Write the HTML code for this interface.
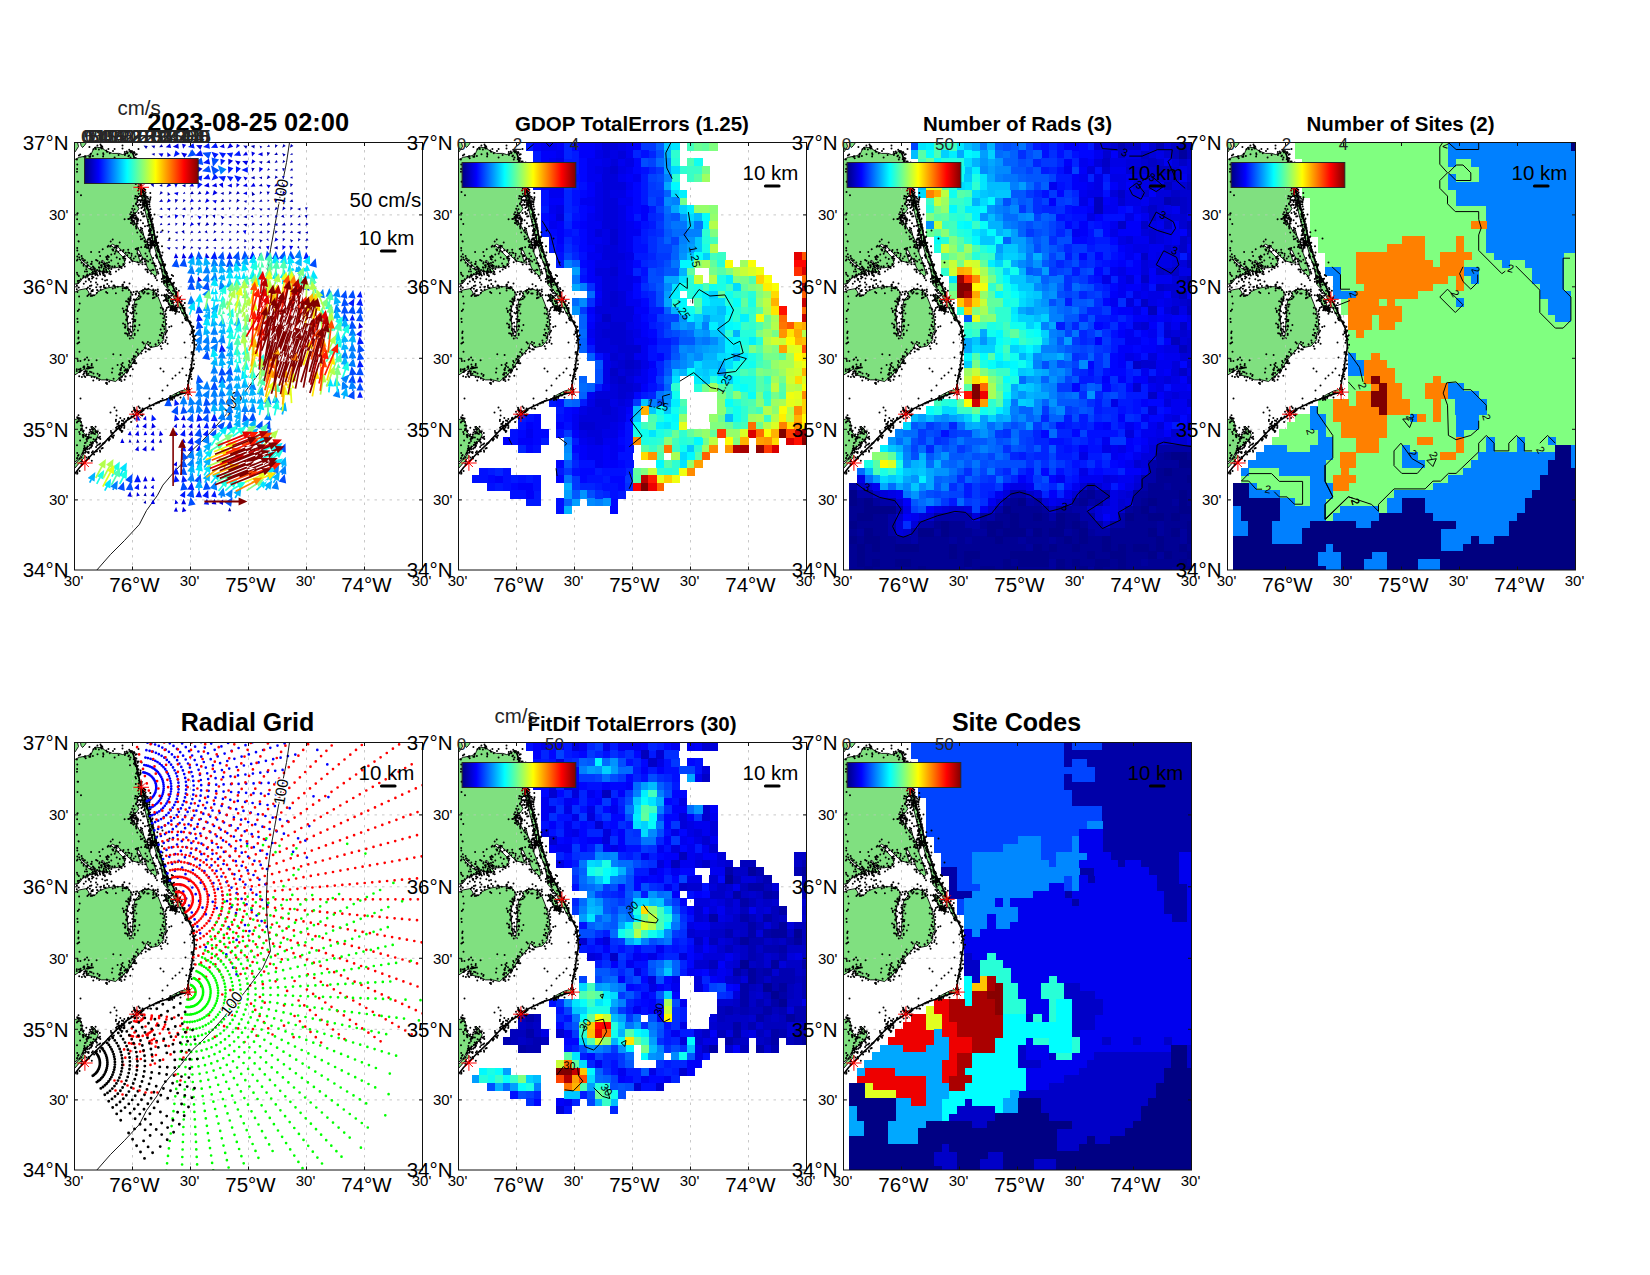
<!DOCTYPE html><html><head><meta charset="utf-8"><title>figure</title>
<style>html,body{margin:0;padding:0;background:#fff}svg{display:block}text{font-family:"Liberation Sans",sans-serif}</style></head><body>
<svg width="1650" height="1275" viewBox="0 0 1650 1275">
<defs>
<linearGradient id="jet" x1="0" x2="1" y1="0" y2="0"><stop offset="0.0000" stop-color="#000080"/><stop offset="0.0312" stop-color="#00009f"/><stop offset="0.0625" stop-color="#0000bf"/><stop offset="0.0938" stop-color="#0000df"/><stop offset="0.1250" stop-color="#0000ff"/><stop offset="0.1562" stop-color="#0020ff"/><stop offset="0.1875" stop-color="#0040ff"/><stop offset="0.2188" stop-color="#0060ff"/><stop offset="0.2500" stop-color="#0080ff"/><stop offset="0.2812" stop-color="#009fff"/><stop offset="0.3125" stop-color="#00bfff"/><stop offset="0.3438" stop-color="#00dfff"/><stop offset="0.3750" stop-color="#00ffff"/><stop offset="0.4062" stop-color="#20ffdf"/><stop offset="0.4375" stop-color="#40ffbf"/><stop offset="0.4688" stop-color="#60ff9f"/><stop offset="0.5000" stop-color="#80ff80"/><stop offset="0.5312" stop-color="#9fff60"/><stop offset="0.5625" stop-color="#bfff40"/><stop offset="0.5938" stop-color="#dfff20"/><stop offset="0.6250" stop-color="#ffff00"/><stop offset="0.6562" stop-color="#ffdf00"/><stop offset="0.6875" stop-color="#ffbf00"/><stop offset="0.7188" stop-color="#ff9f00"/><stop offset="0.7500" stop-color="#ff8000"/><stop offset="0.7812" stop-color="#ff6000"/><stop offset="0.8125" stop-color="#ff4000"/><stop offset="0.8438" stop-color="#ff2000"/><stop offset="0.8750" stop-color="#ff0000"/><stop offset="0.9062" stop-color="#df0000"/><stop offset="0.9375" stop-color="#bf0000"/><stop offset="0.9688" stop-color="#9f0000"/><stop offset="1.0000" stop-color="#800000"/></linearGradient>
<clipPath id="cp"><rect x="0" y="0" width="348.0" height="427.5"/></clipPath>
<clipPath id="cpl"><polygon points="0.0,17.2 4.9,14.8 12.8,13.3 16.7,11.7 19.0,6.2 21.4,4.6 27.0,5.4 31.7,8.5 38.0,10.9 44.3,10.9 48.2,12.1 53.7,9.7 57.3,8.1 59.2,13.2 63.2,29.0 66.2,44.8 66.0,52.0 63.0,56.0 62.0,62.0 64.5,66.0 62.0,70.0 58.0,72.0 57.0,77.0 60.0,80.0 63.0,84.0 66.0,90.0 67.9,87.5 69.5,93.8 72.6,100.1 74.2,105.6 75.8,111.1 78.2,117.4 80.5,124.5 82.5,131.6 81.3,134.0 75.8,129.3 72.6,124.5 71.1,119.0 67.1,113.5 64.8,108.0 62.4,107.2 63.2,111.1 64.8,116.7 68.7,119.8 66.3,120.6 58.5,118.6 52.2,113.5 47.4,108.0 42.7,104.0 38.0,101.7 36.4,102.9 41.1,106.4 44.3,110.4 49.0,115.1 50.6,121.4 48.2,123.7 41.1,125.3 34.0,125.3 28.5,117.8 27.0,118.2 31.7,124.5 35.6,128.5 32.5,130.4 23.0,128.5 15.9,124.5 7.2,117.4 4.5,116.7 7.2,119.0 14.3,126.1 20.6,127.7 23.0,130.4 15.1,132.4 8.8,134.8 4.9,140.3 0.0,141.9"/><polygon points="0.0,149.8 4.9,147.4 11.2,146.2 13.5,148.2 15.1,152.1 20.6,152.9 23.8,149.0 30.9,145.8 39.6,144.2 48.2,144.2 53.7,145.8 56.9,149.8 56.1,156.1 53.7,162.4 52.2,170.2 53.0,178.1 53.7,187.5 55.0,193.3 57.5,193.3 58.5,178.1 59.3,170.2 59.3,162.4 60.8,156.8 65.6,152.9 64.0,149.8 67.9,147.4 74.2,146.6 79.7,148.6 83.7,154.5 86.8,162.4 89.2,170.2 90.8,178.1 91.6,187.5 89.2,190.9 89.2,197.2 83.7,203.5 75.8,205.1 71.9,200.4 70.3,205.9 65.6,210.6 60.8,216.1 56.9,222.4 53.7,227.9 48.2,232.7 41.1,239.0 34.0,237.4 27.0,237.4 20.6,234.2 12.8,232.7 10.4,226.4 4.9,229.5 0.0,232.7"/></clipPath>
<g id="land">
<polygon points="0.0,17.2 4.9,14.8 12.8,13.3 16.7,11.7 19.0,6.2 21.4,4.6 27.0,5.4 31.7,8.5 38.0,10.9 44.3,10.9 48.2,12.1 53.7,9.7 57.3,8.1 59.2,13.2 63.2,29.0 66.2,44.8 66.0,52.0 63.0,56.0 62.0,62.0 64.5,66.0 62.0,70.0 58.0,72.0 57.0,77.0 60.0,80.0 63.0,84.0 66.0,90.0 67.9,87.5 69.5,93.8 72.6,100.1 74.2,105.6 75.8,111.1 78.2,117.4 80.5,124.5 82.5,131.6 81.3,134.0 75.8,129.3 72.6,124.5 71.1,119.0 67.1,113.5 64.8,108.0 62.4,107.2 63.2,111.1 64.8,116.7 68.7,119.8 66.3,120.6 58.5,118.6 52.2,113.5 47.4,108.0 42.7,104.0 38.0,101.7 36.4,102.9 41.1,106.4 44.3,110.4 49.0,115.1 50.6,121.4 48.2,123.7 41.1,125.3 34.0,125.3 28.5,117.8 27.0,118.2 31.7,124.5 35.6,128.5 32.5,130.4 23.0,128.5 15.9,124.5 7.2,117.4 4.5,116.7 7.2,119.0 14.3,126.1 20.6,127.7 23.0,130.4 15.1,132.4 8.8,134.8 4.9,140.3 0.0,141.9" fill="#80e080" stroke="#000" stroke-width="0.9" stroke-linejoin="round"/>
<polygon points="0.0,0.0 3.0,0.0 4.0,4.0 1.5,8.0 0.0,10.0" fill="#80e080" stroke="#000" stroke-width="0.9" stroke-linejoin="round"/>
<polygon points="6.0,0.0 12.0,0.0 10.0,3.0 8.0,5.0 6.5,3.0" fill="#80e080" stroke="#000" stroke-width="0.9" stroke-linejoin="round"/>
<polygon points="0.0,149.8 4.9,147.4 11.2,146.2 13.5,148.2 15.1,152.1 20.6,152.9 23.8,149.0 30.9,145.8 39.6,144.2 48.2,144.2 53.7,145.8 56.9,149.8 56.1,156.1 53.7,162.4 52.2,170.2 53.0,178.1 53.7,187.5 55.0,193.3 57.5,193.3 58.5,178.1 59.3,170.2 59.3,162.4 60.8,156.8 65.6,152.9 64.0,149.8 67.9,147.4 74.2,146.6 79.7,148.6 83.7,154.5 86.8,162.4 89.2,170.2 90.8,178.1 91.6,187.5 89.2,190.9 89.2,197.2 83.7,203.5 75.8,205.1 71.9,200.4 70.3,205.9 65.6,210.6 60.8,216.1 56.9,222.4 53.7,227.9 48.2,232.7 41.1,239.0 34.0,237.4 27.0,237.4 20.6,234.2 12.8,232.7 10.4,226.4 4.9,229.5 0.0,232.7" fill="#80e080" stroke="#000" stroke-width="0.9" stroke-linejoin="round"/>
<polygon points="0.0,277.2 4.9,275.6 7.2,281.1 8.0,289.0 12.8,294.5 18.3,289.0 17.5,283.5 21.4,287.4 23.8,292.2 20.6,298.5 15.1,303.2 9.6,307.9 4.9,315.8 0.0,319.8" fill="#80e080" stroke="#000" stroke-width="0.9" stroke-linejoin="round"/>
<polygon points="0.0,322.0 9.0,312.0 11.0,313.5 0.0,326.0" fill="#80e080" stroke="#000" stroke-width="0.9" stroke-linejoin="round"/>
<polygon points="89.2,152.9 93.9,152.9 97.9,156.8 99.4,163.2 101.8,170.2 96.3,166.3 93.9,160.8 91.6,156.1" fill="#80e080" stroke="#000" stroke-width="0.9" stroke-linejoin="round"/>
<polygon points="66.7,44.8 71.1,56.6 75.0,72.3 79.0,88.1 81.3,97.5 85.3,111.1 91.6,131.6 98.6,144.2 103.4,155.3 108.9,166.3 113.6,177.5 112.6,179.0 106.5,168.0 100.5,157.0 95.5,148.2 89.2,141.9 88.4,134.8 86.8,125.3 82.9,115.1 79.0,101.0 76.0,90.0 72.5,76.0 69.0,62.0 66.5,52.0" fill="#80e080" stroke="#000" stroke-width="0.9" stroke-linejoin="round"/>
<polygon points="113.6,242.9 114.8,249.6 107.3,251.2 99.4,253.9 91.6,257.1 99.0,252.0 106.0,248.5 111.5,247.0" fill="#80e080" stroke="#000" stroke-width="0.9" stroke-linejoin="round"/>
<polyline points="57.3,8.1 59.2,13.2 63.2,29.0 66.7,44.8 71.1,56.6 75.0,72.3 79.0,88.1 81.3,97.5 85.3,111.1 91.6,131.6 98.6,144.2 103.4,155.3 108.9,166.3 113.6,177.5 117.6,185.4 119.5,197.2 119.9,205.1 118.4,213.0 116.8,224.8 114.4,236.6 113.6,242.9 114.4,249.6 107.3,251.2 99.4,253.9 91.6,257.1 83.7,259.5 75.8,263.4 67.9,267.3 62.4,271.7 52.2,278.0 40.3,289.0 28.5,301.6 16.7,312.7 4.9,325.3 0.0,331.6" fill="none" stroke="#000" stroke-width="1.6"/>
<path d="M78.6 115.6h0M32.7 9.3h0M27.1 5.9h0M64.9 113.8h0M63.2 107.0h0M58.9 63.4h0M35.8 129.5h0M22.9 3.0h0M63.9 26.7h0M30.2 132.8h0M31.8 8.1h0M9.2 121.7h0M34.5 125.9h0M37.7 124.0h0M18.9 134.8h0M54.5 12.9h0M62.6 29.5h0M17.1 121.6h0M30.1 122.0h0M2.8 107.9h0M22.6 127.6h0M32.7 129.3h0M66.0 94.0h0M10.7 13.8h0M62.2 11.8h0M60.2 19.5h0M2.5 92.3h0M52.8 112.7h0M87.4 127.3h0M64.0 30.6h0M55.6 71.8h0M66.3 85.3h0M72.9 129.2h0M3.1 116.9h0M18.4 124.1h0M4.7 138.2h0M70.7 121.7h0M35.6 129.4h0M63.5 62.7h0M26.4 5.1h0M50.8 11.3h0M58.8 82.3h0M64.0 6.6h0M57.9 118.8h0M50.4 12.4h0M50.2 113.7h0M2.6 26.5h0M62.1 85.6h0M78.4 120.4h0M2.8 22.1h0M36.2 103.5h0M14.8 14.3h0M8.3 116.2h0M6.5 52.8h0M81.1 135.4h0M65.3 57.8h0M24.9 127.8h0M24.4 124.7h0M13.4 132.7h0M63.1 20.2h0M3.0 132.0h0M49.4 115.8h0M70.7 99.4h0M61.5 84.2h0M40.1 123.8h0M42.1 105.4h0M70.8 47.2h0M61.3 41.6h0M48.8 122.6h0M50.3 118.1h0M50.2 123.9h0M12.1 133.0h0M25.1 119.7h0M2.4 117.9h0M57.3 113.2h0M55.2 119.8h0M63.3 23.2h0M35.3 10.8h0M17.3 119.2h0M62.7 27.1h0M67.1 19.9h0M66.9 65.4h0M54.8 110.5h0M61.5 36.1h0M80.1 123.0h0M19.8 127.1h0M67.4 117.2h0M31.2 124.9h0M52.8 10.8h0M66.7 104.7h0M65.9 87.9h0M44.8 123.3h0M26.6 3.3h0M38.5 8.4h0M4.4 133.5h0M33.9 6.5h0M73.7 118.9h0M67.1 90.2h0M58.8 74.7h0M24.4 7.1h0M73.4 100.1h0M45.7 107.8h0M9.8 14.3h0M20.4 128.7h0M56.1 115.3h0M10.4 117.8h0M67.7 115.7h0M64.1 19.0h0M61.9 82.8h0M2.7 105.4h0M68.6 92.1h0M64.2 122.0h0M70.5 83.8h0M48.9 121.5h0M73.9 104.8h0M71.0 127.1h0M62.7 56.3h0M66.2 87.4h0M21.4 6.4h0M56.6 69.7h0M12.5 129.1h0M2.5 29.3h0M34.8 131.3h0M45.2 100.0h0M9.5 118.1h0M18.4 13.4h0M54.7 7.2h0M30.9 123.7h0M53.8 110.1h0M12.8 132.1h0M25.1 129.2h0M62.0 81.2h0M21.7 131.8h0M51.3 110.2h0M29.1 121.0h0M62.6 31.2h0M72.8 101.8h0M28.7 10.7h0M4.8 115.1h0M33.9 103.3h0M59.7 9.9h0M65.8 113.6h0M68.0 121.7h0M55.5 22.8h0M61.9 15.9h0M74.2 102.4h0M75.1 108.2h0M15.4 131.4h0M67.9 96.2h0M62.9 111.0h0M52.3 8.9h0M40.3 104.7h0M3.6 39.2h0M40.2 124.6h0M49.0 115.0h0M17.6 130.3h0M29.2 130.6h0M78.9 127.4h0M70.1 99.0h0M65.9 39.6h0M2.8 70.9h0M62.0 23.6h0M81.4 123.4h0M57.4 80.8h0M13.0 133.8h0M37.9 106.9h0M28.6 14.0h0M56.0 14.9h0M56.4 80.4h0M3.1 39.3h0M15.8 14.3h0M4.3 111.7h0M59.9 79.7h0M36.2 99.0h0M13.6 123.1h0M63.1 119.7h0M28.3 130.9h0M57.4 77.0h0M59.6 9.7h0M36.8 126.5h0M32.5 120.4h0M65.6 118.5h0M62.1 77.2h0M76.6 104.0h0M12.2 123.8h0M18.9 124.4h0M16.0 12.3h0M11.8 124.3h0M19.4 130.8h0M61.1 75.2h0M73.9 96.0h0M66.5 52.1h0M19.6 125.4h0M73.1 127.3h0M62.8 24.2h0M75.8 117.3h0M27.9 129.0h0M79.9 121.1h0M20.9 132.6h0M73.3 129.7h0M67.2 39.3h0M82.7 127.2h0M20.6 5.3h0M2.6 76.8h0M23.0 11.8h0M61.8 76.9h0M78.4 127.3h0M29.4 125.9h0M75.0 108.8h0M15.3 131.7h0M61.0 113.9h0M72.5 127.0h0M49.0 107.4h0M3.3 138.5h0M72.6 113.7h0M40.1 15.0h0M58.9 78.5h0M46.3 124.2h0M44.1 12.6h0M9.1 123.3h0M62.3 106.1h0M18.4 129.0h0M60.1 10.5h0M44.2 127.0h0M63.5 57.4h0M66.0 28.0h0M70.4 118.9h0M41.8 108.0h0M25.6 128.7h0M57.1 111.3h0M61.1 17.8h0M40.3 124.2h0M3.7 140.6h0M30.6 121.3h0M80.1 133.4h0M58.1 79.3h0M65.0 57.8h0M13.1 123.5h0M63.6 54.5h0M32.5 9.2h0M48.6 115.4h0M63.6 33.6h0M66.4 96.7h0M72.2 105.3h0M71.0 102.4h0M82.5 137.8h0M68.3 58.0h0M63.7 105.4h0M4.4 13.0h0M3.1 70.8h0M76.6 131.2h0M62.8 89.9h0M50.3 9.4h0M3.0 49.4h0M27.7 4.0h0M64.6 32.4h0M71.0 111.1h0M66.7 49.5h0M35.7 104.0h0M57.3 72.7h0M14.9 4.6h0M19.0 6.8h0M27.4 119.8h0M70.4 104.6h0M61.2 106.5h0M68.1 116.4h0M49.4 114.3h0M56.8 117.2h0M65.7 113.2h0M43.4 103.5h0M40.1 6.4h0M42.0 103.3h0M76.6 128.0h0M4.2 99.0h0M2.5 130.2h0M53.7 107.3h0M66.1 31.0h0M28.9 11.9h0M65.7 32.0h0M41.7 104.3h0M69.4 51.6h0M12.8 120.0h0M2.4 142.7h0M30.4 133.7h0M45.3 116.5h0M56.5 9.9h0M72.0 118.0h0M6.3 136.7h0M23.3 132.9h0M55.9 75.2h0M35.3 123.4h0M2.4 17.1h0M26.5 122.7h0M24.7 128.8h0M83.8 131.0h0M60.0 66.7h0M60.5 56.0h0M62.7 19.1h0M66.0 30.1h0M67.7 86.3h0M47.1 125.6h0M70.5 116.5h0M59.4 78.3h0M41.0 109.3h0M28.1 5.7h0M50.8 116.2h0M60.9 53.6h0M31.6 128.6h0M73.7 105.4h0M5.7 12.0h0M59.3 116.0h0M64.0 70.4h0M16.2 11.2h0M7.1 113.6h0M61.8 86.0h0M32.5 129.7h0M57.7 66.2h0M14.7 136.6h0M77.7 120.8h0M33.5 124.1h0M7.6 115.7h0M15.9 126.1h0M61.5 61.7h0M56.0 8.6h0M62.6 24.0h0M2.8 114.0h0M25.6 131.9h0M83.3 129.6h0M4.8 81.6h0M63.0 59.4h0M53.9 13.7h0M61.4 61.0h0M11.2 15.7h0M11.8 126.8h0M32.8 122.9h0M64.6 112.5h0M7.1 120.2h0M4.0 98.8h0M67.0 39.9h0M8.9 135.0h0M43.9 109.5h0M63.7 47.9h0M69.7 94.9h0M48.3 108.7h0M29.5 143.0h0M6.0 226.2h0M72.8 151.0h0M31.0 145.6h0M51.9 177.9h0M87.6 190.4h0M50.3 184.9h0M17.0 229.7h0M60.8 157.5h0M51.6 158.7h0M74.1 202.6h0M57.3 171.1h0M57.9 152.3h0M57.8 164.9h0M61.9 171.0h0M32.5 241.4h0M31.6 149.6h0M4.4 226.9h0M51.8 167.1h0M51.9 172.9h0M77.3 143.5h0M89.5 184.2h0M51.9 144.6h0M24.7 233.6h0M73.4 199.6h0M52.4 176.7h0M9.7 223.9h0M44.6 232.1h0M58.4 170.1h0M83.4 148.9h0M59.8 220.4h0M86.3 165.3h0M49.3 232.3h0M54.7 224.4h0M91.8 181.6h0M87.1 206.2h0M69.3 201.0h0M86.2 186.9h0M83.9 198.1h0M51.5 171.6h0M18.8 238.0h0M65.8 155.0h0M79.2 147.7h0M82.1 150.9h0M58.3 195.8h0M49.8 139.8h0M55.5 220.1h0M55.6 180.3h0M59.7 216.7h0M88.8 175.7h0M48.5 142.1h0M53.3 193.3h0M53.1 191.8h0M81.9 153.4h0M69.8 150.0h0M23.2 147.9h0M11.9 231.1h0M59.4 219.1h0M38.3 146.1h0M10.1 229.0h0M53.6 228.3h0M88.1 195.5h0M55.4 186.7h0M19.5 152.8h0M87.9 182.5h0M5.0 209.2h0M86.1 171.0h0M3.3 168.5h0M61.8 220.7h0M47.6 234.2h0M4.0 194.9h0M58.1 220.5h0M61.4 151.3h0M12.5 232.8h0M78.7 152.3h0M59.6 177.3h0M91.0 190.8h0M58.4 165.2h0M68.1 199.8h0M13.5 145.1h0M86.2 203.7h0M4.6 154.1h0M63.0 206.9h0M59.3 213.4h0M46.9 238.4h0M88.7 167.0h0M58.3 162.8h0M55.3 195.9h0M55.9 170.2h0M3.2 179.5h0M17.8 153.3h0M75.6 200.4h0M2.9 149.5h0M2.9 176.3h0M83.9 152.6h0M52.9 175.3h0M4.5 167.1h0M53.0 144.9h0M53.6 186.2h0M18.2 148.4h0M59.3 214.6h0M32.6 237.4h0M55.5 224.5h0M58.9 170.2h0M61.7 149.0h0M50.1 237.2h0M62.8 149.0h0M78.8 155.3h0M64.9 182.4h0M39.1 236.2h0M71.2 209.2h0M66.8 211.0h0M71.3 205.7h0M60.2 183.7h0M79.2 151.5h0M4.7 199.7h0M2.3 228.5h0M60.7 184.0h0M46.8 234.5h0M25.8 144.6h0M52.3 163.8h0M50.4 181.9h0M90.0 173.3h0M19.0 231.0h0M32.8 141.5h0M48.6 181.1h0M71.4 206.0h0M53.3 159.2h0M73.7 206.8h0M64.5 151.1h0M68.9 150.9h0M9.5 230.9h0M60.1 157.3h0M18.4 147.6h0M89.1 179.4h0M4.9 229.4h0M15.1 225.4h0M56.6 193.2h0M54.8 162.0h0M81.2 202.3h0M67.7 208.3h0M61.0 220.7h0M72.4 147.1h0M14.1 152.2h0M4.1 189.0h0M17.2 148.3h0M56.8 223.9h0M55.0 141.0h0M46.2 236.8h0M17.2 234.6h0M57.9 195.4h0M56.0 158.1h0M51.2 234.1h0M58.5 168.9h0M57.8 176.4h0M39.7 142.9h0M57.8 218.0h0M54.4 147.4h0M32.3 236.9h0M56.1 156.1h0M61.0 164.3h0M60.4 168.0h0M5.2 161.0h0M50.8 233.9h0M58.1 184.2h0M74.1 151.0h0M3.9 196.1h0M58.9 179.3h0M2.3 146.7h0M48.2 165.9h0M51.7 176.9h0M54.6 157.2h0M53.5 168.8h0M63.4 210.7h0M49.3 169.6h0M22.6 147.4h0M34.7 239.0h0M62.4 157.0h0M96.9 183.7h0M91.8 174.6h0M54.7 161.6h0M53.9 157.0h0M92.2 194.9h0M31.5 240.5h0M26.2 146.9h0M88.1 183.6h0M93.1 201.3h0M53.6 180.9h0M54.8 190.7h0M34.4 143.4h0M4.3 145.0h0M88.8 194.1h0M43.3 144.3h0M59.9 187.1h0M47.8 142.5h0M51.6 146.1h0M59.1 149.4h0M67.6 149.3h0M84.3 200.2h0M9.8 229.2h0M52.8 164.3h0M5.4 229.4h0M3.0 216.6h0M81.6 152.0h0M90.8 199.5h0M92.6 188.2h0M60.9 214.0h0M3.6 200.4h0M56.7 189.4h0M88.2 200.4h0M51.8 191.0h0M58.3 226.7h0M88.1 171.5h0M48.2 145.8h0M78.8 150.3h0M26.5 144.3h0M61.7 209.5h0M51.5 167.4h0M81.0 201.7h0M59.2 173.9h0M86.7 193.1h0M50.8 185.2h0M60.3 182.9h0M12.1 230.3h0M67.6 148.5h0M41.4 150.7h0M24.7 237.5h0M61.2 151.9h0M23.1 231.2h0M91.2 171.5h0M3.7 190.4h0M94.7 184.4h0M83.3 147.1h0M63.8 212.3h0M88.2 166.1h0M70.4 145.9h0M60.5 162.1h0M89.9 186.5h0M60.9 177.5h0M76.6 204.3h0M62.0 162.1h0M70.2 205.2h0M2.3 226.7h0M85.3 192.5h0M70.1 149.6h0M66.1 154.2h0M91.2 197.7h0M73.9 146.3h0M2.9 201.0h0M80.1 154.9h0M55.8 157.1h0M52.6 164.1h0M55.9 154.5h0M91.8 189.6h0M57.8 216.4h0M81.2 147.8h0M45.0 237.5h0M49.3 168.3h0M55.7 188.6h0M48.1 147.9h0M40.5 145.2h0M90.8 191.9h0M10.0 233.8h0M64.3 156.5h0M39.0 142.9h0M59.2 156.9h0M22.2 150.6h0M60.2 192.4h0M50.6 190.7h0M51.1 183.8h0M91.4 177.5h0M54.1 159.9h0M40.3 143.7h0M79.2 148.5h0M52.6 167.8h0M12.3 146.3h0M56.4 150.1h0M58.4 188.4h0M89.2 158.2h0M54.0 156.0h0M68.7 147.5h0M90.7 169.1h0M60.2 191.3h0M64.2 153.6h0M53.6 174.1h0M87.2 190.4h0M8.8 232.1h0M74.2 206.8h0M32.8 150.5h0M58.6 166.4h0M75.3 207.1h0M60.6 178.7h0M56.1 184.0h0M53.4 187.4h0M15.0 224.8h0M50.1 145.4h0M45.1 232.2h0M78.7 147.0h0M55.7 188.4h0M60.5 218.6h0M16.0 150.9h0M51.6 171.3h0M12.9 153.5h0M56.0 158.3h0M32.3 240.2h0M44.8 235.7h0M17.0 148.7h0M16.4 153.5h0M7.4 234.5h0M22.4 236.0h0M74.0 141.7h0M63.4 188.0h0M87.3 152.8h0M25.1 232.4h0M91.7 167.5h0M78.4 155.8h0M48.4 143.5h0M12.8 306.8h0M10.6 307.7h0M21.0 289.3h0M19.9 286.2h0M9.4 306.1h0M20.5 291.5h0M6.4 287.8h0M8.7 289.1h0M19.1 296.7h0M7.2 286.5h0M14.5 294.7h0M11.8 292.1h0M6.6 286.5h0M22.7 289.8h0M4.3 276.6h0M6.1 276.0h0M10.6 310.3h0M21.9 299.6h0M3.3 275.6h0M7.0 315.0h0M17.3 291.0h0M4.0 272.7h0M18.7 287.0h0M20.9 288.6h0M17.4 286.6h0M23.3 288.8h0M2.7 274.8h0M8.2 292.4h0M6.5 279.5h0M21.3 298.4h0M3.8 276.1h0M3.5 313.3h0M16.8 284.4h0M20.8 297.7h0M2.5 315.8h0M9.0 292.6h0M8.3 309.9h0M6.3 282.9h0M3.0 279.0h0M2.4 279.9h0M2.5 302.8h0M5.2 316.3h0M15.5 287.3h0M4.5 278.6h0M22.4 300.2h0M21.2 289.4h0M10.3 305.2h0M9.2 288.3h0M12.9 309.7h0M19.3 291.0h0M15.0 290.1h0M14.2 291.9h0M13.0 304.1h0M24.4 295.3h0M4.1 312.5h0M2.7 315.5h0M25.8 296.6h0M9.1 308.0h0M25.3 290.6h0M12.9 296.2h0M23.5 295.0h0M21.1 284.2h0M2.7 310.5h0M4.4 275.6h0M10.4 306.7h0M8.8 294.7h0M8.0 311.2h0M7.9 283.3h0M8.9 310.6h0M25.6 294.2h0M9.9 303.6h0M4.7 289.4h0M119.4 188.7h0M105.5 154.9h0M64.5 38.2h0M28.5 300.9h0M74.0 74.3h0M115.4 226.9h0M56.9 9.6h0M55.3 17.0h0M63.7 27.3h0M85.4 114.3h0M82.7 107.6h0M11.5 318.6h0M117.9 216.2h0M63.0 268.3h0M98.6 148.2h0M36.9 294.1h0M89.6 121.7h0M118.6 198.0h0M117.6 215.9h0M92.2 140.7h0M117.3 189.3h0M80.9 98.7h0M59.5 9.5h0M111.4 174.7h0M76.3 73.2h0M89.6 124.0h0M14.5 316.0h0M117.0 228.8h0M117.8 227.1h0M61.6 271.5h0M60.9 34.4h0M86.1 114.0h0M74.4 73.4h0M79.0 92.3h0M116.0 234.2h0M77.4 79.2h0M117.2 236.6h0M33.5 296.5h0M73.8 79.3h0M114.5 249.3h0M92.3 130.5h0M105.5 159.4h0M63.0 30.3h0M112.9 246.8h0M114.8 235.8h0M61.0 12.2h0M5.1 328.5h0M81.5 261.0h0M75.6 69.9h0M66.9 41.1h0M117.1 209.8h0M105.6 250.5h0M75.7 265.9h0M68.1 265.9h0M66.8 269.4h0M82.6 114.0h0M73.4 58.5h0M107.7 249.7h0M2.9 331.0h0M67.1 42.8h0M61.6 31.1h0M77.8 77.0h0M74.4 67.4h0M21.2 309.0h0M63.5 275.5h0M118.2 194.1h0M54.5 276.1h0M28.2 305.4h0M63.1 31.8h0M39.0 293.2h0M110.3 160.5h0M114.1 246.7h0M83.5 109.0h0M78.6 83.5h0M89.8 122.2h0M118.8 225.6h0M35.4 296.6h0M48.5 282.5h0M119.1 189.4h0M95.8 253.8h0M117.2 226.0h0M30.0 300.3h0M38.6 295.2h0M69.1 50.7h0M25.4 308.1h0M68.2 47.7h0M64.3 45.8h0M88.0 256.2h0M61.3 23.4h0M96.6 256.2h0M80.4 97.1h0M61.2 15.5h0M34.5 297.9h0M71.0 60.3h0M97.8 257.3h0M120.4 196.9h0M120.3 193.4h0M82.8 89.8h0M79.1 262.7h0M85.2 109.6h0M117.9 200.2h0M101.5 145.5h0M106.4 250.4h0M97.7 255.6h0M83.0 260.2h0M110.1 165.4h0M101.9 154.1h0M2.6 331.2h0M19.6 312.1h0M101.4 151.6h0M71.1 50.1h0M27.1 305.9h0M90.6 130.4h0M90.8 128.7h0M75.1 262.8h0M116.5 231.8h0M114.0 244.9h0M84.7 259.9h0M113.4 238.6h0M112.9 245.9h0M113.7 243.2h0M117.1 183.3h0M117.9 187.3h0M17.4 309.9h0M120.1 205.4h0M76.2 72.4h0M114.8 246.9h0M37.6 294.0h0M46.5 282.9h0M73.6 67.6h0M98.7 141.4h0M115.2 178.8h0M118.7 184.6h0M72.6 63.9h0M120.0 205.4h0M94.6 137.7h0M77.7 84.7h0M75.8 75.0h0M91.9 134.9h0M64.3 40.8h0M75.8 86.6h0M113.4 242.2h0M110.5 176.1h0M86.4 122.3h0M51.4 279.2h0M117.4 226.1h0M6.8 321.3h0M103.3 253.0h0M69.1 267.4h0M121.2 192.7h0M58.9 16.8h0M116.4 179.9h0M118.9 184.2h0M115.7 192.0h0M101.7 251.4h0M61.0 21.7h0M66.2 268.0h0M82.7 94.0h0M69.8 48.5h0M119.6 221.8h0M86.2 258.6h0M92.4 257.1h0M71.9 65.3h0M59.4 10.3h0M84.1 109.6h0M36.7 290.3h0M110.1 166.5h0M37.3 290.3h0M84.1 107.0h0M117.7 211.4h0M117.2 190.6h0M56.6 279.4h0M119.1 218.1h0M117.5 209.8h0M91.2 134.5h0M87.2 116.8h0M111.8 232.8h0M113.0 174.7h0M110.5 170.6h0M39.4 293.0h0M78.0 76.0h0M53.4 275.8h0M99.8 254.7h0M46.5 288.1h0M79.4 87.7h0M62.9 271.9h0M106.0 255.1h0M96.4 255.7h0M95.4 257.5h0M88.4 122.5h0M90.2 129.6h0M22.4 308.8h0M74.8 61.8h0M105.2 156.2h0M113.5 251.9h0M64.0 44.6h0M109.9 168.8h0M49.8 285.2h0M2.8 329.7h0M86.3 121.5h0M119.7 194.0h0M119.7 188.0h0M119.4 212.1h0M88.0 109.9h0M81.1 94.9h0M116.3 234.1h0M14.2 314.6h0M92.4 135.4h0M76.6 266.2h0M90.5 123.0h0M64.0 43.9h0M114.7 233.2h0M121.6 202.2h0M70.2 57.7h0M100.5 148.9h0M76.5 72.4h0M44.4 285.1h0M75.9 66.8h0M67.7 52.9h0M68.8 53.2h0M117.5 209.5h0M77.0 84.3h0M71.3 59.8h0M119.6 196.2h0M12.0 314.9h0M116.6 222.2h0M73.3 266.0h0M59.4 21.0h0M88.5 119.3h0M116.7 228.6h0M61.3 271.8h0M79.0 99.5h0M60.1 22.1h0M49.6 281.4h0M115.6 181.0h0M14.2 314.7h0M66.1 44.5h0M99.6 255.4h0M72.7 62.7h0M98.6 133.5h0M57.0 274.1h0M65.2 269.8h0M115.1 251.3h0M42.3 286.6h0M83.7 260.1h0M7.5 318.9h0M73.6 56.2h0M25.7 301.1h0M53.8 275.2h0M48.8 278.6h0M90.7 121.9h0M17.3 318.3h0M60.2 276.1h0M81.7 98.6h0M78.2 98.9h0M95.9 253.6h0M62.1 269.9h0M69.5 59.9h0M72.5 66.3h0M92.7 136.3h0M81.2 102.7h0M70.4 51.0h0M103.6 157.4h0M94.8 138.2h0M74.7 87.5h0M73.9 71.2h0M106.5 162.1h0M76.3 77.6h0M77.7 95.4h0M67.0 57.6h0M70.0 73.7h0M98.2 152.0h0M112.4 176.7h0M77.6 93.8h0M68.4 48.1h0M109.9 166.6h0M98.4 142.2h0M72.9 83.3h0M71.5 63.5h0M72.2 64.4h0M66.3 58.4h0M91.9 147.2h0M89.9 133.8h0M99.0 143.9h0M75.5 89.3h0M108.7 162.7h0M84.9 119.8h0M95.5 137.1h0M73.5 76.9h0M103.1 159.6h0M82.2 114.3h0M81.3 112.9h0M107.3 158.6h0M77.9 98.0h0M66.8 53.1h0M89.5 123.1h0M77.3 92.2h0M74.7 83.1h0M79.3 88.7h0M92.6 131.3h0M104.4 148.2h0M79.8 99.9h0M81.2 100.8h0M75.5 76.1h0M102.1 149.4h0M83.8 100.3h0M74.4 88.4h0M93.1 133.7h0M109.1 171.0h0M82.3 115.2h0M69.3 67.8h0M93.4 148.8h0M71.7 54.2h0M98.2 141.0h0M87.3 112.9h0M81.8 112.1h0M79.3 99.4h0M92.7 142.9h0M87.9 128.9h0M68.8 60.3h0M102.3 150.3h0M82.3 94.8h0M107.8 170.4h0M77.1 82.1h0M101.3 156.9h0M87.3 136.6h0M101.7 162.8h0M80.3 103.2h0M88.6 134.5h0M73.8 71.9h0M75.5 92.4h0M76.5 78.7h0M96.6 150.8h0M98.5 151.5h0M83.2 104.4h0M91.1 134.5h0M97.7 142.4h0M75.9 90.1h0M94.5 147.4h0M70.4 61.5h0M81.1 99.4h0M76.1 77.3h0M94.2 139.7h0M83.8 104.1h0M76.6 88.0h0M69.8 52.7h0M111.2 177.6h0M93.3 144.3h0M100.7 153.4h0M87.5 103.7h0M79.9 99.2h0M68.1 49.5h0M75.2 82.3h0M85.6 126.1h0M80.3 98.0h0M81.4 96.7h0M108.3 165.7h0M81.6 101.1h0M89.7 127.4h0M70.5 58.3h0M86.8 123.1h0M69.6 46.5h0M93.4 147.7h0M76.3 86.6h0M91.8 129.5h0M99.5 140.2h0M110.1 168.2h0M79.1 85.6h0M68.9 46.1h0M112.2 172.7h0M74.0 74.0h0M82.8 103.0h0M70.2 66.9h0M64.3 51.3h0M101.9 146.7h0M78.4 81.8h0M100.4 157.2h0M93.6 158.2h0M92.3 151.9h0M91.7 154.4h0M90.5 157.4h0M97.5 158.9h0M100.9 165.0h0M95.1 155.0h0M98.3 167.2h0M102.3 167.3h0M90.5 153.1h0M96.1 165.3h0M96.6 165.6h0M96.6 153.3h0M92.4 156.4h0M96.3 158.4h0M92.1 158.4h0M93.7 154.7h0M94.2 160.8h0M98.9 157.3h0M97.8 165.5h0M91.4 156.6h0M90.1 152.3h0M89.8 153.1h0M94.5 161.7h0M94.6 150.6h0M93.9 156.0h0M101.2 168.1h0M96.4 166.5h0M94.2 153.4h0M98.5 160.0h0M70.0 59.2h0M73.1 54.4h0M68.3 60.5h0M68.6 58.1h0M68.5 60.7h0M74.4 59.4h0M69.1 61.2h0M69.2 53.2h0M70.9 58.7h0M68.0 62.2h0M70.2 58.0h0M62.4 54.0h0M70.0 59.6h0M71.5 60.8h0M68.3 55.6h0M66.2 59.5h0M66.0 62.6h0M65.4 53.7h0M69.3 53.8h0M75.7 56.5h0M69.8 59.1h0M67.1 53.8h0M63.5 63.0h0M73.6 67.6h0M64.9 62.0h0M70.0 63.0h0M68.2 62.5h0M73.1 62.1h0M75.1 59.4h0M75.4 57.5h0M75.8 50.4h0M70.0 57.2h0M70.0 63.6h0M72.5 60.3h0M76.0 54.8h0M67.2 65.3h0M71.1 52.7h0M71.2 55.9h0M75.2 64.0h0M68.1 64.5h0M74.5 102.8h0M78.7 99.6h0M72.7 99.2h0M70.1 98.3h0M71.4 103.6h0M74.1 92.7h0M78.8 101.1h0M75.5 106.4h0M79.3 100.2h0M75.1 91.1h0M78.4 102.9h0M75.2 95.8h0M76.9 95.0h0M77.0 102.3h0M81.5 100.8h0M77.6 102.2h0M81.2 99.0h0M73.3 97.6h0M73.2 97.3h0M76.6 101.0h0M77.5 100.2h0M75.9 101.3h0M79.7 102.3h0M81.5 99.1h0M76.2 105.1h0M77.6 101.2h0M76.0 102.9h0M75.8 97.0h0M76.8 98.7h0M79.5 98.9h0M77.4 99.3h0M78.0 98.1h0M80.3 95.7h0M75.8 97.9h0M78.9 100.1h0M78.5 99.0h0M74.8 96.6h0M76.0 98.4h0M77.8 101.1h0M79.9 99.7h0M74.8 96.8h0M77.2 101.1h0M82.8 100.5h0M82.3 105.6h0M73.9 103.6h0M80.4 104.0h0M77.0 102.9h0M75.6 99.8h0M77.1 105.3h0M76.4 102.9h0M92.2 135.9h0M92.7 140.0h0M89.9 139.9h0M89.9 135.4h0M92.7 137.3h0M89.1 133.1h0M92.1 138.7h0M90.6 138.6h0M87.4 139.2h0M93.2 138.8h0M90.2 138.2h0M92.4 141.2h0M92.8 138.8h0M89.8 140.6h0M95.5 136.5h0M93.9 138.9h0M91.9 134.1h0M97.3 132.4h0M92.9 136.9h0M95.4 136.7h0M92.1 139.8h0M93.4 136.4h0M94.0 139.2h0M95.0 136.5h0M91.9 136.8h0M89.5 138.8h0M93.2 142.3h0M91.0 139.2h0M95.4 137.7h0M92.2 138.4h0M89.9 135.0h0M95.3 138.5h0M91.8 134.3h0M92.4 141.5h0M88.6 135.3h0M95.3 142.3h0M96.6 136.3h0M93.8 135.8h0M93.6 136.9h0M92.6 142.0h0M100.8 164.4h0M100.1 165.7h0M98.7 165.5h0M101.5 168.9h0M94.9 162.0h0M96.9 167.2h0M106.1 165.5h0M100.3 167.8h0M93.9 164.6h0M92.3 165.4h0M98.7 163.8h0M100.8 163.5h0M102.8 165.0h0M100.9 171.3h0M98.9 167.3h0M97.9 168.1h0M102.4 165.3h0M102.5 169.0h0M103.4 165.0h0M99.9 167.7h0M96.4 163.5h0M101.2 166.4h0M104.6 169.4h0M100.8 166.1h0M96.7 164.5h0M100.6 164.4h0M100.1 166.5h0M97.6 163.6h0M95.6 167.8h0M97.4 160.8h0M64.3 269.4h0M64.9 268.9h0M68.3 272.1h0M62.4 270.3h0M61.4 272.4h0M67.9 268.7h0M58.8 271.8h0M65.2 265.6h0M59.9 267.0h0M63.7 271.5h0M59.8 266.7h0M64.0 263.9h0M63.9 269.5h0M67.7 272.9h0M60.3 269.2h0M61.2 267.8h0M62.2 272.9h0M57.5 269.3h0M66.4 272.2h0M59.6 267.6h0M59.5 265.3h0M65.4 270.2h0M59.9 265.8h0M60.9 268.5h0M67.1 268.6h0M45.5 287.2h0M47.6 282.3h0M36.4 288.5h0M47.4 281.3h0M44.7 279.2h0M41.5 277.2h0M47.0 285.0h0M45.7 286.1h0M47.1 283.5h0M41.5 285.3h0M49.7 285.5h0M49.9 281.1h0M41.2 287.9h0M42.7 284.0h0M44.3 283.1h0M43.9 280.9h0M38.0 290.5h0M45.8 275.4h0M41.4 278.6h0M42.1 273.0h0M47.3 289.4h0M44.0 285.9h0M47.4 278.1h0M49.8 276.4h0M42.7 281.6h0M49.9 283.5h0M44.5 279.8h0M45.4 283.2h0M47.9 288.5h0M47.9 283.1h0M14.1 309.4h0M16.2 299.9h0M25.6 309.2h0M18.3 299.4h0M11.3 306.3h0M12.3 305.6h0M10.4 300.6h0M17.4 300.9h0M16.4 302.2h0M8.4 293.5h0M14.1 310.6h0M14.3 294.6h0M11.1 300.2h0M21.9 296.7h0M18.3 301.1h0M12.9 294.5h0M14.1 295.8h0M18.2 289.7h0M21.6 304.4h0M18.4 308.8h0M18.5 290.0h0M15.3 302.6h0M11.0 293.4h0M17.5 303.0h0M12.5 298.6h0M12.0 296.7h0M14.7 306.3h0M5.6 298.0h0M24.5 301.9h0M15.9 304.9h0M9.1 292.9h0M5.3 291.5h0M16.5 305.0h0M12.6 296.0h0M17.4 303.6h0M16.5 288.9h0M11.8 285.2h0M16.4 295.0h0M11.2 308.8h0M22.7 302.8h0M61.1 75.7h0M57.7 74.8h0M67.4 71.6h0M57.4 75.6h0M63.5 78.2h0M56.2 74.5h0M59.0 70.2h0M60.3 73.1h0M63.6 76.7h0M57.0 75.3h0M58.6 72.5h0M58.1 79.1h0M58.4 68.3h0M57.0 78.1h0M68.4 70.9h0M58.6 73.7h0M54.5 76.6h0M59.8 76.1h0M68.7 74.0h0M63.1 78.2h0M57.5 72.7h0M66.1 77.8h0M60.6 70.7h0M63.4 77.1h0M68.5 80.7h0M63.1 76.0h0M60.2 72.9h0M61.2 76.0h0M62.5 79.2h0M61.2 72.9h0M63.1 81.0h0M56.8 76.6h0M62.1 77.1h0M62.0 74.6h0M59.6 81.6h0M66.7 69.6h0M50.1 76.7h0M57.4 73.0h0M53.8 76.4h0M59.8 72.9h0M37.0 138.9h0M41.5 129.1h0M26.8 125.1h0M29.7 129.0h0M34.5 119.7h0M34.3 114.4h0M36.2 131.7h0M27.2 124.3h0M17.1 127.3h0M36.8 112.1h0M43.6 120.9h0M16.6 109.4h0M36.8 117.9h0M38.6 108.0h0M29.2 127.6h0M24.7 125.3h0M27.2 122.7h0M32.5 137.4h0M20.4 126.1h0M40.2 111.3h0M30.6 138.0h0M38.2 96.9h0M28.2 106.7h0M32.4 114.4h0M25.6 113.5h0M32.3 116.4h0M23.0 118.2h0M33.2 113.3h0M38.6 107.1h0M33.2 117.0h0M42.2 115.0h0M24.8 109.6h0M45.4 124.8h0M21.6 117.4h0M22.6 131.8h0M33.2 104.2h0M31.6 127.1h0M30.0 123.7h0M29.1 121.6h0M31.7 114.5h0M22.0 136.0h0M19.8 131.0h0M14.1 136.4h0M24.8 120.9h0M16.9 142.9h0M25.3 130.8h0M27.9 129.2h0M15.4 146.3h0M17.5 133.7h0M10.4 129.1h0M13.1 134.2h0M9.3 141.2h0M17.9 131.5h0M16.3 139.3h0M28.9 132.6h0M29.4 144.4h0M27.8 136.7h0M11.3 138.9h0M17.6 136.1h0M9.0 133.4h0M21.4 129.5h0M21.7 144.8h0M21.3 131.0h0M33.9 122.4h0M14.6 137.4h0M16.5 121.6h0M21.5 139.9h0M15.4 143.6h0M22.9 142.0h0M11.1 135.0h0M19.8 234.8h0M18.4 225.0h0M12.9 221.9h0M17.3 221.6h0M12.6 214.9h0M4.7 233.7h0M12.3 226.0h0M22.1 217.7h0M9.4 224.0h0M5.9 218.4h0M6.0 228.1h0M11.8 229.0h0M6.7 227.9h0M9.8 225.4h0M16.6 225.2h0M10.3 216.9h0M12.3 228.8h0M8.9 224.7h0M3.4 218.5h0M14.0 231.3h0M10.5 216.8h0M10.1 217.3h0M10.7 234.4h0M13.5 224.3h0M17.1 223.1h0M13.6 226.0h0M14.2 217.8h0M15.5 229.3h0M38.8 211.7h0M45.6 232.3h0M50.1 228.3h0M52.7 229.4h0M46.9 222.1h0M51.8 228.0h0M52.8 226.7h0M47.6 230.4h0M52.3 230.2h0M37.5 230.0h0M38.0 226.0h0M46.7 225.6h0M47.7 223.5h0M50.9 226.7h0M46.1 212.5h0M46.2 227.7h0M45.8 227.1h0M48.2 220.4h0M55.8 233.2h0M49.5 224.8h0M54.7 218.5h0M45.7 230.6h0M54.4 222.6h0M46.2 226.7h0M43.1 222.5h0M98.0 236.0h0M101.0 233.0h0M105.0 230.0h0M108.0 226.0h0M93.0 243.0h0M88.0 248.0h0M86.0 226.0h0M89.0 229.0h0M75.0 256.0h0M110.0 200.0h0M108.0 180.0h0M111.0 215.0h0M40.0 265.0h0M42.0 268.0h0M36.0 270.0h0M6.0 256.0h0M101.0 120.0h0M95.0 96.0h0M88.0 88.0h0M80.0 72.0h0M26.0 2.0h0M48.0 3.0h0M48.0 6.0h0" stroke="#000" stroke-width="2" stroke-linecap="round" fill="none"/>
</g>
<g id="sites" stroke="#f00" stroke-width="1" fill="none">
<path d="M58.9 44.8L74.5 44.8M62.7 40.8L70.7 48.8M66.7 37.0L66.7 52.6M70.7 40.8L62.7 48.8"/>
<path d="M95.6 156.8L111.2 156.8M99.4 152.8L107.4 160.8M103.4 149.0L103.4 164.6M107.4 152.8L99.4 160.8"/>
<path d="M105.8 249.6L121.4 249.6M109.6 245.6L117.6 253.6M113.6 241.8L113.6 257.4M117.6 245.6L109.6 253.6"/>
<path d="M54.6 271.7L70.2 271.7M58.4 267.7L66.4 275.7M62.4 263.9L62.4 279.5M66.4 267.7L58.4 275.7"/>
<path d="M2.6 320.5L18.2 320.5M6.4 316.5L14.4 324.5M10.4 312.7L10.4 328.3M14.4 316.5L6.4 324.5"/>
</g>
<g id="gridl" stroke="#c8c8c8" stroke-width="1" stroke-dasharray="2.5,5" fill="none">
<line x1="58.0" y1="0" x2="58.0" y2="427.5"/>
<line x1="116.0" y1="0" x2="116.0" y2="427.5"/>
<line x1="174.0" y1="0" x2="174.0" y2="427.5"/>
<line x1="232.0" y1="0" x2="232.0" y2="427.5"/>
<line x1="290.0" y1="0" x2="290.0" y2="427.5"/>
<line x1="0" y1="72.4" x2="348.0" y2="72.4"/>
<line x1="0" y1="144.3" x2="348.0" y2="144.3"/>
<line x1="0" y1="215.8" x2="348.0" y2="215.8"/>
<line x1="0" y1="286.8" x2="348.0" y2="286.8"/>
<line x1="0" y1="357.4" x2="348.0" y2="357.4"/>
</g>
<g id="frame" stroke="#111" stroke-width="1" fill="none">
<rect x="0" y="0" width="348.0" height="427.5"/>
<path d="M58.0 427.5v-3.5M58.0 0v3.5M116.0 427.5v-3.5M116.0 0v3.5M174.0 427.5v-3.5M174.0 0v3.5M232.0 427.5v-3.5M232.0 0v3.5M290.0 427.5v-3.5M290.0 0v3.5M0 72.4h3.5M348.0 72.4h-3.5M0 144.3h3.5M348.0 144.3h-3.5M0 215.8h3.5M348.0 215.8h-3.5M0 286.8h3.5M348.0 286.8h-3.5M0 357.4h3.5M348.0 357.4h-3.5"/>
</g>
<g id="axl" fill="#000">
<text x="-6" y="7.2" text-anchor="end" font-size="20.5">37°N</text>
<text x="-6" y="151.5" text-anchor="end" font-size="20.5">36°N</text>
<text x="-6" y="294.0" text-anchor="end" font-size="20.5">35°N</text>
<text x="-6" y="434.8" text-anchor="end" font-size="20.5">34°N</text>
<text x="-6" y="77.7" text-anchor="end" font-size="15">30'</text>
<text x="-6" y="221.1" text-anchor="end" font-size="15">30'</text>
<text x="-6" y="362.7" text-anchor="end" font-size="15">30'</text>
<text x="60.0" y="449.0" text-anchor="middle" font-size="20.5">76°W</text>
<text x="176.0" y="449.0" text-anchor="middle" font-size="20.5">75°W</text>
<text x="292.0" y="449.0" text-anchor="middle" font-size="20.5">74°W</text>
<text x="-1.0" y="443.5" text-anchor="middle" font-size="15">30'</text>
<text x="115.0" y="443.5" text-anchor="middle" font-size="15">30'</text>
<text x="231.0" y="443.5" text-anchor="middle" font-size="15">30'</text>
<text x="347.0" y="443.5" text-anchor="middle" font-size="15">30'</text>
</g>
</defs>
<rect width="1650" height="1275" fill="#fff"/>
<g transform="translate(74.5,142.5)">
<use href="#axl"/>
<g clip-path="url(#cp)">
<use href="#gridl"/>

<use href="#land"/>
<use href="#gridl" clip-path="url(#cpl)" opacity="0.55"/>
<polyline points="215.0,0.0 212.0,20.0 208.0,40.0 204.5,60.3 200.0,85.0 196.0,107.0 193.0,130.0 191.8,157.7 193.0,185.0 196.0,208.6 188.0,226.0 179.0,238.0 170.0,250.0 162.0,259.4 150.0,274.0 136.8,289.0 127.0,299.0 118.4,307.0 112.8,314.0 106.5,322.1 97.1,332.4 88.4,342.6 82.9,352.9 72.0,368.0 64.8,382.0 50.0,398.0 36.0,412.0 22.4,427.5" fill="none" stroke="#000" stroke-width="0.9"/><text x="207.7" y="49.6" font-size="15.5" text-anchor="middle" fill="#000" stroke="#fff" stroke-width="2.5" paint-order="stroke" transform="rotate(-80 207.7 49.6)" dy="4">100</text><text x="158.0" y="262.0" font-size="15.5" text-anchor="middle" fill="#000" stroke="#fff" stroke-width="2.5" paint-order="stroke" transform="rotate(-52 158.0 262.0)" dy="4">100</text><path fill="#0000b2" d="M109.2 98.5L108.1 96.5L109.9 96.3zM115.9 74.7L117.8 72.8L118.5 74.8zM108.3 51.4L109.9 49.3L110.9 51.1zM185.0 74.9L186.4 72.6L187.6 74.4zM115.9 98.2L117.6 96.1L118.6 98.0zM193.2 59.7L193.0 57.0L195.0 57.7zM147.2 98.7L146.8 96.0L148.9 96.5zM93.4 90.9L93.3 88.1L95.4 89.0zM100.4 97.7L103.0 96.6L102.9 98.8zM208.0 43.8L209.2 41.3L210.7 42.9zM155.0 67.6L154.2 64.9L156.4 65.2zM177.4 90.7L178.5 88.1L180.0 89.7zM215.4 12.0L217.8 10.4L218.2 12.6zM70.9 297.1L71.8 299.9L69.5 299.6zM85.2 82.8L86.7 80.3L88.0 82.2zM138.7 105.3L141.5 104.6L141.2 106.8zM194.2 98.7L191.7 97.1L193.6 95.8zM154.4 90.8L155.2 88.0L157.0 89.5zM162.1 98.6L162.9 95.8L164.7 97.2zM215.4 35.5L217.8 33.8L218.3 36.1zM185.0 3.1L187.8 4.2L186.1 5.9zM161.7 81.9L164.6 81.3L164.1 83.6zM85.2 90.7L86.5 88.0L88.1 89.8zM179.1 75.1L176.2 74.2L177.8 72.4zM146.4 90.5L148.4 88.1L149.4 90.3zM161.7 73.9L164.7 73.8L163.8 76.0zM146.3 105.7L148.9 104.1L149.2 106.5zM192.4 4.5L194.4 2.1L195.5 4.3zM130.9 97.9L133.5 96.2L133.9 98.7zM224.8 106.6L222.4 104.6L224.5 103.5zM192.6 28.3L193.8 25.5L195.5 27.2zM153.9 74.5L156.6 72.9L156.9 75.4zM100.6 67.5L101.6 64.5L103.4 66.1zM92.7 98.2L94.7 95.9L95.8 98.2zM115.8 106.3L117.2 103.5L118.8 105.4zM100.2 105.1L103.3 104.7L102.7 107.1zM223.1 75.0L224.9 72.4L226.2 74.5zM199.9 27.4L202.8 26.2L202.8 28.7zM170.6 106.8L169.1 104.0L171.6 103.8zM230.6 89.9L233.5 88.7L233.4 91.2zM184.5 82.0L187.6 81.1L187.3 83.6zM101.0 83.4L100.9 80.2L103.2 81.1zM154.3 59.7L155.3 56.7L157.2 58.4zM193.7 75.6L192.1 72.9L194.6 72.6zM161.6 106.0L163.9 103.7L164.8 106.1zM92.6 82.7L94.7 80.3L95.8 82.5zM84.8 43.2L87.6 41.6L87.9 44.2zM176.8 58.6L179.9 57.5L179.7 60.1zM200.1 20.4L201.8 17.6L203.3 19.8zM100.2 89.6L103.4 89.0L102.8 91.5zM84.8 66.8L87.4 64.9L88.0 67.4zM216.2 75.6L215.7 72.4L218.2 73.1zM192.1 66.6L195.1 65.2L195.2 67.8zM222.8 82.4L225.6 80.6L226.0 83.1zM147.0 83.4L146.9 80.1L149.3 81.1zM185.2 52.1L185.5 48.8L187.8 50.1zM115.7 90.7L117.4 87.9L118.9 90.1zM184.5 35.1L187.6 34.1L187.4 36.7zM215.2 27.9L217.6 25.6L218.5 28.1zM215.3 90.6L217.4 88.0L218.6 90.3zM169.1 58.4L172.4 57.8L171.8 60.4zM153.8 81.7L157.2 81.4L156.3 83.9zM108.3 59.9L109.0 56.6L111.2 58.1zM208.0 20.8L208.7 17.5L210.9 19.0zM215.3 20.4L217.2 17.6L218.7 19.8zM230.7 98.6L232.4 95.6L234.0 97.7zM123.3 90.7L125.1 87.9L126.6 90.0zM77.0 11.6L80.3 10.6L80.0 13.3zM133.1 91.0L130.0 89.5L132.2 87.8zM200.3 75.5L201.1 72.2L203.3 73.7zM186.8 106.5L183.7 105.2L185.7 103.3zM169.7 67.7L170.3 64.4L172.6 65.9zM223.5 99.0L223.8 95.6L226.2 96.9zM123.0 98.0L125.9 96.0L126.4 98.7zM178.0 99.2L177.0 95.9L179.7 96.2zM222.7 66.4L226.0 65.3L225.8 68.0zM199.8 51.5L202.2 49.0L203.3 51.5zM208.9 36.8L207.4 33.7L210.1 33.5zM215.6 83.3L216.5 79.9L218.7 81.7zM208.6 28.9L207.8 25.5L210.5 26.0zM215.0 50.8L218.3 49.6L218.1 52.4zM184.5 59.4L186.7 56.7L188.0 59.1zM154.1 98.8L155.3 95.5L157.3 97.4zM231.9 68.0L230.4 64.9L233.2 64.8zM200.6 60.1L200.6 56.6L203.2 57.7zM200.3 91.2L201.0 87.7L203.3 89.3zM123.2 59.5L125.3 56.7L126.7 59.1zM231.0 83.4L231.6 79.9L234.0 81.5zM138.9 91.1L139.7 87.7L142.0 89.3zM161.8 91.0L162.9 87.7L165.0 89.6zM146.0 50.8L149.3 49.6L149.1 52.5zM123.6 67.7L124.4 64.3L126.7 66.0zM208.3 99.1L208.2 95.6L210.8 96.6zM92.4 74.8L95.0 72.4L95.9 75.1zM215.5 96.5L218.7 98.1L216.6 99.9zM184.5 65.8L188.1 66.2L186.6 68.6zM184.4 90.5L187.0 88.0L188.0 90.7zM192.9 91.3L192.9 87.8L195.5 88.9zM199.6 82.2L202.9 80.6L203.0 83.5zM199.7 12.4L202.2 9.8L203.3 12.4zM76.9 19.4L80.4 18.4L80.0 21.2zM207.4 59.4L209.8 56.7L211.1 59.3zM71.2 357.7L71.7 361.3L68.9 360.6zM115.7 67.6L117.1 64.3L119.1 66.4zM131.0 106.5L132.5 103.2L134.4 105.4zM232.2 75.9L230.1 72.9L232.9 72.3zM109.3 75.9L107.5 72.8L110.4 72.4zM153.7 106.0L156.4 103.6L157.3 106.3zM170.0 96.2L172.4 98.9L169.7 99.8zM162.0 67.9L162.6 64.3L165.0 65.8zM145.9 66.8L149.0 64.8L149.5 67.6zM200.1 67.7L201.4 64.3L203.5 66.3zM184.8 96.5L188.1 98.0L185.9 100.0zM231.5 107.1L230.8 103.5L233.7 104.1zM177.0 67.6L178.5 64.3L180.5 66.4zM215.8 68.0L216.0 64.3L218.6 65.6zM92.2 66.3L95.8 65.3L95.4 68.2zM177.1 83.3L178.2 79.8L180.5 81.8zM138.2 66.5L141.6 65.1L141.6 68.0zM207.7 10.6L211.2 12.0L209.0 14.1zM131.6 75.9L131.4 72.1L134.2 73.2zM123.0 104.7L126.8 105.0L125.3 107.6zM200.5 5.4L200.6 1.7L203.3 2.9zM55.4 296.6L57.0 300.0L54.0 300.1zM154.1 52.2L155.1 48.6L157.5 50.5zM207.9 91.3L208.6 87.6L211.1 89.3zM200.2 36.6L201.0 32.9L203.5 34.7zM216.1 44.7L215.6 40.9L218.5 41.8zM210.0 75.6L206.5 74.0L208.8 72.0zM131.3 67.9L131.8 64.2L134.4 65.8zM84.5 74.0L88.2 73.2L87.6 76.1zM214.9 59.3L217.7 56.7L218.7 59.6zM207.7 5.2L209.0 1.6L211.2 3.6zM84.6 4.7L87.1 1.7L88.5 4.5zM92.2 104.9L96.1 104.7L94.9 107.6zM108.4 83.7L108.5 79.8L111.3 81.1zM192.4 83.4L193.6 79.7L195.9 81.8zM184.2 19.3L187.9 18.4L187.4 21.4zM85.0 52.2L86.3 48.5L88.5 50.6zM215.4 5.3L216.5 1.5L218.9 3.5zM93.2 49.3L95.9 52.0L93.1 53.2zM168.8 74.4L172.3 72.7L172.4 75.8zM76.8 3.3L80.7 3.1L79.7 6.0zM71.0 349.9L72.1 353.7L69.0 353.2zM184.2 43.5L187.2 41.1L188.0 44.1zM84.6 59.5L87.1 56.5L88.5 59.3zM208.0 52.4L208.4 48.5L211.1 50.1zM107.4 66.8L110.7 64.7L111.2 67.8zM77.5 36.7L78.2 32.9L80.8 34.6zM193.3 52.7L192.2 48.9L195.3 49.3zM110.0 91.5L106.9 89.1L109.6 87.5zM161.4 52.0L163.3 48.5L165.3 51.0zM107.4 43.0L111.1 41.6L110.9 44.8zM222.4 89.7L226.3 88.6L225.8 91.8zM101.1 37.0L100.3 33.1L103.4 33.8zM138.2 98.4L141.0 95.5L142.2 98.5zM177.0 106.9L178.1 103.0L180.6 105.1zM140.3 76.1L137.7 73.0L140.8 72.1zM168.8 81.5L172.8 81.2L171.8 84.3zM123.0 51.9L125.2 48.5L126.9 51.2zM207.1 82.7L210.1 80.0L211.1 83.1zM161.8 60.2L162.6 56.2L165.3 58.1zM191.8 20.1L194.9 17.5L195.8 20.7zM155.2 365.0L156.7 368.8L153.5 368.7zM199.6 44.1L201.9 40.7L203.7 43.4zM62.9 296.4L65.0 299.9L61.8 300.4zM207.9 68.1L208.5 64.0L211.3 65.8zM146.1 73.0L150.0 74.4L147.8 76.8zM145.9 59.7L148.3 56.3L150.0 59.1zM192.3 36.8L193.4 32.7L196.0 34.8zM115.2 51.8L117.7 48.5L119.3 51.4zM177.8 29.3L176.9 25.3L180.2 25.8zM138.7 83.7L139.6 79.6L142.3 81.5zM79.3 44.8L76.1 42.1L79.2 40.6zM176.3 3.6L180.3 2.5L179.8 5.9zM124.7 84.0L122.6 80.4L126.0 80.0zM199.3 105.6L203.0 103.6L203.3 107.0zM86.3 296.3L87.6 300.3L84.3 300.0zM108.2 107.2L108.6 103.0L111.6 104.6zM130.7 83.4L132.5 79.6L134.7 82.2zM69.1 3.0L73.3 3.4L71.6 6.4zM193.0 13.7L192.4 9.5L195.6 10.3zM168.7 3.1L173.0 3.2L171.6 6.3zM100.9 60.6L100.4 56.4L103.7 57.3zM177.3 49.1L180.6 51.9L177.5 53.4zM176.2 35.4L180.0 33.4L180.3 36.8z"/>
<path fill="#0000e6" d="M63.3 281.0L64.7 285.1L61.2 284.7zM79.1 342.2L79.4 346.5L76.2 345.3zM162.0 44.9L162.0 40.6L165.2 42.0zM193.9 107.5L191.4 103.9L194.8 103.2zM102.2 281.0L102.5 285.4L99.1 284.2zM76.5 27.9L80.0 25.3L80.8 28.7zM168.5 51.1L172.4 49.0L172.6 52.5zM84.1 27.9L87.7 25.2L88.5 28.7zM191.8 41.9L196.2 42.8L194.1 45.7zM86.3 37.3L84.2 33.4L87.7 33.1zM101.0 288.6L103.7 292.2L100.2 293.0zM70.7 288.5L72.7 292.5L69.1 292.7zM115.2 60.1L117.2 56.0L119.5 58.8zM62.5 349.6L65.4 353.1L62.0 354.1zM170.9 92.0L168.3 88.3L171.8 87.6zM199.9 99.3L201.1 95.0L203.9 97.3zM122.8 73.0L127.2 74.2L125.0 77.0zM101.4 45.2L99.7 41.0L103.3 41.1zM115.4 83.7L116.9 79.4L119.5 81.9zM137.8 58.1L142.3 57.6L141.2 61.1zM70.7 341.9L72.7 346.0L69.1 346.2zM92.3 60.2L94.0 56.0L96.5 58.6zM168.9 33.9L173.2 35.3L170.8 38.0zM99.3 50.5L103.9 49.5L103.1 53.1zM91.6 19.5L96.0 17.9L95.8 21.6zM161.6 5.8L162.4 1.2L165.5 3.2zM114.8 44.0L117.9 40.5L119.5 43.9zM100.9 357.1L103.9 360.8L100.2 361.8zM100.8 76.5L100.3 71.7L103.9 72.9zM71.5 273.2L71.9 277.9L68.3 276.7zM176.8 21.4L177.9 16.8L181.0 19.1zM78.4 334.1L80.5 338.5L76.6 338.6zM130.6 52.5L132.3 48.0L135.0 50.7zM177.5 13.9L177.0 9.1L180.7 10.4zM208.0 107.6L207.9 102.8L211.5 104.3zM168.3 43.5L172.2 40.8L173.0 44.6zM108.7 280.7L111.4 284.7L107.6 285.4zM130.5 60.4L132.3 55.8L135.1 58.6zM78.7 303.6L80.2 308.3L76.3 307.8zM92.7 9.7L96.6 12.8L93.0 14.6zM176.1 44.2L179.2 40.3L181.0 43.9zM216.3 107.8L214.7 103.2L218.7 103.5zM83.9 10.9L88.9 10.7L87.4 14.4zM92.0 44.7L94.1 40.1L96.8 43.1zM102.5 319.0L102.4 324.0L98.7 322.3zM124.9 280.6L126.1 285.4L122.2 284.8zM152.8 43.3L157.2 40.9L157.5 44.9zM109.0 295.9L111.3 300.3L107.3 300.6zM55.7 288.2L57.2 293.0L53.2 292.6zM107.6 33.4L112.1 35.7L109.0 38.3zM183.4 11.8L188.0 9.7L188.1 13.8zM101.6 364.4L103.4 369.2L99.3 369.0zM47.7 295.8L49.9 300.4L45.8 300.5zM108.6 6.3L107.6 1.3L111.6 2.2zM79.2 295.9L79.8 301.0L75.9 299.8zM79.0 288.2L80.0 293.2L76.0 292.3zM79.0 349.2L80.1 354.3L76.0 353.4zM99.2 28.4L102.7 24.6L104.4 28.5zM168.3 12.9L171.6 8.9L173.4 12.7zM78.6 356.7L80.5 361.6L76.3 361.4zM83.9 20.8L87.1 16.7L89.1 20.4zM63.9 303.5L64.4 308.7L60.4 307.4zM145.0 4.3L149.4 1.5L150.1 5.7zM99.7 21.4L101.6 16.5L104.6 19.5zM184.8 29.8L184.8 24.5L188.7 26.2zM92.3 33.1L96.9 35.9L93.3 38.4zM71.9 280.5L71.9 286.0L67.8 284.2zM91.2 4.7L95.5 1.1L96.7 5.4zM101.4 110.6L103.8 115.5L99.3 115.7zM85.5 288.0L88.8 292.4L84.5 293.4zM137.2 43.6L141.7 40.4L142.6 44.8zM108.5 364.2L111.9 368.6L107.5 369.7zM148.7 45.5L144.4 42.0L148.4 40.0zM63.8 287.9L64.7 293.5L60.4 292.4zM117.8 280.4L118.1 286.0L113.9 284.4zM160.5 18.1L166.1 19.1L163.6 22.8zM148.7 356.7L148.5 362.4L144.4 360.4zM70.8 333.6L73.1 338.8L68.5 338.9zM138.0 53.1L139.5 47.6L143.1 50.5zM71.9 303.3L72.0 309.0L67.7 307.2zM129.3 43.6L134.1 40.3L135.0 44.9zM77.7 280.2L81.4 284.6L76.9 286.0zM55.8 348.8L57.4 354.4L52.8 353.8zM92.2 29.9L93.2 24.1L97.1 26.7zM108.7 110.4L111.9 115.4L107.2 116.0zM109.4 272.3L111.3 278.0L106.5 277.6zM117.5 287.7L118.6 293.6L113.9 292.5zM131.5 110.3L135.0 115.2L130.3 116.2zM140.2 356.3L141.9 362.1L137.1 361.5zM123.5 133.7L127.6 138.1L123.0 139.7zM109.1 356.2L111.6 361.8L106.7 361.8zM167.7 18.4L173.8 18.3L171.9 22.8zM152.8 5.9L155.5 0.4L158.7 4.2zM121.6 2.7L127.8 2.6L125.9 7.2zM106.6 10.0L112.7 11.2L109.8 15.3zM185.6 110.1L188.6 115.6L183.6 116.0zM98.3 4.2L103.8 1.1L104.3 6.2zM284.7 179.9L288.7 184.8L283.8 186.2zM153.9 22.6L153.8 16.2L158.6 18.2zM123.1 30.4L123.3 23.9L128.0 26.2z"/>
<path fill="#0019ff" d="M146.4 22.8L145.9 16.2L150.9 17.9zM115.2 32.4L120.5 36.3L115.8 38.9zM152.0 10.7L158.6 10.1L156.9 15.2zM152.3 33.4L158.9 34.5L156.0 39.0zM132.5 355.9L134.6 362.2L129.2 361.7zM77.4 272.1L81.9 277.0L76.8 278.7zM64.3 340.9L64.7 347.5L59.6 345.7zM63.0 271.9L65.9 278.0L60.5 278.1zM123.1 46.2L123.1 39.5L128.1 41.7zM132.5 279.5L134.6 286.0L129.1 285.4zM139.9 279.5L142.5 285.8L137.0 285.7zM161.5 30.7L161.4 23.8L166.4 25.9zM278.0 171.8L280.5 178.1L275.0 177.9zM99.2 14.5L101.1 7.8L105.4 11.4zM113.4 4.6L119.0 0.7L120.1 6.1zM100.3 256.6L105.0 261.7L99.7 263.5zM166.9 27.4L173.3 24.6L173.3 30.3zM100.5 271.8L105.0 277.2L99.5 278.8zM128.6 4.5L134.5 0.6L135.4 6.2zM140.3 348.1L142.2 354.9L136.6 354.0zM124.9 302.3L126.9 309.1L121.3 308.3zM136.4 5.3L141.4 0.2L143.5 5.5zM105.7 28.8L110.8 23.7L112.9 29.1zM285.5 248.6L288.4 255.2L282.7 255.2zM113.7 25.5L120.8 26.6L117.7 31.4zM144.4 9.8L151.5 10.8L148.4 15.8zM110.4 287.1L110.9 294.3L105.5 292.4zM286.1 148.4L288.0 155.3L282.3 154.5zM153.9 30.9L153.4 23.7L158.9 25.7zM120.8 34.7L127.8 32.9L126.9 38.6zM128.6 36.6L133.9 31.5L135.9 37.0zM110.7 348.3L110.6 355.5L105.2 353.0zM159.3 13.0L164.7 8.1L166.5 13.6zM287.2 187.3L286.9 194.6L281.6 192.1zM109.5 302.2L111.8 309.1L106.0 308.6zM105.4 18.7L112.7 17.4L111.3 23.2zM137.0 37.9L140.0 31.1L144.0 35.5zM128.4 20.4L134.4 16.0L135.7 21.9zM133.5 287.0L133.9 294.5L128.2 292.3zM136.9 9.2L144.1 11.5L140.0 16.0zM108.3 332.6L112.8 338.7L106.8 340.0zM117.3 109.4L119.5 116.6L113.4 115.9zM143.8 33.9L151.4 33.4L149.3 39.2zM100.7 332.6L105.1 338.8L99.1 340.0zM231.6 109.3L235.1 116.1L229.0 116.5zM285.5 233.0L288.7 239.9L282.5 240.0zM155.3 109.3L158.1 116.4L151.9 116.2zM159.7 32.8L167.2 34.7L163.3 39.7zM118.0 302.0L119.0 309.8L112.9 308.0zM124.8 347.4L127.5 355.0L121.0 354.6zM117.9 294.2L119.2 302.2L112.8 300.5zM279.9 156.0L279.3 164.2L273.5 161.0zM285.2 217.2L289.2 224.4L282.5 225.0zM101.6 324.5L104.7 332.1L98.0 331.9zM120.4 13.3L126.3 7.5L128.7 13.8zM286.1 155.4L288.5 163.5L281.8 162.6zM123.8 170.9L128.4 177.9L121.7 179.0zM123.6 271.0L128.5 277.8L121.8 279.2zM178.1 108.8L181.6 116.5L174.8 116.6zM140.3 108.8L142.9 116.9L136.1 116.2zM133.7 347.5L134.2 356.0L127.8 353.5zM117.7 24.0L112.7 17.1L119.5 15.6zM63.2 331.9L66.5 339.8L59.6 339.7zM285.0 193.9L289.4 201.3L282.5 202.1zM117.3 339.5L119.9 347.8L112.9 347.0zM139.8 270.7L143.3 278.7L136.3 278.6zM147.0 201.5L151.4 209.1L144.4 209.9z"/>
<path fill="#004dff" d="M141.9 286.4L141.5 295.2L135.1 292.0zM285.5 239.9L289.2 248.0L282.0 248.0zM286.2 162.9L288.6 171.4L281.5 170.4zM108.6 263.0L113.1 270.6L105.9 271.4zM148.7 108.7L150.1 117.5L143.1 115.6zM124.1 108.5L128.3 116.4L121.1 117.0zM271.5 147.5L272.8 156.3L265.8 154.4zM133.7 270.8L134.4 279.8L127.6 277.3zM284.8 209.1L289.7 216.7L282.5 217.8zM109.0 316.4L112.9 324.5L105.6 324.8zM109.3 324.0L112.7 332.4L105.4 332.1zM127.6 10.2L136.7 9.5L134.2 16.4zM127.5 28.7L134.5 23.0L136.5 30.0zM201.4 108.5L204.7 116.9L197.4 116.6zM118.4 270.8L119.1 279.8L112.2 277.3zM112.8 14.5L117.6 6.7L121.8 12.8zM126.8 294.0L126.1 303.1L119.5 299.6zM119.8 20.8L127.0 15.1L128.8 22.4zM150.5 279.1L148.2 288.0L142.4 283.4zM116.0 354.4L121.1 362.1L113.7 363.4zM286.0 170.3L289.0 179.1L281.5 178.5zM278.7 147.2L281.0 156.2L273.6 154.9zM169.4 270.5L175.0 277.9L167.7 279.6zM103.3 263.0L103.7 272.4L96.6 269.6zM49.3 339.2L50.3 348.6L43.0 346.3zM147.3 224.2L151.5 232.7L143.8 233.0zM94.1 254.9L97.5 263.8L89.8 263.4zM164.3 108.4L165.5 117.8L158.1 115.6zM123.4 232.0L129.0 239.7L121.5 241.3zM278.6 162.5L281.2 171.7L273.5 170.5zM269.7 154.7L274.4 163.0L266.7 163.8zM116.8 131.5L120.7 140.2L113.0 140.2zM147.2 231.8L151.6 240.3L143.9 240.8zM56.0 339.0L58.9 348.1L51.2 347.3zM278.5 231.8L281.3 241.0L273.6 240.1zM138.4 24.5L137.1 15.0L144.6 17.1zM210.2 331.4L211.7 340.9L204.1 338.9zM102.1 115.9L104.9 125.1L97.1 124.1zM170.2 108.1L174.6 116.6L166.8 117.1zM210.2 108.2L211.7 117.7L204.1 115.7zM279.9 247.4L280.1 257.0L272.9 254.0zM155.8 277.7L158.6 286.9L150.9 286.0zM107.5 308.5L113.9 315.7L106.5 318.0zM192.4 108.1L198.1 115.9L190.4 117.5zM108.4 338.8L113.5 346.9L105.8 348.0zM216.2 107.9L220.6 116.5L212.8 116.9zM270.1 162.2L274.2 170.9L266.4 171.1zM269.9 169.9L274.3 178.5L266.5 178.9zM285.6 223.9L289.4 232.7L281.6 232.6zM126.2 331.3L127.1 340.9L119.7 338.4zM131.8 262.3L136.3 270.8L128.5 271.3zM125.7 285.3L127.5 294.8L119.9 293.0zM284.1 200.9L290.2 208.3L282.7 210.4zM158.1 354.7L156.6 364.2L150.1 360.0zM154.9 115.5L159.2 124.1L151.4 124.5zM123.8 162.0L128.8 170.3L121.0 171.3zM178.5 269.8L181.9 278.8L174.1 278.3zM188.1 277.9L188.1 287.5L180.9 284.3zM241.2 115.7L242.3 125.3L234.8 123.0zM136.5 23.0L144.9 27.7L138.6 32.4zM277.1 223.7L282.2 231.9L274.5 233.0zM277.4 177.4L282.0 185.9L274.3 186.5zM131.5 254.4L136.4 262.7L128.7 263.6zM211.0 300.7L211.3 310.3L204.0 307.4zM156.3 223.7L158.4 233.1L150.7 231.6zM195.5 277.7L196.0 287.3L188.7 284.6zM233.0 138.8L235.1 148.2L227.4 146.6zM123.3 177.4L128.9 185.2L121.3 186.8zM131.7 338.4L136.3 346.8L128.5 347.5zM58.1 331.3L57.5 341.0L50.6 337.4zM133.1 208.1L135.5 217.4L127.8 216.1zM133.5 138.6L135.2 148.1L127.7 146.3zM117.0 138.4L120.6 147.4L112.8 147.1zM109.9 115.2L112.6 124.4L104.9 123.4zM118.5 346.0L119.7 355.6L112.2 353.3zM140.1 238.6L143.6 247.6L135.8 247.3z"/>
<path fill="#0080ff" d="M248.6 146.2L250.3 155.7L242.8 153.9zM157.0 269.6L158.0 279.1L150.6 276.8zM118.3 261.8L119.9 271.3L112.3 269.3zM141.6 338.3L142.7 347.9L135.3 345.5zM178.6 238.6L181.9 247.6L174.1 247.1zM155.6 261.6L158.9 270.6L151.1 270.1zM139.2 115.0L144.0 123.3L136.2 124.2zM146.7 115.0L151.7 123.2L144.0 124.2zM162.3 115.0L167.0 123.4L159.2 124.1zM135.1 246.9L134.3 256.5L127.4 252.7zM196.7 285.4L195.4 294.9L188.8 290.8zM126.1 254.0L127.6 263.5L120.0 261.5zM278.0 200.0L281.7 208.9L273.9 208.7zM158.2 346.3L157.3 355.9L150.5 352.1zM156.4 238.5L158.5 247.9L150.8 246.4zM133.9 192.5L135.2 202.0L127.7 199.8zM118.8 315.3L119.7 324.9L112.3 322.4zM141.5 254.0L142.9 263.5L135.4 261.4zM133.9 130.6L135.2 140.1L127.7 137.9zM125.9 184.6L127.7 194.1L120.1 192.3zM122.1 238.8L129.1 245.5L121.9 248.5zM261.5 161.4L266.8 169.3L259.1 170.7zM143.3 22.8L152.1 26.7L146.3 31.9zM225.4 107.1L227.5 116.5L219.9 115.0zM279.0 215.4L281.3 224.7L273.6 223.3zM277.9 184.4L281.8 193.2L274.0 193.2zM140.5 230.6L143.5 239.8L135.7 239.0zM117.6 122.5L120.4 131.7L112.6 130.8zM115.3 253.8L121.2 261.4L113.6 263.3zM202.4 337.8L204.5 347.2L196.9 345.7zM134.4 292.3L134.9 301.9L127.7 299.1zM132.6 238.2L135.9 247.2L128.1 246.7zM264.2 246.1L265.7 255.6L258.2 253.6zM145.8 138.0L151.9 145.5L144.3 147.6zM146.7 253.5L151.6 261.7L143.9 262.7zM263.8 145.6L266.0 155.0L258.3 153.5zM254.8 145.5L258.8 154.2L251.0 154.3zM179.3 261.2L181.6 270.5L173.9 269.1zM118.5 307.2L120.0 316.7L112.5 314.7zM135.3 146.2L134.6 155.8L127.7 152.1zM139.8 191.7L143.7 200.5L135.9 200.6zM194.4 268.7L197.1 277.9L189.4 276.9zM132.5 122.1L136.0 131.1L128.2 130.7zM270.8 207.2L273.9 216.3L266.1 215.6zM270.7 217.5L270.9 216.0L269.2 215.8L269.0 217.4zM118.1 329.8L120.2 339.2L112.6 337.7zM116.9 340.1L117.2 338.6L115.6 338.3L115.3 339.8zM211.2 322.5L211.8 332.1L204.5 329.4zM208.4 332.5L208.9 331.0L207.4 330.4L206.8 331.9zM123.1 261.0L128.7 268.8L121.1 270.4zM126.0 271.0L125.7 269.5L124.1 269.8L124.4 271.4zM147.7 207.1L151.3 216.0L143.5 215.8zM148.3 217.5L148.3 215.9L146.6 215.8L146.6 217.5zM148.9 268.6L150.9 278.0L143.3 276.5zM147.6 279.0L147.9 277.4L146.3 277.1L145.9 278.7zM43.3 338.0L42.6 347.6L35.7 344.0zM39.1 347.7L39.9 346.2L38.4 345.4L37.6 346.9zM127.7 192.4L127.0 202.0L120.1 198.3zM123.5 202.0L124.3 200.6L122.8 199.8L122.0 201.2zM139.9 245.4L143.7 254.3L135.9 254.2zM140.6 256.0L140.7 254.3L139.0 254.2L138.9 256.0zM162.2 245.4L166.9 253.8L159.1 254.6zM164.0 255.9L163.9 254.1L162.2 254.3L162.3 256.0zM277.8 207.0L281.8 215.7L274.0 215.8zM278.8 217.5L278.8 215.8L277.1 215.8L277.1 217.5zM154.9 253.1L159.1 261.7L151.3 262.0zM156.1 263.6L156.1 261.8L154.4 261.9L154.4 263.7zM275.1 232.1L271.6 241.0L266.1 235.5zM268.2 240.1L269.5 238.9L268.3 237.7L267.0 238.9zM149.0 344.9L150.9 354.4L143.3 352.6zM147.5 355.5L147.9 353.7L146.2 353.3L145.8 355.1zM125.1 245.4L128.2 254.5L120.4 253.8zM125.0 256.1L125.2 254.2L123.5 254.1L123.3 255.9zM133.9 199.4L135.5 208.9L127.9 207.0zM132.1 210.0L132.5 208.1L130.9 207.7L130.4 209.5zM141.1 129.7L143.3 139.1L135.6 137.7zM140.0 140.4L140.3 138.5L138.6 138.2L138.3 140.1zM124.6 199.2L128.3 208.1L120.6 207.9zM125.3 209.9L125.3 208.0L123.6 208.0L123.6 209.8zM170.5 260.7L174.4 269.5L166.6 269.5zM171.4 271.4L171.4 269.5L169.7 269.5L169.7 271.4zM116.5 152.8L120.8 161.4L113.0 161.8zM117.8 163.5L117.7 161.6L116.0 161.6L116.1 163.6zM109.2 253.0L113.0 261.8L105.2 261.7zM110.0 263.7L110.0 261.8L108.3 261.7L108.3 263.7zM148.9 191.6L151.0 201.0L143.3 199.4zM147.6 202.3L148.0 200.3L146.3 200.0L145.9 201.9zM122.5 137.6L128.7 144.9L121.3 147.1zM126.4 147.7L125.8 145.8L124.2 146.3L124.7 148.2zM139.8 222.2L143.7 231.0L135.9 231.0zM140.7 233.0L140.7 231.0L139.0 231.0L139.0 233.0zM277.0 237.6L282.0 245.9L274.2 246.8zM279.2 248.3L279.0 246.2L277.3 246.5L277.5 248.5zM143.4 200.1L142.3 209.6L135.6 205.6zM138.6 209.8L139.7 208.1L138.2 207.2L137.2 209.0zM204.6 322.6L203.8 332.1L196.9 328.4zM200.1 332.6L201.1 330.7L199.6 329.9L198.6 331.8zM194.6 252.9L197.1 262.2L189.4 261.0zM193.8 263.9L194.1 261.8L192.4 261.5L192.1 263.6zM154.5 229.7L159.2 238.1L151.4 238.9zM156.4 240.7L156.2 238.4L154.5 238.6L154.7 240.9zM146.7 245.1L151.5 253.4L143.8 254.3zM148.8 256.1L148.5 253.8L146.8 253.9L147.1 256.2zM139.8 183.5L143.7 192.3L135.9 192.3zM140.7 194.6L140.7 192.3L139.0 192.3L139.0 194.6zM267.7 237.8L274.4 244.7L267.1 247.4zM272.4 248.0L271.5 245.8L269.9 246.3L270.8 248.6z"/>
<path fill="#00b2ff" d="M130.4 114.0L136.3 121.5L128.7 123.4zM133.9 124.6L133.3 122.3L131.7 122.7L132.3 125.0zM155.1 121.5L159.1 130.2L151.3 130.3zM156.0 132.7L156.0 130.3L154.3 130.3L154.3 132.7zM123.4 113.8L128.6 121.9L120.8 123.0zM125.9 124.8L125.5 122.4L123.9 122.6L124.2 125.0zM211.2 314.2L212.1 323.8L204.7 321.3zM208.4 325.2L209.2 322.8L207.6 322.3L206.8 324.6zM260.4 152.7L266.7 160.0L259.2 162.3zM264.5 163.3L263.8 160.9L262.1 161.4L262.9 163.8zM163.7 237.2L166.6 246.4L158.8 245.5zM163.2 248.7L163.5 246.1L161.8 245.9L161.5 248.5zM227.3 114.3L227.2 123.9L220.1 120.6zM223.3 125.0L224.4 122.6L222.8 121.9L221.7 124.3zM124.9 336.6L128.3 345.6L120.5 345.2zM125.1 348.1L125.3 345.4L123.6 345.3L123.4 348.0zM146.3 214.2L151.6 222.2L143.9 223.5zM149.0 225.4L148.6 222.7L146.9 223.0L147.3 225.6zM145.9 121.5L151.6 129.2L144.0 130.9zM149.2 132.5L148.6 129.9L146.9 130.3L147.5 132.9zM268.9 191.0L274.3 199.0L266.6 200.4zM271.8 202.3L271.3 199.5L269.6 199.8L270.1 202.5zM181.3 276.1L181.2 285.7L174.1 282.5zM177.3 287.0L178.4 284.5L176.9 283.8L175.7 286.3zM162.9 229.4L166.7 238.2L158.9 238.1zM163.7 241.0L163.7 238.2L162.0 238.1L162.0 241.0zM197.8 337.8L196.0 347.3L189.6 342.8zM191.9 347.9L193.5 345.5L192.1 344.5L190.5 346.9zM186.1 252.3L189.7 261.3L181.9 261.0zM186.6 264.1L186.7 261.2L185.0 261.1L184.9 264.0zM130.2 183.3L136.2 190.8L128.7 192.8zM134.0 194.5L133.3 191.6L131.6 192.0L132.4 194.9zM272.3 244.9L273.7 254.4L266.2 252.3zM269.9 256.5L270.7 253.6L269.1 253.2L268.3 256.0zM126.4 121.3L128.0 130.8L120.4 128.9zM124.3 133.0L125.0 130.1L123.4 129.7L122.6 132.6zM135.6 329.5L135.2 339.1L128.2 335.7zM131.1 340.5L132.4 337.8L130.9 337.0L129.6 339.8zM184.1 285.7L179.8 294.3L174.8 288.3zM175.5 293.9L177.9 292.0L176.8 290.7L174.4 292.6zM132.8 159.8L136.0 168.9L128.2 168.3zM132.7 171.7L132.9 168.7L131.2 168.5L131.0 171.6zM141.8 214.0L143.3 223.5L135.8 221.6zM139.6 225.8L140.4 222.8L138.7 222.3L138.0 225.4zM172.0 113.4L174.1 122.8L166.5 121.3zM170.5 125.3L171.1 122.2L169.5 121.9L168.8 125.0zM20.8 329.5L20.1 339.1L13.2 335.5zM15.9 340.5L17.4 337.7L15.9 336.9L14.4 339.7zM270.7 175.2L274.1 184.2L266.3 183.8zM270.8 187.2L271.0 184.0L269.3 183.9L269.1 187.1zM139.0 259.9L143.8 268.2L136.1 269.0zM141.1 271.7L140.8 268.5L139.1 268.7L139.4 271.9zM127.2 313.8L127.8 323.4L120.5 320.7zM123.8 325.4L124.9 322.4L123.3 321.8L122.2 324.8zM149.2 128.9L151.1 138.3L143.5 136.6zM147.4 140.8L148.1 137.7L146.5 137.3L145.7 140.5zM269.7 198.3L274.2 206.8L266.4 207.3zM271.4 210.3L271.1 207.0L269.4 207.1L269.7 210.4zM144.4 161.1L142.5 170.5L136.1 166.0zM138.1 171.5L140.0 168.8L138.6 167.8L136.7 170.5zM279.2 190.6L281.6 199.9L273.9 198.7zM278.0 202.8L278.6 199.4L276.9 199.2L276.4 202.5zM165.8 275.6L166.1 285.2L158.9 282.3zM162.0 287.2L163.3 284.1L161.7 283.5L160.5 286.6zM155.8 244.3L159.0 253.4L151.2 252.8zM155.6 256.6L155.9 253.2L154.2 253.0L154.0 256.5zM140.0 120.8L143.7 129.7L135.9 129.5zM140.6 133.1L140.7 129.6L139.0 129.6L138.9 133.1zM148.5 175.1L151.3 184.3L143.5 183.3zM147.8 187.4L148.2 183.9L146.5 183.7L146.1 187.1zM118.5 321.0L120.5 330.4L112.8 328.8zM116.7 333.2L117.5 329.8L115.8 329.4L115.1 332.8zM166.2 267.9L166.1 277.5L159.0 274.3zM161.8 279.6L163.3 276.3L161.8 275.6L160.3 278.9zM174.5 275.9L173.6 285.5L166.8 281.6zM169.1 287.2L170.9 284.0L169.4 283.1L167.6 286.3zM166.9 344.6L165.9 354.2L159.1 350.3zM161.4 355.9L163.2 352.7L161.8 351.8L159.9 355.0zM157.9 198.5L158.6 208.1L151.3 205.4zM154.5 210.5L155.7 207.1L154.1 206.5L152.9 209.9zM137.1 299.4L134.8 308.8L128.7 304.1zM130.2 309.9L132.4 306.9L131.1 305.9L128.8 308.8zM261.9 167.1L266.5 175.6L258.7 176.2zM263.7 179.6L263.4 175.8L261.8 176.0L262.1 179.7zM270.9 213.4L274.0 222.5L266.3 221.8zM270.7 226.0L271.0 222.2L269.3 222.1L269.0 225.8zM155.3 136.1L159.1 145.0L151.3 144.8zM155.9 148.7L156.0 144.9L154.3 144.9L154.2 148.7zM179.2 251.8L182.0 261.0L174.2 260.1zM178.5 264.4L178.9 260.7L177.3 260.4L176.8 264.2zM164.8 252.0L166.5 261.5L158.9 259.6zM162.6 264.4L163.5 260.7L161.9 260.3L161.0 264.0zM163.4 221.0L166.7 230.1L158.9 229.5zM163.4 233.7L163.6 229.8L161.9 229.7L161.7 233.6zM119.5 113.2L120.3 122.8L112.9 120.3zM116.2 125.5L117.4 121.8L115.8 121.3L114.6 125.0zM164.3 174.8L166.6 184.2L158.9 182.8zM162.9 187.5L163.6 183.7L161.9 183.4L161.2 187.2zM200.9 251.7L205.1 260.3L197.3 260.6zM202.2 264.4L202.1 260.4L200.4 260.5L200.5 264.4zM169.6 236.3L174.4 244.7L166.7 245.5zM171.9 249.0L171.4 245.0L169.7 245.2L170.2 249.1zM176.9 244.1L182.1 252.2L174.4 253.4zM179.7 256.6L179.1 252.6L177.4 252.9L178.0 256.8zM146.2 259.4L151.4 267.5L143.7 268.7zM149.0 271.9L148.4 267.9L146.7 268.2L147.3 272.2zM170.0 243.9L174.4 252.5L166.6 253.0zM171.6 256.7L171.4 252.7L169.7 252.8L169.9 256.8zM205.4 329.2L204.3 338.8L197.6 334.8zM199.6 340.7L201.7 337.2L200.2 336.4L198.2 339.9zM210.9 259.5L212.5 269.0L205.0 267.1zM208.6 272.2L209.6 268.2L207.9 267.8L206.9 271.8zM148.2 236.2L151.3 245.3L143.6 244.7zM148.0 249.2L148.3 245.1L146.6 244.9L146.3 249.0zM138.0 174.8L143.7 182.5L136.1 184.2zM141.6 187.2L140.7 183.2L139.1 183.6L140.0 187.6zM136.9 314.2L135.1 323.7L128.7 319.3zM130.3 325.4L132.6 322.0L131.2 321.0L128.9 324.4zM222.7 120.4L228.1 128.4L220.4 129.8zM225.8 133.1L225.1 128.9L223.4 129.2L224.2 133.4zM169.5 251.5L174.4 259.8L166.7 260.7zM171.9 264.4L171.4 260.1L169.7 260.4L170.2 264.6zM135.5 167.4L135.6 177.0L128.5 174.0zM131.1 179.8L132.8 175.8L131.3 175.2L129.6 179.1zM126.7 305.3L128.2 314.8L120.6 312.8zM124.1 318.2L125.2 314.0L123.6 313.6L122.5 317.8zM156.4 205.4L159.0 214.6L151.3 213.5zM155.4 218.5L156.0 214.2L154.3 214.0L153.7 218.3zM187.9 243.9L189.6 253.4L182.0 251.5zM185.6 257.0L186.6 252.7L185.0 252.3L183.9 256.6zM157.9 213.4L158.8 223.0L151.4 220.5zM154.5 226.2L155.9 222.0L154.3 221.5L152.9 225.7zM149.3 182.3L151.3 191.7L143.6 190.1zM147.3 195.4L148.3 191.1L146.6 190.7L145.7 195.0zM164.7 259.2L166.6 268.6L159.0 267.0zM162.7 272.3L163.6 268.0L162.0 267.6L161.0 272.0z"/>
<path fill="#00e5ff" d="M193.9 294.9L187.3 301.9L184.3 294.7zM181.8 300.9L186.1 299.1L185.4 297.5L181.2 299.3zM178.6 127.8L182.1 136.8L174.3 136.4zM178.8 141.3L179.0 136.7L177.3 136.6L177.1 141.2zM36.5 336.3L35.9 345.9L29.0 342.3zM31.0 348.6L33.2 344.5L31.7 343.7L29.5 347.8zM138.5 205.2L143.7 213.3L136.0 214.5zM141.4 218.4L140.7 213.8L139.0 214.0L139.7 218.6zM140.8 166.5L143.7 175.7L135.9 174.9zM140.2 180.0L140.7 175.4L139.0 175.2L138.5 179.9zM201.6 127.7L205.1 136.7L197.3 136.3zM201.8 141.3L202.0 136.5L200.3 136.5L200.1 141.3zM214.8 112.3L220.3 120.2L212.7 121.7zM218.3 125.5L217.3 120.8L215.7 121.1L216.6 125.9zM235.5 112.9L235.5 122.6L228.3 119.3zM230.7 125.7L232.7 121.3L231.1 120.6L229.1 125.0zM136.9 321.3L135.5 330.8L128.9 326.6zM130.3 333.3L132.9 329.2L131.5 328.2L128.9 332.4zM170.1 127.6L174.4 136.2L166.6 136.6zM171.6 141.3L171.3 136.4L169.6 136.4L169.9 141.4zM215.0 120.0L220.3 128.0L212.7 129.3zM218.2 133.4L217.3 128.5L215.7 128.8L216.5 133.7zM210.9 112.3L212.7 121.8L205.1 120.0zM208.6 125.9L209.7 121.1L208.1 120.7L206.9 125.5zM208.2 300.3L203.8 308.8L198.9 302.7zM197.9 309.6L201.9 306.4L200.8 305.1L196.9 308.3zM133.3 174.1L136.0 183.3L128.3 182.3zM132.4 187.9L133.0 182.9L131.3 182.7L130.7 187.7zM238.7 127.6L243.4 136.0L235.6 136.7zM240.9 141.3L240.4 136.3L238.7 136.4L239.2 141.4zM201.9 325.4L195.2 332.3L192.3 325.1zM189.3 331.4L194.0 329.5L193.4 327.9L188.7 329.8zM164.2 127.6L166.7 136.9L159.0 135.7zM162.9 141.5L163.7 136.4L162.0 136.2L161.3 141.2zM179.6 112.1L182.1 121.4L174.4 120.1zM178.2 126.0L179.1 120.9L177.4 120.6L176.6 125.7zM208.6 316.0L203.7 324.2L199.2 317.8zM197.7 324.7L201.9 321.7L200.9 320.3L196.7 323.3zM231.3 119.6L235.7 128.2L227.9 128.7zM233.0 133.7L232.7 128.4L231.0 128.5L231.3 133.8zM161.1 119.8L166.6 127.7L158.9 129.1zM164.6 133.5L163.6 128.3L161.9 128.6L162.9 133.8zM125.7 150.7L128.4 159.9L120.7 158.9zM124.7 164.8L125.4 159.5L123.7 159.3L123.0 164.6zM139.5 142.8L143.7 151.5L135.9 151.8zM140.9 157.0L140.7 151.6L139.0 151.7L139.2 157.0zM153.0 283.2L150.9 292.6L144.6 287.9zM145.2 295.1L148.4 290.8L147.1 289.8L143.9 294.1zM200.6 111.7L205.0 120.3L197.3 120.7zM202.3 126.0L202.0 120.5L200.3 120.6L200.6 126.1zM200.6 330.4L196.4 339.0L191.4 333.1zM190.2 340.3L194.5 336.7L193.4 335.4L189.1 339.0zM126.5 319.7L128.4 329.1L120.8 327.4zM124.3 333.9L125.4 328.4L123.8 328.1L122.6 333.5zM120.1 158.8L120.7 168.4L113.4 165.6zM115.8 172.5L117.8 167.3L116.2 166.7L114.3 171.9zM168.6 119.6L174.2 127.4L166.6 129.0zM172.3 133.6L171.2 128.0L169.6 128.4L170.7 133.9zM232.7 127.2L235.8 136.3L228.0 135.6zM232.2 141.7L232.8 136.0L231.1 135.9L230.6 141.5zM264.0 189.1L266.5 198.4L258.8 197.2zM262.6 203.6L263.5 197.9L261.8 197.7L260.9 203.3zM155.6 127.1L159.1 136.1L151.3 135.7zM155.8 141.7L156.0 135.9L154.3 135.9L154.1 141.6zM155.8 181.3L159.1 190.3L151.3 189.8zM155.7 195.8L156.1 190.1L154.4 190.0L154.0 195.7zM187.6 258.3L189.8 267.7L182.1 266.2zM185.7 272.8L186.8 267.1L185.1 266.8L184.1 272.5zM210.3 127.1L212.8 136.4L205.1 135.2zM208.9 141.8L209.8 135.9L208.1 135.7L207.2 141.5zM138.6 306.3L135.7 315.4L129.9 310.2zM129.3 318.0L133.4 313.4L132.1 312.3L128.0 316.9zM255.8 234.9L258.9 244.0L251.1 243.3zM255.2 249.9L255.8 243.7L254.1 243.6L253.5 249.7zM52.4 320.1L51.7 329.7L44.8 326.1zM46.1 333.9L49.0 328.3L47.5 327.5L44.6 333.1zM167.7 227.5L174.0 234.8L166.5 237.0zM172.8 241.8L171.0 235.7L169.4 236.2L171.2 242.2zM140.2 134.5L143.8 143.4L136.0 143.1zM140.5 149.6L140.7 143.3L139.0 143.2L138.8 149.6zM145.8 328.6L143.6 338.0L137.4 333.2zM137.3 341.1L141.1 336.1L139.8 335.1L135.9 340.1zM261.4 234.8L266.3 243.1L258.5 244.0zM264.0 249.8L263.3 243.4L261.6 243.6L262.3 250.0zM193.0 337.2L189.3 346.1L183.9 340.5zM182.6 348.3L187.2 343.9L186.1 342.7L181.4 347.1zM141.1 149.9L143.8 159.2L136.1 158.2zM140.0 165.2L140.8 158.8L139.1 158.6L138.3 165.0z"/>
<path fill="#1affe5" d="M202.7 309.8L196.0 316.7L193.1 309.5zM188.9 316.3L194.9 313.9L194.3 312.3L188.2 314.8zM171.5 339.2L165.8 346.9L161.9 340.1zM158.6 347.4L164.3 344.2L163.4 342.7L157.7 345.9zM208.9 307.2L204.6 315.8L199.6 309.8zM197.6 317.6L202.7 313.4L201.6 312.1L196.5 316.3zM172.7 204.1L174.6 213.5L167.0 211.8zM170.2 219.3L171.6 212.8L169.9 212.5L168.5 218.9zM162.3 134.3L166.7 142.8L158.9 143.3zM164.0 149.6L163.6 143.0L161.9 143.1L162.3 149.7zM203.4 257.8L205.3 267.3L197.6 265.6zM200.8 273.1L202.3 266.6L200.6 266.2L199.2 272.7zM247.7 165.1L251.2 174.1L243.4 173.7zM247.8 180.7L248.1 174.0L246.4 173.9L246.1 180.7zM164.8 211.6L166.9 221.0L159.3 219.4zM162.6 227.1L163.9 220.4L162.3 220.0L160.9 226.7zM29.6 327.4L28.9 337.0L22.0 333.4zM23.0 341.7L26.2 335.6L24.7 334.8L21.5 340.9zM162.0 203.6L166.6 212.1L158.8 212.7zM164.1 219.3L163.6 212.3L161.9 212.5L162.4 219.4zM146.0 149.6L151.1 157.7L143.4 158.9zM149.1 165.1L148.1 158.2L146.4 158.4L147.5 165.4zM178.2 226.6L182.1 235.4L174.3 235.4zM179.0 242.5L179.0 235.4L177.3 235.4L177.3 242.5zM275.1 181.6L274.4 191.2L267.5 187.5zM268.3 196.0L271.7 189.8L270.2 189.0L266.8 195.2zM252.7 157.4L258.4 165.2L250.7 166.8zM256.9 172.8L255.4 165.8L253.7 166.2L255.2 173.2zM157.1 172.8L159.3 182.2L151.6 180.7zM154.9 188.6L156.3 181.6L154.6 181.2L153.3 188.3zM185.5 126.1L189.7 134.7L181.9 135.0zM186.9 142.2L186.6 134.8L184.9 134.9L185.2 142.2zM158.7 165.4L159.4 175.0L152.0 172.4zM154.1 180.9L156.5 174.0L154.9 173.4L152.5 180.3zM154.0 335.8L151.6 345.1L145.5 340.3zM144.7 349.0L149.2 343.2L147.9 342.2L143.3 348.0zM189.2 211.6L190.1 221.2L182.7 218.6zM184.8 227.2L187.2 220.2L185.6 219.6L183.2 226.6zM52.8 327.1L52.1 336.7L45.2 333.0zM45.9 341.9L49.4 335.2L47.9 334.4L44.4 341.1zM151.6 142.2L151.8 151.9L144.6 148.8zM146.0 157.7L149.0 150.7L147.4 150.0L144.5 157.0zM145.6 289.1L144.2 298.7L137.6 294.5zM137.5 303.6L141.6 297.0L140.2 296.1L136.0 302.7zM162.8 283.0L159.3 292.0L153.8 286.4zM151.6 295.3L157.2 289.8L156.0 288.6L150.4 294.1zM273.8 219.0L274.6 228.6L267.2 226.0zM269.1 235.0L271.7 227.6L270.1 227.0L267.5 234.4zM262.6 202.9L266.5 211.8L258.7 211.7zM263.4 219.7L263.4 211.8L261.7 211.7L261.7 219.7zM203.4 301.3L197.1 308.5L193.8 301.5zM188.6 309.2L195.8 305.8L195.1 304.2L187.8 307.6zM183.0 133.7L189.1 141.2L181.5 143.2zM188.2 149.8L186.1 142.0L184.5 142.4L186.6 150.2zM163.2 336.5L159.4 345.4L154.1 339.7zM151.4 348.7L157.3 343.2L156.2 341.9L150.3 347.5zM171.8 284.1L166.9 292.4L162.3 286.1zM158.5 294.8L165.1 290.0L164.1 288.6L157.5 293.4zM161.6 187.4L166.5 195.7L158.7 196.6zM164.3 204.2L163.4 196.1L161.7 196.3L162.7 204.4zM45.3 319.0L44.6 328.6L37.7 324.9zM38.1 334.5L41.9 327.2L40.4 326.4L36.6 333.7zM171.9 218.2L174.7 227.4L166.9 226.4zM170.6 235.3L171.6 227.0L170.0 226.8L168.9 235.1zM268.8 173.8L267.1 183.3L260.6 178.8zM259.9 188.4L264.6 181.5L263.2 180.6L258.5 187.4zM267.1 196.0L267.1 205.6L259.9 202.4zM260.9 212.0L264.3 204.3L262.7 203.6L259.3 211.3zM165.8 180.0L167.2 189.5L159.7 187.4zM162.0 196.7L164.3 188.7L162.7 188.2L160.4 196.3zM157.5 187.5L159.5 196.9L151.8 195.3zM154.7 204.5L156.5 196.3L154.8 195.9L153.1 204.1zM182.3 118.3L182.7 128.0L175.4 125.1zM176.8 134.7L179.8 126.8L178.3 126.2L175.2 134.1z"/>
<path fill="#4dffb2" d="M197.7 118.3L198.1 127.9L190.8 125.0zM192.1 134.7L195.2 126.8L193.6 126.2L190.5 134.1zM196.4 110.0L197.9 119.5L190.4 117.6zM192.8 127.2L195.0 118.8L193.3 118.3L191.2 126.7zM256.8 179.5L259.2 188.8L251.5 187.5zM254.7 196.9L256.2 188.3L254.5 188.0L253.0 196.6zM227.4 133.3L228.7 142.9L221.2 140.7zM223.3 150.4L225.7 142.0L224.1 141.6L221.7 150.0zM202.6 117.4L205.4 126.6L197.6 125.7zM201.3 135.0L202.4 126.3L200.7 126.1L199.6 134.8zM216.0 125.1L220.3 133.7L212.5 134.0zM217.7 142.7L217.2 133.8L215.5 133.9L216.0 142.8zM172.8 133.0L174.9 142.4L167.2 140.8zM170.1 150.6L171.9 141.8L170.2 141.4L168.5 150.2zM256.8 148.4L259.2 157.7L251.5 156.4zM254.7 166.1L256.2 157.2L254.5 156.9L253.0 165.8zM187.0 109.5L190.0 118.6L182.3 117.8zM186.1 127.3L187.0 118.3L185.3 118.1L184.4 127.2zM192.9 256.0L197.3 264.6L189.5 265.0zM194.7 273.8L194.2 264.8L192.5 264.9L193.0 273.9zM260.8 203.8L259.7 213.3L253.0 209.4zM252.4 219.7L257.1 211.8L255.6 210.9L251.0 218.8zM150.1 156.1L151.9 165.6L144.3 163.9zM146.9 173.8L149.0 164.9L147.3 164.5L145.3 173.5zM266.9 210.6L267.3 220.3L260.0 217.4zM261.0 227.7L264.4 219.1L262.8 218.5L259.4 227.1zM190.7 233.9L190.6 243.5L183.5 240.3zM184.0 250.7L187.8 242.2L186.3 241.5L182.5 250.0zM236.2 132.9L242.4 140.2L234.9 142.4zM242.2 150.2L239.5 141.1L237.8 141.6L240.5 150.7zM238.3 147.9L243.1 156.2L235.3 157.0zM241.0 166.1L240.1 156.5L238.4 156.7L239.3 166.3zM266.5 179.3L267.3 188.9L259.9 186.3zM261.2 197.1L264.4 187.9L262.8 187.4L259.6 196.5zM158.1 330.7L152.3 338.3L148.6 331.4zM142.2 340.3L150.8 335.6L150.0 334.1L141.4 338.8zM193.6 281.3L191.0 290.5L185.0 285.5zM182.3 296.2L188.6 288.6L187.3 287.5L181.0 295.1zM145.4 163.3L150.8 171.3L143.1 172.6zM149.5 181.6L147.7 171.8L146.1 172.1L147.8 181.8zM209.5 116.7L212.9 125.7L205.1 125.2zM209.3 135.4L209.9 125.5L208.2 125.4L207.6 135.3zM261.7 217.1L266.2 225.6L258.4 226.1zM263.8 235.7L263.2 225.8L261.5 225.9L262.1 235.8zM203.8 240.4L205.7 249.8L198.1 248.1zM200.6 258.9L202.7 249.1L201.1 248.8L199.0 258.5zM172.1 178.6L174.8 187.8L167.1 186.8zM170.5 197.3L171.8 187.4L170.1 187.2L168.8 197.1zM150.3 299.4L144.9 307.3L140.8 300.7zM134.6 310.1L143.3 304.8L142.4 303.3L133.7 308.7zM163.2 193.7L166.8 202.6L159.1 202.3zM163.5 212.9L163.8 202.5L162.1 202.4L161.8 212.8zM46.0 325.3L45.3 334.9L38.4 331.3zM37.7 342.8L42.6 333.5L41.1 332.7L36.2 342.0zM186.3 116.2L189.9 125.1L182.1 124.9zM186.5 135.6L186.8 125.0L185.1 125.0L184.8 135.5z"/>
<path fill="#80ff80" d="M169.9 185.8L174.2 194.4L166.4 194.8zM171.7 205.2L171.2 194.5L169.5 194.6L170.0 205.3zM171.8 147.2L174.8 156.3L167.0 155.6zM170.7 166.7L171.7 156.0L170.0 155.9L169.0 166.5zM158.2 139.7L159.9 149.2L152.3 147.3zM154.4 158.9L156.9 148.5L155.3 148.0L152.7 158.5zM173.5 170.6L175.2 180.1L167.6 178.2zM169.7 189.8L172.3 179.4L170.6 178.9L168.1 189.4zM164.2 154.8L167.2 164.0L159.4 163.1zM162.9 174.5L164.1 163.7L162.4 163.5L161.2 174.3zM134.6 147.2L136.8 156.6L129.1 155.1zM131.7 166.7L133.8 156.0L132.1 155.7L130.0 166.4zM195.9 123.8L198.1 133.2L190.4 131.8zM193.1 143.5L195.1 132.7L193.4 132.3L191.4 143.2zM190.6 224.8L191.0 234.4L183.7 231.6zM184.1 243.8L188.2 233.3L186.6 232.7L182.5 243.2zM174.6 209.1L175.5 218.7L168.1 216.3zM169.1 228.5L172.6 217.8L171.0 217.2L167.5 227.9zM229.4 124.4L229.5 134.0L222.3 130.9zM222.2 143.4L226.7 132.8L225.1 132.1L220.6 142.8zM263.2 223.5L266.7 232.5L258.9 232.1zM263.1 244.2L263.6 232.4L261.9 232.3L261.4 244.1zM159.3 291.8L153.4 299.5L149.7 292.6zM141.6 302.5L152.0 296.8L151.2 295.3L140.7 301.0zM165.0 161.9L167.4 171.2L159.7 170.0zM162.5 182.6L164.4 170.7L162.7 170.5L160.9 182.3zM162.0 138.5L166.4 147.0L158.6 147.5zM164.1 159.3L163.4 147.2L161.7 147.3L162.4 159.4zM189.5 336.4L184.3 344.6L180.0 338.1zM172.6 348.8L182.6 342.1L181.7 340.6L171.6 347.4zM181.2 131.0L183.1 140.5L175.5 138.7zM177.4 151.6L180.1 139.8L178.4 139.4L175.7 151.3zM180.1 215.7L182.7 225.0L175.0 223.9zM178.0 236.6L179.7 224.6L178.0 224.3L176.3 236.4zM153.7 153.9L158.5 162.2L150.8 163.0zM156.8 174.8L155.5 162.5L153.8 162.7L155.1 175.0zM253.4 155.2L252.9 164.8L246.0 161.3zM244.6 174.5L250.2 163.4L248.7 162.7L243.1 173.8zM257.1 161.6L259.5 170.9L251.8 169.7zM254.5 182.7L256.5 170.4L254.8 170.1L252.8 182.5zM182.1 282.9L176.9 291.0L172.6 284.5zM164.8 295.5L175.2 288.5L174.3 287.1L163.8 294.0z"/>
<path fill="#b3ff4c" d="M237.3 138.2L242.6 146.3L234.9 147.5zM241.6 159.3L239.5 146.8L237.9 147.1L239.9 159.6zM175.5 154.4L176.0 164.0L168.7 161.3zM168.6 174.9L173.1 163.0L171.6 162.4L167.0 174.3zM204.4 130.7L206.2 140.1L198.6 138.3zM200.3 151.8L203.2 139.4L201.6 139.0L198.6 151.4zM249.5 230.8L251.9 240.1L244.2 238.8zM246.8 252.2L248.9 239.6L247.2 239.3L245.1 251.9zM39.0 316.4L38.3 326.0L31.5 322.3zM29.6 335.9L35.7 324.6L34.2 323.8L28.1 335.1zM31.4 316.4L30.7 326.0L23.8 322.3zM22.0 335.9L28.0 324.6L26.5 323.8L20.5 335.1zM187.8 215.1L190.5 224.4L182.7 223.3zM185.6 237.0L187.4 223.9L185.8 223.7L183.9 236.7zM257.6 168.9L259.8 178.3L252.1 176.8zM254.2 190.7L256.8 177.7L255.1 177.4L252.6 190.4zM160.9 146.5L161.0 156.1L153.8 153.0zM152.9 167.3L158.2 154.9L156.6 154.2L151.3 166.6zM241.8 146.4L248.7 153.1L241.5 156.0zM250.9 166.7L245.9 154.2L244.3 154.8L249.3 167.3zM232.4 137.6L236.0 146.5L228.2 146.2zM232.4 159.9L232.9 146.4L231.2 146.3L230.7 159.8zM169.1 160.8L173.8 169.2L166.1 169.9zM172.1 183.0L170.8 169.4L169.1 169.6L170.4 183.1zM168.4 191.7L173.5 199.8L165.8 201.0zM172.5 213.8L170.5 200.3L168.8 200.5L170.8 214.0zM260.0 223.2L260.6 232.8L253.3 230.1zM252.9 244.6L257.7 231.8L256.1 231.2L251.3 244.0zM153.4 315.5L146.8 322.5L143.8 315.3zM132.8 325.0L145.6 319.7L145.0 318.1L132.2 323.4zM178.8 191.4L182.3 200.3L174.5 200.0zM178.7 214.1L179.3 200.2L177.6 200.1L177.0 214.0zM201.3 137.2L205.1 146.0L197.3 145.9zM202.0 160.1L202.1 146.0L200.4 146.0L200.3 160.0zM203.8 287.4L200.6 296.5L194.9 291.1zM188.6 304.7L198.4 294.4L197.1 293.2L187.4 303.5zM195.8 137.3L198.3 146.6L190.6 145.4zM193.1 160.1L195.3 146.1L193.6 145.8L191.4 159.9zM169.6 137.0L174.0 145.6L166.2 146.0zM171.8 160.1L171.0 145.8L169.3 145.9L170.1 160.2zM246.9 167.9L251.0 176.7L243.2 176.8zM248.2 191.1L247.9 176.7L246.2 176.8L246.5 191.1zM261.3 192.4L261.1 202.1L254.0 198.7zM252.2 213.9L258.3 200.8L256.8 200.0L250.6 213.1z"/>
<path fill="#e5ff1a" d="M219.5 229.4L221.6 238.8L214.0 237.3zM215.8 252.9L218.6 238.2L217.0 237.9L214.1 252.6zM215.6 236.8L220.0 245.4L212.2 245.8zM217.9 260.6L217.0 245.5L215.3 245.6L216.2 260.7zM200.1 238.1L199.9 247.8L192.9 244.5zM190.7 260.3L197.2 246.5L195.6 245.7L189.2 259.5zM211.8 128.9L214.0 138.3L206.3 136.8zM208.1 152.7L211.0 137.7L209.3 137.4L206.4 152.4zM217.3 128.6L220.8 137.6L213.0 137.2zM216.9 152.8L217.7 137.4L216.0 137.3L215.2 152.7zM192.8 330.5L186.1 337.4L183.2 330.2zM170.6 340.4L185.0 334.6L184.4 333.0L170.0 338.8zM162.4 299.9L155.7 306.8L152.8 299.5zM139.8 309.9L154.6 304.0L153.9 302.4L139.1 308.4zM166.7 144.1L168.4 153.6L160.8 151.7zM161.6 168.4L165.4 152.9L163.8 152.5L159.9 168.0zM40.0 322.2L39.3 331.8L32.4 328.1zM29.1 344.5L36.6 330.4L35.1 329.6L27.6 343.7zM210.8 243.6L213.6 252.8L205.9 251.9zM208.7 268.9L210.6 252.4L208.9 252.2L207.0 268.7zM180.8 158.9L183.3 168.2L175.6 167.0zM177.6 184.2L180.3 167.8L178.6 167.5L175.9 183.9zM195.2 127.8L198.2 137.0L190.4 136.2zM193.4 153.2L195.2 136.7L193.5 136.5L191.7 153.1z"/>
<path fill="#ffe500" d="M259.4 212.9L260.8 222.4L253.3 220.4zM253.3 238.2L257.8 221.6L256.2 221.2L251.6 237.8zM244.8 159.2L245.8 168.7L238.3 166.3zM237.5 184.2L242.9 167.8L241.2 167.3L235.9 183.7zM241.4 150.6L244.3 159.8L236.6 158.9zM239.3 176.7L241.3 159.5L239.6 159.3L237.7 176.5zM201.8 330.0L195.1 336.9L192.2 329.7zM177.6 340.7L194.0 334.1L193.3 332.5L176.9 339.1zM155.7 306.7L149.1 313.7L146.0 306.6zM131.6 318.0L147.9 310.9L147.3 309.4L131.0 316.5zM182.9 204.9L184.3 214.4L176.8 212.3zM176.4 230.7L181.3 213.6L179.7 213.1L174.8 230.3zM182.2 135.1L184.0 144.5L176.4 142.7zM176.8 161.4L181.0 143.8L179.3 143.4L175.2 161.0zM242.6 227.2L244.9 236.5L237.2 235.2zM238.7 254.1L241.9 236.0L240.2 235.7L237.0 253.8zM202.5 142.1L205.7 151.2L198.0 150.6zM201.3 169.4L202.7 151.0L201.0 150.8L199.6 169.2zM235.6 157.9L237.6 167.4L230.0 165.7zM230.7 184.8L234.6 166.7L232.9 166.4L229.0 184.4zM237.5 197.0L238.4 206.6L231.0 204.1zM229.7 223.2L235.5 205.6L233.9 205.1L228.0 222.6z"/>
<path fill="#ffb300" d="M202.5 203.7L205.8 212.7L198.0 212.2zM201.3 231.2L202.7 212.5L201.0 212.4L199.6 231.1zM180.7 196.1L183.3 205.3L175.6 204.3zM177.7 223.5L180.3 204.9L178.6 204.7L176.0 223.3zM238.4 150.5L238.9 160.1L231.6 157.3zM229.1 177.0L236.1 159.0L234.5 158.4L227.5 176.4zM210.2 234.0L213.5 243.0L205.7 242.4zM209.0 262.2L210.4 242.8L208.7 242.7L207.3 262.1zM199.5 142.4L200.3 152.0L193.0 149.5zM191.1 169.4L197.4 151.0L195.8 150.4L189.5 168.9zM200.2 150.3L200.7 159.9L193.4 157.1zM190.7 177.1L197.8 158.8L196.2 158.2L189.1 176.5zM164.7 321.8L158.0 328.8L155.1 321.5zM138.5 333.3L156.9 325.9L156.2 324.4L137.9 331.8zM211.7 226.3L214.2 235.6L206.5 234.4zM208.1 254.6L211.2 235.1L209.5 234.8L206.5 254.3zM154.6 317.5L150.0 325.9L145.2 319.7zM132.4 335.6L148.1 323.5L147.1 322.1L131.4 334.2zM198.2 226.4L199.8 235.9L192.2 233.9zM191.8 254.6L196.8 235.1L195.2 234.7L190.2 254.2zM249.2 195.1L252.1 204.3L244.4 203.5zM247.0 224.0L249.1 203.9L247.4 203.8L245.3 223.8z"/>
<path fill="#ff8000" d="M200.3 225.4L204.6 234.0L196.8 234.3zM202.5 254.9L201.6 234.1L199.9 234.2L200.8 255.0zM185.2 180.4L185.6 190.0L178.4 187.2zM175.2 208.4L182.8 188.9L181.2 188.3L173.6 207.8zM187.7 335.1L181.7 342.6L178.1 335.7zM161.6 349.6L180.3 339.9L179.5 338.4L160.9 348.1zM219.8 132.6L222.2 141.9L214.5 140.6zM215.6 162.7L219.2 141.4L217.5 141.1L213.9 162.4zM196.8 209.4L199.2 218.7L191.5 217.4zM192.6 240.1L196.2 218.2L194.5 217.9L190.9 239.8zM222.3 209.7L223.5 219.2L216.0 217.0zM214.2 240.0L220.6 218.4L219.0 217.9L212.6 239.5z"/>
<path fill="#ff4c00" d="M214.2 132.1L215.7 141.6L208.1 139.6zM206.8 163.0L212.7 140.8L211.1 140.3L205.2 162.6zM191.2 163.0L192.7 172.5L185.1 170.5zM183.8 194.0L189.7 171.7L188.1 171.3L182.1 193.5zM166.7 305.8L160.0 312.7L157.1 305.4zM137.5 318.5L158.9 309.8L158.3 308.3L136.8 316.9zM244.9 186.0L246.4 195.5L238.9 193.5zM237.5 217.2L243.5 194.8L241.8 194.3L235.8 216.7zM180.4 138.9L183.3 148.1L175.6 147.3zM177.8 171.1L180.3 147.8L178.6 147.6L176.2 170.9zM199.3 216.7L200.6 226.3L193.1 224.1zM191.2 248.0L197.7 225.4L196.0 225.0L189.6 247.5zM249.8 200.6L252.6 209.8L244.9 208.9zM246.6 232.9L249.6 209.5L247.9 209.2L244.9 232.7zM197.9 290.3L191.2 297.2L188.3 290.0zM167.9 303.3L190.1 294.4L189.4 292.8L167.2 301.8zM249.9 215.7L252.7 224.9L244.9 223.9zM246.6 248.5L249.6 224.5L247.9 224.3L244.9 248.3zM257.4 177.1L260.2 186.3L252.5 185.4zM254.4 210.0L257.2 186.0L255.5 185.8L252.7 209.8zM182.9 328.3L176.2 335.2L173.3 328.0zM152.3 341.6L175.1 332.4L174.4 330.8L151.7 340.0z"/>
<path fill="#ff1a00" d="M187.8 184.2L190.9 193.3L183.1 192.6zM185.7 218.0L187.8 193.0L186.2 192.9L184.0 217.9zM223.3 137.7L227.6 146.4L219.8 146.7zM225.5 171.6L224.5 146.5L222.8 146.6L223.8 171.7zM245.9 169.5L247.1 179.0L239.6 176.8zM236.9 202.4L244.2 178.2L242.6 177.7L235.3 201.9zM263.5 201.0L263.7 210.7L256.5 207.7zM251.0 232.9L260.8 209.5L259.3 208.8L249.5 232.2zM206.5 320.5L199.8 327.4L196.8 320.1zM175.1 334.1L198.6 324.6L198.0 323.0L174.4 332.5zM252.2 207.3L254.1 216.8L246.5 215.0zM245.3 241.2L251.1 216.1L249.4 215.7L243.7 240.8zM183.7 297.5L177.0 304.4L174.1 297.1zM151.9 311.2L175.9 301.5L175.2 300.0L151.3 309.7zM184.3 145.7L185.7 155.3L178.2 153.1zM175.7 179.5L182.7 154.4L181.1 154.0L174.1 179.0zM214.8 137.9L216.2 147.4L208.7 145.4zM206.5 171.8L213.3 146.6L211.7 146.2L204.8 171.4zM184.1 289.6L177.4 296.6L174.5 289.3zM151.7 303.7L176.3 293.7L175.7 292.2L151.1 302.1zM179.9 167.7L183.2 176.8L175.4 176.2zM178.1 203.1L180.1 176.5L178.4 176.4L176.4 203.0zM232.0 153.5L232.7 163.1L225.4 160.4zM220.8 187.3L229.8 162.0L228.2 161.5L219.2 186.7z"/>
<path fill="#e50000" d="M190.9 144.8L192.8 154.2L185.2 152.5zM184.0 180.0L189.8 153.5L188.2 153.2L182.3 179.6zM207.5 297.1L200.8 304.1L197.9 296.8zM174.5 311.4L199.7 301.2L199.0 299.6L173.9 309.8zM251.3 167.4L253.6 176.7L245.9 175.4zM245.8 203.4L250.6 176.2L248.9 175.9L244.2 203.1zM177.2 289.3L170.5 296.2L167.6 289.0zM143.6 303.8L169.4 293.4L168.8 291.8L143.0 302.3zM188.4 128.3L191.3 137.5L183.6 136.7zM185.3 164.9L188.3 137.2L186.6 137.0L183.6 164.7zM190.1 162.2L189.1 171.7L182.4 167.8zM172.5 194.6L186.5 170.2L185.0 169.4L171.0 193.8zM222.4 144.1L224.1 153.6L216.5 151.7zM214.2 180.3L221.1 152.9L219.5 152.5L212.5 179.9zM170.0 312.1L163.3 319.0L160.4 311.8zM135.7 326.8L162.1 316.2L161.5 314.6L135.1 325.3zM194.0 152.2L194.7 161.8L187.4 159.2zM182.3 188.0L191.9 160.8L190.3 160.2L180.7 187.4z"/>
<path fill="#b30000" d="M187.7 189.1L190.9 198.2L183.1 197.6zM185.7 227.2L187.9 197.9L186.2 197.8L184.0 227.1zM208.8 151.6L209.8 161.2L202.4 158.8zM197.9 188.2L206.9 160.3L205.3 159.8L196.3 187.7zM241.1 175.4L241.4 185.0L234.2 182.1zM227.7 211.1L238.6 183.9L237.0 183.2L226.1 210.5zM224.2 136.1L225.2 145.7L217.7 143.3zM213.2 172.8L222.3 144.8L220.6 144.3L211.6 172.3zM245.6 205.0L247.3 214.5L239.7 212.6zM237.1 242.5L244.3 213.7L242.6 213.3L235.4 242.1zM193.9 288.8L187.2 295.7L184.3 288.5zM158.2 304.1L186.1 292.9L185.4 291.3L157.6 302.6zM191.6 135.1L193.4 144.6L185.8 142.8zM183.6 173.3L190.4 143.9L188.7 143.5L181.9 172.9zM204.0 142.3L206.9 151.5L199.2 150.6zM200.5 181.2L203.9 151.2L202.2 151.0L198.8 181.0zM253.1 173.4L254.9 182.9L247.3 181.1zM244.8 212.1L251.9 182.2L250.3 181.8L243.2 211.7zM194.8 174.2L195.4 183.8L188.1 181.1zM181.8 211.8L192.5 182.7L191.0 182.1L180.2 211.2z"/>
<path fill="#800000" d="M210.0 303.8L203.3 310.7L200.4 303.5zM173.2 319.6L202.2 307.9L201.5 306.3L172.5 318.0zM179.3 303.8L172.6 310.7L169.7 303.5zM142.5 319.6L171.5 307.9L170.8 306.3L141.8 318.0zM204.7 203.3L207.4 212.6L199.6 211.5zM200.2 243.3L204.3 212.1L202.7 211.9L198.5 243.1zM247.3 211.9L248.4 221.4L241.0 219.1zM236.2 250.7L245.5 220.5L243.9 220.0L234.5 250.2zM179.6 318.9L172.9 325.8L170.0 318.6zM142.3 334.9L171.8 323.0L171.1 321.4L141.7 333.3zM202.6 318.9L195.9 325.8L193.0 318.6zM165.3 334.9L194.8 323.0L194.1 321.4L164.7 333.3zM253.3 180.4L255.1 189.9L247.5 188.0zM244.7 220.2L252.1 189.1L250.5 188.8L243.1 219.8zM201.3 187.9L202.5 197.4L195.1 195.2zM190.1 228.1L199.6 196.5L198.0 196.1L188.5 227.6zM216.9 203.2L218.0 212.7L210.5 210.5zM205.4 243.5L215.1 211.8L213.5 211.3L203.7 243.0zM192.1 164.1L193.9 173.5L186.3 171.7zM183.3 205.2L190.9 172.8L189.2 172.4L181.7 204.9zM226.1 188.1L226.7 197.7L219.4 195.0zM212.2 228.0L223.8 196.6L222.2 196.0L210.6 227.4zM214.1 209.6L216.3 219.0L208.6 217.5zM206.9 251.8L213.3 218.4L211.6 218.1L205.2 251.5zM209.2 210.2L210.4 219.8L203.0 217.5zM197.7 251.5L207.5 218.9L205.9 218.4L196.0 251.1zM217.4 195.0L218.4 204.5L211.0 202.2zM205.1 236.1L215.5 203.6L213.9 203.1L203.5 235.6zM243.3 155.3L246.0 164.6L238.2 163.5zM238.4 198.0L242.9 164.2L241.3 163.9L236.7 197.8zM221.9 209.2L224.1 218.6L216.4 217.1zM214.4 252.0L221.1 218.0L219.4 217.7L212.8 251.7zM196.9 325.8L190.2 332.7L187.2 325.5zM156.6 342.9L189.0 329.9L188.4 328.3L156.0 341.4zM239.7 155.6L241.0 165.2L233.5 163.0zM228.5 197.9L238.1 164.3L236.5 163.8L226.8 197.5zM181.9 325.6L175.2 332.5L172.3 325.3zM141.1 343.0L174.1 329.7L173.4 328.1L140.4 341.5zM200.8 154.7L202.4 164.2L194.9 162.2zM190.4 198.4L199.5 163.4L197.8 163.0L188.7 198.0zM246.8 170.0L248.4 179.5L240.8 177.6zM236.4 213.9L245.4 178.8L243.8 178.3L234.8 213.5zM182.4 294.9L175.7 301.8L172.7 294.6zM140.8 312.6L174.5 299.0L173.9 297.4L140.2 311.0zM237.3 199.9L239.6 209.2L231.9 207.8zM229.8 245.2L236.6 208.7L234.9 208.4L228.1 244.9zM198.2 294.7L191.5 301.6L188.6 294.4zM155.9 312.7L190.4 298.8L189.8 297.2L155.3 311.1zM227.3 177.9L227.8 187.6L220.5 184.8zM211.5 221.6L224.9 186.5L223.3 185.9L209.9 221.0zM248.0 184.8L249.3 194.4L241.8 192.2zM235.8 229.7L246.4 193.5L244.7 193.0L234.1 229.2zM215.0 137.7L217.0 147.1L209.4 145.5zM206.4 183.8L214.1 146.4L212.4 146.1L204.7 183.4zM211.4 162.0L212.1 171.5L204.8 168.9zM196.5 206.5L209.2 170.5L207.6 170.0L194.9 205.9zM234.5 154.1L235.2 163.7L227.9 161.0zM219.4 198.8L232.4 162.6L230.8 162.1L217.8 198.3zM191.6 301.9L184.9 308.8L182.0 301.6zM147.6 320.6L183.8 306.0L183.2 304.4L147.0 319.0zM227.8 168.9L228.3 178.5L221.0 175.7zM211.2 214.6L225.5 177.4L223.9 176.8L209.7 214.0zM230.3 197.7L232.4 207.1L224.8 205.6zM221.8 246.3L229.4 206.5L227.8 206.2L220.1 246.0zM200.6 190.2L202.4 199.6L194.8 197.9zM190.5 238.6L199.5 199.0L197.8 198.6L188.9 238.2zM202.2 174.8L203.6 184.3L196.1 182.2zM189.6 223.2L200.7 183.5L199.1 183.0L188.0 222.8zM209.0 174.1L210.7 183.5L203.1 181.7zM197.8 223.6L207.8 182.8L206.1 182.4L196.1 223.2zM201.6 308.6L194.9 315.5L192.0 308.3zM154.1 328.7L193.7 312.7L193.1 311.1L153.5 327.1zM198.7 142.1L201.2 151.4L193.5 150.2zM191.5 193.2L198.2 150.9L196.5 150.7L189.9 193.0zM199.0 165.0L201.4 174.3L193.7 173.1zM191.4 216.5L198.4 173.8L196.7 173.6L189.7 216.3zM235.8 166.1L236.5 175.7L229.2 173.1zM218.7 216.1L233.6 174.7L232.0 174.1L217.1 215.5zM98.6 284.6L102.5 293.4L94.7 293.4zM99.4 343.6L99.4 293.4L97.8 293.4L97.8 343.6zM107.8 296.6L111.4 305.5L103.6 305.3zM107.4 332.6L108.4 305.4L106.7 305.4L105.7 332.6zM172.9 359.0L164.1 362.9L164.1 355.1zM129.9 359.9L164.1 359.9L164.1 358.1L129.9 358.1zM227.8 150.3L228.6 159.9L221.2 157.4zM211.3 200.8L225.7 158.9L224.1 158.4L209.7 200.3zM205.4 158.0L206.0 167.6L198.7 164.9zM187.9 208.6L203.2 166.5L201.6 166.0L186.3 208.0zM231.4 132.9L233.4 142.3L225.8 140.7zM221.1 186.3L230.5 141.7L228.8 141.3L219.5 186.0zM222.5 142.6L222.7 152.3L215.5 149.3zM202.3 193.1L219.9 151.1L218.3 150.4L200.7 192.5zM227.6 141.7L228.5 151.2L221.1 148.8zM211.4 193.6L225.6 150.3L224.0 149.8L209.8 193.1zM208.8 148.4L210.7 157.9L203.1 156.2zM197.9 201.8L207.7 157.2L206.1 156.9L196.3 201.4zM220.4 149.6L221.2 159.2L213.9 156.6zM203.4 201.2L218.4 158.2L216.8 157.6L201.8 200.7zM221.5 157.7L222.0 167.3L214.7 164.5zM202.9 208.8L219.1 166.2L217.5 165.6L201.3 208.2zM229.2 157.7L229.7 167.3L222.4 164.5zM210.5 208.8L226.8 166.2L225.3 165.6L208.9 208.2zM235.0 157.0L236.0 166.6L228.6 164.2zM219.2 209.1L233.1 165.7L231.5 165.1L217.6 208.6zM241.8 156.8L243.1 166.3L235.6 164.1zM227.3 209.2L240.2 165.5L238.5 165.0L225.7 208.7zM210.8 164.4L212.2 173.9L204.6 171.8zM196.8 217.0L209.2 173.1L207.6 172.6L195.2 216.5zM220.9 165.2L221.6 174.8L214.3 172.1zM203.1 216.6L218.7 173.7L217.1 173.2L201.5 216.0zM221.1 172.9L221.7 182.6L214.4 179.9zM203.1 224.3L218.8 181.5L217.2 180.9L201.5 223.7zM236.6 173.0L237.1 182.6L229.8 179.9zM218.3 224.3L234.3 181.5L232.7 180.9L216.7 223.7zM242.1 172.3L243.3 181.8L235.8 179.6zM227.2 224.6L240.4 181.0L238.8 180.5L225.5 224.1zM213.8 180.8L214.3 190.4L207.0 187.6zM195.2 231.9L211.5 189.3L209.9 188.7L193.6 231.3zM219.9 180.2L220.9 189.8L213.5 187.4zM203.7 232.2L218.0 188.9L216.4 188.3L202.1 231.7zM236.0 180.5L236.8 190.1L229.4 187.5zM218.6 232.1L233.9 189.1L232.3 188.5L217.0 231.5zM227.1 187.8L228.2 197.4L220.7 195.0zM211.6 240.0L225.3 196.4L223.7 195.9L210.0 239.4zM234.5 187.7L235.7 197.3L228.2 195.0zM219.5 240.0L232.8 196.4L231.1 195.9L217.8 239.5zM241.9 187.6L243.2 197.2L235.7 195.0zM227.3 240.0L240.2 196.3L238.6 195.8L225.6 239.5zM248.4 187.3L250.0 196.8L242.5 194.8zM235.6 240.2L247.1 196.0L245.4 195.6L233.9 239.7zM203.3 300.3L196.6 307.2L193.7 300.0zM153.2 321.5L195.4 304.4L194.8 302.8L152.5 319.9zM188.0 307.9L181.3 314.8L178.3 307.6zM137.8 329.1L180.1 312.0L179.5 310.4L137.2 327.5zM195.6 307.9L188.9 314.8L186.0 307.6zM145.5 329.1L187.8 312.0L187.1 310.4L144.9 327.5zM195.6 315.6L188.9 322.5L186.0 315.2zM145.5 336.7L187.8 319.6L187.1 318.1L144.9 335.1zM203.3 315.6L196.6 322.5L193.7 315.2zM153.2 336.7L195.4 319.6L194.8 318.1L152.5 335.1z"/>
<use href="#sites"/>
</g>
<use href="#frame"/>
<text x="173.6" y="-11.5" text-anchor="middle" font-size="25.4" font-weight="bold">2023-08-25 02:00</text>
<text x="43" y="-27.5" font-size="20.5" fill="#262626">cm/s</text>
<rect x="10.0" y="16.0" width="113.7" height="25.0" fill="url(#jet)" stroke="#262626" stroke-width="1"/>
<text x="6.5" y="0" font-size="19" fill="#262626" textLength="130" lengthAdjust="spacing">0 5 10 15 20 25 30 35 40 45</text>
<text x="7.8" y="0" font-size="19" fill="#262626" textLength="128" lengthAdjust="spacing">05101520253035404550</text>
<text x="9.1" y="0" font-size="19" fill="#262626" textLength="126" lengthAdjust="spacing">50 45 40 35 30 25 20 15</text>
<text x="10.4" y="0" font-size="19" fill="#262626" textLength="124" lengthAdjust="spacing">0.51.01.52.02.53.03.54.0</text>
<text x="275" y="64" font-size="20.5">50 cm/s</text>
<text x="284.0" y="102.0" font-size="20.5" fill="#000">10 km</text><line x1="307.0" y1="108.5" x2="320.5" y2="108.5" stroke="#000" stroke-width="3.2" stroke-linecap="round"/>
</g>
<g transform="translate(458.5,142.5)">
<use href="#axl"/>
<g clip-path="url(#cp)">
<use href="#gridl"/>
<g shape-rendering="crispEdges">
<path fill="#0019ff" d="M67.0 0.0h8.3v8.4h-8.3zM74.6 7.8h8.3v8.4h-8.3zM113.0 7.8h8.3v8.4h-8.3zM74.6 15.7h8.3v8.4h-8.3zM105.3 15.7h15.9v8.4h-15.9zM105.3 23.5h15.9v8.4h-15.9zM182.0 31.4h8.3v8.4h-8.3zM113.0 39.2h8.3v8.4h-8.3zM182.0 39.2h8.3v8.4h-8.3zM182.0 47.0h8.3v8.4h-8.3zM182.0 54.8h8.3v8.4h-8.3zM82.3 62.6h8.3v8.4h-8.3zM113.0 62.6h8.3v8.4h-8.3zM189.7 62.6h8.3v8.4h-8.3zM174.3 70.4h8.3v8.4h-8.3zM189.7 78.2h8.3v8.4h-8.3zM82.3 86.0h8.3v8.4h-8.3zM113.0 86.0h8.3v8.4h-8.3zM182.0 86.0h8.3v8.4h-8.3zM182.0 93.8h8.3v8.4h-8.3zM90.0 101.6h8.3v8.4h-8.3zM113.0 101.6h8.3v8.4h-8.3zM174.3 109.4h15.9v8.4h-15.9zM97.6 117.1h8.3v8.4h-8.3zM120.6 124.9h8.3v8.4h-8.3zM182.0 132.7h8.3v8.4h-8.3zM182.0 148.2h8.3v8.3h-8.3zM189.7 163.7h15.9v8.3h-15.9zM189.7 179.1h8.3v8.3h-8.3zM197.3 194.6h15.9v8.3h-15.9zM128.3 202.3h8.3v8.3h-8.3zM136.0 240.8h8.3v8.3h-8.3zM182.0 248.4h8.3v8.3h-8.3zM90.0 256.1h8.3v8.3h-8.3zM120.6 256.1h8.3v8.3h-8.3zM97.6 263.8h8.3v8.3h-8.3zM59.3 271.5h8.3v8.3h-8.3zM82.3 294.4h8.3v8.2h-8.3zM113.0 294.4h8.3v8.2h-8.3zM113.0 309.7h8.3v8.2h-8.3zM28.6 325.0h8.3v8.2h-8.3zM97.6 325.0h8.3v8.2h-8.3zM136.0 325.0h8.3v8.2h-8.3zM51.6 332.6h8.3v8.2h-8.3zM67.0 332.6h8.3v8.2h-8.3zM143.7 332.6h8.3v8.2h-8.3zM36.3 340.2h8.3v8.2h-8.3zM136.0 340.2h8.3v8.2h-8.3zM74.6 347.8h8.3v8.2h-8.3zM159.0 347.8h8.3v8.2h-8.3zM67.0 355.5h15.9v8.2h-15.9z"/>
<path fill="#0000fa" d="M74.6 0.0h8.3v8.4h-8.3zM97.6 0.0h8.3v8.4h-8.3zM120.6 0.0h15.9v8.4h-15.9zM174.3 0.0h8.3v8.4h-8.3zM82.3 7.8h15.9v8.4h-15.9zM120.6 7.8h15.9v8.4h-15.9zM82.3 15.7h8.3v8.4h-8.3zM90.0 23.5h8.3v8.4h-8.3zM166.7 31.4h8.3v8.4h-8.3zM82.3 39.2h15.9v8.4h-15.9zM128.3 39.2h8.3v8.4h-8.3zM128.3 47.0h8.3v8.4h-8.3zM166.7 47.0h8.3v8.4h-8.3zM90.0 54.8h15.9v8.4h-15.9zM128.3 62.6h8.3v8.4h-8.3zM166.7 62.6h8.3v8.4h-8.3zM182.0 62.6h8.3v8.4h-8.3zM90.0 70.4h8.3v8.4h-8.3zM166.7 70.4h8.3v8.4h-8.3zM182.0 70.4h8.3v8.4h-8.3zM97.6 78.2h8.3v8.4h-8.3zM120.6 78.2h8.3v8.4h-8.3zM174.3 78.2h8.3v8.4h-8.3zM97.6 86.0h8.3v8.4h-8.3zM97.6 93.8h8.3v8.4h-8.3zM128.3 101.6h8.3v8.4h-8.3zM128.3 117.1h8.3v8.4h-8.3zM128.3 124.9h8.3v8.4h-8.3zM128.3 132.7h8.3v8.4h-8.3zM136.0 148.2h8.3v8.3h-8.3zM128.3 163.7h8.3v8.3h-8.3zM174.3 163.7h15.9v8.3h-15.9zM128.3 179.1h8.3v8.3h-8.3zM182.0 179.1h8.3v8.3h-8.3zM182.0 186.8h8.3v8.3h-8.3zM128.3 194.6h8.3v8.3h-8.3zM189.7 194.6h8.3v8.3h-8.3zM189.7 217.7h8.3v8.3h-8.3zM182.0 240.8h8.3v8.3h-8.3zM113.0 263.8h8.3v8.3h-8.3zM166.7 263.8h8.3v8.3h-8.3zM67.0 279.1h8.3v8.3h-8.3zM97.6 279.1h8.3v8.3h-8.3zM113.0 286.8h8.3v8.3h-8.3zM159.0 286.8h8.3v8.3h-8.3zM44.0 294.4h8.3v8.2h-8.3zM59.3 294.4h15.9v8.2h-15.9zM120.6 302.1h8.3v8.2h-8.3zM143.7 302.1h8.3v8.2h-8.3zM159.0 302.1h8.3v8.2h-8.3zM120.6 309.7h8.3v8.2h-8.3zM143.7 309.7h8.3v8.2h-8.3zM143.7 317.4h15.9v8.2h-15.9zM36.3 332.6h8.3v8.2h-8.3zM59.3 340.2h15.9v8.2h-15.9zM67.0 347.8h8.3v8.2h-8.3z"/>
<path fill="#0000f0" d="M82.3 0.0h15.9v8.4h-15.9zM136.0 0.0h8.3v8.4h-8.3zM166.7 0.0h8.3v8.4h-8.3zM97.6 7.8h8.3v8.4h-8.3zM166.7 7.8h8.3v8.4h-8.3zM90.0 15.7h8.3v8.4h-8.3zM128.3 15.7h15.9v8.4h-15.9zM159.0 15.7h8.3v8.4h-8.3zM82.3 23.5h8.3v8.4h-8.3zM97.6 23.5h8.3v8.4h-8.3zM128.3 23.5h8.3v8.4h-8.3zM166.7 23.5h8.3v8.4h-8.3zM82.3 31.4h15.9v8.4h-15.9zM128.3 31.4h15.9v8.4h-15.9zM159.0 31.4h8.3v8.4h-8.3zM174.3 31.4h8.3v8.4h-8.3zM97.6 39.2h8.3v8.4h-8.3zM166.7 39.2h8.3v8.4h-8.3zM90.0 47.0h15.9v8.4h-15.9zM120.6 54.8h15.9v8.4h-15.9zM159.0 54.8h15.9v8.4h-15.9zM90.0 62.6h8.3v8.4h-8.3zM128.3 70.4h8.3v8.4h-8.3zM90.0 78.2h8.3v8.4h-8.3zM128.3 78.2h15.9v8.4h-15.9zM166.7 78.2h8.3v8.4h-8.3zM128.3 86.0h8.3v8.4h-8.3zM166.7 86.0h15.9v8.4h-15.9zM128.3 93.8h15.9v8.4h-15.9zM166.7 93.8h8.3v8.4h-8.3zM166.7 101.6h8.3v8.4h-8.3zM128.3 109.4h15.9v8.4h-15.9zM166.7 117.1h8.3v8.4h-8.3zM166.7 124.9h8.3v8.4h-8.3zM136.0 132.7h8.3v8.4h-8.3zM174.3 132.7h8.3v8.4h-8.3zM136.0 140.4h8.3v8.3h-8.3zM166.7 148.2h8.3v8.3h-8.3zM136.0 155.9h8.3v8.3h-8.3zM166.7 155.9h15.9v8.3h-15.9zM174.3 171.4h8.3v8.3h-8.3zM174.3 179.1h8.3v8.3h-8.3zM128.3 186.8h8.3v8.3h-8.3zM174.3 194.6h15.9v8.3h-15.9zM182.0 202.3h8.3v8.3h-8.3zM143.7 210.0h8.3v8.3h-8.3zM174.3 210.0h15.9v8.3h-15.9zM182.0 225.4h8.3v8.3h-8.3zM174.3 233.1h15.9v8.3h-15.9zM143.7 240.8h8.3v8.3h-8.3zM128.3 248.4h8.3v8.3h-8.3zM113.0 271.5h8.3v8.3h-8.3zM113.0 279.1h8.3v8.3h-8.3zM159.0 279.1h8.3v8.3h-8.3zM67.0 286.8h8.3v8.3h-8.3zM120.6 294.4h8.3v8.2h-8.3zM143.7 294.4h15.9v8.2h-15.9zM128.3 302.1h15.9v8.2h-15.9zM151.3 302.1h8.3v8.2h-8.3zM128.3 309.7h15.9v8.2h-15.9zM151.3 309.7h8.3v8.2h-8.3zM136.0 317.4h8.3v8.2h-8.3z"/>
<path fill="#0024ff" d="M105.3 0.0h8.3v8.4h-8.3zM105.3 7.8h8.3v8.4h-8.3zM174.3 7.8h8.3v8.4h-8.3zM189.7 7.8h8.3v8.4h-8.3zM189.7 23.5h8.3v8.4h-8.3zM105.3 47.0h8.3v8.4h-8.3zM105.3 54.8h8.3v8.4h-8.3zM105.3 62.6h8.3v8.4h-8.3zM189.7 70.4h8.3v8.4h-8.3zM105.3 78.2h8.3v8.4h-8.3zM189.7 86.0h8.3v8.4h-8.3zM105.3 93.8h8.3v8.4h-8.3zM113.0 109.4h8.3v8.4h-8.3zM189.7 109.4h8.3v8.4h-8.3zM182.0 117.1h8.3v8.4h-8.3zM174.3 124.9h8.3v8.4h-8.3zM189.7 148.2h8.3v8.3h-8.3zM189.7 155.9h8.3v8.3h-8.3zM197.3 179.1h8.3v8.3h-8.3zM197.3 186.8h8.3v8.3h-8.3zM197.3 202.3h15.9v8.3h-15.9zM205.0 210.0h8.3v8.3h-8.3zM197.3 217.7h8.3v8.3h-8.3zM197.3 225.4h8.3v8.3h-8.3zM197.3 240.8h8.3v8.3h-8.3zM189.7 248.4h8.3v8.3h-8.3zM59.3 302.1h8.3v8.2h-8.3zM113.0 317.4h8.3v8.2h-8.3zM36.3 325.0h8.3v8.2h-8.3zM166.7 325.0h8.3v8.2h-8.3zM120.6 340.2h15.9v8.2h-15.9zM143.7 347.8h8.3v8.2h-8.3z"/>
<path fill="#0005ff" d="M113.0 0.0h8.3v8.4h-8.3zM120.6 15.7h8.3v8.4h-8.3zM174.3 15.7h8.3v8.4h-8.3zM74.6 23.5h8.3v8.4h-8.3zM120.6 23.5h8.3v8.4h-8.3zM174.3 23.5h8.3v8.4h-8.3zM74.6 31.4h8.3v8.4h-8.3zM120.6 31.4h8.3v8.4h-8.3zM174.3 39.2h8.3v8.4h-8.3zM120.6 47.0h8.3v8.4h-8.3zM174.3 47.0h8.3v8.4h-8.3zM174.3 54.8h8.3v8.4h-8.3zM120.6 62.6h8.3v8.4h-8.3zM174.3 62.6h8.3v8.4h-8.3zM82.3 70.4h8.3v8.4h-8.3zM120.6 70.4h8.3v8.4h-8.3zM113.0 78.2h8.3v8.4h-8.3zM90.0 86.0h8.3v8.4h-8.3zM120.6 86.0h8.3v8.4h-8.3zM120.6 93.8h8.3v8.4h-8.3zM97.6 101.6h8.3v8.4h-8.3zM120.6 101.6h8.3v8.4h-8.3zM120.6 117.1h8.3v8.4h-8.3zM174.3 117.1h8.3v8.4h-8.3zM174.3 140.4h8.3v8.3h-8.3zM174.3 148.2h8.3v8.3h-8.3zM182.0 155.9h8.3v8.3h-8.3zM128.3 171.4h8.3v8.3h-8.3zM182.0 171.4h8.3v8.3h-8.3zM189.7 186.8h8.3v8.3h-8.3zM197.3 210.0h8.3v8.3h-8.3zM189.7 225.4h8.3v8.3h-8.3zM189.7 233.1h8.3v8.3h-8.3zM174.3 248.4h8.3v8.3h-8.3zM105.3 263.8h8.3v8.3h-8.3zM74.6 271.5h8.3v8.3h-8.3zM105.3 271.5h8.3v8.3h-8.3zM166.7 271.5h8.3v8.3h-8.3zM74.6 279.1h8.3v8.3h-8.3zM59.3 286.8h8.3v8.3h-8.3zM74.6 286.8h15.9v8.3h-15.9zM74.6 294.4h8.3v8.2h-8.3zM159.0 294.4h8.3v8.2h-8.3zM67.0 302.1h8.3v8.2h-8.3zM113.0 302.1h8.3v8.2h-8.3zM97.6 317.4h8.3v8.2h-8.3zM159.0 317.4h8.3v8.2h-8.3zM120.6 325.0h15.9v8.2h-15.9zM28.6 332.6h8.3v8.2h-8.3zM97.6 332.6h8.3v8.2h-8.3zM120.6 332.6h8.3v8.2h-8.3zM151.3 332.6h15.9v8.2h-15.9zM51.6 340.2h8.3v8.2h-8.3zM159.0 340.2h8.3v8.2h-8.3zM151.3 355.5h8.3v8.2h-8.3zM151.3 363.1h8.3v8.2h-8.3z"/>
<path fill="#0000db" d="M143.7 0.0h15.9v8.4h-15.9zM143.7 7.8h8.3v8.4h-8.3zM159.0 7.8h8.3v8.4h-8.3zM151.3 15.7h8.3v8.4h-8.3zM143.7 23.5h8.3v8.4h-8.3zM143.7 31.4h15.9v8.4h-15.9zM143.7 39.2h23.6v8.4h-23.6zM143.7 47.0h8.3v8.4h-8.3zM143.7 54.8h15.9v8.4h-15.9zM143.7 62.6h15.9v8.4h-15.9zM97.6 70.4h8.3v8.4h-8.3zM143.7 70.4h15.9v8.4h-15.9zM143.7 78.2h15.9v8.4h-15.9zM136.0 86.0h8.3v8.4h-8.3zM143.7 101.6h15.9v8.4h-15.9zM143.7 109.4h23.6v8.4h-23.6zM151.3 117.1h8.3v8.4h-8.3zM136.0 124.9h15.9v8.4h-15.9zM143.7 132.7h15.9v8.4h-15.9zM143.7 140.4h15.9v8.3h-15.9zM143.7 148.2h8.3v8.3h-8.3zM159.0 148.2h8.3v8.3h-8.3zM143.7 155.9h8.3v8.3h-8.3zM159.0 155.9h8.3v8.3h-8.3zM136.0 163.7h39.0v8.3h-39.0zM151.3 171.4h23.6v8.3h-23.6zM136.0 179.1h15.9v8.3h-15.9zM136.0 186.8h8.3v8.3h-8.3zM166.7 186.8h8.3v8.3h-8.3zM136.0 194.6h15.9v8.3h-15.9zM166.7 194.6h8.3v8.3h-8.3zM136.0 202.3h23.6v8.3h-23.6zM159.0 210.0h8.3v8.3h-8.3zM151.3 217.7h8.3v8.3h-8.3zM159.0 225.4h8.3v8.3h-8.3zM174.3 225.4h8.3v8.3h-8.3zM166.7 233.1h8.3v8.3h-8.3zM151.3 240.8h8.3v8.3h-8.3zM174.3 240.8h8.3v8.3h-8.3zM136.0 248.4h23.6v8.3h-23.6zM166.7 248.4h8.3v8.3h-8.3zM159.0 256.1h8.3v8.3h-8.3zM128.3 263.8h15.9v8.3h-15.9zM151.3 263.8h8.3v8.3h-8.3zM120.6 271.5h39.0v8.3h-39.0zM136.0 279.1h15.9v8.3h-15.9zM128.3 286.8h15.9v8.3h-15.9zM136.0 294.4h8.3v8.2h-8.3z"/>
<path fill="#0000e6" d="M159.0 0.0h8.3v8.4h-8.3zM136.0 7.8h8.3v8.4h-8.3zM151.3 7.8h8.3v8.4h-8.3zM97.6 15.7h8.3v8.4h-8.3zM143.7 15.7h8.3v8.4h-8.3zM166.7 15.7h8.3v8.4h-8.3zM136.0 23.5h8.3v8.4h-8.3zM159.0 23.5h8.3v8.4h-8.3zM97.6 31.4h8.3v8.4h-8.3zM136.0 39.2h8.3v8.4h-8.3zM136.0 47.0h8.3v8.4h-8.3zM151.3 47.0h15.9v8.4h-15.9zM136.0 54.8h8.3v8.4h-8.3zM97.6 62.6h8.3v8.4h-8.3zM136.0 62.6h8.3v8.4h-8.3zM159.0 62.6h8.3v8.4h-8.3zM136.0 70.4h8.3v8.4h-8.3zM159.0 70.4h8.3v8.4h-8.3zM159.0 78.2h8.3v8.4h-8.3zM143.7 86.0h8.3v8.4h-8.3zM159.0 86.0h8.3v8.4h-8.3zM143.7 93.8h8.3v8.4h-8.3zM159.0 93.8h8.3v8.4h-8.3zM136.0 101.6h8.3v8.4h-8.3zM159.0 101.6h8.3v8.4h-8.3zM166.7 109.4h8.3v8.4h-8.3zM136.0 117.1h15.9v8.4h-15.9zM159.0 117.1h8.3v8.4h-8.3zM159.0 124.9h8.3v8.4h-8.3zM159.0 132.7h15.9v8.4h-15.9zM159.0 140.4h15.9v8.3h-15.9zM136.0 171.4h8.3v8.3h-8.3zM166.7 179.1h8.3v8.3h-8.3zM174.3 186.8h8.3v8.3h-8.3zM143.7 217.7h8.3v8.3h-8.3zM182.0 217.7h8.3v8.3h-8.3zM143.7 225.4h8.3v8.3h-8.3zM143.7 233.1h8.3v8.3h-8.3zM128.3 256.1h8.3v8.3h-8.3zM151.3 256.1h8.3v8.3h-8.3zM166.7 256.1h8.3v8.3h-8.3zM120.6 263.8h8.3v8.3h-8.3zM159.0 263.8h8.3v8.3h-8.3zM159.0 271.5h8.3v8.3h-8.3zM151.3 279.1h8.3v8.3h-8.3zM120.6 286.8h8.3v8.3h-8.3zM143.7 286.8h15.9v8.3h-15.9zM128.3 294.4h8.3v8.2h-8.3z"/>
<path fill="#0038ff" d="M182.0 0.0h15.9v8.4h-15.9zM197.3 23.5h8.3v8.4h-8.3zM189.7 39.2h8.3v8.4h-8.3zM189.7 47.0h15.9v8.4h-15.9zM197.3 78.2h8.3v8.4h-8.3zM197.3 109.4h15.9v8.4h-15.9zM197.3 117.1h8.3v8.4h-8.3zM120.6 163.7h8.3v8.3h-8.3zM197.3 171.4h8.3v8.3h-8.3zM205.0 179.1h8.3v8.3h-8.3zM197.3 233.1h8.3v8.3h-8.3zM174.3 256.1h8.3v8.3h-8.3zM105.3 286.8h8.3v8.3h-8.3zM105.3 325.0h8.3v8.2h-8.3zM113.0 332.6h8.3v8.2h-8.3zM166.7 332.6h8.3v8.2h-8.3zM113.0 340.2h8.3v8.2h-8.3z"/>
<path fill="#0061ff" d="M197.3 0.0h8.3v8.4h-8.3zM205.0 47.0h8.3v8.4h-8.3zM205.0 70.4h8.3v8.4h-8.3zM205.0 78.2h8.3v8.4h-8.3zM205.0 93.8h8.3v8.4h-8.3zM212.7 101.6h8.3v8.4h-8.3zM212.7 109.4h8.3v8.4h-8.3zM113.0 117.1h8.3v8.4h-8.3zM205.0 163.7h8.3v8.3h-8.3zM120.6 171.4h8.3v8.3h-8.3zM120.6 179.1h8.3v8.3h-8.3zM220.4 186.8h8.3v8.3h-8.3zM120.6 194.6h8.3v8.3h-8.3zM120.6 202.3h8.3v8.3h-8.3zM128.3 210.0h8.3v8.3h-8.3zM120.6 233.1h8.3v8.3h-8.3zM128.3 240.8h8.3v8.3h-8.3zM205.0 240.8h8.3v8.3h-8.3zM120.6 248.4h8.3v8.3h-8.3zM113.0 256.1h8.3v8.3h-8.3zM105.3 355.5h8.3v8.2h-8.3z"/>
<path fill="#00c7ff" d="M205.0 0.0h8.3v8.4h-8.3zM235.7 93.8h8.3v8.4h-8.3zM235.7 101.6h8.3v8.4h-8.3zM228.0 109.4h8.3v8.4h-8.3zM251.0 171.4h15.9v8.3h-15.9zM235.7 179.1h8.3v8.3h-8.3zM258.7 179.1h8.3v8.3h-8.3zM251.0 186.8h15.9v8.3h-15.9zM212.7 225.4h8.3v8.3h-8.3zM243.4 225.4h8.3v8.3h-8.3zM182.0 256.1h8.3v8.3h-8.3zM189.7 263.8h8.3v8.3h-8.3zM205.0 263.8h8.3v8.3h-8.3zM174.3 271.5h8.3v8.3h-8.3zM228.0 302.1h8.3v8.2h-8.3z"/>
<path fill="#00e5ff" d="M212.7 0.0h8.3v8.4h-8.3zM220.4 132.7h8.3v8.4h-8.3zM212.7 140.4h8.3v8.3h-8.3zM274.1 202.3h8.3v8.3h-8.3zM266.4 210.0h8.3v8.3h-8.3zM212.7 233.1h8.3v8.3h-8.3zM205.0 279.1h8.3v8.3h-8.3zM189.7 286.8h8.3v8.3h-8.3zM220.4 317.4h8.3v8.2h-8.3z"/>
<path fill="#42ffbd" d="M228.0 0.0h8.3v8.4h-8.3zM251.0 93.8h8.3v8.4h-8.3zM251.0 109.4h8.3v8.4h-8.3zM266.4 140.4h8.3v8.3h-8.3zM281.7 148.2h8.3v8.3h-8.3zM235.7 163.7h8.3v8.3h-8.3zM281.7 163.7h8.3v8.3h-8.3zM297.1 217.7h8.3v8.3h-8.3zM266.4 240.8h8.3v8.3h-8.3zM304.7 240.8h8.3v8.3h-8.3zM266.4 248.4h8.3v8.3h-8.3zM281.7 248.4h8.3v8.3h-8.3zM281.7 256.1h8.3v8.3h-8.3zM297.1 263.8h8.3v8.3h-8.3zM182.0 279.1h8.3v8.3h-8.3zM281.7 279.1h8.3v8.3h-8.3zM212.7 294.4h8.3v8.2h-8.3z"/>
<path fill="#6bff94" d="M235.7 0.0h8.3v8.4h-8.3zM304.7 171.4h8.3v8.3h-8.3zM258.7 271.5h8.3v8.3h-8.3zM266.4 279.1h8.3v8.3h-8.3zM297.1 279.1h8.3v8.3h-8.3zM212.7 286.8h8.3v8.3h-8.3z"/>
<path fill="#61ff9e" d="M243.4 0.0h8.3v8.4h-8.3zM251.0 117.1h8.3v8.4h-8.3zM228.0 124.9h8.3v8.4h-8.3zM281.7 140.4h8.3v8.3h-8.3zM258.7 148.2h8.3v8.3h-8.3zM281.7 155.9h8.3v8.3h-8.3zM228.0 286.8h8.3v8.3h-8.3zM251.0 286.8h8.3v8.3h-8.3zM197.3 302.1h8.3v8.2h-8.3zM174.3 325.0h8.3v8.2h-8.3z"/>
<path fill="#80ff80" d="M251.0 0.0h8.3v8.4h-8.3zM251.0 86.0h8.3v8.4h-8.3zM266.4 124.9h8.3v8.4h-8.3zM274.1 132.7h8.3v8.4h-8.3zM289.4 140.4h8.3v8.3h-8.3zM297.1 148.2h8.3v8.3h-8.3zM297.1 186.8h8.3v8.3h-8.3zM289.4 202.3h8.3v8.3h-8.3zM312.4 202.3h8.3v8.3h-8.3zM297.1 225.4h8.3v8.3h-8.3zM312.4 225.4h8.3v8.3h-8.3zM258.7 248.4h8.3v8.3h-8.3zM297.1 248.4h8.3v8.3h-8.3zM251.0 279.1h15.9v8.3h-15.9zM235.7 286.8h8.3v8.3h-8.3zM274.1 294.4h8.3v8.2h-8.3zM182.0 325.0h8.3v8.2h-8.3z"/>
<path fill="#000fff" d="M182.0 7.8h8.3v8.4h-8.3zM182.0 23.5h8.3v8.4h-8.3zM105.3 31.4h15.9v8.4h-15.9zM74.6 39.2h8.3v8.4h-8.3zM120.6 39.2h8.3v8.4h-8.3zM82.3 47.0h8.3v8.4h-8.3zM113.0 47.0h8.3v8.4h-8.3zM82.3 54.8h8.3v8.4h-8.3zM113.0 54.8h8.3v8.4h-8.3zM113.0 70.4h8.3v8.4h-8.3zM82.3 78.2h8.3v8.4h-8.3zM182.0 78.2h8.3v8.4h-8.3zM105.3 86.0h8.3v8.4h-8.3zM90.0 93.8h8.3v8.4h-8.3zM113.0 93.8h8.3v8.4h-8.3zM174.3 93.8h8.3v8.4h-8.3zM174.3 101.6h15.9v8.4h-15.9zM97.6 109.4h8.3v8.4h-8.3zM120.6 109.4h8.3v8.4h-8.3zM182.0 124.9h8.3v8.4h-8.3zM120.6 132.7h8.3v8.4h-8.3zM189.7 171.4h8.3v8.3h-8.3zM189.7 202.3h8.3v8.3h-8.3zM136.0 210.0h8.3v8.3h-8.3zM189.7 210.0h8.3v8.3h-8.3zM189.7 240.8h8.3v8.3h-8.3zM97.6 256.1h8.3v8.3h-8.3zM67.0 271.5h8.3v8.3h-8.3zM97.6 271.5h8.3v8.3h-8.3zM59.3 279.1h8.3v8.3h-8.3zM105.3 279.1h8.3v8.3h-8.3zM166.7 279.1h8.3v8.3h-8.3zM51.6 286.8h8.3v8.3h-8.3zM97.6 286.8h8.3v8.3h-8.3zM166.7 286.8h8.3v8.3h-8.3zM51.6 294.4h8.3v8.2h-8.3zM166.7 294.4h8.3v8.2h-8.3zM74.6 302.1h8.3v8.2h-8.3zM166.7 302.1h8.3v8.2h-8.3zM159.0 309.7h15.9v8.2h-15.9zM120.6 317.4h15.9v8.2h-15.9zM166.7 317.4h8.3v8.2h-8.3zM20.9 325.0h8.3v8.2h-8.3zM44.0 325.0h8.3v8.2h-8.3zM113.0 325.0h8.3v8.2h-8.3zM143.7 325.0h23.6v8.2h-23.6zM13.3 332.6h15.9v8.2h-15.9zM44.0 332.6h8.3v8.2h-8.3zM59.3 332.6h8.3v8.2h-8.3zM74.6 332.6h8.3v8.2h-8.3zM128.3 332.6h15.9v8.2h-15.9zM28.6 340.2h8.3v8.2h-8.3zM44.0 340.2h8.3v8.2h-8.3zM74.6 340.2h8.3v8.2h-8.3zM143.7 340.2h15.9v8.2h-15.9zM51.6 347.8h15.9v8.2h-15.9zM151.3 347.8h8.3v8.2h-8.3zM97.6 355.5h8.3v8.2h-8.3zM97.6 363.1h8.3v8.2h-8.3z"/>
<path fill="#004dff" d="M197.3 7.8h8.3v8.4h-8.3zM182.0 15.7h8.3v8.4h-8.3zM197.3 31.4h8.3v8.4h-8.3zM205.0 117.1h8.3v8.4h-8.3zM189.7 124.9h8.3v8.4h-8.3zM189.7 132.7h15.9v8.4h-15.9zM197.3 148.2h8.3v8.3h-8.3zM197.3 155.9h8.3v8.3h-8.3zM212.7 186.8h8.3v8.3h-8.3zM212.7 202.3h8.3v8.3h-8.3zM205.0 217.7h8.3v8.3h-8.3zM136.0 225.4h8.3v8.3h-8.3zM136.0 233.1h8.3v8.3h-8.3zM197.3 256.1h8.3v8.3h-8.3zM128.3 347.8h8.3v8.2h-8.3z"/>
<path fill="#00b2ff" d="M205.0 7.8h8.3v8.4h-8.3zM220.4 124.9h8.3v8.4h-8.3zM212.7 163.7h8.3v8.3h-8.3zM274.1 186.8h8.3v8.3h-8.3zM258.7 194.6h8.3v8.3h-8.3zM258.7 202.3h8.3v8.3h-8.3zM243.4 210.0h15.9v8.3h-15.9zM258.7 217.7h8.3v8.3h-8.3zM220.4 225.4h8.3v8.3h-8.3zM105.3 340.2h8.3v8.2h-8.3zM105.3 363.1h8.3v8.2h-8.3z"/>
<path fill="#2effd1" d="M212.7 7.8h8.3v8.4h-8.3zM220.4 23.5h8.3v8.4h-8.3zM212.7 31.4h8.3v8.4h-8.3zM243.4 86.0h8.3v8.4h-8.3zM228.0 132.7h8.3v8.4h-8.3zM274.1 148.2h8.3v8.3h-8.3zM289.4 163.7h8.3v8.3h-8.3zM274.1 171.4h8.3v8.3h-8.3zM289.4 179.1h8.3v8.3h-8.3zM266.4 186.8h8.3v8.3h-8.3zM281.7 202.3h8.3v8.3h-8.3zM304.7 233.1h8.3v8.3h-8.3zM212.7 240.8h8.3v8.3h-8.3zM304.7 256.1h8.3v8.3h-8.3zM266.4 263.8h8.3v8.3h-8.3zM281.7 263.8h8.3v8.3h-8.3zM281.7 271.5h8.3v8.3h-8.3zM205.0 286.8h8.3v8.3h-8.3zM220.4 286.8h8.3v8.3h-8.3zM197.3 294.4h8.3v8.2h-8.3zM228.0 294.4h8.3v8.2h-8.3zM235.7 302.1h8.3v8.2h-8.3zM212.7 317.4h8.3v8.2h-8.3zM197.3 325.0h8.3v8.2h-8.3zM212.7 325.0h8.3v8.2h-8.3z"/>
<path fill="#0042ff" d="M189.7 15.7h8.3v8.4h-8.3zM189.7 31.4h8.3v8.4h-8.3zM197.3 39.2h8.3v8.4h-8.3zM189.7 54.8h8.3v8.4h-8.3zM197.3 62.6h8.3v8.4h-8.3zM197.3 93.8h8.3v8.4h-8.3zM212.7 93.8h8.3v8.4h-8.3zM197.3 101.6h15.9v8.4h-15.9zM105.3 109.4h8.3v8.4h-8.3zM197.3 124.9h8.3v8.4h-8.3zM189.7 140.4h8.3v8.3h-8.3zM205.0 171.4h15.9v8.3h-15.9zM205.0 186.8h8.3v8.3h-8.3z"/>
<path fill="#006bff" d="M197.3 15.7h8.3v8.4h-8.3zM205.0 62.6h8.3v8.4h-8.3zM212.7 86.0h15.9v8.4h-15.9zM128.3 148.2h8.3v8.3h-8.3zM113.0 155.9h8.3v8.3h-8.3zM120.6 186.8h8.3v8.3h-8.3zM228.0 186.8h8.3v8.3h-8.3zM120.6 240.8h8.3v8.3h-8.3zM105.3 256.1h8.3v8.3h-8.3z"/>
<path fill="#0094ff" d="M205.0 15.7h8.3v8.4h-8.3zM220.4 70.4h8.3v8.4h-8.3zM228.0 93.8h8.3v8.4h-8.3zM220.4 109.4h8.3v8.4h-8.3zM113.0 163.7h8.3v8.3h-8.3zM220.4 171.4h8.3v8.3h-8.3zM243.4 186.8h8.3v8.3h-8.3zM235.7 202.3h8.3v8.3h-8.3zM205.0 256.1h8.3v8.3h-8.3zM105.3 309.7h8.3v8.2h-8.3zM120.6 347.8h8.3v8.2h-8.3zM143.7 355.5h8.3v8.2h-8.3z"/>
<path fill="#24ffdb" d="M212.7 15.7h8.3v8.4h-8.3zM243.4 93.8h8.3v8.4h-8.3zM258.7 117.1h8.3v8.4h-8.3zM228.0 140.4h8.3v8.3h-8.3zM228.0 148.2h8.3v8.3h-8.3zM289.4 148.2h8.3v8.3h-8.3zM212.7 155.9h8.3v8.3h-8.3zM266.4 155.9h8.3v8.3h-8.3zM274.1 163.7h8.3v8.3h-8.3zM281.7 186.8h15.9v8.3h-15.9zM297.1 194.6h8.3v8.3h-8.3zM266.4 225.4h15.9v8.3h-15.9zM251.0 233.1h8.3v8.3h-8.3zM235.7 240.8h8.3v8.3h-8.3zM304.7 248.4h8.3v8.3h-8.3zM274.1 256.1h8.3v8.3h-8.3zM197.3 271.5h8.3v8.3h-8.3zM189.7 294.4h8.3v8.2h-8.3zM220.4 294.4h8.3v8.2h-8.3zM205.0 325.0h8.3v8.2h-8.3z"/>
<path fill="#4dffb2" d="M228.0 15.7h8.3v8.4h-8.3zM289.4 132.7h8.3v8.4h-8.3zM243.4 140.4h8.3v8.3h-8.3zM297.1 179.1h8.3v8.3h-8.3zM281.7 225.4h8.3v8.3h-8.3zM320.1 248.4h8.3v8.3h-8.3zM220.4 256.1h8.3v8.3h-8.3zM289.4 256.1h8.3v8.3h-8.3zM189.7 271.5h8.3v8.3h-8.3zM197.3 309.7h8.3v8.2h-8.3z"/>
<path fill="#0ffff0" d="M235.7 15.7h8.3v8.4h-8.3zM220.4 140.4h8.3v8.3h-8.3zM251.0 140.4h8.3v8.3h-8.3zM235.7 148.2h8.3v8.3h-8.3zM266.4 148.2h8.3v8.3h-8.3zM228.0 163.7h8.3v8.3h-8.3zM266.4 171.4h8.3v8.3h-8.3zM274.1 217.7h8.3v8.3h-8.3zM289.4 217.7h8.3v8.3h-8.3zM274.1 240.8h8.3v8.3h-8.3zM212.7 248.4h8.3v8.3h-8.3zM197.3 263.8h8.3v8.3h-8.3zM212.7 263.8h8.3v8.3h-8.3zM274.1 263.8h8.3v8.3h-8.3zM274.1 271.5h8.3v8.3h-8.3zM182.0 286.8h8.3v8.3h-8.3zM220.4 302.1h8.3v8.2h-8.3z"/>
<path fill="#0000d1" d="M151.3 23.5h8.3v8.4h-8.3zM151.3 86.0h8.3v8.4h-8.3zM151.3 93.8h8.3v8.4h-8.3zM151.3 124.9h8.3v8.4h-8.3zM151.3 148.2h8.3v8.3h-8.3zM151.3 155.9h8.3v8.3h-8.3zM151.3 179.1h15.9v8.3h-15.9zM143.7 186.8h23.6v8.3h-23.6zM151.3 194.6h15.9v8.3h-15.9zM159.0 202.3h23.6v8.3h-23.6zM151.3 210.0h8.3v8.3h-8.3zM166.7 210.0h8.3v8.3h-8.3zM159.0 217.7h8.3v8.3h-8.3zM174.3 217.7h8.3v8.3h-8.3zM166.7 225.4h8.3v8.3h-8.3zM151.3 233.1h8.3v8.3h-8.3zM159.0 240.8h15.9v8.3h-15.9zM159.0 248.4h8.3v8.3h-8.3zM136.0 256.1h15.9v8.3h-15.9zM143.7 263.8h8.3v8.3h-8.3zM120.6 279.1h15.9v8.3h-15.9z"/>
<path fill="#009eff" d="M205.0 23.5h8.3v8.4h-8.3zM228.0 101.6h8.3v8.4h-8.3zM113.0 124.9h8.3v8.4h-8.3zM205.0 148.2h8.3v8.3h-8.3zM243.4 171.4h8.3v8.3h-8.3zM220.4 179.1h8.3v8.3h-8.3zM235.7 186.8h8.3v8.3h-8.3zM243.4 202.3h8.3v8.3h-8.3zM228.0 210.0h8.3v8.3h-8.3zM228.0 217.7h8.3v8.3h-8.3zM258.7 225.4h8.3v8.3h-8.3zM105.3 347.8h8.3v8.2h-8.3zM113.0 355.5h8.3v8.2h-8.3z"/>
<path fill="#00dbff" d="M212.7 23.5h8.3v8.4h-8.3zM212.7 47.0h8.3v8.4h-8.3zM228.0 70.4h8.3v8.4h-8.3zM274.1 140.4h8.3v8.3h-8.3zM251.0 155.9h15.9v8.3h-15.9zM258.7 210.0h8.3v8.3h-8.3zM235.7 217.7h8.3v8.3h-8.3zM266.4 217.7h8.3v8.3h-8.3zM251.0 225.4h8.3v8.3h-8.3zM220.4 309.7h8.3v8.2h-8.3z"/>
<path fill="#38ffc7" d="M228.0 23.5h15.9v8.4h-15.9zM228.0 31.4h8.3v8.4h-8.3zM258.7 109.4h8.3v8.4h-8.3zM289.4 171.4h8.3v8.3h-8.3zM281.7 179.1h8.3v8.3h-8.3zM297.1 210.0h8.3v8.3h-8.3zM289.4 225.4h8.3v8.3h-8.3zM220.4 263.8h8.3v8.3h-8.3zM304.7 271.5h8.3v8.3h-8.3zM274.1 279.1h8.3v8.3h-8.3zM189.7 302.1h8.3v8.2h-8.3zM212.7 302.1h8.3v8.2h-8.3z"/>
<path fill="#75ff8a" d="M243.4 23.5h8.3v8.4h-8.3zM220.4 54.8h8.3v8.4h-8.3zM251.0 124.9h8.3v8.4h-8.3zM281.7 132.7h8.3v8.4h-8.3zM304.7 179.1h8.3v8.3h-8.3zM312.4 186.8h8.3v8.3h-8.3zM304.7 210.0h15.9v8.3h-15.9zM304.7 225.4h8.3v8.3h-8.3zM320.1 233.1h8.3v8.3h-8.3zM243.4 240.8h8.3v8.3h-8.3zM312.4 248.4h8.3v8.3h-8.3zM243.4 294.4h8.3v8.2h-8.3z"/>
<path fill="#0080ff" d="M205.0 31.4h8.3v8.4h-8.3zM212.7 54.8h8.3v8.4h-8.3zM228.0 86.0h15.9v8.4h-15.9zM220.4 93.8h8.3v8.4h-8.3zM105.3 117.1h8.3v8.4h-8.3zM120.6 140.4h8.3v8.3h-8.3zM212.7 179.1h8.3v8.3h-8.3zM243.4 179.1h8.3v8.3h-8.3zM235.7 194.6h8.3v8.3h-8.3zM228.0 202.3h8.3v8.3h-8.3zM220.4 210.0h8.3v8.3h-8.3zM189.7 256.1h8.3v8.3h-8.3zM136.0 355.5h8.3v8.2h-8.3z"/>
<path fill="#57ffa8" d="M235.7 31.4h8.3v8.4h-8.3zM258.7 124.9h8.3v8.4h-8.3zM235.7 155.9h8.3v8.3h-8.3zM297.1 163.7h8.3v8.3h-8.3zM297.1 202.3h8.3v8.3h-8.3zM320.1 210.0h8.3v8.3h-8.3zM304.7 217.7h8.3v8.3h-8.3zM297.1 233.1h8.3v8.3h-8.3zM258.7 240.8h8.3v8.3h-8.3zM297.1 240.8h8.3v8.3h-8.3zM320.1 240.8h8.3v8.3h-8.3zM289.4 263.8h8.3v8.3h-8.3zM189.7 279.1h8.3v8.3h-8.3zM182.0 302.1h8.3v8.2h-8.3zM235.7 309.7h8.3v8.2h-8.3zM205.0 317.4h8.3v8.2h-8.3zM174.3 332.6h8.3v8.2h-8.3z"/>
<path fill="#9eff61" d="M243.4 31.4h8.3v8.4h-8.3zM281.7 117.1h8.3v8.4h-8.3zM304.7 148.2h8.3v8.3h-8.3zM304.7 186.8h8.3v8.3h-8.3zM320.1 225.4h8.3v8.3h-8.3zM312.4 233.1h8.3v8.3h-8.3zM251.0 240.8h8.3v8.3h-8.3zM312.4 256.1h8.3v8.3h-8.3zM289.4 271.5h8.3v8.3h-8.3zM243.4 302.1h8.3v8.2h-8.3z"/>
<path fill="#002eff" d="M105.3 39.2h8.3v8.4h-8.3zM197.3 54.8h8.3v8.4h-8.3zM105.3 70.4h8.3v8.4h-8.3zM197.3 70.4h8.3v8.4h-8.3zM197.3 86.0h8.3v8.4h-8.3zM189.7 93.8h8.3v8.4h-8.3zM105.3 101.6h8.3v8.4h-8.3zM189.7 101.6h8.3v8.4h-8.3zM189.7 117.1h8.3v8.4h-8.3zM128.3 140.4h8.3v8.3h-8.3zM182.0 140.4h8.3v8.3h-8.3zM128.3 155.9h8.3v8.3h-8.3zM212.7 194.6h8.3v8.3h-8.3zM166.7 340.2h8.3v8.2h-8.3zM136.0 347.8h8.3v8.2h-8.3z"/>
<path fill="#00a8ff" d="M205.0 39.2h8.3v8.4h-8.3zM212.7 62.6h8.3v8.4h-8.3zM205.0 132.7h15.9v8.4h-15.9zM113.0 140.4h8.3v8.3h-8.3zM205.0 155.9h8.3v8.3h-8.3zM251.0 202.3h8.3v8.3h-8.3zM274.1 210.0h8.3v8.3h-8.3z"/>
<path fill="#00faff" d="M212.7 39.2h8.3v8.4h-8.3zM243.4 78.2h8.3v8.4h-8.3zM220.4 117.1h15.9v8.4h-15.9zM220.4 155.9h8.3v8.3h-8.3zM220.4 163.7h8.3v8.3h-8.3zM266.4 163.7h8.3v8.3h-8.3zM266.4 179.1h8.3v8.3h-8.3zM274.1 194.6h8.3v8.3h-8.3zM258.7 233.1h8.3v8.3h-8.3zM212.7 271.5h8.3v8.3h-8.3zM235.7 294.4h8.3v8.2h-8.3zM228.0 309.7h8.3v8.2h-8.3zM197.3 317.4h8.3v8.2h-8.3z"/>
<path fill="#00f0ff" d="M220.4 47.0h8.3v8.4h-8.3zM228.0 62.6h8.3v8.4h-8.3zM266.4 132.7h8.3v8.4h-8.3zM212.7 148.2h8.3v8.3h-8.3zM243.4 148.2h8.3v8.3h-8.3zM243.4 155.9h8.3v8.3h-8.3zM228.0 171.4h8.3v8.3h-8.3zM281.7 171.4h8.3v8.3h-8.3zM251.0 179.1h8.3v8.3h-8.3zM266.4 194.6h8.3v8.3h-8.3zM289.4 194.6h8.3v8.3h-8.3zM266.4 202.3h8.3v8.3h-8.3zM281.7 210.0h8.3v8.3h-8.3zM235.7 233.1h8.3v8.3h-8.3zM212.7 256.1h8.3v8.3h-8.3zM197.3 279.1h8.3v8.3h-8.3z"/>
<path fill="#008aff" d="M205.0 54.8h8.3v8.4h-8.3zM220.4 101.6h8.3v8.4h-8.3zM205.0 140.4h8.3v8.3h-8.3zM120.6 155.9h8.3v8.3h-8.3zM228.0 179.1h8.3v8.3h-8.3zM251.0 194.6h8.3v8.3h-8.3zM220.4 202.3h8.3v8.3h-8.3zM235.7 210.0h8.3v8.3h-8.3zM220.4 217.7h8.3v8.3h-8.3zM205.0 248.4h8.3v8.3h-8.3zM105.3 302.1h8.3v8.2h-8.3zM128.3 355.5h8.3v8.2h-8.3z"/>
<path fill="#00d1ff" d="M220.4 62.6h8.3v8.4h-8.3zM243.4 109.4h8.3v8.4h-8.3zM251.0 148.2h8.3v8.3h-8.3zM243.4 163.7h15.9v8.3h-15.9zM235.7 171.4h8.3v8.3h-8.3zM235.7 225.4h8.3v8.3h-8.3zM243.4 233.1h8.3v8.3h-8.3zM266.4 233.1h8.3v8.3h-8.3z"/>
<path fill="#94ff6b" d="M235.7 62.6h15.9v8.4h-15.9zM251.0 70.4h8.3v8.4h-8.3zM235.7 117.1h8.3v8.4h-8.3zM297.1 140.4h8.3v8.3h-8.3zM297.1 155.9h8.3v8.3h-8.3zM304.7 202.3h8.3v8.3h-8.3zM312.4 217.7h8.3v8.3h-8.3zM220.4 271.5h8.3v8.3h-8.3zM251.0 271.5h8.3v8.3h-8.3zM243.4 286.8h8.3v8.3h-8.3zM266.4 286.8h15.9v8.3h-15.9zM228.0 317.4h8.3v8.2h-8.3z"/>
<path fill="#8aff75" d="M251.0 62.6h8.3v8.4h-8.3zM274.1 248.4h8.3v8.3h-8.3zM258.7 256.1h8.3v8.3h-8.3zM297.1 256.1h8.3v8.3h-8.3zM258.7 263.8h8.3v8.3h-8.3zM312.4 263.8h8.3v8.3h-8.3zM205.0 294.4h8.3v8.2h-8.3z"/>
<path fill="#0057ff" d="M212.7 70.4h8.3v8.4h-8.3zM205.0 86.0h8.3v8.4h-8.3zM205.0 124.9h15.9v8.4h-15.9zM197.3 140.4h8.3v8.3h-8.3zM220.4 194.6h15.9v8.3h-15.9zM212.7 210.0h8.3v8.3h-8.3zM136.0 217.7h8.3v8.3h-8.3zM205.0 225.4h8.3v8.3h-8.3zM105.3 317.4h8.3v8.2h-8.3zM113.0 347.8h8.3v8.2h-8.3z"/>
<path fill="#00bdff" d="M235.7 70.4h8.3v8.4h-8.3zM228.0 78.2h8.3v8.4h-8.3zM258.7 163.7h8.3v8.3h-8.3zM243.4 217.7h15.9v8.3h-15.9zM174.3 263.8h8.3v8.3h-8.3zM266.4 271.5h8.3v8.3h-8.3z"/>
<path fill="#05fffa" d="M243.4 70.4h8.3v8.4h-8.3zM235.7 109.4h8.3v8.4h-8.3zM274.1 155.9h8.3v8.3h-8.3zM274.1 179.1h8.3v8.3h-8.3zM228.0 225.4h8.3v8.3h-8.3zM274.1 233.1h8.3v8.3h-8.3zM281.7 240.8h8.3v8.3h-8.3zM289.4 248.4h8.3v8.3h-8.3zM266.4 256.1h8.3v8.3h-8.3zM205.0 271.5h8.3v8.3h-8.3zM174.3 279.1h8.3v8.3h-8.3zM212.7 279.1h8.3v8.3h-8.3z"/>
<path fill="#0075ff" d="M212.7 78.2h15.9v8.4h-15.9zM235.7 78.2h8.3v8.4h-8.3zM212.7 117.1h8.3v8.4h-8.3zM113.0 132.7h8.3v8.4h-8.3zM243.4 194.6h8.3v8.3h-8.3zM212.7 217.7h8.3v8.3h-8.3zM205.0 233.1h8.3v8.3h-8.3zM197.3 248.4h8.3v8.3h-8.3zM105.3 294.4h8.3v8.2h-8.3zM105.3 332.6h8.3v8.2h-8.3z"/>
<path fill="#b3ff4c" d="M251.0 78.2h8.3v8.4h-8.3zM251.0 101.6h8.3v8.4h-8.3zM274.1 124.9h8.3v8.4h-8.3zM251.0 132.7h8.3v8.4h-8.3zM304.7 163.7h8.3v8.3h-8.3zM312.4 179.1h8.3v8.3h-8.3zM343.1 186.8h4.9v8.3h-4.9zM304.7 194.6h8.3v8.3h-8.3zM335.4 240.8h8.3v8.3h-8.3zM304.7 263.8h8.3v8.3h-8.3zM327.7 263.8h8.3v8.3h-8.3zM312.4 271.5h8.3v8.3h-8.3zM304.7 279.1h8.3v8.3h-8.3z"/>
<path fill="#1affe5" d="M243.4 101.6h8.3v8.4h-8.3zM258.7 132.7h8.3v8.4h-8.3zM235.7 140.4h8.3v8.3h-8.3zM258.7 140.4h8.3v8.3h-8.3zM289.4 155.9h8.3v8.3h-8.3zM281.7 194.6h8.3v8.3h-8.3zM289.4 210.0h8.3v8.3h-8.3zM281.7 217.7h8.3v8.3h-8.3zM281.7 233.1h15.9v8.3h-15.9zM289.4 240.8h8.3v8.3h-8.3zM174.3 286.8h8.3v8.3h-8.3zM197.3 286.8h8.3v8.3h-8.3zM182.0 294.4h8.3v8.2h-8.3z"/>
<path fill="#e50000" d="M335.4 109.4h8.3v8.4h-8.3z"/>
<path fill="#ff5700" d="M343.1 109.4h4.9v8.4h-4.9zM327.7 179.1h8.3v8.3h-8.3z"/>
<path fill="#a8ff57" d="M243.4 117.1h8.3v8.4h-8.3zM312.4 171.4h8.3v8.3h-8.3zM327.7 210.0h8.3v8.3h-8.3zM320.1 217.7h15.9v8.3h-15.9zM320.1 256.1h8.3v8.3h-8.3zM297.1 271.5h8.3v8.3h-8.3zM212.7 309.7h8.3v8.2h-8.3z"/>
<path fill="#faff05" d="M266.4 117.1h8.3v8.4h-8.3zM289.4 117.1h8.3v8.4h-8.3zM304.7 132.7h8.3v8.4h-8.3zM312.4 140.4h8.3v8.3h-8.3zM343.1 240.8h4.9v8.3h-4.9zM320.1 263.8h8.3v8.3h-8.3zM304.7 286.8h8.3v8.3h-8.3zM266.4 294.4h8.3v8.2h-8.3z"/>
<path fill="#ff0500" d="M335.4 117.1h12.6v8.4h-12.6z"/>
<path fill="#c7ff38" d="M281.7 124.9h8.3v8.4h-8.3zM235.7 132.7h8.3v8.4h-8.3zM320.1 194.6h8.3v8.3h-8.3zM327.7 225.4h8.3v8.3h-8.3zM189.7 325.0h8.3v8.2h-8.3z"/>
<path fill="#dbff24" d="M289.4 124.9h8.3v8.4h-8.3zM327.7 202.3h8.3v8.3h-8.3zM335.4 217.7h8.3v8.3h-8.3zM343.1 233.1h4.9v8.3h-4.9zM335.4 256.1h8.3v8.3h-8.3zM312.4 279.1h8.3v8.3h-8.3zM281.7 286.8h8.3v8.3h-8.3z"/>
<path fill="#f0ff0f" d="M297.1 124.9h8.3v8.4h-8.3zM297.1 171.4h8.3v8.3h-8.3zM343.1 217.7h4.9v8.3h-4.9zM327.7 248.4h8.3v8.3h-8.3zM220.4 325.0h8.3v8.2h-8.3zM212.7 332.6h8.3v8.2h-8.3z"/>
<path fill="#ff2e00" d="M335.4 124.9h8.3v8.4h-8.3z"/>
<path fill="#db0000" d="M343.1 124.9h4.9v8.4h-4.9zM289.4 286.8h8.3v8.3h-8.3zM327.7 294.4h8.3v8.2h-8.3zM312.4 302.1h8.3v8.2h-8.3z"/>
<path fill="#ffd100" d="M297.1 132.7h8.3v8.4h-8.3zM343.1 256.1h4.9v8.3h-4.9zM343.1 263.8h4.9v8.3h-4.9zM205.0 332.6h8.3v8.2h-8.3z"/>
<path fill="#ff6b00" d="M343.1 132.7h4.9v8.4h-4.9zM343.1 163.7h4.9v8.3h-4.9zM320.1 171.4h8.3v8.3h-8.3zM289.4 279.1h8.3v8.3h-8.3zM297.1 286.8h8.3v8.3h-8.3z"/>
<path fill="#fff000" d="M304.7 140.4h8.3v8.3h-8.3zM320.1 271.5h8.3v8.3h-8.3zM343.1 279.1h4.9v8.3h-4.9z"/>
<path fill="#b30000" d="M343.1 140.4h4.9v8.3h-4.9zM274.1 302.1h8.3v8.2h-8.3z"/>
<path fill="#ffdb00" d="M312.4 148.2h8.3v8.3h-8.3zM335.4 233.1h8.3v8.3h-8.3zM312.4 294.4h8.3v8.2h-8.3zM182.0 309.7h8.3v8.2h-8.3z"/>
<path fill="#ff6100" d="M343.1 148.2h4.9v8.3h-4.9zM243.4 309.7h8.3v8.2h-8.3zM197.3 340.2h8.3v8.2h-8.3z"/>
<path fill="#bdff42" d="M304.7 155.9h8.3v8.3h-8.3zM312.4 240.8h8.3v8.3h-8.3zM327.7 240.8h8.3v8.3h-8.3zM327.7 271.5h8.3v8.3h-8.3zM251.0 294.4h8.3v8.2h-8.3z"/>
<path fill="#ffb300" d="M312.4 155.9h8.3v8.3h-8.3zM335.4 194.6h8.3v8.3h-8.3zM343.1 225.4h4.9v8.3h-4.9zM182.0 263.8h8.3v8.3h-8.3zM335.4 271.5h8.3v8.3h-8.3zM312.4 286.8h8.3v8.3h-8.3zM281.7 294.4h8.3v8.2h-8.3z"/>
<path fill="#c70000" d="M343.1 155.9h4.9v8.3h-4.9zM343.1 171.4h4.9v8.3h-4.9zM335.4 286.8h8.3v8.3h-8.3z"/>
<path fill="#ffe500" d="M312.4 163.7h8.3v8.3h-8.3zM327.7 186.8h8.3v8.3h-8.3zM343.1 210.0h4.9v8.3h-4.9zM327.7 279.1h8.3v8.3h-8.3z"/>
<path fill="#ff0f00" d="M320.1 163.7h8.3v8.3h-8.3zM335.4 294.4h8.3v8.2h-8.3z"/>
<path fill="#0000c7" d="M143.7 171.4h8.3v8.3h-8.3zM166.7 217.7h8.3v8.3h-8.3zM151.3 225.4h8.3v8.3h-8.3zM159.0 233.1h8.3v8.3h-8.3z"/>
<path fill="#ff7500" d="M320.1 179.1h8.3v8.3h-8.3zM205.0 302.1h8.3v8.2h-8.3z"/>
<path fill="#ffbd00" d="M335.4 179.1h8.3v8.3h-8.3zM343.1 194.6h4.9v8.3h-4.9z"/>
<path fill="#ffa800" d="M343.1 179.1h4.9v8.3h-4.9zM335.4 186.8h8.3v8.3h-8.3z"/>
<path fill="#ff9400" d="M320.1 186.8h8.3v8.3h-8.3zM304.7 294.4h8.3v8.2h-8.3zM266.4 302.1h8.3v8.2h-8.3zM189.7 309.7h8.3v8.2h-8.3z"/>
<path fill="#d1ff2e" d="M312.4 194.6h8.3v8.3h-8.3zM335.4 225.4h8.3v8.3h-8.3zM327.7 233.1h8.3v8.3h-8.3z"/>
<path fill="#fffa00" d="M327.7 194.6h8.3v8.3h-8.3zM335.4 210.0h8.3v8.3h-8.3zM343.1 271.5h4.9v8.3h-4.9z"/>
<path fill="#ff9e00" d="M320.1 202.3h8.3v8.3h-8.3zM297.1 294.4h8.3v8.2h-8.3zM235.7 317.4h8.3v8.2h-8.3z"/>
<path fill="#e5ff1a" d="M335.4 202.3h8.3v8.3h-8.3zM335.4 248.4h8.3v8.3h-8.3zM327.7 256.1h8.3v8.3h-8.3zM220.4 279.1h8.3v8.3h-8.3zM197.3 332.6h8.3v8.2h-8.3z"/>
<path fill="#ff4c00" d="M343.1 202.3h4.9v8.3h-4.9z"/>
<path fill="#ff8a00" d="M343.1 248.4h4.9v8.3h-4.9zM335.4 263.8h8.3v8.3h-8.3zM335.4 279.1h8.3v8.3h-8.3zM174.3 294.4h8.3v8.2h-8.3zM251.0 302.1h8.3v8.2h-8.3zM228.0 325.0h8.3v8.2h-8.3z"/>
<path fill="#ff8000" d="M320.1 279.1h8.3v8.3h-8.3z"/>
<path fill="#ff3800" d="M258.7 286.8h8.3v8.3h-8.3zM304.7 302.1h8.3v8.2h-8.3z"/>
<path fill="#800000" d="M320.1 286.8h8.3v8.3h-8.3zM343.1 294.4h4.9v8.2h-4.9zM182.0 340.2h8.3v8.2h-8.3z"/>
<path fill="#ff4200" d="M327.7 286.8h8.3v8.3h-8.3z"/>
<path fill="#940000" d="M343.1 286.8h4.9v8.3h-4.9zM297.1 302.1h8.3v8.2h-8.3z"/>
<path fill="#a80000" d="M281.7 302.1h8.3v8.2h-8.3z"/>
<path fill="#bd0000" d="M182.0 332.6h8.3v8.2h-8.3z"/>
<path fill="#ff1a00" d="M189.7 332.6h8.3v8.2h-8.3z"/>
<path fill="#fa0000" d="M174.3 340.2h8.3v8.2h-8.3z"/>
<path fill="#f00000" d="M189.7 340.2h8.3v8.2h-8.3z"/>
</g>
<use href="#land"/>
<use href="#gridl" clip-path="url(#cpl)" opacity="0.55"/>
<g fill="none" stroke="#000" stroke-width="1" stroke-linejoin="round"><polyline points="212.6,-0.3 207.3,10.4 208.3,25.5 213.7,36.2"/><polyline points="216.9,51.3 220.2,55.6"/><polyline points="229.9,69.6 232.0,83.6 225.6,92.2 230.9,99.7"/><polyline points="228.8,135.2 228.8,146.0 221.3,140.6 210.5,155.6"/><polyline points="234.2,161.0 234.2,155.6 240.6,147.0 251.4,153.5 266.4,152.4 275.0,167.5 270.7,178.2 258.9,186.8 275.0,201.9 281.5,198.7 284.7,210.5 266.4,217.6"/><polyline points="83.6,78.2 92.2,92.2 96.5,109.4 101.8,123.4"/><polyline points="68.5,7.2 75.0,1.8"/><polyline points="87.9,0.7 91.1,4.0 94.3,0.7"/><text x="232.4" y="114.8" font-size="11" fill="#000" stroke="none" text-anchor="middle" transform="rotate(80 232.4 114.8)">1.25</text><text x="220.2" y="169.6" font-size="11" fill="#000" stroke="none" text-anchor="middle" transform="rotate(55 220.2 169.6)">1.25</text><polyline points="266.4,216.1 258.9,231.2 277.2,229.0 287.9,216.1 272.9,211.8"/><polyline points="221.3,238.7 235.2,230.1 252.4,245.2 257.8,246.2"/><polyline points="211.6,251.6 204.0,253.8 205.1,263.4"/><polyline points="184.7,264.5 171.8,277.4 183.6,293.6 170.7,304.3"/><polyline points="99.7,294.6 108.3,301.1 106.1,303.2"/><polyline points="170.7,329.1 173.9,338.7 170.7,346.3"/><polyline points="50.2,295.7 53.4,302.2"/><polyline points="97.5,325.8 98.6,333.4"/><text x="269.0" y="243.0" font-size="11" fill="#000" stroke="none" text-anchor="middle" transform="rotate(-60 269.0 243.0)">1.25</text><text x="198.7" y="266.0" font-size="11" fill="#000" stroke="none" text-anchor="middle" transform="rotate(15 198.7 266.0)">1.25</text></g>
<use href="#sites"/>
</g>
<use href="#frame"/>
<text x="173.5" y="-12" text-anchor="middle" font-size="20.5" font-weight="bold">GDOP TotalErrors (1.25)</text>
<rect x="3.6" y="20.0" width="113.7" height="25.0" fill="url(#jet)" stroke="#262626" stroke-width="1"/>
<text x="3.0" y="7.2" text-anchor="middle" font-size="17" fill="#262626">0</text>
<text x="59.0" y="7.2" text-anchor="middle" font-size="17" fill="#262626">2</text>
<text x="116.0" y="7.2" text-anchor="middle" font-size="17" fill="#262626">4</text>
<text x="284.0" y="37.0" font-size="20.5" fill="#000">10 km</text><line x1="307.0" y1="43.5" x2="320.5" y2="43.5" stroke="#000" stroke-width="3.2" stroke-linecap="round"/>
</g>
<g transform="translate(843.5,142.5)">
<use href="#axl"/>
<g clip-path="url(#cp)">
<use href="#gridl"/>
<g shape-rendering="crispEdges">
<path fill="#0042ff" d="M67.0 0.0h8.3v8.4h-8.3zM182.0 0.0h8.3v8.4h-8.3zM182.0 23.5h8.3v8.4h-8.3zM228.0 23.5h8.3v8.4h-8.3zM205.0 31.4h8.3v8.4h-8.3zM189.7 39.2h8.3v8.4h-8.3zM197.3 54.8h8.3v8.4h-8.3zM220.4 54.8h8.3v8.4h-8.3zM189.7 70.4h8.3v8.4h-8.3zM205.0 78.2h8.3v8.4h-8.3zM205.0 86.0h8.3v8.4h-8.3zM220.4 86.0h8.3v8.4h-8.3zM212.7 101.6h8.3v8.4h-8.3zM205.0 109.4h8.3v8.4h-8.3zM228.0 109.4h8.3v8.4h-8.3zM205.0 117.1h8.3v8.4h-8.3zM212.7 124.9h8.3v8.4h-8.3zM235.7 124.9h8.3v8.4h-8.3zM228.0 132.7h8.3v8.4h-8.3zM220.4 148.2h8.3v8.3h-8.3zM251.0 148.2h8.3v8.3h-8.3zM243.4 179.1h8.3v8.3h-8.3zM220.4 186.8h8.3v8.3h-8.3zM235.7 202.3h8.3v8.3h-8.3zM228.0 217.7h8.3v8.3h-8.3zM220.4 233.1h8.3v8.3h-8.3zM235.7 240.8h8.3v8.3h-8.3zM258.7 248.4h8.3v8.3h-8.3zM228.0 263.8h8.3v8.3h-8.3zM243.4 271.5h8.3v8.3h-8.3zM205.0 279.1h8.3v8.3h-8.3zM90.0 286.8h8.3v8.3h-8.3zM113.0 286.8h15.9v8.3h-15.9zM174.3 286.8h15.9v8.3h-15.9zM235.7 286.8h8.3v8.3h-8.3zM174.3 294.4h8.3v8.2h-8.3zM67.0 302.1h8.3v8.2h-8.3zM143.7 309.7h8.3v8.2h-8.3zM205.0 309.7h8.3v8.2h-8.3zM136.0 325.0h8.3v8.2h-8.3zM205.0 325.0h8.3v8.2h-8.3zM189.7 340.2h8.3v8.2h-8.3zM90.0 347.8h8.3v8.2h-8.3zM105.3 347.8h15.9v8.2h-15.9zM128.3 355.5h8.3v8.2h-8.3zM67.0 363.1h8.3v8.2h-8.3zM128.3 363.1h8.3v8.2h-8.3z"/>
<path fill="#00e5ff" d="M74.6 0.0h8.3v8.4h-8.3zM113.0 0.0h8.3v8.4h-8.3zM136.0 31.4h8.3v8.4h-8.3zM120.6 39.2h8.3v8.4h-8.3zM136.0 39.2h8.3v8.4h-8.3zM128.3 86.0h8.3v8.4h-8.3zM105.3 132.7h8.3v8.4h-8.3zM174.3 148.2h8.3v8.3h-8.3zM166.7 163.7h8.3v8.3h-8.3zM174.3 202.3h8.3v8.3h-8.3zM151.3 217.7h8.3v8.3h-8.3zM182.0 217.7h8.3v8.3h-8.3z"/>
<path fill="#00f0ff" d="M82.3 0.0h8.3v8.4h-8.3zM105.3 7.8h8.3v8.4h-8.3zM128.3 7.8h8.3v8.4h-8.3zM128.3 23.5h8.3v8.4h-8.3zM120.6 62.6h15.9v8.4h-15.9zM128.3 70.4h8.3v8.4h-8.3zM143.7 117.1h8.3v8.4h-8.3zM166.7 140.4h8.3v8.3h-8.3zM166.7 171.4h8.3v8.3h-8.3zM189.7 179.1h8.3v8.3h-8.3zM159.0 217.7h8.3v8.3h-8.3zM151.3 263.8h8.3v8.3h-8.3zM36.3 302.1h8.3v8.2h-8.3zM51.6 325.0h8.3v8.2h-8.3zM74.6 332.6h8.3v8.2h-8.3z"/>
<path fill="#4dffb2" d="M90.0 0.0h8.3v8.4h-8.3zM90.0 7.8h8.3v8.4h-8.3zM120.6 47.0h8.3v8.4h-8.3zM113.0 101.6h8.3v8.4h-8.3zM128.3 101.6h8.3v8.4h-8.3zM97.6 109.4h8.3v8.4h-8.3zM143.7 124.9h8.3v8.4h-8.3zM128.3 179.1h8.3v8.3h-8.3zM128.3 210.0h8.3v8.3h-8.3zM151.3 240.8h8.3v8.3h-8.3zM28.6 325.0h8.3v8.2h-8.3z"/>
<path fill="#38ffc7" d="M97.6 0.0h8.3v8.4h-8.3zM82.3 54.8h8.3v8.4h-8.3zM105.3 54.8h15.9v8.4h-15.9zM120.6 70.4h8.3v8.4h-8.3zM97.6 78.2h8.3v8.4h-8.3zM128.3 78.2h8.3v8.4h-8.3zM143.7 109.4h8.3v8.4h-8.3zM120.6 179.1h8.3v8.3h-8.3zM128.3 186.8h8.3v8.3h-8.3zM159.0 186.8h8.3v8.3h-8.3zM174.3 194.6h8.3v8.3h-8.3zM151.3 225.4h15.9v8.3h-15.9zM113.0 263.8h15.9v8.3h-15.9zM44.0 325.0h8.3v8.2h-8.3z"/>
<path fill="#42ffbd" d="M105.3 0.0h8.3v8.4h-8.3zM74.6 15.7h8.3v8.4h-8.3zM105.3 78.2h8.3v8.4h-8.3zM105.3 86.0h8.3v8.4h-8.3zM136.0 109.4h8.3v8.4h-8.3zM136.0 179.1h8.3v8.3h-8.3zM159.0 179.1h8.3v8.3h-8.3zM159.0 202.3h8.3v8.3h-8.3zM90.0 256.1h8.3v8.3h-8.3z"/>
<path fill="#00bdff" d="M120.6 0.0h8.3v8.4h-8.3zM67.0 7.8h8.3v8.4h-8.3zM120.6 23.5h8.3v8.4h-8.3zM74.6 39.2h8.3v8.4h-8.3zM143.7 39.2h23.6v8.4h-23.6zM143.7 47.0h8.3v8.4h-8.3zM143.7 70.4h8.3v8.4h-8.3zM174.3 109.4h8.3v8.4h-8.3zM189.7 171.4h8.3v8.3h-8.3zM197.3 194.6h8.3v8.3h-8.3zM67.0 271.5h8.3v8.3h-8.3zM82.3 271.5h8.3v8.3h-8.3zM74.6 317.4h8.3v8.2h-8.3zM20.9 325.0h8.3v8.2h-8.3zM67.0 325.0h8.3v8.2h-8.3z"/>
<path fill="#00a8ff" d="M128.3 0.0h8.3v8.4h-8.3zM113.0 7.8h8.3v8.4h-8.3zM143.7 15.7h8.3v8.4h-8.3zM74.6 23.5h8.3v8.4h-8.3zM143.7 31.4h8.3v8.4h-8.3zM166.7 117.1h8.3v8.4h-8.3zM189.7 132.7h8.3v8.4h-8.3zM189.7 155.9h8.3v8.3h-8.3zM174.3 163.7h8.3v8.3h-8.3zM189.7 163.7h15.9v8.3h-15.9zM205.0 179.1h8.3v8.3h-8.3zM136.0 186.8h8.3v8.3h-8.3zM120.6 194.6h8.3v8.3h-8.3zM120.6 202.3h8.3v8.3h-8.3zM197.3 225.4h8.3v8.3h-8.3zM166.7 240.8h8.3v8.3h-8.3zM189.7 248.4h15.9v8.3h-15.9zM151.3 271.5h8.3v8.3h-8.3zM120.6 279.1h8.3v8.3h-8.3zM82.3 325.0h8.3v8.2h-8.3zM59.3 332.6h8.3v8.2h-8.3zM82.3 332.6h8.3v8.2h-8.3zM36.3 340.2h8.3v8.2h-8.3zM51.6 340.2h8.3v8.2h-8.3zM82.3 340.2h8.3v8.2h-8.3z"/>
<path fill="#0075ff" d="M136.0 0.0h8.3v8.4h-8.3zM174.3 0.0h8.3v8.4h-8.3zM159.0 7.8h8.3v8.4h-8.3zM159.0 31.4h15.9v8.4h-15.9zM166.7 54.8h8.3v8.4h-8.3zM159.0 62.6h8.3v8.4h-8.3zM166.7 78.2h8.3v8.4h-8.3zM182.0 93.8h8.3v8.4h-8.3zM182.0 109.4h8.3v8.4h-8.3zM197.3 109.4h8.3v8.4h-8.3zM182.0 117.1h8.3v8.4h-8.3zM205.0 132.7h15.9v8.4h-15.9zM197.3 140.4h8.3v8.3h-8.3zM228.0 163.7h8.3v8.3h-8.3zM212.7 186.8h8.3v8.3h-8.3zM228.0 186.8h8.3v8.3h-8.3zM212.7 233.1h8.3v8.3h-8.3zM228.0 248.4h8.3v8.3h-8.3zM166.7 256.1h8.3v8.3h-8.3zM205.0 263.8h8.3v8.3h-8.3zM166.7 271.5h8.3v8.3h-8.3zM189.7 271.5h8.3v8.3h-8.3zM143.7 286.8h8.3v8.3h-8.3zM113.0 294.4h8.3v8.2h-8.3zM166.7 294.4h8.3v8.2h-8.3zM59.3 302.1h8.3v8.2h-8.3zM90.0 309.7h8.3v8.2h-8.3zM113.0 317.4h8.3v8.2h-8.3zM128.3 317.4h8.3v8.2h-8.3zM105.3 325.0h8.3v8.2h-8.3zM143.7 325.0h8.3v8.2h-8.3zM59.3 347.8h8.3v8.2h-8.3z"/>
<path fill="#00b2ff" d="M143.7 0.0h8.3v8.4h-8.3zM128.3 15.7h8.3v8.4h-8.3zM128.3 54.8h8.3v8.4h-8.3zM143.7 78.2h15.9v8.4h-15.9zM151.3 86.0h8.3v8.4h-8.3zM151.3 109.4h8.3v8.4h-8.3zM189.7 109.4h8.3v8.4h-8.3zM174.3 124.9h8.3v8.4h-8.3zM174.3 210.0h8.3v8.3h-8.3zM212.7 210.0h8.3v8.3h-8.3zM189.7 225.4h8.3v8.3h-8.3zM189.7 240.8h8.3v8.3h-8.3zM166.7 248.4h8.3v8.3h-8.3zM182.0 248.4h8.3v8.3h-8.3zM113.0 271.5h8.3v8.3h-8.3zM159.0 271.5h8.3v8.3h-8.3zM128.3 279.1h8.3v8.3h-8.3zM51.6 302.1h8.3v8.2h-8.3zM74.6 309.7h8.3v8.2h-8.3zM67.0 317.4h8.3v8.2h-8.3zM90.0 317.4h8.3v8.2h-8.3z"/>
<path fill="#0057ff" d="M151.3 0.0h8.3v8.4h-8.3zM166.7 0.0h8.3v8.4h-8.3zM182.0 15.7h8.3v8.4h-8.3zM166.7 23.5h15.9v8.4h-15.9zM189.7 23.5h8.3v8.4h-8.3zM182.0 31.4h23.6v8.4h-23.6zM166.7 47.0h15.9v8.4h-15.9zM174.3 54.8h8.3v8.4h-8.3zM205.0 70.4h8.3v8.4h-8.3zM197.3 78.2h8.3v8.4h-8.3zM197.3 86.0h8.3v8.4h-8.3zM189.7 93.8h8.3v8.4h-8.3zM205.0 101.6h8.3v8.4h-8.3zM197.3 117.1h8.3v8.4h-8.3zM182.0 124.9h8.3v8.4h-8.3zM235.7 140.4h8.3v8.3h-8.3zM228.0 155.9h15.9v8.3h-15.9zM120.6 171.4h8.3v8.3h-8.3zM220.4 171.4h15.9v8.3h-15.9zM251.0 186.8h8.3v8.3h-8.3zM212.7 194.6h8.3v8.3h-8.3zM220.4 202.3h8.3v8.3h-8.3zM220.4 217.7h8.3v8.3h-8.3zM228.0 233.1h8.3v8.3h-8.3zM251.0 240.8h8.3v8.3h-8.3zM212.7 256.1h23.6v8.3h-23.6zM235.7 263.8h8.3v8.3h-8.3zM67.0 279.1h8.3v8.3h-8.3zM105.3 294.4h8.3v8.2h-8.3zM120.6 294.4h23.6v8.2h-23.6zM159.0 294.4h8.3v8.2h-8.3zM166.7 302.1h8.3v8.2h-8.3zM189.7 302.1h8.3v8.2h-8.3zM205.0 302.1h8.3v8.2h-8.3zM82.3 309.7h8.3v8.2h-8.3zM105.3 309.7h15.9v8.2h-15.9zM136.0 309.7h8.3v8.2h-8.3zM159.0 309.7h8.3v8.2h-8.3zM120.6 317.4h8.3v8.2h-8.3zM143.7 317.4h8.3v8.2h-8.3zM113.0 325.0h8.3v8.2h-8.3zM166.7 325.0h8.3v8.2h-8.3zM90.0 340.2h8.3v8.2h-8.3zM67.0 355.5h8.3v8.2h-8.3zM74.6 363.1h8.3v8.2h-8.3z"/>
<path fill="#004dff" d="M159.0 0.0h8.3v8.4h-8.3zM182.0 7.8h8.3v8.4h-8.3zM174.3 15.7h8.3v8.4h-8.3zM159.0 54.8h8.3v8.4h-8.3zM182.0 78.2h8.3v8.4h-8.3zM189.7 86.0h8.3v8.4h-8.3zM212.7 93.8h15.9v8.4h-15.9zM189.7 101.6h8.3v8.4h-8.3zM228.0 117.1h8.3v8.4h-8.3zM220.4 124.9h8.3v8.4h-8.3zM243.4 124.9h8.3v8.4h-8.3zM243.4 140.4h8.3v8.3h-8.3zM212.7 148.2h8.3v8.3h-8.3zM228.0 148.2h8.3v8.3h-8.3zM205.0 155.9h8.3v8.3h-8.3zM235.7 163.7h8.3v8.3h-8.3zM243.4 171.4h8.3v8.3h-8.3zM220.4 179.1h8.3v8.3h-8.3zM228.0 202.3h8.3v8.3h-8.3zM243.4 202.3h8.3v8.3h-8.3zM258.7 210.0h8.3v8.3h-8.3zM197.3 217.7h8.3v8.3h-8.3zM212.7 217.7h8.3v8.3h-8.3zM258.7 217.7h8.3v8.3h-8.3zM266.4 248.4h8.3v8.3h-8.3zM235.7 256.1h8.3v8.3h-8.3zM243.4 263.8h8.3v8.3h-8.3zM228.0 271.5h8.3v8.3h-8.3zM90.0 279.1h8.3v8.3h-8.3zM166.7 279.1h8.3v8.3h-8.3zM82.3 286.8h8.3v8.3h-8.3zM67.0 294.4h8.3v8.2h-8.3zM151.3 294.4h8.3v8.2h-8.3zM97.6 302.1h8.3v8.2h-8.3zM120.6 302.1h8.3v8.2h-8.3zM174.3 302.1h8.3v8.2h-8.3zM67.0 309.7h8.3v8.2h-8.3zM128.3 309.7h8.3v8.2h-8.3zM136.0 317.4h8.3v8.2h-8.3zM151.3 317.4h31.3v8.2h-31.3zM189.7 317.4h8.3v8.2h-8.3zM205.0 317.4h8.3v8.2h-8.3zM189.7 325.0h8.3v8.2h-8.3zM128.3 332.6h8.3v8.2h-8.3zM197.3 332.6h8.3v8.2h-8.3zM113.0 340.2h8.3v8.2h-8.3zM212.7 340.2h8.3v8.2h-8.3zM82.3 347.8h8.3v8.2h-8.3zM97.6 347.8h8.3v8.2h-8.3z"/>
<path fill="#0019ff" d="M189.7 0.0h8.3v8.4h-8.3zM243.4 0.0h8.3v8.4h-8.3zM197.3 23.5h8.3v8.4h-8.3zM212.7 31.4h15.9v8.4h-15.9zM258.7 31.4h8.3v8.4h-8.3zM220.4 39.2h8.3v8.4h-8.3zM220.4 70.4h8.3v8.4h-8.3zM228.0 78.2h8.3v8.4h-8.3zM243.4 78.2h8.3v8.4h-8.3zM251.0 93.8h15.9v8.4h-15.9zM243.4 101.6h8.3v8.4h-8.3zM266.4 101.6h8.3v8.4h-8.3zM220.4 109.4h8.3v8.4h-8.3zM335.4 109.4h8.3v8.4h-8.3zM251.0 117.1h8.3v8.4h-8.3zM228.0 124.9h8.3v8.4h-8.3zM243.4 132.7h8.3v8.4h-8.3zM258.7 140.4h8.3v8.3h-8.3zM281.7 148.2h8.3v8.3h-8.3zM220.4 155.9h8.3v8.3h-8.3zM251.0 171.4h15.9v8.3h-15.9zM212.7 179.1h8.3v8.3h-8.3zM312.4 179.1h8.3v8.3h-8.3zM312.4 186.8h8.3v8.3h-8.3zM266.4 194.6h15.9v8.3h-15.9zM266.4 202.3h8.3v8.3h-8.3zM281.7 225.4h8.3v8.3h-8.3zM304.7 225.4h8.3v8.3h-8.3zM235.7 233.1h15.9v8.3h-15.9zM281.7 233.1h8.3v8.3h-8.3zM297.1 240.8h8.3v8.3h-8.3zM281.7 248.4h23.6v8.3h-23.6zM251.0 256.1h8.3v8.3h-8.3zM274.1 256.1h15.9v8.3h-15.9zM251.0 263.8h8.3v8.3h-8.3zM281.7 263.8h8.3v8.3h-8.3zM220.4 271.5h8.3v8.3h-8.3zM235.7 271.5h8.3v8.3h-8.3zM220.4 279.1h8.3v8.3h-8.3zM235.7 279.1h8.3v8.3h-8.3zM327.7 279.1h8.3v8.3h-8.3zM220.4 294.4h8.3v8.2h-8.3zM251.0 294.4h8.3v8.2h-8.3zM212.7 302.1h8.3v8.2h-8.3zM228.0 302.1h8.3v8.2h-8.3zM174.3 309.7h8.3v8.2h-8.3zM212.7 309.7h15.9v8.2h-15.9zM243.4 309.7h15.9v8.2h-15.9zM235.7 317.4h8.3v8.2h-8.3zM228.0 325.0h8.3v8.2h-8.3zM220.4 332.6h8.3v8.2h-8.3zM120.6 340.2h8.3v8.2h-8.3zM266.4 340.2h8.3v8.2h-8.3zM120.6 347.8h8.3v8.2h-8.3zM143.7 347.8h8.3v8.2h-8.3zM105.3 355.5h8.3v8.2h-8.3z"/>
<path fill="#000fff" d="M197.3 0.0h8.3v8.4h-8.3zM212.7 0.0h8.3v8.4h-8.3zM197.3 7.8h8.3v8.4h-8.3zM212.7 7.8h8.3v8.4h-8.3zM228.0 7.8h8.3v8.4h-8.3zM212.7 23.5h8.3v8.4h-8.3zM251.0 23.5h8.3v8.4h-8.3zM212.7 39.2h8.3v8.4h-8.3zM197.3 47.0h8.3v8.4h-8.3zM258.7 47.0h8.3v8.4h-8.3zM220.4 62.6h8.3v8.4h-8.3zM281.7 62.6h8.3v8.4h-8.3zM212.7 70.4h8.3v8.4h-8.3zM228.0 70.4h15.9v8.4h-15.9zM258.7 70.4h23.6v8.4h-23.6zM251.0 78.2h8.3v8.4h-8.3zM243.4 86.0h8.3v8.4h-8.3zM243.4 93.8h8.3v8.4h-8.3zM266.4 109.4h8.3v8.4h-8.3zM258.7 117.1h8.3v8.4h-8.3zM281.7 117.1h8.3v8.4h-8.3zM251.0 132.7h8.3v8.4h-8.3zM304.7 140.4h8.3v8.3h-8.3zM289.4 155.9h8.3v8.3h-8.3zM266.4 171.4h8.3v8.3h-8.3zM281.7 171.4h8.3v8.3h-8.3zM258.7 179.1h8.3v8.3h-8.3zM281.7 179.1h8.3v8.3h-8.3zM266.4 186.8h8.3v8.3h-8.3zM289.4 186.8h8.3v8.3h-8.3zM297.1 210.0h8.3v8.3h-8.3zM243.4 225.4h8.3v8.3h-8.3zM258.7 225.4h8.3v8.3h-8.3zM320.1 240.8h8.3v8.3h-8.3zM289.4 256.1h8.3v8.3h-8.3zM274.1 263.8h8.3v8.3h-8.3zM289.4 263.8h8.3v8.3h-8.3zM312.4 263.8h8.3v8.3h-8.3zM212.7 279.1h8.3v8.3h-8.3zM274.1 279.1h8.3v8.3h-8.3zM97.6 286.8h8.3v8.3h-8.3zM243.4 286.8h31.3v8.3h-31.3zM289.4 286.8h8.3v8.3h-8.3zM205.0 294.4h15.9v8.2h-15.9zM243.4 294.4h8.3v8.2h-8.3zM220.4 302.1h8.3v8.2h-8.3zM243.4 302.1h15.9v8.2h-15.9zM289.4 302.1h8.3v8.2h-8.3zM228.0 317.4h8.3v8.2h-8.3zM251.0 317.4h8.3v8.2h-8.3zM182.0 325.0h8.3v8.2h-8.3zM212.7 325.0h8.3v8.2h-8.3zM243.4 325.0h8.3v8.2h-8.3zM258.7 325.0h15.9v8.2h-15.9zM182.0 332.6h8.3v8.2h-8.3zM228.0 332.6h8.3v8.2h-8.3zM220.4 340.2h8.3v8.2h-8.3z"/>
<path fill="#0024ff" d="M205.0 0.0h8.3v8.4h-8.3zM189.7 15.7h8.3v8.4h-8.3zM212.7 15.7h8.3v8.4h-8.3zM228.0 15.7h8.3v8.4h-8.3zM205.0 23.5h8.3v8.4h-8.3zM243.4 31.4h8.3v8.4h-8.3zM258.7 39.2h8.3v8.4h-8.3zM189.7 47.0h8.3v8.4h-8.3zM228.0 47.0h8.3v8.4h-8.3zM197.3 62.6h15.9v8.4h-15.9zM212.7 86.0h8.3v8.4h-8.3zM220.4 101.6h8.3v8.4h-8.3zM251.0 101.6h15.9v8.4h-15.9zM258.7 109.4h8.3v8.4h-8.3zM212.7 117.1h8.3v8.4h-8.3zM235.7 117.1h8.3v8.4h-8.3zM258.7 124.9h8.3v8.4h-8.3zM266.4 132.7h8.3v8.4h-8.3zM251.0 140.4h8.3v8.3h-8.3zM235.7 148.2h8.3v8.3h-8.3zM258.7 148.2h8.3v8.3h-8.3zM243.4 163.7h15.9v8.3h-15.9zM235.7 171.4h8.3v8.3h-8.3zM274.1 171.4h8.3v8.3h-8.3zM228.0 179.1h8.3v8.3h-8.3zM235.7 186.8h8.3v8.3h-8.3zM235.7 194.6h8.3v8.3h-8.3zM312.4 194.6h8.3v8.3h-8.3zM281.7 217.7h8.3v8.3h-8.3zM235.7 225.4h8.3v8.3h-8.3zM289.4 225.4h8.3v8.3h-8.3zM251.0 233.1h8.3v8.3h-8.3zM266.4 240.8h8.3v8.3h-8.3zM251.0 248.4h8.3v8.3h-8.3zM258.7 263.8h15.9v8.3h-15.9zM297.1 263.8h8.3v8.3h-8.3zM197.3 271.5h8.3v8.3h-8.3zM251.0 271.5h8.3v8.3h-8.3zM266.4 271.5h8.3v8.3h-8.3zM289.4 271.5h8.3v8.3h-8.3zM105.3 279.1h8.3v8.3h-8.3zM228.0 279.1h8.3v8.3h-8.3zM243.4 279.1h8.3v8.3h-8.3zM266.4 279.1h8.3v8.3h-8.3zM297.1 279.1h8.3v8.3h-8.3zM189.7 286.8h8.3v8.3h-8.3zM212.7 286.8h15.9v8.3h-15.9zM274.1 286.8h8.3v8.3h-8.3zM189.7 294.4h15.9v8.2h-15.9zM235.7 294.4h8.3v8.2h-8.3zM82.3 302.1h8.3v8.2h-8.3zM197.3 302.1h8.3v8.2h-8.3zM166.7 309.7h8.3v8.2h-8.3zM189.7 309.7h15.9v8.2h-15.9zM228.0 309.7h8.3v8.2h-8.3zM220.4 317.4h8.3v8.2h-8.3zM258.7 317.4h8.3v8.2h-8.3zM159.0 325.0h8.3v8.2h-8.3zM174.3 325.0h8.3v8.2h-8.3zM220.4 325.0h8.3v8.2h-8.3zM274.1 325.0h8.3v8.2h-8.3zM166.7 332.6h8.3v8.2h-8.3zM136.0 340.2h15.9v8.2h-15.9zM205.0 340.2h8.3v8.2h-8.3zM136.0 347.8h8.3v8.2h-8.3zM197.3 347.8h8.3v8.2h-8.3zM212.7 347.8h8.3v8.2h-8.3z"/>
<path fill="#0000fa" d="M220.4 0.0h15.9v8.4h-15.9zM266.4 7.8h8.3v8.4h-8.3zM220.4 15.7h8.3v8.4h-8.3zM243.4 15.7h8.3v8.4h-8.3zM235.7 23.5h8.3v8.4h-8.3zM228.0 31.4h8.3v8.4h-8.3zM228.0 39.2h15.9v8.4h-15.9zM266.4 39.2h8.3v8.4h-8.3zM281.7 39.2h8.3v8.4h-8.3zM304.7 47.0h8.3v8.4h-8.3zM205.0 54.8h8.3v8.4h-8.3zM258.7 54.8h8.3v8.4h-8.3zM243.4 62.6h8.3v8.4h-8.3zM251.0 70.4h8.3v8.4h-8.3zM235.7 78.2h8.3v8.4h-8.3zM281.7 78.2h15.9v8.4h-15.9zM327.7 78.2h8.3v8.4h-8.3zM235.7 86.0h8.3v8.4h-8.3zM274.1 86.0h23.6v8.4h-23.6zM335.4 86.0h8.3v8.4h-8.3zM274.1 101.6h8.3v8.4h-8.3zM274.1 117.1h8.3v8.4h-8.3zM289.4 117.1h8.3v8.4h-8.3zM281.7 124.9h15.9v8.4h-15.9zM304.7 124.9h8.3v8.4h-8.3zM304.7 132.7h8.3v8.4h-8.3zM281.7 140.4h15.9v8.3h-15.9zM266.4 148.2h8.3v8.3h-8.3zM320.1 148.2h8.3v8.3h-8.3zM274.1 163.7h15.9v8.3h-15.9zM289.4 171.4h15.9v8.3h-15.9zM312.4 171.4h8.3v8.3h-8.3zM327.7 171.4h15.9v8.3h-15.9zM304.7 179.1h8.3v8.3h-8.3zM274.1 186.8h8.3v8.3h-8.3zM297.1 186.8h8.3v8.3h-8.3zM251.0 194.6h8.3v8.3h-8.3zM304.7 194.6h8.3v8.3h-8.3zM320.1 194.6h8.3v8.3h-8.3zM274.1 202.3h15.9v8.3h-15.9zM297.1 202.3h15.9v8.3h-15.9zM274.1 210.0h8.3v8.3h-8.3zM312.4 210.0h8.3v8.3h-8.3zM274.1 217.7h8.3v8.3h-8.3zM320.1 225.4h8.3v8.3h-8.3zM258.7 233.1h8.3v8.3h-8.3zM274.1 233.1h8.3v8.3h-8.3zM289.4 233.1h15.9v8.3h-15.9zM335.4 233.1h8.3v8.3h-8.3zM343.1 240.8h4.9v8.3h-4.9zM312.4 248.4h8.3v8.3h-8.3zM297.1 256.1h8.3v8.3h-8.3zM343.1 263.8h4.9v8.3h-4.9zM274.1 271.5h8.3v8.3h-8.3zM258.7 279.1h8.3v8.3h-8.3zM320.1 286.8h8.3v8.3h-8.3zM281.7 294.4h8.3v8.2h-8.3zM297.1 294.4h8.3v8.2h-8.3zM235.7 302.1h8.3v8.2h-8.3zM281.7 302.1h8.3v8.2h-8.3zM274.1 309.7h8.3v8.2h-8.3zM274.1 317.4h8.3v8.2h-8.3zM281.7 325.0h15.9v8.2h-15.9zM174.3 332.6h8.3v8.2h-8.3zM159.0 340.2h8.3v8.2h-8.3zM274.1 340.2h8.3v8.2h-8.3zM205.0 347.8h8.3v8.2h-8.3zM59.3 355.5h8.3v8.2h-8.3zM82.3 363.1h8.3v8.2h-8.3zM59.3 370.7h8.3v8.2h-8.3zM258.7 370.7h8.3v8.2h-8.3z"/>
<path fill="#0005ff" d="M235.7 0.0h8.3v8.4h-8.3zM235.7 7.8h15.9v8.4h-15.9zM212.7 47.0h8.3v8.4h-8.3zM243.4 54.8h8.3v8.4h-8.3zM228.0 62.6h15.9v8.4h-15.9zM274.1 62.6h8.3v8.4h-8.3zM289.4 70.4h8.3v8.4h-8.3zM220.4 78.2h8.3v8.4h-8.3zM258.7 78.2h8.3v8.4h-8.3zM258.7 86.0h8.3v8.4h-8.3zM228.0 93.8h15.9v8.4h-15.9zM266.4 93.8h8.3v8.4h-8.3zM235.7 109.4h8.3v8.4h-8.3zM251.0 109.4h8.3v8.4h-8.3zM274.1 109.4h8.3v8.4h-8.3zM289.4 109.4h8.3v8.4h-8.3zM266.4 117.1h8.3v8.4h-8.3zM251.0 124.9h8.3v8.4h-8.3zM289.4 132.7h8.3v8.4h-8.3zM266.4 140.4h8.3v8.3h-8.3zM258.7 155.9h8.3v8.3h-8.3zM266.4 163.7h8.3v8.3h-8.3zM297.1 163.7h8.3v8.3h-8.3zM312.4 163.7h8.3v8.3h-8.3zM251.0 179.1h8.3v8.3h-8.3zM274.1 179.1h8.3v8.3h-8.3zM297.1 194.6h8.3v8.3h-8.3zM289.4 202.3h8.3v8.3h-8.3zM266.4 210.0h8.3v8.3h-8.3zM243.4 217.7h8.3v8.3h-8.3zM266.4 217.7h8.3v8.3h-8.3zM335.4 217.7h8.3v8.3h-8.3zM266.4 225.4h15.9v8.3h-15.9zM228.0 240.8h8.3v8.3h-8.3zM258.7 240.8h8.3v8.3h-8.3zM281.7 240.8h8.3v8.3h-8.3zM304.7 256.1h15.9v8.3h-15.9zM320.1 263.8h8.3v8.3h-8.3zM304.7 271.5h15.9v8.3h-15.9zM335.4 271.5h8.3v8.3h-8.3zM251.0 279.1h8.3v8.3h-8.3zM289.4 279.1h8.3v8.3h-8.3zM320.1 279.1h8.3v8.3h-8.3zM335.4 279.1h8.3v8.3h-8.3zM197.3 286.8h8.3v8.3h-8.3zM228.0 286.8h8.3v8.3h-8.3zM289.4 294.4h8.3v8.2h-8.3zM281.7 309.7h8.3v8.2h-8.3zM266.4 317.4h8.3v8.2h-8.3zM197.3 325.0h8.3v8.2h-8.3zM251.0 325.0h8.3v8.2h-8.3zM205.0 332.6h8.3v8.2h-8.3z"/>
<path fill="#0000d1" d="M251.0 0.0h8.3v8.4h-8.3zM266.4 0.0h8.3v8.4h-8.3zM304.7 0.0h8.3v8.4h-8.3zM258.7 7.8h8.3v8.4h-8.3zM320.1 7.8h8.3v8.4h-8.3zM297.1 15.7h8.3v8.4h-8.3zM312.4 15.7h8.3v8.4h-8.3zM258.7 23.5h8.3v8.4h-8.3zM281.7 23.5h31.3v8.4h-31.3zM327.7 23.5h8.3v8.4h-8.3zM304.7 31.4h23.6v8.4h-23.6zM343.1 31.4h4.9v8.4h-4.9zM335.4 39.2h8.3v8.4h-8.3zM297.1 47.0h8.3v8.4h-8.3zM335.4 47.0h12.6v8.4h-12.6zM274.1 54.8h8.3v8.4h-8.3zM343.1 54.8h4.9v8.4h-4.9zM343.1 62.6h4.9v8.4h-4.9zM320.1 70.4h8.3v8.4h-8.3zM335.4 70.4h8.3v8.4h-8.3zM335.4 78.2h8.3v8.4h-8.3zM304.7 86.0h8.3v8.4h-8.3zM304.7 93.8h8.3v8.4h-8.3zM320.1 101.6h8.3v8.4h-8.3zM320.1 124.9h8.3v8.4h-8.3zM320.1 140.4h15.9v8.3h-15.9zM343.1 140.4h4.9v8.3h-4.9zM327.7 148.2h8.3v8.3h-8.3zM335.4 155.9h8.3v8.3h-8.3zM297.1 179.1h8.3v8.3h-8.3zM320.1 186.8h8.3v8.3h-8.3zM335.4 186.8h8.3v8.3h-8.3zM343.1 194.6h4.9v8.3h-4.9zM343.1 202.3h4.9v8.3h-4.9zM297.1 217.7h15.9v8.3h-15.9zM343.1 217.7h4.9v8.3h-4.9zM343.1 233.1h4.9v8.3h-4.9zM289.4 240.8h8.3v8.3h-8.3zM343.1 256.1h4.9v8.3h-4.9zM343.1 279.1h4.9v8.3h-4.9zM327.7 286.8h8.3v8.3h-8.3zM320.1 294.4h8.3v8.2h-8.3zM335.4 294.4h8.3v8.2h-8.3zM289.4 317.4h8.3v8.2h-8.3zM235.7 340.2h8.3v8.2h-8.3zM251.0 340.2h8.3v8.2h-8.3zM289.4 340.2h8.3v8.2h-8.3zM228.0 347.8h8.3v8.2h-8.3zM281.7 347.8h8.3v8.2h-8.3zM51.6 355.5h8.3v8.2h-8.3zM151.3 355.5h8.3v8.2h-8.3zM258.7 355.5h8.3v8.2h-8.3zM274.1 355.5h8.3v8.2h-8.3zM105.3 363.1h15.9v8.2h-15.9zM143.7 363.1h8.3v8.2h-8.3zM274.1 363.1h8.3v8.2h-8.3zM51.6 370.7h8.3v8.2h-8.3zM82.3 370.7h8.3v8.2h-8.3zM258.7 378.3h8.3v8.2h-8.3zM59.3 385.9h8.3v8.2h-8.3z"/>
<path fill="#0000db" d="M258.7 0.0h8.3v8.4h-8.3zM320.1 0.0h8.3v8.4h-8.3zM304.7 7.8h8.3v8.4h-8.3zM251.0 15.7h8.3v8.4h-8.3zM281.7 15.7h15.9v8.4h-15.9zM327.7 15.7h8.3v8.4h-8.3zM343.1 15.7h4.9v8.4h-4.9zM243.4 23.5h8.3v8.4h-8.3zM343.1 23.5h4.9v8.4h-4.9zM289.4 31.4h8.3v8.4h-8.3zM289.4 39.2h8.3v8.4h-8.3zM304.7 39.2h8.3v8.4h-8.3zM327.7 39.2h8.3v8.4h-8.3zM266.4 47.0h8.3v8.4h-8.3zM312.4 47.0h15.9v8.4h-15.9zM304.7 54.8h15.9v8.4h-15.9zM297.1 62.6h8.3v8.4h-8.3zM312.4 62.6h8.3v8.4h-8.3zM327.7 70.4h8.3v8.4h-8.3zM297.1 86.0h8.3v8.4h-8.3zM312.4 86.0h8.3v8.4h-8.3zM281.7 93.8h8.3v8.4h-8.3zM312.4 93.8h8.3v8.4h-8.3zM343.1 93.8h4.9v8.4h-4.9zM327.7 101.6h8.3v8.4h-8.3zM343.1 109.4h4.9v8.4h-4.9zM297.1 117.1h8.3v8.4h-8.3zM327.7 117.1h15.9v8.4h-15.9zM297.1 124.9h8.3v8.4h-8.3zM281.7 132.7h8.3v8.4h-8.3zM327.7 132.7h8.3v8.4h-8.3zM281.7 155.9h8.3v8.3h-8.3zM327.7 155.9h8.3v8.3h-8.3zM320.1 163.7h8.3v8.3h-8.3zM289.4 179.1h8.3v8.3h-8.3zM320.1 179.1h8.3v8.3h-8.3zM327.7 186.8h8.3v8.3h-8.3zM343.1 186.8h4.9v8.3h-4.9zM335.4 194.6h8.3v8.3h-8.3zM304.7 210.0h8.3v8.3h-8.3zM335.4 210.0h12.6v8.3h-12.6zM327.7 217.7h8.3v8.3h-8.3zM327.7 225.4h8.3v8.3h-8.3zM304.7 233.1h8.3v8.3h-8.3zM320.1 233.1h8.3v8.3h-8.3zM327.7 248.4h8.3v8.3h-8.3zM320.1 256.1h8.3v8.3h-8.3zM304.7 263.8h8.3v8.3h-8.3zM327.7 271.5h8.3v8.3h-8.3zM312.4 279.1h8.3v8.3h-8.3zM281.7 286.8h8.3v8.3h-8.3zM335.4 286.8h8.3v8.3h-8.3zM312.4 294.4h8.3v8.2h-8.3zM327.7 294.4h8.3v8.2h-8.3zM304.7 302.1h8.3v8.2h-8.3zM297.1 309.7h15.9v8.2h-15.9zM297.1 317.4h8.3v8.2h-8.3zM258.7 332.6h8.3v8.2h-8.3zM289.4 332.6h8.3v8.2h-8.3zM20.9 340.2h8.3v8.2h-8.3zM36.3 347.8h8.3v8.2h-8.3zM159.0 347.8h8.3v8.2h-8.3zM189.7 347.8h8.3v8.2h-8.3zM274.1 347.8h8.3v8.2h-8.3zM197.3 355.5h8.3v8.2h-8.3zM220.4 355.5h8.3v8.2h-8.3zM281.7 355.5h8.3v8.2h-8.3zM97.6 363.1h8.3v8.2h-8.3zM120.6 363.1h8.3v8.2h-8.3zM251.0 363.1h8.3v8.2h-8.3zM74.6 370.7h8.3v8.2h-8.3zM128.3 370.7h8.3v8.2h-8.3zM251.0 370.7h8.3v8.2h-8.3zM51.6 378.3h8.3v8.2h-8.3zM67.0 378.3h8.3v8.2h-8.3zM51.6 385.9h8.3v8.2h-8.3z"/>
<path fill="#0000b2" d="M274.1 0.0h8.3v8.4h-8.3zM312.4 0.0h8.3v8.4h-8.3zM335.4 0.0h8.3v8.4h-8.3zM320.1 54.8h8.3v8.4h-8.3zM343.1 132.7h4.9v8.4h-4.9z"/>
<path fill="#0000c7" d="M281.7 0.0h15.9v8.4h-15.9zM327.7 0.0h8.3v8.4h-8.3zM343.1 0.0h4.9v8.4h-4.9zM274.1 7.8h8.3v8.4h-8.3zM297.1 7.8h8.3v8.4h-8.3zM258.7 15.7h8.3v8.4h-8.3zM304.7 15.7h8.3v8.4h-8.3zM335.4 15.7h8.3v8.4h-8.3zM327.7 31.4h8.3v8.4h-8.3zM274.1 47.0h8.3v8.4h-8.3zM327.7 47.0h8.3v8.4h-8.3zM335.4 54.8h8.3v8.4h-8.3zM304.7 62.6h8.3v8.4h-8.3zM335.4 62.6h8.3v8.4h-8.3zM304.7 70.4h8.3v8.4h-8.3zM274.1 78.2h8.3v8.4h-8.3zM297.1 78.2h8.3v8.4h-8.3zM320.1 78.2h8.3v8.4h-8.3zM343.1 86.0h4.9v8.4h-4.9zM335.4 93.8h8.3v8.4h-8.3zM335.4 101.6h8.3v8.4h-8.3zM297.1 109.4h8.3v8.4h-8.3zM312.4 124.9h8.3v8.4h-8.3zM327.7 124.9h8.3v8.4h-8.3zM297.1 132.7h8.3v8.4h-8.3zM335.4 132.7h8.3v8.4h-8.3zM312.4 140.4h8.3v8.3h-8.3zM297.1 155.9h8.3v8.3h-8.3zM343.1 155.9h4.9v8.3h-4.9zM327.7 163.7h8.3v8.3h-8.3zM335.4 179.1h8.3v8.3h-8.3zM289.4 217.7h8.3v8.3h-8.3zM335.4 225.4h8.3v8.3h-8.3zM304.7 248.4h8.3v8.3h-8.3zM13.3 340.2h8.3v8.2h-8.3zM28.6 347.8h8.3v8.2h-8.3zM182.0 347.8h8.3v8.2h-8.3zM205.0 363.1h8.3v8.2h-8.3zM243.4 363.1h8.3v8.2h-8.3z"/>
<path fill="#0000f0" d="M297.1 0.0h8.3v8.4h-8.3zM251.0 7.8h8.3v8.4h-8.3zM235.7 15.7h8.3v8.4h-8.3zM320.1 15.7h8.3v8.4h-8.3zM220.4 23.5h8.3v8.4h-8.3zM266.4 23.5h15.9v8.4h-15.9zM235.7 31.4h8.3v8.4h-8.3zM281.7 31.4h8.3v8.4h-8.3zM335.4 31.4h8.3v8.4h-8.3zM205.0 39.2h8.3v8.4h-8.3zM243.4 39.2h8.3v8.4h-8.3zM312.4 39.2h8.3v8.4h-8.3zM235.7 47.0h8.3v8.4h-8.3zM266.4 54.8h8.3v8.4h-8.3zM297.1 54.8h8.3v8.4h-8.3zM258.7 62.6h15.9v8.4h-15.9zM289.4 62.6h8.3v8.4h-8.3zM327.7 62.6h8.3v8.4h-8.3zM297.1 70.4h8.3v8.4h-8.3zM266.4 78.2h8.3v8.4h-8.3zM312.4 78.2h8.3v8.4h-8.3zM228.0 86.0h8.3v8.4h-8.3zM327.7 86.0h8.3v8.4h-8.3zM289.4 93.8h15.9v8.4h-15.9zM327.7 93.8h8.3v8.4h-8.3zM281.7 101.6h8.3v8.4h-8.3zM304.7 101.6h15.9v8.4h-15.9zM343.1 101.6h4.9v8.4h-4.9zM281.7 109.4h8.3v8.4h-8.3zM304.7 109.4h8.3v8.4h-8.3zM266.4 124.9h8.3v8.4h-8.3zM274.1 132.7h8.3v8.4h-8.3zM312.4 132.7h15.9v8.4h-15.9zM274.1 140.4h8.3v8.3h-8.3zM335.4 140.4h8.3v8.3h-8.3zM274.1 148.2h8.3v8.3h-8.3zM297.1 148.2h8.3v8.3h-8.3zM343.1 148.2h4.9v8.3h-4.9zM266.4 155.9h8.3v8.3h-8.3zM312.4 155.9h8.3v8.3h-8.3zM304.7 171.4h8.3v8.3h-8.3zM320.1 171.4h8.3v8.3h-8.3zM327.7 179.1h8.3v8.3h-8.3zM343.1 179.1h4.9v8.3h-4.9zM281.7 186.8h8.3v8.3h-8.3zM304.7 186.8h8.3v8.3h-8.3zM281.7 194.6h15.9v8.3h-15.9zM312.4 202.3h8.3v8.3h-8.3zM289.4 210.0h8.3v8.3h-8.3zM320.1 210.0h15.9v8.3h-15.9zM312.4 217.7h15.9v8.3h-15.9zM297.1 225.4h8.3v8.3h-8.3zM312.4 225.4h8.3v8.3h-8.3zM304.7 240.8h8.3v8.3h-8.3zM327.7 240.8h15.9v8.3h-15.9zM327.7 256.1h15.9v8.3h-15.9zM327.7 263.8h15.9v8.3h-15.9zM297.1 271.5h8.3v8.3h-8.3zM281.7 279.1h8.3v8.3h-8.3zM304.7 279.1h8.3v8.3h-8.3zM297.1 286.8h15.9v8.3h-15.9zM343.1 286.8h4.9v8.3h-4.9zM258.7 294.4h8.3v8.2h-8.3zM266.4 302.1h8.3v8.2h-8.3zM297.1 302.1h8.3v8.2h-8.3zM266.4 309.7h8.3v8.2h-8.3zM289.4 309.7h8.3v8.2h-8.3zM281.7 317.4h8.3v8.2h-8.3zM212.7 332.6h8.3v8.2h-8.3zM235.7 332.6h23.6v8.2h-23.6zM274.1 332.6h15.9v8.2h-15.9zM28.6 340.2h8.3v8.2h-8.3zM182.0 340.2h8.3v8.2h-8.3zM228.0 340.2h8.3v8.2h-8.3zM51.6 347.8h8.3v8.2h-8.3zM151.3 347.8h8.3v8.2h-8.3zM220.4 347.8h8.3v8.2h-8.3zM143.7 355.5h8.3v8.2h-8.3zM205.0 355.5h8.3v8.2h-8.3zM136.0 363.1h8.3v8.2h-8.3zM67.0 370.7h8.3v8.2h-8.3z"/>
<path fill="#57ffa8" d="M74.6 7.8h8.3v8.4h-8.3zM90.0 23.5h8.3v8.4h-8.3zM82.3 31.4h8.3v8.4h-8.3zM97.6 39.2h8.3v8.4h-8.3zM113.0 47.0h8.3v8.4h-8.3zM90.0 70.4h8.3v8.4h-8.3zM90.0 86.0h8.3v8.4h-8.3zM113.0 93.8h8.3v8.4h-8.3zM105.3 140.4h8.3v8.3h-8.3zM143.7 148.2h8.3v8.3h-8.3zM143.7 163.7h8.3v8.3h-8.3zM143.7 210.0h8.3v8.3h-8.3zM143.7 225.4h8.3v8.3h-8.3zM120.6 240.8h8.3v8.3h-8.3zM151.3 256.1h8.3v8.3h-8.3zM28.6 317.4h8.3v8.2h-8.3z"/>
<path fill="#05fffa" d="M82.3 7.8h8.3v8.4h-8.3zM90.0 15.7h8.3v8.4h-8.3zM74.6 31.4h8.3v8.4h-8.3zM113.0 78.2h8.3v8.4h-8.3zM136.0 78.2h8.3v8.4h-8.3zM90.0 93.8h8.3v8.4h-8.3zM151.3 93.8h8.3v8.4h-8.3zM166.7 148.2h8.3v8.3h-8.3zM189.7 186.8h8.3v8.3h-8.3zM151.3 194.6h8.3v8.3h-8.3zM166.7 194.6h8.3v8.3h-8.3zM136.0 210.0h8.3v8.3h-8.3zM143.7 217.7h8.3v8.3h-8.3zM166.7 225.4h8.3v8.3h-8.3zM159.0 233.1h8.3v8.3h-8.3zM82.3 263.8h8.3v8.3h-8.3z"/>
<path fill="#00d1ff" d="M97.6 7.8h8.3v8.4h-8.3zM143.7 7.8h8.3v8.4h-8.3zM136.0 86.0h8.3v8.4h-8.3zM159.0 109.4h15.9v8.4h-15.9zM151.3 117.1h8.3v8.4h-8.3zM159.0 124.9h8.3v8.4h-8.3zM182.0 148.2h8.3v8.3h-8.3zM174.3 171.4h15.9v8.3h-15.9zM197.3 171.4h8.3v8.3h-8.3zM182.0 179.1h8.3v8.3h-8.3zM197.3 186.8h8.3v8.3h-8.3zM136.0 202.3h15.9v8.3h-15.9zM166.7 202.3h8.3v8.3h-8.3zM120.6 217.7h8.3v8.3h-8.3zM182.0 225.4h8.3v8.3h-8.3zM174.3 240.8h8.3v8.3h-8.3zM174.3 256.1h8.3v8.3h-8.3zM159.0 263.8h8.3v8.3h-8.3zM120.6 271.5h8.3v8.3h-8.3zM143.7 271.5h8.3v8.3h-8.3z"/>
<path fill="#00faff" d="M120.6 7.8h8.3v8.4h-8.3zM143.7 54.8h8.3v8.4h-8.3zM105.3 62.6h8.3v8.4h-8.3zM136.0 62.6h8.3v8.4h-8.3zM120.6 78.2h8.3v8.4h-8.3zM143.7 86.0h8.3v8.4h-8.3zM128.3 93.8h8.3v8.4h-8.3zM159.0 132.7h8.3v8.4h-8.3zM151.3 148.2h8.3v8.3h-8.3zM151.3 186.8h8.3v8.3h-8.3zM182.0 202.3h8.3v8.3h-8.3zM120.6 210.0h8.3v8.3h-8.3zM151.3 210.0h8.3v8.3h-8.3zM166.7 217.7h8.3v8.3h-8.3zM159.0 248.4h8.3v8.3h-8.3z"/>
<path fill="#009eff" d="M136.0 7.8h8.3v8.4h-8.3zM143.7 23.5h8.3v8.4h-8.3zM174.3 39.2h8.3v8.4h-8.3zM166.7 86.0h8.3v8.4h-8.3zM166.7 93.8h15.9v8.4h-15.9zM151.3 101.6h8.3v8.4h-8.3zM174.3 101.6h8.3v8.4h-8.3zM197.3 124.9h8.3v8.4h-8.3zM182.0 132.7h8.3v8.4h-8.3zM220.4 194.6h8.3v8.3h-8.3zM197.3 210.0h15.9v8.3h-15.9zM189.7 233.1h8.3v8.3h-8.3zM74.6 271.5h8.3v8.3h-8.3zM105.3 271.5h8.3v8.3h-8.3zM136.0 271.5h8.3v8.3h-8.3zM136.0 279.1h8.3v8.3h-8.3zM28.6 332.6h8.3v8.2h-8.3z"/>
<path fill="#006bff" d="M151.3 7.8h8.3v8.4h-8.3zM182.0 39.2h8.3v8.4h-8.3zM159.0 70.4h15.9v8.4h-15.9zM197.3 93.8h8.3v8.4h-8.3zM197.3 101.6h8.3v8.4h-8.3zM228.0 140.4h8.3v8.3h-8.3zM212.7 155.9h8.3v8.3h-8.3zM212.7 163.7h8.3v8.3h-8.3zM212.7 202.3h8.3v8.3h-8.3zM220.4 225.4h8.3v8.3h-8.3zM174.3 233.1h8.3v8.3h-8.3zM220.4 248.4h8.3v8.3h-8.3zM74.6 279.1h8.3v8.3h-8.3zM113.0 279.1h8.3v8.3h-8.3zM143.7 279.1h8.3v8.3h-8.3zM59.3 286.8h15.9v8.3h-15.9zM166.7 286.8h8.3v8.3h-8.3zM205.0 286.8h8.3v8.3h-8.3zM51.6 294.4h8.3v8.2h-8.3zM143.7 294.4h8.3v8.2h-8.3zM74.6 302.1h8.3v8.2h-8.3zM90.0 302.1h8.3v8.2h-8.3zM128.3 302.1h8.3v8.2h-8.3zM143.7 302.1h8.3v8.2h-8.3zM151.3 309.7h8.3v8.2h-8.3zM82.3 317.4h8.3v8.2h-8.3zM97.6 317.4h8.3v8.2h-8.3zM13.3 325.0h8.3v8.2h-8.3zM20.9 332.6h8.3v8.2h-8.3zM97.6 332.6h8.3v8.2h-8.3zM151.3 332.6h8.3v8.2h-8.3zM44.0 340.2h8.3v8.2h-8.3zM74.6 355.5h8.3v8.2h-8.3zM113.0 355.5h8.3v8.2h-8.3z"/>
<path fill="#0061ff" d="M166.7 7.8h8.3v8.4h-8.3zM189.7 7.8h8.3v8.4h-8.3zM159.0 15.7h15.9v8.4h-15.9zM174.3 31.4h8.3v8.4h-8.3zM197.3 39.2h8.3v8.4h-8.3zM182.0 54.8h8.3v8.4h-8.3zM182.0 62.6h8.3v8.4h-8.3zM197.3 70.4h8.3v8.4h-8.3zM174.3 78.2h8.3v8.4h-8.3zM189.7 78.2h8.3v8.4h-8.3zM174.3 86.0h8.3v8.4h-8.3zM159.0 93.8h8.3v8.4h-8.3zM212.7 109.4h8.3v8.4h-8.3zM189.7 124.9h8.3v8.4h-8.3zM197.3 132.7h8.3v8.4h-8.3zM212.7 140.4h8.3v8.3h-8.3zM243.4 155.9h8.3v8.3h-8.3zM220.4 163.7h8.3v8.3h-8.3zM235.7 179.1h8.3v8.3h-8.3zM243.4 210.0h8.3v8.3h-8.3zM197.3 233.1h8.3v8.3h-8.3zM243.4 240.8h8.3v8.3h-8.3zM212.7 248.4h8.3v8.3h-8.3zM197.3 256.1h8.3v8.3h-8.3zM174.3 263.8h15.9v8.3h-15.9zM182.0 271.5h8.3v8.3h-8.3zM205.0 271.5h15.9v8.3h-15.9zM97.6 279.1h8.3v8.3h-8.3zM159.0 279.1h8.3v8.3h-8.3zM174.3 279.1h8.3v8.3h-8.3zM197.3 279.1h8.3v8.3h-8.3zM82.3 294.4h8.3v8.2h-8.3zM105.3 302.1h8.3v8.2h-8.3zM151.3 302.1h8.3v8.2h-8.3zM120.6 309.7h8.3v8.2h-8.3zM105.3 317.4h8.3v8.2h-8.3zM128.3 325.0h8.3v8.2h-8.3zM90.0 332.6h8.3v8.2h-8.3zM105.3 332.6h8.3v8.2h-8.3zM120.6 332.6h8.3v8.2h-8.3zM74.6 347.8h8.3v8.2h-8.3zM90.0 355.5h8.3v8.2h-8.3z"/>
<path fill="#002eff" d="M174.3 7.8h8.3v8.4h-8.3zM205.0 7.8h8.3v8.4h-8.3zM220.4 7.8h8.3v8.4h-8.3zM189.7 54.8h8.3v8.4h-8.3zM228.0 54.8h8.3v8.4h-8.3zM189.7 62.6h8.3v8.4h-8.3zM212.7 62.6h8.3v8.4h-8.3zM212.7 78.2h8.3v8.4h-8.3zM205.0 93.8h8.3v8.4h-8.3zM243.4 109.4h8.3v8.4h-8.3zM243.4 117.1h8.3v8.4h-8.3zM220.4 132.7h8.3v8.4h-8.3zM220.4 140.4h8.3v8.3h-8.3zM251.0 155.9h8.3v8.3h-8.3zM274.1 155.9h8.3v8.3h-8.3zM266.4 179.1h8.3v8.3h-8.3zM258.7 186.8h8.3v8.3h-8.3zM243.4 194.6h8.3v8.3h-8.3zM258.7 202.3h8.3v8.3h-8.3zM228.0 210.0h8.3v8.3h-8.3zM251.0 210.0h8.3v8.3h-8.3zM251.0 217.7h8.3v8.3h-8.3zM228.0 225.4h8.3v8.3h-8.3zM251.0 225.4h8.3v8.3h-8.3zM266.4 233.1h8.3v8.3h-8.3zM274.1 240.8h8.3v8.3h-8.3zM235.7 248.4h8.3v8.3h-8.3zM274.1 248.4h8.3v8.3h-8.3zM243.4 256.1h8.3v8.3h-8.3zM258.7 271.5h8.3v8.3h-8.3zM281.7 271.5h8.3v8.3h-8.3zM159.0 286.8h8.3v8.3h-8.3zM90.0 294.4h8.3v8.2h-8.3zM228.0 294.4h8.3v8.2h-8.3zM159.0 302.1h8.3v8.2h-8.3zM182.0 309.7h8.3v8.2h-8.3zM258.7 309.7h8.3v8.2h-8.3zM182.0 317.4h8.3v8.2h-8.3zM197.3 317.4h8.3v8.2h-8.3zM243.4 317.4h8.3v8.2h-8.3zM120.6 325.0h8.3v8.2h-8.3zM113.0 332.6h8.3v8.2h-8.3zM143.7 332.6h8.3v8.2h-8.3zM105.3 340.2h8.3v8.2h-8.3zM136.0 355.5h8.3v8.2h-8.3zM59.3 378.3h8.3v8.2h-8.3z"/>
<path fill="#0000e6" d="M281.7 7.8h15.9v8.4h-15.9zM312.4 7.8h8.3v8.4h-8.3zM266.4 15.7h15.9v8.4h-15.9zM335.4 23.5h8.3v8.4h-8.3zM251.0 31.4h8.3v8.4h-8.3zM266.4 31.4h15.9v8.4h-15.9zM297.1 31.4h8.3v8.4h-8.3zM251.0 39.2h8.3v8.4h-8.3zM274.1 39.2h8.3v8.4h-8.3zM297.1 39.2h8.3v8.4h-8.3zM243.4 47.0h15.9v8.4h-15.9zM281.7 47.0h15.9v8.4h-15.9zM235.7 54.8h8.3v8.4h-8.3zM281.7 54.8h15.9v8.4h-15.9zM320.1 62.6h8.3v8.4h-8.3zM243.4 70.4h8.3v8.4h-8.3zM281.7 70.4h8.3v8.4h-8.3zM312.4 70.4h8.3v8.4h-8.3zM343.1 70.4h4.9v8.4h-4.9zM304.7 78.2h8.3v8.4h-8.3zM266.4 86.0h8.3v8.4h-8.3zM320.1 86.0h8.3v8.4h-8.3zM274.1 93.8h8.3v8.4h-8.3zM320.1 93.8h8.3v8.4h-8.3zM289.4 101.6h15.9v8.4h-15.9zM312.4 109.4h23.6v8.4h-23.6zM304.7 117.1h23.6v8.4h-23.6zM274.1 124.9h8.3v8.4h-8.3zM335.4 124.9h12.6v8.4h-12.6zM258.7 132.7h8.3v8.4h-8.3zM297.1 140.4h8.3v8.3h-8.3zM289.4 148.2h8.3v8.3h-8.3zM304.7 148.2h15.9v8.3h-15.9zM304.7 155.9h8.3v8.3h-8.3zM320.1 155.9h8.3v8.3h-8.3zM289.4 163.7h8.3v8.3h-8.3zM335.4 163.7h8.3v8.3h-8.3zM343.1 171.4h4.9v8.3h-4.9zM320.1 202.3h15.9v8.3h-15.9zM281.7 210.0h8.3v8.3h-8.3zM343.1 225.4h4.9v8.3h-4.9zM312.4 233.1h8.3v8.3h-8.3zM327.7 233.1h8.3v8.3h-8.3zM312.4 240.8h8.3v8.3h-8.3zM320.1 248.4h8.3v8.3h-8.3zM335.4 248.4h12.6v8.3h-12.6zM266.4 256.1h8.3v8.3h-8.3zM320.1 271.5h8.3v8.3h-8.3zM343.1 271.5h4.9v8.3h-4.9zM312.4 286.8h8.3v8.3h-8.3zM304.7 294.4h8.3v8.2h-8.3zM343.1 294.4h4.9v8.2h-4.9zM258.7 302.1h8.3v8.2h-8.3zM274.1 302.1h8.3v8.2h-8.3zM235.7 309.7h8.3v8.2h-8.3zM235.7 325.0h8.3v8.2h-8.3zM297.1 325.0h8.3v8.2h-8.3zM13.3 332.6h8.3v8.2h-8.3zM266.4 332.6h8.3v8.2h-8.3zM166.7 340.2h15.9v8.2h-15.9zM258.7 340.2h8.3v8.2h-8.3zM281.7 340.2h8.3v8.2h-8.3zM44.0 347.8h8.3v8.2h-8.3zM266.4 347.8h8.3v8.2h-8.3zM212.7 355.5h8.3v8.2h-8.3zM266.4 355.5h8.3v8.2h-8.3zM59.3 363.1h8.3v8.2h-8.3zM90.0 363.1h8.3v8.2h-8.3zM258.7 363.1h15.9v8.2h-15.9zM266.4 370.7h8.3v8.2h-8.3z"/>
<path fill="#0000bd" d="M327.7 7.8h8.3v8.4h-8.3zM343.1 7.8h4.9v8.4h-4.9zM312.4 23.5h15.9v8.4h-15.9zM320.1 39.2h8.3v8.4h-8.3zM343.1 39.2h4.9v8.4h-4.9zM251.0 54.8h8.3v8.4h-8.3zM327.7 54.8h8.3v8.4h-8.3zM251.0 62.6h8.3v8.4h-8.3zM343.1 78.2h4.9v8.4h-4.9zM343.1 117.1h4.9v8.4h-4.9zM335.4 148.2h8.3v8.3h-8.3zM304.7 163.7h8.3v8.3h-8.3zM343.1 163.7h4.9v8.3h-4.9zM327.7 194.6h8.3v8.3h-8.3zM335.4 202.3h8.3v8.3h-8.3z"/>
<path fill="#00009e" d="M335.4 7.8h8.3v8.4h-8.3zM312.4 309.7h8.3v8.2h-8.3zM312.4 317.4h23.6v8.2h-23.6zM320.1 340.2h8.3v8.2h-8.3zM235.7 347.8h8.3v8.2h-8.3zM289.4 347.8h15.9v8.2h-15.9zM28.6 355.5h8.3v8.2h-8.3zM159.0 355.5h8.3v8.2h-8.3zM189.7 355.5h8.3v8.2h-8.3zM228.0 355.5h8.3v8.2h-8.3zM251.0 355.5h8.3v8.2h-8.3zM289.4 355.5h8.3v8.2h-8.3zM327.7 355.5h8.3v8.2h-8.3zM197.3 363.1h8.3v8.2h-8.3zM212.7 363.1h15.9v8.2h-15.9zM281.7 363.1h8.3v8.2h-8.3zM304.7 363.1h8.3v8.2h-8.3zM136.0 370.7h8.3v8.2h-8.3zM312.4 378.3h8.3v8.2h-8.3zM13.3 385.9h8.3v8.2h-8.3zM90.0 385.9h8.3v8.2h-8.3zM128.3 385.9h15.9v8.2h-15.9zM182.0 385.9h8.3v8.2h-8.3zM220.4 385.9h8.3v8.2h-8.3zM243.4 385.9h8.3v8.2h-8.3zM312.4 385.9h8.3v8.2h-8.3zM335.4 385.9h8.3v8.2h-8.3zM51.6 393.4h15.9v8.2h-15.9zM105.3 393.4h8.3v8.2h-8.3zM120.6 393.4h8.3v8.2h-8.3zM174.3 393.4h8.3v8.2h-8.3zM205.0 393.4h8.3v8.2h-8.3zM335.4 393.4h8.3v8.2h-8.3zM182.0 401.0h8.3v8.2h-8.3zM312.4 408.6h8.3v8.2h-8.3zM205.0 416.2h8.3v8.2h-8.3zM297.1 416.2h8.3v8.2h-8.3zM120.6 423.7h8.3v3.8h-8.3zM205.0 423.7h8.3v3.8h-8.3zM243.4 423.7h8.3v3.8h-8.3zM327.7 423.7h8.3v3.8h-8.3z"/>
<path fill="#6bff94" d="M82.3 15.7h8.3v8.4h-8.3zM82.3 86.0h8.3v8.4h-8.3zM120.6 109.4h8.3v8.4h-8.3zM151.3 140.4h8.3v8.3h-8.3zM151.3 248.4h8.3v8.3h-8.3zM128.3 263.8h8.3v8.3h-8.3z"/>
<path fill="#24ffdb" d="M97.6 15.7h23.6v8.4h-23.6zM97.6 23.5h8.3v8.4h-8.3zM105.3 31.4h8.3v8.4h-8.3zM120.6 54.8h8.3v8.4h-8.3zM82.3 62.6h8.3v8.4h-8.3zM113.0 70.4h8.3v8.4h-8.3zM113.0 86.0h8.3v8.4h-8.3zM97.6 93.8h8.3v8.4h-8.3zM120.6 93.8h8.3v8.4h-8.3zM136.0 101.6h8.3v8.4h-8.3zM128.3 109.4h8.3v8.4h-8.3zM151.3 124.9h8.3v8.4h-8.3zM151.3 132.7h8.3v8.4h-8.3zM113.0 163.7h8.3v8.3h-8.3zM151.3 179.1h8.3v8.3h-8.3zM120.6 186.8h8.3v8.3h-8.3zM182.0 194.6h8.3v8.3h-8.3zM97.6 256.1h8.3v8.3h-8.3zM143.7 263.8h8.3v8.3h-8.3z"/>
<path fill="#00dbff" d="M120.6 15.7h8.3v8.4h-8.3zM113.0 39.2h8.3v8.4h-8.3zM74.6 47.0h8.3v8.4h-8.3zM128.3 47.0h8.3v8.4h-8.3zM136.0 54.8h8.3v8.4h-8.3zM174.3 155.9h8.3v8.3h-8.3zM128.3 202.3h8.3v8.3h-8.3zM189.7 202.3h8.3v8.3h-8.3zM182.0 210.0h8.3v8.3h-8.3zM159.0 256.1h8.3v8.3h-8.3zM97.6 263.8h15.9v8.3h-15.9zM59.3 279.1h8.3v8.3h-8.3zM51.6 309.7h8.3v8.2h-8.3zM36.3 332.6h8.3v8.2h-8.3zM51.6 332.6h8.3v8.2h-8.3z"/>
<path fill="#0094ff" d="M136.0 15.7h8.3v8.4h-8.3zM151.3 15.7h8.3v8.4h-8.3zM151.3 54.8h8.3v8.4h-8.3zM143.7 62.6h8.3v8.4h-8.3zM136.0 70.4h8.3v8.4h-8.3zM151.3 70.4h8.3v8.4h-8.3zM182.0 70.4h8.3v8.4h-8.3zM82.3 78.2h8.3v8.4h-8.3zM189.7 117.1h8.3v8.4h-8.3zM205.0 148.2h8.3v8.3h-8.3zM197.3 155.9h8.3v8.3h-8.3zM182.0 163.7h8.3v8.3h-8.3zM136.0 194.6h8.3v8.3h-8.3zM182.0 233.1h8.3v8.3h-8.3zM205.0 233.1h8.3v8.3h-8.3zM174.3 248.4h8.3v8.3h-8.3zM243.4 248.4h8.3v8.3h-8.3zM205.0 256.1h8.3v8.3h-8.3zM90.0 271.5h8.3v8.3h-8.3zM182.0 279.1h8.3v8.3h-8.3zM136.0 286.8h8.3v8.3h-8.3zM44.0 294.4h8.3v8.2h-8.3zM59.3 294.4h8.3v8.2h-8.3zM97.6 309.7h8.3v8.2h-8.3zM90.0 325.0h15.9v8.2h-15.9zM67.0 332.6h8.3v8.2h-8.3zM67.0 347.8h8.3v8.2h-8.3z"/>
<path fill="#0038ff" d="M197.3 15.7h15.9v8.4h-15.9zM182.0 47.0h8.3v8.4h-8.3zM205.0 47.0h8.3v8.4h-8.3zM220.4 47.0h8.3v8.4h-8.3zM212.7 54.8h8.3v8.4h-8.3zM174.3 62.6h8.3v8.4h-8.3zM182.0 86.0h8.3v8.4h-8.3zM251.0 86.0h8.3v8.4h-8.3zM228.0 101.6h15.9v8.4h-15.9zM220.4 117.1h8.3v8.4h-8.3zM205.0 124.9h8.3v8.4h-8.3zM235.7 132.7h8.3v8.4h-8.3zM243.4 148.2h8.3v8.3h-8.3zM258.7 163.7h8.3v8.3h-8.3zM243.4 186.8h8.3v8.3h-8.3zM228.0 194.6h8.3v8.3h-8.3zM258.7 194.6h8.3v8.3h-8.3zM251.0 202.3h8.3v8.3h-8.3zM235.7 210.0h8.3v8.3h-8.3zM212.7 240.8h15.9v8.3h-15.9zM258.7 256.1h8.3v8.3h-8.3zM197.3 263.8h8.3v8.3h-8.3zM220.4 263.8h8.3v8.3h-8.3zM82.3 279.1h8.3v8.3h-8.3zM189.7 279.1h8.3v8.3h-8.3zM74.6 286.8h8.3v8.3h-8.3zM105.3 286.8h8.3v8.3h-8.3zM151.3 286.8h8.3v8.3h-8.3zM74.6 294.4h8.3v8.2h-8.3zM97.6 294.4h8.3v8.2h-8.3zM182.0 294.4h8.3v8.2h-8.3zM266.4 294.4h15.9v8.2h-15.9zM113.0 302.1h8.3v8.2h-8.3zM182.0 302.1h8.3v8.2h-8.3zM212.7 317.4h8.3v8.2h-8.3zM151.3 325.0h8.3v8.2h-8.3zM136.0 332.6h8.3v8.2h-8.3zM159.0 332.6h8.3v8.2h-8.3zM189.7 332.6h8.3v8.2h-8.3zM128.3 340.2h8.3v8.2h-8.3zM151.3 340.2h8.3v8.2h-8.3zM197.3 340.2h8.3v8.2h-8.3zM128.3 347.8h8.3v8.2h-8.3zM97.6 355.5h8.3v8.2h-8.3zM120.6 355.5h8.3v8.2h-8.3z"/>
<path fill="#75ff8a" d="M82.3 23.5h8.3v8.4h-8.3zM90.0 62.6h8.3v8.4h-8.3zM105.3 109.4h8.3v8.4h-8.3zM113.0 117.1h8.3v8.4h-8.3zM143.7 132.7h8.3v8.4h-8.3zM128.3 217.7h8.3v8.3h-8.3z"/>
<path fill="#2effd1" d="M105.3 23.5h8.3v8.4h-8.3zM97.6 31.4h8.3v8.4h-8.3zM105.3 39.2h8.3v8.4h-8.3zM128.3 39.2h8.3v8.4h-8.3zM113.0 62.6h8.3v8.4h-8.3zM105.3 70.4h8.3v8.4h-8.3zM97.6 124.9h8.3v8.4h-8.3zM143.7 140.4h8.3v8.3h-8.3zM151.3 163.7h15.9v8.3h-15.9zM151.3 171.4h15.9v8.3h-15.9zM174.3 186.8h8.3v8.3h-8.3zM159.0 210.0h8.3v8.3h-8.3zM143.7 256.1h8.3v8.3h-8.3z"/>
<path fill="#0ffff0" d="M113.0 23.5h8.3v8.4h-8.3zM113.0 31.4h8.3v8.4h-8.3zM105.3 47.0h8.3v8.4h-8.3zM143.7 101.6h8.3v8.4h-8.3zM166.7 124.9h8.3v8.4h-8.3zM159.0 140.4h8.3v8.3h-8.3zM159.0 155.9h8.3v8.3h-8.3zM166.7 179.1h15.9v8.3h-15.9zM143.7 186.8h8.3v8.3h-8.3zM182.0 186.8h8.3v8.3h-8.3zM151.3 202.3h8.3v8.3h-8.3zM166.7 210.0h8.3v8.3h-8.3zM174.3 217.7h8.3v8.3h-8.3zM136.0 263.8h8.3v8.3h-8.3z"/>
<path fill="#008aff" d="M136.0 23.5h8.3v8.4h-8.3zM151.3 23.5h15.9v8.4h-15.9zM166.7 62.6h8.3v8.4h-8.3zM174.3 70.4h8.3v8.4h-8.3zM174.3 117.1h8.3v8.4h-8.3zM189.7 140.4h8.3v8.3h-8.3zM205.0 140.4h8.3v8.3h-8.3zM197.3 148.2h8.3v8.3h-8.3zM205.0 194.6h8.3v8.3h-8.3zM189.7 210.0h8.3v8.3h-8.3zM235.7 217.7h8.3v8.3h-8.3zM212.7 225.4h8.3v8.3h-8.3zM197.3 240.8h8.3v8.3h-8.3zM189.7 256.1h8.3v8.3h-8.3zM189.7 263.8h8.3v8.3h-8.3zM212.7 263.8h8.3v8.3h-8.3zM97.6 271.5h8.3v8.3h-8.3zM174.3 271.5h8.3v8.3h-8.3zM151.3 279.1h8.3v8.3h-8.3zM59.3 317.4h8.3v8.2h-8.3zM59.3 340.2h8.3v8.2h-8.3zM74.6 340.2h8.3v8.2h-8.3z"/>
<path fill="#1affe5" d="M90.0 31.4h8.3v8.4h-8.3zM128.3 31.4h8.3v8.4h-8.3zM120.6 86.0h8.3v8.4h-8.3zM90.0 101.6h8.3v8.4h-8.3zM159.0 117.1h8.3v8.4h-8.3zM159.0 148.2h8.3v8.3h-8.3zM166.7 155.9h8.3v8.3h-8.3zM143.7 179.1h8.3v8.3h-8.3zM159.0 194.6h8.3v8.3h-8.3zM189.7 194.6h8.3v8.3h-8.3zM136.0 217.7h8.3v8.3h-8.3zM166.7 233.1h8.3v8.3h-8.3zM159.0 240.8h8.3v8.3h-8.3zM105.3 256.1h8.3v8.3h-8.3zM90.0 263.8h8.3v8.3h-8.3zM128.3 271.5h8.3v8.3h-8.3zM20.9 317.4h8.3v8.2h-8.3zM51.6 317.4h8.3v8.2h-8.3zM36.3 325.0h8.3v8.2h-8.3z"/>
<path fill="#00c7ff" d="M120.6 31.4h8.3v8.4h-8.3zM136.0 47.0h8.3v8.4h-8.3zM151.3 47.0h15.9v8.4h-15.9zM159.0 86.0h8.3v8.4h-8.3zM136.0 93.8h15.9v8.4h-15.9zM159.0 101.6h15.9v8.4h-15.9zM166.7 132.7h15.9v8.4h-15.9zM174.3 140.4h15.9v8.3h-15.9zM189.7 148.2h8.3v8.3h-8.3zM182.0 155.9h8.3v8.3h-8.3zM128.3 194.6h8.3v8.3h-8.3zM143.7 194.6h8.3v8.3h-8.3zM174.3 225.4h8.3v8.3h-8.3zM182.0 240.8h8.3v8.3h-8.3zM182.0 256.1h8.3v8.3h-8.3zM44.0 302.1h8.3v8.2h-8.3zM59.3 325.0h8.3v8.2h-8.3zM74.6 325.0h8.3v8.2h-8.3zM44.0 332.6h8.3v8.2h-8.3zM67.0 340.2h8.3v8.2h-8.3z"/>
<path fill="#0080ff" d="M151.3 31.4h8.3v8.4h-8.3zM166.7 39.2h8.3v8.4h-8.3zM151.3 62.6h8.3v8.4h-8.3zM159.0 78.2h8.3v8.4h-8.3zM182.0 101.6h8.3v8.4h-8.3zM205.0 163.7h8.3v8.3h-8.3zM205.0 171.4h15.9v8.3h-15.9zM197.3 179.1h8.3v8.3h-8.3zM205.0 186.8h8.3v8.3h-8.3zM197.3 202.3h15.9v8.3h-15.9zM220.4 210.0h8.3v8.3h-8.3zM189.7 217.7h8.3v8.3h-8.3zM205.0 217.7h8.3v8.3h-8.3zM205.0 225.4h8.3v8.3h-8.3zM205.0 240.8h8.3v8.3h-8.3zM205.0 248.4h8.3v8.3h-8.3zM166.7 263.8h8.3v8.3h-8.3zM51.6 286.8h8.3v8.3h-8.3zM128.3 286.8h8.3v8.3h-8.3zM136.0 302.1h8.3v8.2h-8.3zM59.3 309.7h8.3v8.2h-8.3zM97.6 340.2h8.3v8.2h-8.3zM82.3 355.5h8.3v8.2h-8.3z"/>
<path fill="#e5ff1a" d="M82.3 39.2h8.3v8.4h-8.3zM128.3 124.9h8.3v8.4h-8.3zM128.3 171.4h8.3v8.3h-8.3z"/>
<path fill="#d1ff2e" d="M90.0 39.2h8.3v8.4h-8.3zM128.3 117.1h8.3v8.4h-8.3zM105.3 124.9h8.3v8.4h-8.3z"/>
<path fill="#ff8000" d="M82.3 47.0h8.3v8.4h-8.3z"/>
<path fill="#ffa800" d="M90.0 47.0h8.3v8.4h-8.3zM113.0 124.9h8.3v8.4h-8.3zM128.3 148.2h8.3v8.3h-8.3z"/>
<path fill="#bdff42" d="M97.6 47.0h8.3v8.4h-8.3zM120.6 233.1h8.3v8.3h-8.3z"/>
<path fill="#c7ff38" d="M90.0 54.8h8.3v8.4h-8.3zM90.0 78.2h8.3v8.4h-8.3zM97.6 101.6h8.3v8.4h-8.3zM105.3 117.1h8.3v8.4h-8.3zM136.0 132.7h8.3v8.4h-8.3zM136.0 155.9h8.3v8.3h-8.3zM128.3 225.4h8.3v8.3h-8.3z"/>
<path fill="#9eff61" d="M97.6 54.8h8.3v8.4h-8.3zM120.6 101.6h8.3v8.4h-8.3zM120.6 225.4h8.3v8.3h-8.3z"/>
<path fill="#94ff6b" d="M97.6 62.6h8.3v8.4h-8.3zM105.3 101.6h8.3v8.4h-8.3zM113.0 109.4h8.3v8.4h-8.3zM97.6 117.1h8.3v8.4h-8.3zM136.0 148.2h8.3v8.3h-8.3z"/>
<path fill="#80ff80" d="M82.3 70.4h8.3v8.4h-8.3zM105.3 93.8h8.3v8.4h-8.3zM105.3 148.2h8.3v8.3h-8.3zM128.3 163.7h8.3v8.3h-8.3zM136.0 171.4h8.3v8.3h-8.3zM136.0 225.4h8.3v8.3h-8.3z"/>
<path fill="#61ff9e" d="M97.6 70.4h8.3v8.4h-8.3zM136.0 117.1h8.3v8.4h-8.3zM143.7 155.9h15.9v8.3h-15.9zM166.7 186.8h8.3v8.3h-8.3zM151.3 233.1h8.3v8.3h-8.3zM113.0 256.1h8.3v8.3h-8.3zM44.0 309.7h8.3v8.2h-8.3z"/>
<path fill="#8aff75" d="M97.6 86.0h8.3v8.4h-8.3zM143.7 171.4h8.3v8.3h-8.3zM143.7 233.1h8.3v8.3h-8.3zM28.6 309.7h15.9v8.2h-15.9z"/>
<path fill="#dbff24" d="M120.6 117.1h8.3v8.4h-8.3zM44.0 317.4h8.3v8.2h-8.3z"/>
<path fill="#ffb300" d="M120.6 124.9h8.3v8.4h-8.3z"/>
<path fill="#a8ff57" d="M136.0 124.9h8.3v8.4h-8.3zM136.0 163.7h8.3v8.3h-8.3zM143.7 240.8h8.3v8.3h-8.3zM143.7 248.4h8.3v8.3h-8.3z"/>
<path fill="#9e0000" d="M113.0 132.7h8.3v8.4h-8.3z"/>
<path fill="#ff2e00" d="M120.6 132.7h8.3v8.4h-8.3z"/>
<path fill="#ff8a00" d="M128.3 132.7h8.3v8.4h-8.3z"/>
<path fill="#800000" d="M113.0 140.4h15.9v8.3h-15.9zM113.0 148.2h8.3v8.3h-8.3zM128.3 240.8h8.3v8.3h-8.3zM128.3 248.4h8.3v8.3h-8.3z"/>
<path fill="#fffa00" d="M128.3 140.4h8.3v8.3h-8.3zM136.0 233.1h8.3v8.3h-8.3zM36.3 317.4h8.3v8.2h-8.3z"/>
<path fill="#f0ff0f" d="M136.0 140.4h8.3v8.3h-8.3z"/>
<path fill="#a80000" d="M120.6 148.2h8.3v8.3h-8.3z"/>
<path fill="#ffc700" d="M113.0 155.9h8.3v8.3h-8.3zM120.6 163.7h8.3v8.3h-8.3z"/>
<path fill="#ff7500" d="M120.6 155.9h8.3v8.3h-8.3z"/>
<path fill="#ffd100" d="M128.3 155.9h8.3v8.3h-8.3z"/>
<path fill="#ffdb00" d="M128.3 233.1h8.3v8.3h-8.3z"/>
<path fill="#ff6b00" d="M136.0 240.8h8.3v8.3h-8.3z"/>
<path fill="#ff0f00" d="M120.6 248.4h8.3v8.3h-8.3z"/>
<path fill="#f00000" d="M136.0 248.4h8.3v8.3h-8.3z"/>
<path fill="#faff05" d="M120.6 256.1h8.3v8.3h-8.3z"/>
<path fill="#d10000" d="M128.3 256.1h8.3v8.3h-8.3z"/>
<path fill="#ff9e00" d="M136.0 256.1h8.3v8.3h-8.3z"/>
<path fill="#0000a8" d="M312.4 302.1h35.6v8.2h-35.6zM304.7 317.4h8.3v8.2h-8.3zM304.7 325.0h8.3v8.2h-8.3zM297.1 332.6h15.9v8.2h-15.9zM5.6 340.2h8.3v8.2h-8.3zM243.4 340.2h8.3v8.2h-8.3zM297.1 340.2h8.3v8.2h-8.3zM13.3 347.8h15.9v8.2h-15.9zM166.7 347.8h15.9v8.2h-15.9zM251.0 347.8h15.9v8.2h-15.9zM36.3 355.5h15.9v8.2h-15.9zM182.0 355.5h8.3v8.2h-8.3zM243.4 355.5h8.3v8.2h-8.3zM51.6 363.1h8.3v8.2h-8.3zM151.3 363.1h8.3v8.2h-8.3zM228.0 363.1h15.9v8.2h-15.9zM44.0 370.7h8.3v8.2h-8.3zM90.0 370.7h38.9v8.2h-38.9zM143.7 370.7h8.3v8.2h-8.3zM205.0 370.7h8.3v8.2h-8.3zM235.7 370.7h15.9v8.2h-15.9zM274.1 370.7h8.3v8.2h-8.3zM44.0 378.3h8.3v8.2h-8.3zM74.6 378.3h15.9v8.2h-15.9zM120.6 378.3h15.9v8.2h-15.9zM243.4 378.3h15.9v8.2h-15.9zM266.4 378.3h15.9v8.2h-15.9zM44.0 385.9h8.3v8.2h-8.3zM67.0 385.9h8.3v8.2h-8.3zM251.0 385.9h15.9v8.2h-15.9zM67.0 393.4h8.3v8.2h-8.3z"/>
<path fill="#000094" d="M320.1 309.7h8.3v8.2h-8.3zM343.1 309.7h4.9v8.2h-4.9zM312.4 325.0h8.3v8.2h-8.3zM327.7 325.0h20.3v8.2h-20.3zM312.4 332.6h31.3v8.2h-31.3zM304.7 340.2h15.9v8.2h-15.9zM327.7 340.2h20.3v8.2h-20.3zM243.4 347.8h8.3v8.2h-8.3zM304.7 347.8h31.3v8.2h-31.3zM343.1 347.8h4.9v8.2h-4.9zM13.3 355.5h8.3v8.2h-8.3zM166.7 355.5h8.3v8.2h-8.3zM235.7 355.5h8.3v8.2h-8.3zM297.1 355.5h8.3v8.2h-8.3zM312.4 355.5h15.9v8.2h-15.9zM343.1 355.5h4.9v8.2h-4.9zM5.6 363.1h15.9v8.2h-15.9zM166.7 363.1h31.3v8.2h-31.3zM289.4 363.1h8.3v8.2h-8.3zM312.4 363.1h23.6v8.2h-23.6zM5.6 370.7h8.3v8.2h-8.3zM28.6 370.7h15.9v8.2h-15.9zM151.3 370.7h15.9v8.2h-15.9zM174.3 370.7h15.9v8.2h-15.9zM197.3 370.7h8.3v8.2h-8.3zM220.4 370.7h15.9v8.2h-15.9zM289.4 370.7h15.9v8.2h-15.9zM320.1 370.7h8.3v8.2h-8.3zM335.4 370.7h12.6v8.2h-12.6zM13.3 378.3h31.3v8.2h-31.3zM90.0 378.3h8.3v8.2h-8.3zM105.3 378.3h15.9v8.2h-15.9zM136.0 378.3h8.3v8.2h-8.3zM159.0 378.3h8.3v8.2h-8.3zM174.3 378.3h38.9v8.2h-38.9zM220.4 378.3h8.3v8.2h-8.3zM235.7 378.3h8.3v8.2h-8.3zM281.7 378.3h31.3v8.2h-31.3zM320.1 378.3h23.6v8.2h-23.6zM5.6 385.9h8.3v8.2h-8.3zM28.6 385.9h15.9v8.2h-15.9zM105.3 385.9h23.6v8.2h-23.6zM151.3 385.9h8.3v8.2h-8.3zM197.3 385.9h8.3v8.2h-8.3zM228.0 385.9h8.3v8.2h-8.3zM266.4 385.9h39.0v8.2h-39.0zM320.1 385.9h8.3v8.2h-8.3zM13.3 393.4h8.3v8.2h-8.3zM36.3 393.4h15.9v8.2h-15.9zM74.6 393.4h31.3v8.2h-31.3zM113.0 393.4h8.3v8.2h-8.3zM128.3 393.4h23.6v8.2h-23.6zM159.0 393.4h15.9v8.2h-15.9zM182.0 393.4h23.6v8.2h-23.6zM212.7 393.4h8.3v8.2h-8.3zM228.0 393.4h8.3v8.2h-8.3zM243.4 393.4h15.9v8.2h-15.9zM266.4 393.4h46.6v8.2h-46.6zM320.1 393.4h15.9v8.2h-15.9zM5.6 401.0h8.3v8.2h-8.3zM20.9 401.0h8.3v8.2h-8.3zM36.3 401.0h15.9v8.2h-15.9zM74.6 401.0h31.3v8.2h-31.3zM113.0 401.0h69.6v8.2h-69.6zM197.3 401.0h8.3v8.2h-8.3zM212.7 401.0h15.9v8.2h-15.9zM235.7 401.0h23.6v8.2h-23.6zM266.4 401.0h8.3v8.2h-8.3zM281.7 401.0h8.3v8.2h-8.3zM304.7 401.0h8.3v8.2h-8.3zM320.1 401.0h15.9v8.2h-15.9zM343.1 401.0h4.9v8.2h-4.9zM5.6 408.6h8.3v8.2h-8.3zM20.9 408.6h85.0v8.2h-85.0zM113.0 408.6h8.3v8.2h-8.3zM136.0 408.6h31.3v8.2h-31.3zM205.0 408.6h39.0v8.2h-39.0zM251.0 408.6h15.9v8.2h-15.9zM281.7 408.6h23.6v8.2h-23.6zM327.7 408.6h15.9v8.2h-15.9zM5.6 416.2h8.3v8.2h-8.3zM20.9 416.2h8.3v8.2h-8.3zM36.3 416.2h15.9v8.2h-15.9zM67.0 416.2h54.3v8.2h-54.3zM128.3 416.2h31.3v8.2h-31.3zM166.7 416.2h8.3v8.2h-8.3zM220.4 416.2h8.3v8.2h-8.3zM235.7 416.2h15.9v8.2h-15.9zM266.4 416.2h8.3v8.2h-8.3zM281.7 416.2h15.9v8.2h-15.9zM304.7 416.2h31.3v8.2h-31.3zM343.1 416.2h4.9v8.2h-4.9zM5.6 423.7h15.9v3.8h-15.9zM28.6 423.7h46.6v3.8h-46.6zM82.3 423.7h38.9v3.8h-38.9zM128.3 423.7h8.3v3.8h-8.3zM151.3 423.7h8.3v3.8h-8.3zM174.3 423.7h31.3v3.8h-31.3zM220.4 423.7h15.9v3.8h-15.9zM258.7 423.7h15.9v3.8h-15.9zM281.7 423.7h46.6v3.8h-46.6z"/>
<path fill="#00008a" d="M327.7 309.7h15.9v8.2h-15.9zM335.4 317.4h12.6v8.2h-12.6zM320.1 325.0h8.3v8.2h-8.3zM343.1 332.6h4.9v8.2h-4.9zM5.6 347.8h8.3v8.2h-8.3zM335.4 347.8h8.3v8.2h-8.3zM5.6 355.5h8.3v8.2h-8.3zM20.9 355.5h8.3v8.2h-8.3zM174.3 355.5h8.3v8.2h-8.3zM304.7 355.5h8.3v8.2h-8.3zM335.4 355.5h8.3v8.2h-8.3zM20.9 363.1h31.3v8.2h-31.3zM159.0 363.1h8.3v8.2h-8.3zM297.1 363.1h8.3v8.2h-8.3zM335.4 363.1h12.6v8.2h-12.6zM13.3 370.7h15.9v8.2h-15.9zM166.7 370.7h8.3v8.2h-8.3zM189.7 370.7h8.3v8.2h-8.3zM212.7 370.7h8.3v8.2h-8.3zM281.7 370.7h8.3v8.2h-8.3zM304.7 370.7h15.9v8.2h-15.9zM327.7 370.7h8.3v8.2h-8.3zM5.6 378.3h8.3v8.2h-8.3zM97.6 378.3h8.3v8.2h-8.3zM143.7 378.3h15.9v8.2h-15.9zM166.7 378.3h8.3v8.2h-8.3zM212.7 378.3h8.3v8.2h-8.3zM228.0 378.3h8.3v8.2h-8.3zM343.1 378.3h4.9v8.2h-4.9zM20.9 385.9h8.3v8.2h-8.3zM74.6 385.9h15.9v8.2h-15.9zM97.6 385.9h8.3v8.2h-8.3zM143.7 385.9h8.3v8.2h-8.3zM159.0 385.9h23.6v8.2h-23.6zM189.7 385.9h8.3v8.2h-8.3zM205.0 385.9h15.9v8.2h-15.9zM235.7 385.9h8.3v8.2h-8.3zM304.7 385.9h8.3v8.2h-8.3zM327.7 385.9h8.3v8.2h-8.3zM343.1 385.9h4.9v8.2h-4.9zM5.6 393.4h8.3v8.2h-8.3zM20.9 393.4h15.9v8.2h-15.9zM151.3 393.4h8.3v8.2h-8.3zM220.4 393.4h8.3v8.2h-8.3zM235.7 393.4h8.3v8.2h-8.3zM258.7 393.4h8.3v8.2h-8.3zM312.4 393.4h8.3v8.2h-8.3zM343.1 393.4h4.9v8.2h-4.9zM13.3 401.0h8.3v8.2h-8.3zM28.6 401.0h8.3v8.2h-8.3zM51.6 401.0h23.6v8.2h-23.6zM105.3 401.0h8.3v8.2h-8.3zM189.7 401.0h8.3v8.2h-8.3zM205.0 401.0h8.3v8.2h-8.3zM228.0 401.0h8.3v8.2h-8.3zM258.7 401.0h8.3v8.2h-8.3zM274.1 401.0h8.3v8.2h-8.3zM289.4 401.0h15.9v8.2h-15.9zM312.4 401.0h8.3v8.2h-8.3zM335.4 401.0h8.3v8.2h-8.3zM13.3 408.6h8.3v8.2h-8.3zM105.3 408.6h8.3v8.2h-8.3zM120.6 408.6h15.9v8.2h-15.9zM166.7 408.6h38.9v8.2h-38.9zM243.4 408.6h8.3v8.2h-8.3zM266.4 408.6h15.9v8.2h-15.9zM304.7 408.6h8.3v8.2h-8.3zM320.1 408.6h8.3v8.2h-8.3zM343.1 408.6h4.9v8.2h-4.9zM13.3 416.2h8.3v8.2h-8.3zM28.6 416.2h8.3v8.2h-8.3zM51.6 416.2h15.9v8.2h-15.9zM120.6 416.2h8.3v8.2h-8.3zM159.0 416.2h8.3v8.2h-8.3zM174.3 416.2h31.3v8.2h-31.3zM212.7 416.2h8.3v8.2h-8.3zM228.0 416.2h8.3v8.2h-8.3zM251.0 416.2h15.9v8.2h-15.9zM274.1 416.2h8.3v8.2h-8.3zM335.4 416.2h8.3v8.2h-8.3zM20.9 423.7h8.3v3.8h-8.3zM74.6 423.7h8.3v3.8h-8.3zM136.0 423.7h15.9v3.8h-15.9zM159.0 423.7h15.9v3.8h-15.9zM212.7 423.7h8.3v3.8h-8.3zM235.7 423.7h8.3v3.8h-8.3zM251.0 423.7h8.3v3.8h-8.3zM274.1 423.7h8.3v3.8h-8.3zM335.4 423.7h12.6v3.8h-12.6z"/>
</g><polyline points="12.5,340.9 21.1,347.3 36.1,354.9 51.2,358.1 57.6,366.7 49.0,383.9 53.3,392.5 59.8,394.7 68.4,391.4 77.0,379.6 94.2,373.2 111.4,368.9 122.2,369.9 129.7,377.5 148.0,371.0 156.6,360.3 167.4,351.6 176.0,349.5 186.7,352.7 197.5,360.3 206.1,368.9 214.7,366.7 228.7,361.3 234.1,351.6 243.7,343.0 251.3,343.0 266.3,353.8 255.6,361.3 243.7,368.9 258.8,386.1 277.1,377.5 274.9,369.9 287.8,362.4 290.0,353.8 298.6,345.2 298.6,336.6 307.2,330.1 305.0,321.5 312.6,312.9 313.7,302.2 320.1,299.6 341.6,303.2 348.0,304.0" fill="none" stroke="#000" stroke-width="1"/>
<use href="#land"/>
<use href="#gridl" clip-path="url(#cpl)" opacity="0.55"/>
<g fill="none" stroke="#000" stroke-width="1" stroke-linejoin="round"><polyline points="256.8,-0.3 258.9,6.1 274.0,7.2"/><polyline points="285.8,13.6 298.7,13.6 313.8,7.2 328.8,7.2 327.7,15.8 324.5,19.0 333.1,38.4 341.7,45.9"/><polyline points="285.8,45.9 293.3,40.5 300.9,50.2 297.6,56.7 289.0,52.4 285.8,45.9"/><polyline points="298.7,38.4 307.3,33.0 320.2,43.8 312.7,49.1 305.2,44.8"/><polyline points="305.2,83.6 312.7,69.6 329.9,79.3 332.1,85.7 327.7,92.2 313.8,87.9 305.2,83.6"/><polyline points="312.7,122.3 320.2,108.3 333.1,114.8 335.3,122.3 327.7,130.9 318.1,125.5 312.7,122.3"/><text x="279.8" y="13.6" font-size="11" fill="#000" stroke="none" text-anchor="middle" transform="rotate(20 279.8 13.6)">3</text><text x="294.4" y="45.9" font-size="11" fill="#000" stroke="none" text-anchor="middle" transform="rotate(20 294.4 45.9)">3</text><text x="318.1" y="76.0" font-size="11" fill="#000" stroke="none" text-anchor="middle" transform="rotate(20 318.1 76.0)">3</text><text x="329.9" y="111.5" font-size="11" fill="#000" stroke="none" text-anchor="middle" transform="rotate(20 329.9 111.5)">3</text><text x="307.3" y="38.4" font-size="11" fill="#000" stroke="none" text-anchor="middle" transform="rotate(20 307.3 38.4)">3</text><text x="220.2" y="367.8" font-size="11" fill="#000" stroke="none" text-anchor="middle" transform="rotate(10 220.2 367.8)">3</text><text x="22.2" y="348.4" font-size="11" fill="#000" stroke="none" text-anchor="middle" transform="rotate(20 22.2 348.4)">3</text></g>
<use href="#sites"/>
</g>
<use href="#frame"/>
<text x="174" y="-12" text-anchor="middle" font-size="20.5" font-weight="bold">Number of Rads (3)</text>
<rect x="3.6" y="20.0" width="113.7" height="25.0" fill="url(#jet)" stroke="#262626" stroke-width="1"/>
<text x="3.0" y="7.2" text-anchor="middle" font-size="17" fill="#262626">0</text>
<text x="101.0" y="7.2" text-anchor="middle" font-size="17" fill="#262626">50</text>
<text x="284.0" y="37.0" font-size="20.5" fill="#000">10 km</text><line x1="307.0" y1="43.5" x2="320.5" y2="43.5" stroke="#000" stroke-width="3.2" stroke-linecap="round"/>
</g>
<g transform="translate(1227.5,142.5)">
<use href="#axl"/>
<g clip-path="url(#cp)">
<use href="#gridl"/>
<g shape-rendering="crispEdges">
<path fill="#80ff80" d="M67.0 0.0h154.0v8.4h-154.0zM67.0 7.8h154.0v8.4h-154.0zM74.6 15.7h146.3v8.4h-146.3zM228.0 15.7h15.9v8.4h-15.9zM74.6 23.5h177.0v8.4h-177.0zM74.6 31.4h146.3v8.4h-146.3zM228.0 31.4h23.6v8.4h-23.6zM74.6 39.2h146.3v8.4h-146.3zM74.6 47.0h154.0v8.4h-154.0zM82.3 54.8h146.3v8.4h-146.3zM82.3 62.6h177.0v8.4h-177.0zM82.3 70.4h177.0v8.4h-177.0zM82.3 78.2h161.7v8.4h-161.7zM82.3 86.0h177.0v8.4h-177.0zM90.0 93.8h85.0v8.4h-85.0zM197.3 93.8h31.3v8.4h-31.3zM235.7 93.8h23.6v8.4h-23.6zM90.0 101.6h69.6v8.4h-69.6zM197.3 101.6h31.3v8.4h-31.3zM235.7 101.6h23.6v8.4h-23.6zM97.6 109.4h31.3v8.4h-31.3zM197.3 109.4h15.9v8.4h-15.9zM243.4 109.4h23.6v8.4h-23.6zM335.4 109.4h12.6v8.4h-12.6zM97.6 117.1h31.3v8.4h-31.3zM205.0 117.1h8.3v8.4h-8.3zM235.7 117.1h39.0v8.4h-39.0zM281.7 117.1h15.9v8.4h-15.9zM335.4 117.1h12.6v8.4h-12.6zM113.0 124.9h15.9v8.4h-15.9zM251.0 124.9h54.3v8.4h-54.3zM335.4 124.9h12.6v8.4h-12.6zM113.0 132.7h15.9v8.4h-15.9zM220.4 132.7h8.3v8.4h-8.3zM235.7 132.7h8.3v8.4h-8.3zM251.0 132.7h54.3v8.4h-54.3zM335.4 132.7h12.6v8.4h-12.6zM113.0 140.4h23.6v8.3h-23.6zM205.0 140.4h23.6v8.3h-23.6zM235.7 140.4h77.3v8.3h-77.3zM335.4 140.4h12.6v8.3h-12.6zM189.7 148.2h123.3v8.3h-123.3zM343.1 148.2h4.9v8.3h-4.9zM113.0 155.9h8.3v8.3h-8.3zM151.3 155.9h8.3v8.3h-8.3zM166.7 155.9h62.0v8.3h-62.0zM235.7 155.9h85.0v8.3h-85.0zM343.1 155.9h4.9v8.3h-4.9zM113.0 163.7h8.3v8.3h-8.3zM174.3 163.7h146.3v8.3h-146.3zM343.1 163.7h4.9v8.3h-4.9zM143.7 171.4h8.3v8.3h-8.3zM174.3 171.4h154.0v8.3h-154.0zM343.1 171.4h4.9v8.3h-4.9zM143.7 179.1h8.3v8.3h-8.3zM166.7 179.1h181.3v8.3h-181.3zM120.6 186.8h8.3v8.3h-8.3zM136.0 186.8h212.0v8.3h-212.0zM120.6 194.6h227.4v8.3h-227.4zM120.6 202.3h227.4v8.3h-227.4zM128.3 210.0h15.9v8.3h-15.9zM151.3 210.0h196.7v8.3h-196.7zM159.0 217.7h189.0v8.3h-189.0zM166.7 225.4h181.3v8.3h-181.3zM120.6 233.1h15.9v8.3h-15.9zM166.7 233.1h38.9v8.3h-38.9zM212.7 233.1h135.3v8.3h-135.3zM120.6 240.8h23.6v8.3h-23.6zM174.3 240.8h23.6v8.3h-23.6zM235.7 240.8h112.3v8.3h-112.3zM120.6 248.4h8.3v8.3h-8.3zM174.3 248.4h23.6v8.3h-23.6zM251.0 248.4h97.0v8.3h-97.0zM90.0 256.1h15.9v8.3h-15.9zM120.6 256.1h8.3v8.3h-8.3zM182.0 256.1h23.6v8.3h-23.6zM212.7 256.1h15.9v8.3h-15.9zM258.7 256.1h89.3v8.3h-89.3zM90.0 263.8h15.9v8.3h-15.9zM182.0 263.8h23.6v8.3h-23.6zM212.7 263.8h15.9v8.3h-15.9zM258.7 263.8h89.3v8.3h-89.3zM67.0 271.5h15.9v8.3h-15.9zM97.6 271.5h8.3v8.3h-8.3zM159.0 271.5h23.6v8.3h-23.6zM197.3 271.5h8.3v8.3h-8.3zM212.7 271.5h15.9v8.3h-15.9zM251.0 271.5h97.0v8.3h-97.0zM59.3 279.1h23.6v8.3h-23.6zM97.6 279.1h15.9v8.3h-15.9zM159.0 279.1h69.6v8.3h-69.6zM251.0 279.1h97.0v8.3h-97.0zM51.6 286.8h38.9v8.3h-38.9zM97.6 286.8h15.9v8.3h-15.9zM159.0 286.8h69.6v8.3h-69.6zM235.7 286.8h112.3v8.3h-112.3zM44.0 294.4h46.6v8.2h-46.6zM105.3 294.4h23.6v8.2h-23.6zM151.3 294.4h38.9v8.2h-38.9zM205.0 294.4h23.6v8.2h-23.6zM235.7 294.4h23.6v8.2h-23.6zM266.4 294.4h23.6v8.2h-23.6zM297.1 294.4h23.6v8.2h-23.6zM327.7 294.4h20.3v8.2h-20.3zM59.3 302.1h23.6v8.2h-23.6zM105.3 302.1h23.6v8.2h-23.6zM151.3 302.1h23.6v8.2h-23.6zM182.0 302.1h46.6v8.2h-46.6zM235.7 302.1h23.6v8.2h-23.6zM266.4 302.1h23.6v8.2h-23.6zM297.1 302.1h31.3v8.2h-31.3zM105.3 309.7h8.3v8.2h-8.3zM128.3 309.7h46.6v8.2h-46.6zM189.7 309.7h23.6v8.2h-23.6zM228.0 309.7h23.6v8.2h-23.6zM97.6 317.4h15.9v8.2h-15.9zM128.3 317.4h46.6v8.2h-46.6zM197.3 317.4h46.6v8.2h-46.6zM20.9 325.0h31.3v8.2h-31.3zM97.6 325.0h15.9v8.2h-15.9zM120.6 325.0h115.6v8.2h-115.6zM13.3 332.6h69.6v8.2h-69.6zM97.6 332.6h8.3v8.2h-8.3zM128.3 332.6h92.6v8.2h-92.6zM28.6 340.2h54.3v8.2h-54.3zM120.6 340.2h85.0v8.2h-85.0zM51.6 347.8h31.3v8.2h-31.3zM105.3 347.8h62.0v8.2h-62.0zM67.0 355.5h15.9v8.2h-15.9zM97.6 355.5h62.0v8.2h-62.0zM97.6 363.1h15.9v8.2h-15.9zM151.3 363.1h8.3v8.2h-8.3zM97.6 370.7h8.3v8.2h-8.3z"/>
<path fill="#0080ff" d="M220.4 0.0h123.3v8.4h-123.3zM220.4 7.8h127.6v8.4h-127.6zM220.4 15.7h8.3v8.4h-8.3zM243.4 15.7h104.6v8.4h-104.6zM251.0 23.5h97.0v8.4h-97.0zM220.4 31.4h8.3v8.4h-8.3zM251.0 31.4h97.0v8.4h-97.0zM220.4 39.2h127.6v8.4h-127.6zM228.0 47.0h120.0v8.4h-120.0zM228.0 54.8h120.0v8.4h-120.0zM258.7 62.6h89.3v8.4h-89.3zM258.7 70.4h89.3v8.4h-89.3zM258.7 78.2h89.3v8.4h-89.3zM258.7 86.0h89.3v8.4h-89.3zM258.7 93.8h89.3v8.4h-89.3zM258.7 101.6h89.3v8.4h-89.3zM266.4 109.4h69.6v8.4h-69.6zM274.1 117.1h8.3v8.4h-8.3zM297.1 117.1h39.0v8.4h-39.0zM97.6 124.9h15.9v8.4h-15.9zM235.7 124.9h15.9v8.4h-15.9zM304.7 124.9h31.3v8.4h-31.3zM105.3 132.7h8.3v8.4h-8.3zM243.4 132.7h8.3v8.4h-8.3zM304.7 132.7h31.3v8.4h-31.3zM105.3 140.4h8.3v8.3h-8.3zM312.4 140.4h23.6v8.3h-23.6zM105.3 148.2h23.6v8.3h-23.6zM312.4 148.2h31.3v8.3h-31.3zM228.0 155.9h8.3v8.3h-8.3zM320.1 155.9h23.6v8.3h-23.6zM320.1 163.7h23.6v8.3h-23.6zM327.7 171.4h15.9v8.3h-15.9zM120.6 210.0h8.3v8.3h-8.3zM120.6 217.7h15.9v8.3h-15.9zM120.6 225.4h15.9v8.3h-15.9zM220.4 240.8h15.9v8.3h-15.9zM220.4 248.4h31.3v8.3h-31.3zM228.0 256.1h31.3v8.3h-31.3zM82.3 263.8h8.3v8.3h-8.3zM228.0 263.8h31.3v8.3h-31.3zM82.3 271.5h15.9v8.3h-15.9zM182.0 271.5h8.3v8.3h-8.3zM228.0 271.5h23.6v8.3h-23.6zM82.3 279.1h15.9v8.3h-15.9zM228.0 279.1h23.6v8.3h-23.6zM90.0 286.8h8.3v8.3h-8.3zM228.0 286.8h8.3v8.3h-8.3zM90.0 294.4h15.9v8.2h-15.9zM258.7 294.4h8.3v8.2h-8.3zM289.4 294.4h8.3v8.2h-8.3zM320.1 294.4h8.3v8.2h-8.3zM36.3 302.1h23.6v8.2h-23.6zM82.3 302.1h23.6v8.2h-23.6zM174.3 302.1h8.3v8.2h-8.3zM258.7 302.1h8.3v8.2h-8.3zM289.4 302.1h8.3v8.2h-8.3zM343.1 302.1h4.9v8.2h-4.9zM28.6 309.7h77.3v8.2h-77.3zM174.3 309.7h15.9v8.2h-15.9zM251.0 309.7h77.3v8.2h-77.3zM343.1 309.7h4.9v8.2h-4.9zM20.9 317.4h77.3v8.2h-77.3zM174.3 317.4h23.6v8.2h-23.6zM243.4 317.4h77.3v8.2h-77.3zM343.1 317.4h4.9v8.2h-4.9zM13.3 325.0h8.3v8.2h-8.3zM51.6 325.0h46.6v8.2h-46.6zM235.7 325.0h85.0v8.2h-85.0zM82.3 332.6h15.9v8.2h-15.9zM220.4 332.6h92.6v8.2h-92.6zM20.9 340.2h8.3v8.2h-8.3zM82.3 340.2h23.6v8.2h-23.6zM205.0 340.2h108.0v8.2h-108.0zM20.9 347.8h31.3v8.2h-31.3zM82.3 347.8h23.6v8.2h-23.6zM166.7 347.8h138.7v8.2h-138.7zM51.6 355.5h15.9v8.2h-15.9zM82.3 355.5h15.9v8.2h-15.9zM159.0 355.5h15.9v8.2h-15.9zM197.3 355.5h100.3v8.2h-100.3zM5.6 363.1h8.3v8.2h-8.3zM51.6 363.1h46.6v8.2h-46.6zM113.0 363.1h38.9v8.2h-38.9zM159.0 363.1h15.9v8.2h-15.9zM197.3 363.1h100.3v8.2h-100.3zM5.6 370.7h8.3v8.2h-8.3zM51.6 370.7h46.6v8.2h-46.6zM105.3 370.7h46.6v8.2h-46.6zM205.0 370.7h85.0v8.2h-85.0zM5.6 378.3h15.9v8.2h-15.9zM44.0 378.3h38.9v8.2h-38.9zM128.3 378.3h15.9v8.2h-15.9zM228.0 378.3h54.3v8.2h-54.3zM5.6 385.9h15.9v8.2h-15.9zM44.0 385.9h31.3v8.2h-31.3zM212.7 385.9h69.6v8.2h-69.6zM44.0 393.4h31.3v8.2h-31.3zM212.7 393.4h31.3v8.2h-31.3zM251.0 393.4h15.9v8.2h-15.9zM97.6 401.0h8.3v8.2h-8.3zM212.7 401.0h23.6v8.2h-23.6zM90.0 408.6h23.6v8.2h-23.6zM143.7 408.6h15.9v8.2h-15.9zM90.0 416.2h23.6v8.2h-23.6zM136.0 416.2h23.6v8.2h-23.6zM189.7 416.2h23.6v8.2h-23.6zM97.6 423.7h15.9v3.8h-15.9zM136.0 423.7h23.6v3.8h-23.6zM189.7 423.7h23.6v3.8h-23.6z"/>
<path fill="#000080" d="M343.1 0.0h4.9v8.4h-4.9zM327.7 302.1h15.9v8.2h-15.9zM327.7 309.7h15.9v8.2h-15.9zM320.1 317.4h23.6v8.2h-23.6zM320.1 325.0h27.9v8.2h-27.9zM312.4 332.6h35.6v8.2h-35.6zM5.6 340.2h15.9v8.2h-15.9zM312.4 340.2h35.6v8.2h-35.6zM5.6 347.8h15.9v8.2h-15.9zM304.7 347.8h43.3v8.2h-43.3zM5.6 355.5h46.6v8.2h-46.6zM174.3 355.5h23.6v8.2h-23.6zM297.1 355.5h50.9v8.2h-50.9zM13.3 363.1h39.0v8.2h-39.0zM174.3 363.1h23.6v8.2h-23.6zM297.1 363.1h50.9v8.2h-50.9zM13.3 370.7h39.0v8.2h-39.0zM151.3 370.7h54.3v8.2h-54.3zM289.4 370.7h58.6v8.2h-58.6zM20.9 378.3h23.6v8.2h-23.6zM82.3 378.3h46.6v8.2h-46.6zM143.7 378.3h85.0v8.2h-85.0zM281.7 378.3h66.3v8.2h-66.3zM20.9 385.9h23.6v8.2h-23.6zM74.6 385.9h138.7v8.2h-138.7zM281.7 385.9h66.3v8.2h-66.3zM5.6 393.4h39.0v8.2h-39.0zM74.6 393.4h138.7v8.2h-138.7zM243.4 393.4h8.3v8.2h-8.3zM266.4 393.4h81.6v8.2h-81.6zM5.6 401.0h92.6v8.2h-92.6zM105.3 401.0h108.0v8.2h-108.0zM235.7 401.0h112.3v8.2h-112.3zM5.6 408.6h85.0v8.2h-85.0zM113.0 408.6h31.3v8.2h-31.3zM159.0 408.6h189.0v8.2h-189.0zM5.6 416.2h85.0v8.2h-85.0zM113.0 416.2h23.6v8.2h-23.6zM159.0 416.2h31.3v8.2h-31.3zM212.7 416.2h135.3v8.2h-135.3zM5.6 423.7h92.6v3.8h-92.6zM113.0 423.7h23.6v3.8h-23.6zM159.0 423.7h31.3v3.8h-31.3zM212.7 423.7h135.3v3.8h-135.3z"/>
<path fill="#ff8000" d="M243.4 78.2h15.9v8.4h-15.9zM174.3 93.8h23.6v8.4h-23.6zM228.0 93.8h8.3v8.4h-8.3zM159.0 101.6h38.9v8.4h-38.9zM228.0 101.6h8.3v8.4h-8.3zM128.3 109.4h69.6v8.4h-69.6zM212.7 109.4h31.3v8.4h-31.3zM128.3 117.1h77.3v8.4h-77.3zM212.7 117.1h23.6v8.4h-23.6zM128.3 124.9h108.0v8.4h-108.0zM128.3 132.7h92.6v8.4h-92.6zM228.0 132.7h8.3v8.4h-8.3zM136.0 140.4h69.6v8.3h-69.6zM228.0 140.4h8.3v8.3h-8.3zM128.3 148.2h62.0v8.3h-62.0zM120.6 155.9h31.3v8.3h-31.3zM159.0 155.9h8.3v8.3h-8.3zM120.6 163.7h54.3v8.3h-54.3zM120.6 171.4h23.6v8.3h-23.6zM151.3 171.4h23.6v8.3h-23.6zM120.6 179.1h23.6v8.3h-23.6zM151.3 179.1h15.9v8.3h-15.9zM128.3 186.8h8.3v8.3h-8.3zM143.7 210.0h8.3v8.3h-8.3zM136.0 217.7h23.6v8.3h-23.6zM136.0 225.4h31.3v8.3h-31.3zM136.0 233.1h8.3v8.3h-8.3zM151.3 233.1h15.9v8.3h-15.9zM205.0 233.1h8.3v8.3h-8.3zM143.7 240.8h8.3v8.3h-8.3zM159.0 240.8h15.9v8.3h-15.9zM197.3 240.8h23.6v8.3h-23.6zM128.3 248.4h15.9v8.3h-15.9zM159.0 248.4h15.9v8.3h-15.9zM197.3 248.4h23.6v8.3h-23.6zM105.3 256.1h15.9v8.3h-15.9zM128.3 256.1h15.9v8.3h-15.9zM159.0 256.1h23.6v8.3h-23.6zM205.0 256.1h8.3v8.3h-8.3zM105.3 263.8h46.6v8.3h-46.6zM159.0 263.8h23.6v8.3h-23.6zM205.0 263.8h8.3v8.3h-8.3zM105.3 271.5h54.3v8.3h-54.3zM189.7 271.5h8.3v8.3h-8.3zM205.0 271.5h8.3v8.3h-8.3zM113.0 279.1h46.6v8.3h-46.6zM113.0 286.8h46.6v8.3h-46.6zM128.3 294.4h23.6v8.2h-23.6zM189.7 294.4h15.9v8.2h-15.9zM228.0 294.4h8.3v8.2h-8.3zM128.3 302.1h23.6v8.2h-23.6zM228.0 302.1h8.3v8.2h-8.3zM113.0 309.7h15.9v8.2h-15.9zM212.7 309.7h15.9v8.2h-15.9zM113.0 317.4h15.9v8.2h-15.9zM113.0 325.0h8.3v8.2h-8.3zM105.3 332.6h23.6v8.2h-23.6zM105.3 340.2h15.9v8.2h-15.9z"/>
<path fill="#800000" d="M143.7 233.1h8.3v8.3h-8.3zM151.3 240.8h8.3v8.3h-8.3zM143.7 248.4h15.9v8.3h-15.9zM143.7 256.1h15.9v8.3h-15.9zM151.3 263.8h8.3v8.3h-8.3z"/>
</g>
<use href="#land"/>
<use href="#gridl" clip-path="url(#cpl)" opacity="0.55"/>
<g fill="none" stroke="#000" stroke-width="1" stroke-linejoin="round"><polyline points="215.7,-0.8 212.3,4.4 212.3,21.7 220.0,30.3 212.3,38.0 212.3,45.8 220.0,53.6 220.0,61.3 227.8,69.1 251.2,69.1 251.2,76.9 253.7,85.5 251.2,92.4 251.2,107.9 274.4,131.2 277.8,128.6"/><polyline points="288.2,123.4 312.3,147.6 312.3,170.0 327.8,185.6 335.6,185.6 343.4,177.8 343.4,154.5 335.6,146.7 335.6,115.7 342.5,115.7"/><polyline points="220.9,0.1 228.6,7.0 251.2,7.0 251.2,0.1"/><polyline points="220.9,30.3 228.6,22.5 235.5,22.5 243.3,30.3 243.3,38.0 228.6,38.0 220.9,30.3"/><polyline points="235.5,124.3 232.1,131.2 235.5,139.0 243.3,146.7 250.2,139.8 250.2,132.1"/><polyline points="212.3,154.5 220.0,146.7 235.5,162.3 227.8,170.0 212.3,154.5"/><polyline points="104.4,124.3 113.0,132.1 113.0,146.7 122.5,146.7"/><polyline points="109.6,163.1 122.5,158.0"/><text x="282.1" y="129.5" font-size="11" fill="#000" stroke="none" text-anchor="middle" transform="rotate(15 282.1 129.5)">2</text><text x="217.4" y="5.3" font-size="11" fill="#000" stroke="none" text-anchor="middle" transform="rotate(20 217.4 5.3)">2</text><text x="245.0" y="129.5" font-size="11" fill="#000" stroke="none" text-anchor="middle" transform="rotate(60 245.0 129.5)">2</text><text x="224.3" y="152.8" font-size="11" fill="#000" stroke="none" text-anchor="middle" transform="rotate(60 224.3 152.8)">2</text><text x="122.5" y="152.8" font-size="11" fill="#000" stroke="none" text-anchor="middle" transform="rotate(70 122.5 152.8)">2</text><polyline points="97.5,376.6 120.8,354.2 144.1,361.9 151.0,368.8 151.0,361.9 166.5,346.4 197.6,346.4 205.4,338.6 213.1,338.6 220.9,330.9 228.6,330.9 251.2,309.3 251.2,300.7 258.8,292.9 266.6,300.7 266.6,308.4 281.3,308.4 281.3,300.7 289.0,292.9 296.8,300.7 296.8,308.4 304.6,308.4"/><polyline points="312.3,300.7 320.1,292.9 327.8,300.7"/><polyline points="219.2,240.3 228.6,239.4 235.5,247.2 243.3,247.2 258.8,262.7 258.8,267.9"/><polyline points="251.2,278.2 251.2,286.0 243.3,292.9 228.6,297.2 220.9,292.9 220.0,262.7 215.7,250.6 219.2,240.3"/><polyline points="173.4,300.7 166.5,308.4 166.5,323.1 174.3,330.9 189.8,330.9 196.7,323.1 184.6,316.2 173.4,300.7"/><polyline points="97.5,376.6 97.5,361.9 105.3,354.2 97.5,338.6 97.5,323.1 105.3,315.3 105.3,292.9 89.8,270.5 89.8,264.4"/><polyline points="120.8,209.2 132.0,224.8 135.5,239.4"/><polyline points="120.8,239.4 127.7,247.2"/><polyline points="175.2,276.5 182.1,285.1 185.5,276.5 175.2,276.5"/><polyline points="199.3,317.9 205.4,324.0 208.8,316.2 199.3,317.9"/><text x="255.4" y="275.7" font-size="11" fill="#000" stroke="none" text-anchor="middle" transform="rotate(75 255.4 275.7)">2</text><text x="309.7" y="309.3" font-size="11" fill="#000" stroke="none" text-anchor="middle" transform="rotate(60 309.7 309.3)">2</text><text x="182.1" y="312.7" font-size="11" fill="#000" stroke="none" text-anchor="middle" transform="rotate(60 182.1 312.7)">2</text><text x="202.8" y="314.5" font-size="11" fill="#000" stroke="none" text-anchor="middle" transform="rotate(60 202.8 314.5)">2</text><text x="179.5" y="276.5" font-size="11" fill="#000" stroke="none" text-anchor="middle" transform="rotate(60 179.5 276.5)">2</text><text x="131.2" y="244.6" font-size="11" fill="#000" stroke="none" text-anchor="middle" transform="rotate(70 131.2 244.6)">2</text><text x="124.3" y="360.2" font-size="11" fill="#000" stroke="none" text-anchor="middle" transform="rotate(75 124.3 360.2)">2</text><text x="79.4" y="290.3" font-size="11" fill="#000" stroke="none" text-anchor="middle" transform="rotate(75 79.4 290.3)">2</text><polyline points="13.9,338.5 21.2,331.1 44.1,331.1 51.8,338.9 75.1,338.9 75.1,361.7 66.9,361.7 59.6,354.4 51.8,354.4 46.7,349.2"/><polyline points="13.9,338.5 21.2,338.5 28.6,346.7 34.6,346.7"/><polyline points="97.6,322.5 97.6,338.9 105.3,354.4 97.6,361.7 97.6,377.3 120.9,354.4 125.2,355.7"/><text x="39.8" y="350.5" font-size="11" fill="#000" stroke="none" text-anchor="middle" transform="rotate(10 39.8 350.5)">2</text><text x="124.3" y="360.5" font-size="11" fill="#000" stroke="none" text-anchor="middle" transform="rotate(70 124.3 360.5)">2</text></g>
<use href="#sites"/>
</g>
<use href="#frame"/>
<text x="173" y="-12" text-anchor="middle" font-size="20.5" font-weight="bold">Number of Sites (2)</text>
<rect x="3.6" y="20.0" width="113.7" height="25.0" fill="url(#jet)" stroke="#262626" stroke-width="1"/>
<text x="3.0" y="7.2" text-anchor="middle" font-size="17" fill="#262626">0</text>
<text x="59.0" y="7.2" text-anchor="middle" font-size="17" fill="#262626">2</text>
<text x="116.0" y="7.2" text-anchor="middle" font-size="17" fill="#262626">4</text>
<text x="284.0" y="37.0" font-size="20.5" fill="#000">10 km</text><line x1="307.0" y1="43.5" x2="320.5" y2="43.5" stroke="#000" stroke-width="3.2" stroke-linecap="round"/>
</g>
<g transform="translate(74.5,742.5)">
<use href="#axl"/>
<g clip-path="url(#cp)">
<use href="#gridl"/>

<use href="#land"/>
<use href="#gridl" clip-path="url(#cpl)" opacity="0.55"/>
<path d="M68.8 29.9h0M69.8 22.5h0M70.9 15.1h0M71.9 7.7h0M73.0 0.2h0M70.1 30.2h0M71.8 22.9h0M73.4 15.6h0M75.1 8.3h0M76.8 1.0h0M71.3 30.5h0M73.7 23.4h0M76.0 16.3h0M78.3 9.1h0M80.6 2.0h0M72.6 31.0h0M75.5 24.1h0M78.4 17.2h0M81.4 10.3h0M84.3 3.4h0M73.7 31.6h0M77.3 24.9h0M80.8 18.3h0M84.3 11.7h0M87.8 5.1h0M74.9 32.2h0M79.0 25.9h0M83.0 19.6h0M87.1 13.3h0M91.2 7.1h0M95.3 0.8h0M75.9 33.0h0M80.6 27.1h0M85.2 21.2h0M89.8 15.2h0M94.4 9.3h0M99.0 3.4h0M76.9 33.8h0M82.0 28.3h0M87.2 22.9h0M92.3 17.4h0M97.4 11.9h0M102.5 6.4h0M107.6 0.9h0M77.8 34.8h0M83.4 29.7h0M89.0 24.7h0M94.6 19.7h0M100.1 14.7h0M105.7 9.7h0M111.3 4.7h0M116.9 -0.4h0M78.7 35.8h0M84.7 31.3h0M90.7 26.7h0M96.6 22.2h0M102.6 17.7h0M108.6 13.2h0M114.6 8.7h0M120.6 4.2h0M126.6 -0.3h0M79.4 36.9h0M85.8 32.9h0M92.1 28.9h0M98.5 24.9h0M104.9 21.0h0M111.2 17.0h0M117.6 13.0h0M123.9 9.0h0M130.3 5.1h0M136.7 1.1h0M80.1 38.0h0M86.7 34.6h0M93.4 31.2h0M100.1 27.8h0M106.8 24.4h0M113.5 21.0h0M120.2 17.6h0M126.8 14.2h0M133.5 10.8h0M140.2 7.3h0M146.9 3.9h0M153.6 0.5h0M80.6 39.2h0M87.6 36.4h0M94.5 33.6h0M101.5 30.8h0M108.4 27.9h0M115.4 25.1h0M122.3 22.3h0M129.3 19.5h0M136.2 16.7h0M143.2 13.9h0M150.1 11.1h0M157.1 8.3h0M164.1 5.5h0M171.0 2.7h0M178.0 -0.2h0M81.0 40.4h0M88.2 38.2h0M95.4 36.0h0M102.6 33.8h0M109.7 31.6h0M116.9 29.5h0M124.1 27.3h0M131.3 25.1h0M138.4 22.9h0M145.6 20.7h0M152.8 18.5h0M159.9 16.3h0M167.1 14.1h0M174.3 11.9h0M181.5 9.7h0M188.6 7.5h0M195.8 5.3h0M203.0 3.1h0M210.1 0.9h0M81.4 41.7h0M88.7 40.1h0M96.0 38.6h0M103.4 37.0h0M110.7 35.4h0M118.1 33.9h0M125.4 32.3h0M132.7 30.8h0M140.1 29.2h0M147.4 27.6h0M154.7 26.1h0M162.1 24.5h0M169.4 23.0h0M176.7 21.4h0M184.1 19.9h0M191.4 18.3h0M198.7 16.7h0M206.1 15.2h0M213.4 13.6h0M220.8 12.1h0M242.8 7.4h0M81.6 43.0h0M89.0 42.1h0M96.5 41.1h0M103.9 40.2h0M111.4 39.3h0M118.8 38.4h0M126.3 37.5h0M133.7 36.6h0M141.1 35.7h0M148.6 34.7h0M156.0 33.8h0M163.5 32.9h0M170.9 32.0h0M178.4 31.1h0M185.8 30.2h0M193.2 29.3h0M200.7 28.3h0M208.1 27.4h0M252.8 21.9h0M81.7 44.3h0M89.2 44.0h0M96.7 43.8h0M104.2 43.5h0M111.7 43.2h0M119.2 43.0h0M126.7 42.7h0M134.2 42.4h0M141.7 42.2h0M149.1 41.9h0M156.6 41.7h0M164.1 41.4h0M171.6 41.1h0M179.1 40.9h0M186.6 40.6h0M194.1 40.4h0M201.6 40.1h0M209.1 39.8h0M81.7 45.6h0M89.2 46.0h0M96.7 46.4h0M104.1 46.8h0M111.6 47.2h0M119.1 47.5h0M126.6 47.9h0M134.1 48.3h0M141.6 48.7h0M149.1 49.1h0M156.6 49.5h0M164.1 49.9h0M171.6 50.3h0M179.0 50.7h0M186.5 51.1h0M194.0 51.5h0M201.5 51.9h0M209.0 52.3h0M239.0 53.8h0M253.9 54.6h0M81.6 46.9h0M89.0 47.9h0M96.4 49.0h0M103.8 50.0h0M111.3 51.1h0M118.7 52.1h0M126.1 53.2h0M133.5 54.2h0M141.0 55.2h0M148.4 56.3h0M155.8 57.3h0M163.3 58.4h0M170.7 59.4h0M178.1 60.5h0M185.5 61.5h0M193.0 62.5h0M200.4 63.6h0M215.2 65.7h0M81.3 48.2h0M88.6 49.9h0M95.9 51.5h0M103.2 53.2h0M110.5 54.9h0M117.9 56.6h0M125.2 58.3h0M132.5 60.0h0M139.8 61.7h0M147.1 63.4h0M154.4 65.0h0M161.7 66.7h0M169.0 68.4h0M176.3 70.1h0M183.6 71.8h0M190.9 73.5h0M198.2 75.2h0M205.5 76.9h0M212.9 78.5h0M234.8 83.6h0M81.0 49.4h0M88.1 51.8h0M95.2 54.1h0M102.4 56.4h0M109.5 58.7h0M116.6 61.0h0M123.8 63.3h0M130.9 65.7h0M138.0 68.0h0M145.2 70.3h0M152.3 72.6h0M159.4 74.9h0M166.6 77.2h0M173.7 79.6h0M180.8 81.9h0M188.0 84.2h0M195.1 86.5h0M202.2 88.8h0M209.4 91.2h0M223.6 95.8h0M230.8 98.1h0M80.5 50.7h0M87.4 53.6h0M94.3 56.5h0M101.2 59.5h0M108.1 62.4h0M115.0 65.3h0M121.9 68.2h0M128.8 71.2h0M135.7 74.1h0M142.6 77.0h0M149.5 80.0h0M156.4 82.9h0M163.4 85.8h0M170.3 88.8h0M177.2 91.7h0M184.1 94.6h0M191.0 97.5h0M197.9 100.5h0M218.6 109.3h0M232.4 115.1h0M79.9 51.8h0M86.6 55.4h0M93.2 58.9h0M99.8 62.4h0M106.4 65.9h0M113.1 69.4h0M119.7 73.0h0M126.3 76.5h0M132.9 80.0h0M139.5 83.5h0M146.2 87.1h0M152.8 90.6h0M159.4 94.1h0M166.0 97.6h0M172.7 101.1h0M179.3 104.7h0M185.9 108.2h0M192.5 111.7h0M79.3 53.0h0M85.6 57.1h0M91.9 61.1h0M98.2 65.2h0M104.4 69.3h0M110.7 73.4h0M117.0 77.5h0M123.3 81.6h0M129.6 85.6h0M135.9 89.7h0M142.2 93.8h0M148.5 97.9h0M154.8 102.0h0M161.1 106.1h0M167.3 110.2h0M173.6 114.2h0M179.9 118.3h0M186.2 122.4h0M192.5 126.5h0M78.5 54.0h0M84.4 58.7h0M90.3 63.3h0M96.3 67.9h0M102.2 72.5h0M108.1 77.1h0M114.0 81.7h0M119.9 86.4h0M125.8 91.0h0M131.7 95.6h0M137.6 100.2h0M143.5 104.8h0M149.4 109.4h0M155.4 114.1h0M161.3 118.7h0M167.2 123.3h0M173.1 127.9h0M179.0 132.5h0M184.9 137.1h0M190.8 141.8h0M77.7 55.0h0M83.2 60.1h0M88.6 65.3h0M94.1 70.4h0M99.6 75.5h0M105.1 80.6h0M110.6 85.7h0M116.1 90.8h0M121.6 95.9h0M127.0 101.1h0M132.5 106.2h0M138.0 111.3h0M143.5 116.4h0M149.0 121.5h0M154.5 126.6h0M159.9 131.8h0M165.4 136.9h0M170.9 142.0h0M176.4 147.1h0M181.9 152.2h0M187.4 157.3h0M192.9 162.4h0M76.7 55.9h0M81.8 61.5h0M86.8 67.1h0M91.8 72.7h0M96.8 78.2h0M101.8 83.8h0M106.8 89.4h0M111.9 95.0h0M116.9 100.5h0M121.9 106.1h0M126.9 111.7h0M131.9 117.3h0M137.0 122.8h0M142.0 128.4h0M147.0 134.0h0M152.0 139.6h0M157.0 145.1h0M162.1 150.7h0M167.1 156.3h0M172.1 161.8h0M177.1 167.4h0M182.1 173.0h0M187.1 178.6h0M192.2 184.1h0M75.7 56.8h0M80.2 62.8h0M84.8 68.8h0M89.3 74.7h0M93.8 80.7h0M98.3 86.7h0M102.8 92.7h0M107.3 98.7h0M111.8 104.7h0M116.3 110.7h0M120.9 116.7h0M125.4 122.7h0M129.9 128.7h0M134.4 134.6h0M138.9 140.6h0M143.4 146.6h0M147.9 152.6h0M152.5 158.6h0M157.0 164.6h0M161.5 170.6h0M170.5 182.6h0M175.0 188.6h0M74.6 57.5h0M78.6 63.9h0M82.6 70.2h0M86.6 76.6h0M90.5 83.0h0M94.5 89.3h0M98.5 95.7h0M102.5 102.0h0M106.4 108.4h0M110.4 114.8h0M114.4 121.1h0M118.4 127.5h0M122.3 133.8h0M126.3 140.2h0M130.3 146.6h0M134.3 152.9h0M138.2 159.3h0M142.2 165.6h0M146.2 172.0h0M154.1 184.7h0M162.1 197.4h0M73.5 58.2h0M76.9 64.8h0M80.3 71.5h0M83.7 78.2h0M87.1 84.9h0M90.5 91.6h0M93.9 98.3h0M97.3 104.9h0M100.7 111.6h0M104.2 118.3h0M107.6 125.0h0M111.0 131.7h0M114.4 138.4h0M117.8 145.0h0M121.2 151.7h0M124.6 158.4h0M128.0 165.1h0M131.4 171.8h0M134.8 178.5h0M151.8 211.9h0M158.6 225.2h0M162.0 231.9h0M72.3 58.7h0M75.1 65.7h0M77.9 72.6h0M80.7 79.6h0M83.6 86.5h0M86.4 93.5h0M89.2 100.4h0M92.0 107.4h0M94.8 114.3h0M97.6 121.3h0M100.4 128.2h0M103.2 135.2h0M106.0 142.2h0M108.8 149.1h0M111.7 156.1h0M114.5 163.0h0M117.3 170.0h0M120.1 176.9h0M122.9 183.9h0M125.7 190.8h0M131.3 204.7h0M75.5 73.5h0M77.7 80.7h0M79.9 87.8h0M82.0 95.0h0M84.2 102.2h0M86.4 109.4h0M88.6 116.5h0M90.8 123.7h0M93.0 130.9h0M95.2 138.0h0" stroke="#0000ff" stroke-width="2.7" stroke-linecap="round" fill="none"/>
<path d="M101.5 149.6h0M99.5 142.3h0M97.6 135.1h0M95.6 127.8h0M93.7 120.6h0M91.8 113.3h0M89.8 106.1h0M87.9 98.8h0M85.9 91.6h0M84.0 84.4h0M82.0 77.1h0M80.1 69.9h0M78.2 62.6h0M76.2 55.4h0M74.3 48.1h0M72.3 40.9h0M70.4 33.6h0M68.5 26.4h0M66.5 19.2h0M64.6 11.9h0M62.6 4.7h0M102.1 149.4h0M100.8 142.0h0M99.5 134.6h0M98.2 127.3h0M96.9 119.9h0M95.6 112.5h0M94.3 105.1h0M93.0 97.7h0M91.7 90.3h0M90.4 82.9h0M89.1 75.6h0M87.8 68.2h0M86.5 60.8h0M85.2 53.4h0M83.9 46.0h0M82.6 38.6h0M81.3 31.2h0M80.0 23.9h0M78.7 16.5h0M77.4 9.1h0M76.1 1.7h0M102.7 149.3h0M102.1 141.9h0M101.4 134.4h0M100.8 126.9h0M100.1 119.4h0M99.5 112.0h0M98.8 104.5h0M98.2 97.0h0M97.5 89.6h0M96.9 82.1h0M96.2 74.6h0M95.6 67.1h0M94.9 59.7h0M94.2 52.2h0M93.6 44.7h0M92.9 37.3h0M92.3 29.8h0M91.6 22.3h0M91.0 14.8h0M90.3 7.4h0M89.7 -0.1h0M103.4 149.3h0M103.4 141.8h0M103.4 134.3h0M103.4 126.8h0M103.4 119.3h0M103.4 111.8h0M103.4 104.3h0M103.4 96.8h0M103.4 89.3h0M103.4 81.8h0M103.4 74.3h0M103.4 66.8h0M103.4 59.3h0M103.4 51.8h0M103.4 44.3h0M103.4 36.8h0M103.4 29.3h0M103.4 21.8h0M103.4 14.3h0M103.4 6.8h0M103.4 -0.7h0M104.1 149.3h0M104.7 141.9h0M105.4 134.4h0M106.0 126.9h0M106.7 119.4h0M107.3 112.0h0M108.0 104.5h0M108.6 97.0h0M109.3 89.6h0M109.9 82.1h0M110.6 74.6h0M111.2 67.1h0M111.9 59.7h0M112.6 52.2h0M113.2 44.7h0M113.9 37.3h0M114.5 29.8h0M115.2 22.3h0M115.8 14.8h0M116.5 7.4h0M117.1 -0.1h0M104.7 149.4h0M106.0 142.0h0M107.3 134.6h0M108.6 127.3h0M109.9 119.9h0M111.2 112.5h0M112.5 105.1h0M113.8 97.7h0M115.1 90.3h0M116.4 82.9h0M117.7 75.6h0M119.0 68.2h0M120.3 60.8h0M121.6 53.4h0M122.9 46.0h0M124.2 38.6h0M125.5 31.2h0M126.8 23.9h0M128.1 16.5h0M129.4 9.1h0M130.7 1.7h0M105.3 149.6h0M107.3 142.3h0M109.2 135.1h0M111.2 127.8h0M113.1 120.6h0M115.0 113.3h0M117.0 106.1h0M118.9 98.8h0M120.9 91.6h0M122.8 84.4h0M124.8 77.1h0M126.7 69.9h0M128.6 62.6h0M130.6 55.4h0M132.5 48.1h0M134.5 40.9h0M136.4 33.6h0M138.3 26.4h0M140.3 19.2h0M142.2 11.9h0M144.2 4.7h0M106.0 149.8h0M108.5 142.7h0M111.1 135.7h0M113.7 128.6h0M116.2 121.6h0M118.8 114.5h0M121.4 107.5h0M123.9 100.4h0M126.5 93.4h0M129.1 86.3h0M131.6 79.3h0M134.2 72.2h0M136.7 65.2h0M139.3 58.1h0M141.9 51.1h0M144.4 44.0h0M147.0 37.0h0M149.6 29.9h0M152.1 22.9h0M154.7 15.8h0M157.3 8.8h0M159.8 1.8h0M106.6 150.0h0M109.7 143.2h0M112.9 136.4h0M116.1 129.6h0M119.2 122.8h0M122.4 116.0h0M125.6 109.2h0M128.8 102.4h0M131.9 95.6h0M135.1 88.8h0M138.3 82.0h0M141.4 75.2h0M144.6 68.4h0M147.8 61.6h0M150.9 54.8h0M154.1 48.0h0M157.3 41.2h0M160.5 34.4h0M163.6 27.7h0M166.8 20.9h0M170.0 14.1h0M173.1 7.3h0M176.3 0.5h0M107.2 150.3h0M110.9 143.8h0M114.7 137.3h0M118.4 130.8h0M122.2 124.3h0M125.9 117.8h0M129.7 111.3h0M133.4 104.8h0M137.2 98.3h0M140.9 91.8h0M144.7 85.4h0M148.4 78.9h0M152.2 72.4h0M155.9 65.9h0M159.7 59.4h0M163.4 52.9h0M167.2 46.4h0M170.9 39.9h0M174.6 33.4h0M178.4 26.9h0M182.1 20.4h0M185.9 13.9h0M189.6 7.4h0M193.4 0.9h0M107.7 150.7h0M112.0 144.5h0M116.3 138.4h0M120.6 132.2h0M124.9 126.1h0M129.2 119.9h0M133.5 113.8h0M137.8 107.7h0M142.1 101.5h0M146.4 95.4h0M150.7 89.2h0M155.0 83.1h0M159.3 76.9h0M163.6 70.8h0M167.9 64.6h0M172.2 58.5h0M176.5 52.4h0M180.8 46.2h0M185.1 40.1h0M189.4 33.9h0M193.7 27.8h0M198.0 21.6h0M202.3 15.5h0M206.6 9.4h0M210.9 3.2h0M108.2 151.1h0M113.0 145.3h0M117.9 139.6h0M122.7 133.8h0M127.5 128.1h0M132.3 122.3h0M137.1 116.6h0M142.0 110.8h0M146.8 105.1h0M151.6 99.3h0M156.4 93.6h0M161.3 87.9h0M166.1 82.1h0M170.9 76.4h0M175.7 70.6h0M180.5 64.9h0M185.4 59.1h0M190.2 53.4h0M195.0 47.6h0M199.8 41.9h0M204.6 36.1h0M209.5 30.4h0M214.3 24.7h0M219.1 18.9h0M223.9 13.2h0M228.7 7.4h0M233.6 1.7h0M108.7 151.5h0M114.0 146.2h0M119.3 140.9h0M124.6 135.6h0M129.9 130.3h0M135.2 125.0h0M140.5 119.7h0M145.8 114.4h0M151.1 109.1h0M156.4 103.8h0M161.7 98.5h0M167.0 93.2h0M172.3 87.9h0M177.6 82.6h0M182.9 77.3h0M188.3 71.9h0M193.6 66.6h0M198.9 61.3h0M204.2 56.0h0M209.5 50.7h0M214.8 45.4h0M220.1 40.1h0M225.4 34.8h0M230.7 29.5h0M236.0 24.2h0M241.3 18.9h0M246.6 13.6h0M251.9 8.3h0M257.2 3.0h0M109.1 152.0h0M114.9 147.2h0M120.6 142.3h0M126.4 137.5h0M132.1 132.7h0M137.9 127.9h0M143.6 123.1h0M149.4 118.2h0M155.1 113.4h0M160.9 108.6h0M166.6 103.8h0M172.3 98.9h0M178.1 94.1h0M183.8 89.3h0M189.6 84.5h0M195.3 79.7h0M201.1 74.8h0M206.8 70.0h0M212.6 65.2h0M218.3 60.4h0M224.1 55.6h0M229.8 50.7h0M235.5 45.9h0M241.3 41.1h0M247.0 36.3h0M252.8 31.5h0M258.5 26.6h0M264.3 21.8h0M270.0 17.0h0M275.8 12.2h0M281.5 7.4h0M287.3 2.5h0M109.5 152.5h0M115.7 148.2h0M121.8 143.9h0M128.0 139.6h0M134.1 135.3h0M140.3 131.0h0M146.4 126.7h0M152.5 122.4h0M158.7 118.1h0M164.8 113.8h0M171.0 109.5h0M177.1 105.2h0M183.3 100.9h0M189.4 96.6h0M195.6 92.3h0M201.7 88.0h0M207.8 83.7h0M214.0 79.4h0M220.1 75.1h0M226.3 70.8h0M232.4 66.5h0M238.6 62.2h0M244.7 57.9h0M250.8 53.6h0M257.0 49.3h0M263.1 45.0h0M269.3 40.7h0M275.4 36.3h0M281.6 32.0h0M287.7 27.7h0M293.9 23.4h0M300.0 19.1h0M306.1 14.8h0M312.3 10.5h0M318.4 6.2h0M324.6 1.9h0M109.9 153.1h0M116.4 149.3h0M122.9 145.6h0M129.4 141.8h0M135.9 138.1h0M142.4 134.3h0M148.9 130.6h0M155.4 126.8h0M161.9 123.1h0M168.4 119.3h0M174.8 115.6h0M181.3 111.8h0M187.8 108.0h0M194.3 104.3h0M200.8 100.5h0M207.3 96.8h0M213.8 93.0h0M220.3 89.3h0M226.8 85.5h0M233.3 81.8h0M239.8 78.0h0M246.3 74.3h0M252.8 70.5h0M259.3 66.8h0M265.8 63.0h0M272.3 59.3h0M278.8 55.5h0M285.3 51.8h0M291.8 48.0h0M298.3 44.3h0M304.8 40.5h0M311.2 36.8h0M317.7 33.0h0M324.2 29.3h0M330.7 25.5h0M337.2 21.8h0M110.2 153.6h0M117.0 150.5h0M123.8 147.3h0M130.6 144.1h0M137.4 141.0h0M144.2 137.8h0M151.0 134.6h0M157.8 131.4h0M164.6 128.3h0M171.4 125.1h0M178.2 121.9h0M185.0 118.8h0M191.8 115.6h0M198.6 112.4h0M205.4 109.3h0M212.2 106.1h0M219.0 102.9h0M225.8 99.7h0M232.5 96.6h0M239.3 93.4h0M246.1 90.2h0M252.9 87.1h0M259.7 83.9h0M266.5 80.7h0M273.3 77.6h0M280.1 74.4h0M286.9 71.2h0M293.7 68.1h0M300.5 64.9h0M307.3 61.7h0M314.1 58.5h0M320.9 55.4h0M327.7 52.2h0M334.5 49.0h0M341.3 45.9h0M348.1 42.7h0M110.4 154.2h0M117.5 151.7h0M124.5 149.1h0M131.6 146.5h0M138.6 144.0h0M145.7 141.4h0M152.7 138.8h0M159.8 136.3h0M166.8 133.7h0M173.9 131.1h0M180.9 128.6h0M188.0 126.0h0M195.0 123.5h0M202.1 120.9h0M209.1 118.3h0M216.2 115.8h0M223.2 113.2h0M230.3 110.6h0M237.3 108.1h0M244.4 105.5h0M251.4 102.9h0M258.4 100.4h0M265.5 97.8h0M272.5 95.2h0M279.6 92.7h0M286.6 90.1h0M293.7 87.5h0M300.7 85.0h0M307.8 82.4h0M314.8 79.8h0M321.9 77.3h0M328.9 74.7h0M336.0 72.2h0M343.0 69.6h0M110.6 154.9h0M117.9 152.9h0M125.1 151.0h0M132.4 149.0h0M139.6 147.1h0M146.9 145.2h0M154.1 143.2h0M161.4 141.3h0M168.6 139.3h0M175.8 137.4h0M183.1 135.4h0M190.3 133.5h0M197.6 131.6h0M204.8 129.6h0M212.1 127.7h0M219.3 125.7h0M226.6 123.8h0M233.8 121.9h0M241.0 119.9h0M248.3 118.0h0M255.5 116.0h0M262.8 114.1h0M270.0 112.2h0M277.3 110.2h0M284.5 108.3h0M291.8 106.3h0M299.0 104.4h0M306.2 102.4h0M313.5 100.5h0M320.7 98.6h0M328.0 96.6h0M335.2 94.7h0M342.5 92.7h0M349.7 90.8h0M110.8 155.5h0M118.2 154.2h0M125.6 152.9h0M132.9 151.6h0M140.3 150.3h0M147.7 149.0h0M155.1 147.7h0M162.5 146.4h0M169.9 145.1h0M177.3 143.8h0M184.6 142.5h0M192.0 141.2h0M199.4 139.9h0M206.8 138.6h0M214.2 137.3h0M221.6 136.0h0M229.0 134.7h0M236.3 133.4h0M243.7 132.1h0M251.1 130.8h0M258.5 129.5h0M265.9 128.1h0M273.3 126.8h0M280.7 125.5h0M288.1 124.2h0M295.4 122.9h0M302.8 121.6h0M310.2 120.3h0M317.6 119.0h0M325.0 117.7h0M332.4 116.4h0M339.8 115.1h0M347.1 113.8h0M110.9 156.1h0M118.3 155.5h0M125.8 154.8h0M133.3 154.2h0M140.8 153.5h0M148.2 152.9h0M155.7 152.2h0M163.2 151.6h0M170.6 150.9h0M178.1 150.3h0M185.6 149.6h0M193.1 149.0h0M200.5 148.3h0M208.0 147.6h0M215.5 147.0h0M222.9 146.3h0M230.4 145.7h0M237.9 145.0h0M245.4 144.4h0M252.8 143.7h0M260.3 143.1h0M267.8 142.4h0M275.2 141.8h0M282.7 141.1h0M290.2 140.5h0M297.7 139.8h0M305.1 139.2h0M312.6 138.5h0M320.1 137.8h0M327.5 137.2h0M335.0 136.5h0M342.5 135.9h0M350.0 135.2h0M110.9 156.8h0M118.4 156.8h0M125.9 156.8h0M133.4 156.8h0M140.9 156.8h0M148.4 156.8h0M155.9 156.8h0M163.4 156.8h0M170.9 156.8h0M178.4 156.8h0M185.9 156.8h0M193.4 156.8h0M200.9 156.8h0M208.4 156.8h0M215.9 156.8h0M223.4 156.8h0M230.9 156.8h0M238.4 156.8h0M245.9 156.8h0M253.4 156.8h0M260.9 156.8h0M268.4 156.8h0M275.9 156.8h0M283.4 156.8h0M290.9 156.8h0M298.4 156.8h0M305.9 156.8h0M313.4 156.8h0M320.9 156.8h0M328.4 156.8h0M335.9 156.8h0M343.4 156.8h0M110.9 157.5h0M118.3 158.1h0M125.8 158.8h0M133.3 159.4h0M140.8 160.1h0M148.2 160.7h0M155.7 161.4h0M163.2 162.0h0M170.6 162.7h0M178.1 163.3h0M185.6 164.0h0M193.1 164.6h0M200.5 165.3h0M208.0 166.0h0M215.5 166.6h0M222.9 167.3h0M230.4 167.9h0M237.9 168.6h0M245.4 169.2h0M252.8 169.9h0M260.3 170.5h0M267.8 171.2h0M275.2 171.8h0M282.7 172.5h0M290.2 173.1h0M297.7 173.8h0M305.1 174.4h0M312.6 175.1h0M320.1 175.8h0M327.5 176.4h0M335.0 177.1h0M342.5 177.7h0M350.0 178.4h0M110.8 158.1h0M118.2 159.4h0M125.6 160.7h0M132.9 162.0h0M140.3 163.3h0M147.7 164.6h0M155.1 165.9h0M162.5 167.2h0M169.9 168.5h0M177.3 169.8h0M184.6 171.1h0M192.0 172.4h0M199.4 173.7h0M206.8 175.0h0M214.2 176.3h0M221.6 177.6h0M229.0 178.9h0M236.3 180.2h0M243.7 181.5h0M251.1 182.8h0M258.5 184.1h0M265.9 185.5h0M273.3 186.8h0M280.7 188.1h0M288.1 189.4h0M295.4 190.7h0M302.8 192.0h0M310.2 193.3h0M317.6 194.6h0M325.0 195.9h0M332.4 197.2h0M339.8 198.5h0M347.1 199.8h0M110.6 158.7h0M117.9 160.7h0M125.1 162.6h0M132.4 164.6h0M139.6 166.5h0M146.9 168.4h0M154.1 170.4h0M161.4 172.3h0M168.6 174.3h0M175.8 176.2h0M183.1 178.2h0M190.3 180.1h0M197.6 182.0h0M204.8 184.0h0M212.1 185.9h0M219.3 187.9h0M226.6 189.8h0M233.8 191.7h0M241.0 193.7h0M248.3 195.6h0M255.5 197.6h0M262.8 199.5h0M270.0 201.4h0M277.3 203.4h0M284.5 205.3h0M291.8 207.3h0M299.0 209.2h0M306.2 211.2h0M313.5 213.1h0M320.7 215.0h0M328.0 217.0h0M335.2 218.9h0M342.5 220.9h0M349.7 222.8h0M110.4 159.4h0M117.5 161.9h0M124.5 164.5h0M131.6 167.1h0M138.6 169.6h0M145.7 172.2h0M152.7 174.8h0M159.8 177.3h0M166.8 179.9h0M173.9 182.5h0M180.9 185.0h0M188.0 187.6h0M195.0 190.1h0M202.1 192.7h0M209.1 195.3h0M216.2 197.8h0M223.2 200.4h0M230.3 203.0h0M237.3 205.5h0M244.4 208.1h0M251.4 210.7h0M258.4 213.2h0M265.5 215.8h0M272.5 218.4h0M279.6 220.9h0M286.6 223.5h0M293.7 226.1h0M300.7 228.6h0M307.8 231.2h0M314.8 233.8h0M321.9 236.3h0M328.9 238.9h0M336.0 241.4h0M343.0 244.0h0M110.2 160.0h0M117.0 163.1h0M123.8 166.3h0M130.6 169.5h0M137.4 172.6h0M144.2 175.8h0M151.0 179.0h0M157.8 182.2h0M164.6 185.3h0M171.4 188.5h0M178.2 191.7h0M185.0 194.8h0M191.8 198.0h0M198.6 201.2h0M205.4 204.3h0M212.2 207.5h0M219.0 210.7h0M225.8 213.9h0M232.5 217.0h0M239.3 220.2h0M246.1 223.4h0M252.9 226.5h0M259.7 229.7h0M266.5 232.9h0M273.3 236.0h0M280.1 239.2h0M286.9 242.4h0M293.7 245.5h0M300.5 248.7h0M307.3 251.9h0M314.1 255.1h0M320.9 258.2h0M327.7 261.4h0M334.5 264.6h0M341.3 267.7h0M348.1 270.9h0M109.9 160.6h0M116.4 164.3h0M122.9 168.1h0M129.4 171.8h0M135.9 175.6h0M142.4 179.3h0M148.9 183.1h0M155.4 186.8h0M161.9 190.6h0M168.4 194.3h0M174.8 198.0h0M181.3 201.8h0M187.8 205.5h0M194.3 209.3h0M200.8 213.0h0M207.3 216.8h0M233.3 231.8h0M239.8 235.5h0M246.3 239.3h0M252.8 243.0h0M259.3 246.8h0M265.8 250.5h0M272.3 254.3h0M278.8 258.0h0M285.3 261.8h0M291.8 265.5h0M298.3 269.3h0M304.8 273.0h0M311.2 276.8h0M317.7 280.5h0M324.2 284.3h0M330.7 288.0h0M337.2 291.8h0M109.5 161.1h0M115.7 165.4h0M121.8 169.7h0M128.0 174.0h0M134.1 178.3h0M140.3 182.6h0M146.4 186.9h0M152.5 191.2h0M158.7 195.5h0M164.8 199.8h0M171.0 204.1h0M177.1 208.4h0M183.3 212.7h0M189.4 217.0h0M195.6 221.3h0M201.7 225.6h0M220.1 238.5h0M232.4 247.1h0M238.6 251.4h0M244.7 255.7h0M250.8 260.0h0M257.0 264.3h0M263.1 268.6h0M269.3 272.9h0M275.4 277.3h0M281.6 281.6h0M287.7 285.9h0M293.9 290.2h0M300.0 294.5h0M306.1 298.8h0M109.1 161.6h0M114.9 166.4h0M120.6 171.3h0M126.4 176.1h0M132.1 180.9h0M137.9 185.7h0M143.6 190.5h0M149.4 195.4h0M155.1 200.2h0M160.9 205.0h0M166.6 209.8h0M172.3 214.7h0M178.1 219.5h0M189.6 229.1h0M201.1 238.8h0M212.6 248.4h0M224.1 258.0h0M229.8 262.9h0M235.5 267.7h0M241.3 272.5h0M247.0 277.3h0M252.8 282.1h0M258.5 287.0h0M264.3 291.8h0M270.0 296.6h0M108.7 162.1h0M114.0 167.4h0M119.3 172.7h0M124.6 178.0h0M129.9 183.3h0M135.2 188.6h0M140.5 193.9h0M145.8 199.2h0M151.1 204.5h0M156.4 209.8h0M161.7 215.1h0M172.3 225.7h0M177.6 231.0h0M188.3 241.7h0M209.5 262.9h0M220.1 273.5h0M225.4 278.8h0M230.7 284.1h0M236.0 289.4h0M241.3 294.7h0M246.6 300.0h0M108.2 162.5h0M113.0 168.3h0M117.9 174.0h0M122.7 179.8h0M127.5 185.5h0M132.3 191.3h0M137.1 197.0h0M142.0 202.8h0M146.8 208.5h0M151.6 214.3h0M156.4 220.0h0M161.3 225.7h0M166.1 231.5h0M175.7 243.0h0M185.4 254.5h0M190.2 260.2h0M209.5 283.2h0M219.1 294.7h0M107.7 162.9h0M112.0 169.1h0M116.3 175.2h0M120.6 181.4h0M124.9 187.5h0M129.2 193.7h0M133.5 199.8h0M137.8 205.9h0M142.1 212.1h0M146.4 218.2h0M176.5 261.2h0M180.8 267.4h0M185.1 273.5h0M189.4 279.7h0M193.7 285.8h0M198.0 292.0h0M110.9 169.8h0M114.7 176.3h0M118.4 182.8h0M122.2 189.3h0M125.9 195.8h0M129.7 202.3h0M133.4 208.8h0M137.2 215.3h0M140.9 221.8h0M144.7 228.2h0M148.4 234.7h0M155.9 247.7h0M163.4 260.7h0M178.4 286.7h0M182.1 293.2h0M119.2 190.8h0M122.4 197.6h0M125.6 204.4h0M128.8 211.2h0M131.9 218.0h0M135.1 224.8h0M147.8 252.0h0M150.9 258.8h0M157.3 272.4h0M163.6 285.9h0M170.0 299.5h0M121.4 206.1h0M123.9 213.2h0M126.5 220.2h0M131.6 234.3h0M149.6 283.7h0M118.9 214.8h0M120.9 222.0h0M124.8 236.5h0M126.7 243.7h0M134.5 272.7h0M140.3 294.4h0" stroke="#ff0000" stroke-width="2.7" stroke-linecap="round" fill="none"/>
<path d="M116.4 242.6h0M119.2 235.7h0M122.0 228.7h0M124.8 221.8h0M127.6 214.8h0M130.5 207.9h0M133.3 200.9h0M136.1 194.0h0M138.9 187.0h0M141.7 180.1h0M144.5 173.1h0M147.3 166.2h0M150.1 159.2h0M152.9 152.2h0M172.6 103.6h0M117.0 242.9h0M120.4 236.2h0M123.8 229.6h0M127.2 222.9h0M130.6 216.2h0M134.0 209.5h0M137.4 202.8h0M140.8 196.1h0M144.2 189.5h0M147.6 182.8h0M151.1 176.1h0M154.5 169.4h0M157.9 162.7h0M161.3 156.0h0M188.5 102.6h0M191.9 95.9h0M117.6 243.2h0M121.5 236.9h0M125.5 230.5h0M129.5 224.2h0M133.5 217.8h0M137.4 211.4h0M141.4 205.1h0M145.4 198.7h0M149.4 192.4h0M153.3 186.0h0M157.3 179.6h0M161.3 173.3h0M165.3 166.9h0M169.2 160.6h0M173.2 154.2h0M201.0 109.7h0M205.0 103.3h0M118.1 243.6h0M122.6 237.6h0M127.1 231.6h0M131.7 225.6h0M136.2 219.7h0M140.7 213.7h0M145.2 207.7h0M149.7 201.7h0M154.2 195.7h0M158.7 189.7h0M163.2 183.7h0M167.8 177.7h0M172.3 171.7h0M176.8 165.7h0M181.3 159.8h0M185.8 153.8h0M217.4 111.8h0M221.9 105.8h0M118.6 244.0h0M123.6 238.5h0M128.7 232.9h0M133.7 227.3h0M138.7 221.7h0M143.7 216.2h0M148.7 210.6h0M153.7 205.0h0M158.8 199.4h0M163.8 193.9h0M168.8 188.3h0M173.8 182.7h0M178.8 177.1h0M183.9 171.6h0M188.9 166.0h0M193.9 160.4h0M198.9 154.8h0M209.0 143.7h0M219.0 132.6h0M224.0 127.0h0M119.1 244.5h0M124.6 239.4h0M130.1 234.3h0M135.5 229.1h0M141.0 224.0h0M146.5 218.9h0M152.0 213.8h0M157.5 208.7h0M163.0 203.6h0M168.5 198.5h0M173.9 193.3h0M179.4 188.2h0M184.9 183.1h0M190.4 178.0h0M195.9 172.9h0M201.4 167.8h0M206.8 162.6h0M212.3 157.5h0M217.8 152.4h0M272.7 101.3h0M119.5 245.0h0M125.4 240.4h0M131.3 235.7h0M137.2 231.1h0M143.2 226.5h0M149.1 221.9h0M155.0 217.3h0M160.9 212.7h0M166.8 208.0h0M172.7 203.4h0M178.6 198.8h0M184.5 194.2h0M190.4 189.6h0M196.3 185.0h0M202.3 180.3h0M208.2 175.7h0M214.1 171.1h0M220.0 166.5h0M225.9 161.9h0M231.8 157.3h0M237.7 152.6h0M290.9 111.1h0M119.9 245.5h0M126.2 241.4h0M132.5 237.3h0M138.8 233.3h0M145.1 229.2h0M151.3 225.1h0M157.6 221.0h0M163.9 216.9h0M170.2 212.8h0M176.5 208.8h0M182.8 204.7h0M189.1 200.6h0M195.4 196.5h0M201.7 192.4h0M208.0 188.3h0M214.2 184.2h0M220.5 180.2h0M226.8 176.1h0M233.1 172.0h0M239.4 167.9h0M245.7 163.8h0M252.0 159.7h0M258.3 155.6h0M264.6 151.6h0M120.2 246.1h0M126.8 242.6h0M133.5 239.0h0M140.1 235.5h0M146.7 232.0h0M153.3 228.5h0M160.0 225.0h0M166.6 221.4h0M173.2 217.9h0M179.8 214.4h0M186.4 210.9h0M193.1 207.3h0M199.7 203.8h0M206.3 200.3h0M212.9 196.8h0M219.6 193.3h0M226.2 189.7h0M232.8 186.2h0M239.4 182.7h0M246.0 179.2h0M252.7 175.7h0M259.3 172.1h0M265.9 168.6h0M272.5 165.1h0M279.2 161.6h0M285.8 158.1h0M292.4 154.5h0M299.0 151.0h0M305.6 147.5h0M318.9 140.4h0M120.5 246.7h0M127.4 243.7h0M134.3 240.8h0M141.2 237.9h0M148.1 234.9h0M155.0 232.0h0M161.9 229.1h0M168.8 226.2h0M175.7 223.2h0M182.6 220.3h0M189.5 217.4h0M196.4 214.4h0M203.3 211.5h0M210.3 208.6h0M217.2 205.6h0M224.1 202.7h0M231.0 199.8h0M237.9 196.9h0M244.8 193.9h0M251.7 191.0h0M258.6 188.1h0M265.5 185.1h0M272.4 182.2h0M279.3 179.3h0M286.2 176.3h0M293.1 173.4h0M300.0 170.5h0M306.9 167.5h0M313.8 164.6h0M327.6 158.8h0M120.7 247.3h0M127.9 245.0h0M135.0 242.6h0M142.1 240.3h0M149.3 238.0h0M156.4 235.7h0M163.5 233.4h0M170.7 231.1h0M177.8 228.7h0M184.9 226.4h0M192.1 224.1h0M199.2 221.8h0M206.3 219.5h0M213.5 217.2h0M220.6 214.8h0M227.7 212.5h0M234.9 210.2h0M242.0 207.9h0M249.1 205.6h0M256.3 203.2h0M263.4 200.9h0M270.5 198.6h0M277.7 196.3h0M284.8 194.0h0M291.9 191.7h0M299.1 189.3h0M306.2 187.0h0M313.3 184.7h0M120.9 247.9h0M128.2 246.2h0M135.5 244.5h0M142.8 242.9h0M150.1 241.2h0M157.4 239.5h0M164.8 237.8h0M172.1 236.1h0M179.4 234.4h0M186.7 232.7h0M194.0 231.0h0M201.3 229.4h0M208.6 227.7h0M215.9 226.0h0M223.2 224.3h0M230.5 222.6h0M237.8 220.9h0M245.1 219.2h0M252.4 217.5h0M259.8 215.9h0M267.1 214.2h0M274.4 212.5h0M281.7 210.8h0M289.0 209.1h0M296.3 207.4h0M303.6 205.7h0M310.9 204.0h0M318.2 202.4h0M121.0 248.6h0M128.5 247.5h0M135.9 246.5h0M143.3 245.4h0M150.7 244.4h0M158.2 243.3h0M165.6 242.3h0M173.0 241.2h0M180.4 240.2h0M187.9 239.2h0M195.3 238.1h0M202.7 237.1h0M210.2 236.0h0M217.6 235.0h0M225.0 233.9h0M232.4 232.9h0M239.9 231.9h0M247.3 230.8h0M254.7 229.8h0M262.1 228.7h0M269.6 227.7h0M277.0 226.6h0M284.4 225.6h0M291.8 224.5h0M299.3 223.5h0M306.7 222.5h0M314.1 221.4h0M321.6 220.4h0M336.4 218.3h0M121.1 249.2h0M128.6 248.8h0M136.1 248.4h0M143.6 248.0h0M151.0 247.6h0M158.5 247.2h0M166.0 246.9h0M173.5 246.5h0M181.0 246.1h0M188.5 245.7h0M196.0 245.3h0M203.5 244.9h0M211.0 244.5h0M218.5 244.1h0M225.9 243.7h0M233.4 243.3h0M240.9 242.9h0M248.4 242.5h0M255.9 242.1h0M263.4 241.7h0M270.9 241.4h0M278.4 241.0h0M285.9 240.6h0M293.4 240.2h0M300.8 239.8h0M308.3 239.4h0M315.8 239.0h0M121.1 249.9h0M128.6 250.1h0M136.1 250.4h0M143.6 250.6h0M151.1 250.9h0M158.6 251.2h0M166.1 251.4h0M173.6 251.7h0M181.1 252.0h0M188.6 252.2h0M196.0 252.5h0M203.5 252.7h0M211.0 253.0h0M218.5 253.3h0M226.0 253.5h0M233.5 253.8h0M241.0 254.0h0M248.5 254.3h0M256.0 254.6h0M263.5 254.8h0M271.0 255.1h0M278.5 255.4h0M286.0 255.6h0M293.5 255.9h0M301.0 256.1h0M308.5 256.4h0M316.0 256.7h0M331.0 257.2h0M346.0 257.7h0M121.0 250.5h0M128.5 251.4h0M135.9 252.3h0M143.4 253.3h0M150.8 254.2h0M158.3 255.1h0M165.7 256.0h0M173.2 256.9h0M180.6 257.8h0M188.0 258.7h0M195.5 259.7h0M202.9 260.6h0M210.4 261.5h0M217.8 262.4h0M225.3 263.3h0M232.7 264.2h0M240.1 265.1h0M247.6 266.1h0M255.0 267.0h0M262.5 267.9h0M269.9 268.8h0M277.4 269.7h0M284.8 270.6h0M292.3 271.5h0M299.7 272.5h0M307.1 273.4h0M314.6 274.3h0M322.0 275.2h0M329.5 276.1h0M344.4 277.9h0M120.9 251.2h0M128.3 252.7h0M135.6 254.3h0M142.9 255.8h0M150.3 257.4h0M157.6 259.0h0M165.0 260.5h0M172.3 262.1h0M179.6 263.6h0M187.0 265.2h0M194.3 266.8h0M201.6 268.3h0M209.0 269.9h0M216.3 271.4h0M223.6 273.0h0M231.0 274.5h0M238.3 276.1h0M245.6 277.7h0M253.0 279.2h0M260.3 280.8h0M267.7 282.3h0M275.0 283.9h0M282.3 285.5h0M289.7 287.0h0M297.0 288.6h0M304.3 290.1h0M311.7 291.7h0M120.8 251.8h0M127.9 254.0h0M135.1 256.2h0M142.3 258.4h0M149.5 260.6h0M156.6 262.8h0M163.8 264.9h0M171.0 267.1h0M178.2 269.3h0M185.3 271.5h0M192.5 273.7h0M199.7 275.9h0M206.8 278.1h0M214.0 280.3h0M221.2 282.5h0M228.4 284.7h0M235.5 286.9h0M242.7 289.1h0M249.9 291.3h0M257.0 293.5h0M264.2 295.6h0M271.4 297.8h0M278.6 300.0h0M285.7 302.2h0M292.9 304.4h0M300.1 306.6h0M307.3 308.8h0M314.4 311.0h0M321.6 313.2h0M120.6 252.4h0M127.5 255.2h0M134.5 258.0h0M141.4 260.8h0M148.4 263.6h0M155.3 266.5h0M162.3 269.3h0M169.2 272.1h0M176.2 274.9h0M183.1 277.7h0M190.1 280.5h0M197.0 283.3h0M204.0 286.1h0M211.0 288.9h0M217.9 291.7h0M224.9 294.6h0M231.8 297.4h0M238.8 300.2h0M245.7 303.0h0M252.7 305.8h0M259.6 308.6h0M266.6 311.4h0M273.5 314.2h0M280.5 317.0h0M287.4 319.8h0M294.4 322.6h0M301.4 325.5h0M315.3 331.1h0M120.3 253.0h0M127.0 256.4h0M133.6 259.8h0M140.3 263.2h0M147.0 266.6h0M153.7 270.0h0M160.4 273.4h0M167.1 276.8h0M173.7 280.2h0M180.4 283.6h0M187.1 287.1h0M193.8 290.5h0M200.5 293.9h0M207.2 297.3h0M213.8 300.7h0M220.5 304.1h0M227.2 307.5h0M233.9 310.9h0M240.6 314.3h0M247.3 317.7h0M253.9 321.1h0M260.6 324.5h0M267.3 327.9h0M274.0 331.3h0M280.7 334.7h0M287.3 338.1h0M294.0 341.5h0M300.7 344.9h0M314.1 351.7h0M120.0 253.6h0M126.3 257.5h0M132.7 261.5h0M139.0 265.5h0M145.4 269.5h0M151.8 273.4h0M158.1 277.4h0M164.5 281.4h0M170.8 285.4h0M177.2 289.3h0M183.6 293.3h0M189.9 297.3h0M196.3 301.3h0M202.6 305.2h0M209.0 309.2h0M215.4 313.2h0M221.7 317.2h0M228.1 321.1h0M234.4 325.1h0M240.8 329.1h0M247.2 333.1h0M253.5 337.0h0M259.9 341.0h0M266.2 345.0h0M272.6 349.0h0M279.0 352.9h0M285.3 356.9h0M291.7 360.9h0M310.8 372.8h0M119.6 254.1h0M125.6 258.6h0M131.6 263.1h0M137.6 267.7h0M143.5 272.2h0M149.5 276.7h0M155.5 281.2h0M161.5 285.7h0M167.5 290.2h0M173.5 294.7h0M179.5 299.2h0M185.5 303.8h0M191.5 308.3h0M197.5 312.8h0M203.4 317.3h0M209.4 321.8h0M215.4 326.3h0M221.4 330.8h0M227.4 335.4h0M233.4 339.9h0M239.4 344.4h0M245.4 348.9h0M251.4 353.4h0M257.4 357.9h0M263.3 362.4h0M269.3 367.0h0M275.3 371.5h0M281.3 376.0h0M287.3 380.5h0M293.3 385.0h0M119.2 254.6h0M124.7 259.6h0M130.3 264.7h0M135.9 269.7h0M141.5 274.7h0M147.0 279.7h0M152.6 284.7h0M158.2 289.7h0M163.8 294.8h0M169.3 299.8h0M174.9 304.8h0M180.5 309.8h0M186.1 314.8h0M191.6 319.9h0M197.2 324.9h0M202.8 329.9h0M208.4 334.9h0M213.9 339.9h0M219.5 345.0h0M225.1 350.0h0M230.6 355.0h0M236.2 360.0h0M241.8 365.0h0M247.4 370.0h0M252.9 375.1h0M258.5 380.1h0M264.1 385.1h0M269.7 390.1h0M275.2 395.1h0M286.4 405.2h0M118.7 255.1h0M123.8 260.6h0M128.9 266.1h0M134.1 271.5h0M139.2 277.0h0M144.3 282.5h0M149.4 288.0h0M154.5 293.5h0M159.6 299.0h0M164.7 304.5h0M169.9 309.9h0M175.0 315.4h0M180.1 320.9h0M185.2 326.4h0M190.3 331.9h0M195.4 337.4h0M200.6 342.8h0M205.7 348.3h0M210.8 353.8h0M215.9 359.3h0M221.0 364.8h0M226.1 370.3h0M231.2 375.8h0M236.4 381.2h0M241.5 386.7h0M246.6 392.2h0M251.7 397.7h0M256.8 403.2h0M261.9 408.7h0M267.0 414.2h0M118.2 255.5h0M122.8 261.4h0M127.5 267.3h0M132.1 273.2h0M136.7 279.2h0M141.3 285.1h0M145.9 291.0h0M150.5 296.9h0M155.2 302.8h0M159.8 308.7h0M164.4 314.6h0M169.0 320.5h0M173.6 326.4h0M178.2 332.3h0M182.9 338.3h0M187.5 344.2h0M192.1 350.1h0M196.7 356.0h0M201.3 361.9h0M205.9 367.8h0M210.6 373.7h0M215.2 379.6h0M219.8 385.5h0M224.4 391.4h0M229.0 397.4h0M233.7 403.3h0M238.3 409.2h0M242.9 415.1h0M247.5 421.0h0M117.7 255.9h0M121.8 262.2h0M125.9 268.5h0M129.9 274.8h0M134.0 281.1h0M138.1 287.3h0M142.2 293.6h0M146.3 299.9h0M150.4 306.2h0M154.4 312.5h0M158.5 318.8h0M162.6 325.1h0M166.7 331.4h0M170.8 337.7h0M174.9 344.0h0M179.0 350.2h0M183.0 356.5h0M187.1 362.8h0M191.2 369.1h0M195.3 375.4h0M199.4 381.7h0M203.5 388.0h0M207.6 394.3h0M211.6 400.6h0M215.7 406.9h0M219.8 413.1h0M223.9 419.4h0M228.0 425.7h0M117.1 256.2h0M120.6 262.8h0M124.2 269.5h0M127.7 276.1h0M131.2 282.7h0M134.7 289.3h0M138.2 296.0h0M141.8 302.6h0M145.3 309.2h0M148.8 315.8h0M152.3 322.4h0M155.9 329.1h0M159.4 335.7h0M162.9 342.3h0M166.4 348.9h0M169.9 355.6h0M173.5 362.2h0M177.0 368.8h0M180.5 375.4h0M184.0 382.0h0M187.5 388.7h0M191.1 395.3h0M194.6 401.9h0M198.1 408.5h0M116.5 256.5h0M119.5 263.4h0M122.4 270.3h0M125.3 277.2h0M128.3 284.1h0M131.2 291.0h0M134.1 297.9h0M137.0 304.8h0M140.0 311.7h0M142.9 318.6h0M145.8 325.5h0M148.8 332.4h0M151.7 339.3h0M154.6 346.3h0M157.6 353.2h0M160.5 360.1h0M163.4 367.0h0M166.3 373.9h0M169.3 380.8h0M172.2 387.7h0M175.1 394.6h0M178.1 401.5h0M181.0 408.4h0M183.9 415.3h0M115.9 256.7h0M118.2 263.9h0M120.6 271.0h0M122.9 278.1h0M125.2 285.3h0M127.5 292.4h0M129.8 299.5h0M132.1 306.7h0M134.5 313.8h0M136.8 320.9h0M139.1 328.1h0M141.4 335.2h0M143.7 342.3h0M146.0 349.5h0M148.4 356.6h0M150.7 363.7h0M153.0 370.9h0M155.3 378.0h0M157.6 385.1h0M160.0 392.3h0M162.3 399.4h0M164.6 406.5h0M166.9 413.7h0M169.2 420.8h0M115.3 256.9h0M117.0 264.2h0M118.7 271.5h0M120.3 278.8h0M122.0 286.1h0M123.7 293.4h0M125.4 300.8h0M127.1 308.1h0M128.8 315.4h0M130.5 322.7h0M132.2 330.0h0M133.8 337.3h0M135.5 344.6h0M137.2 351.9h0M138.9 359.2h0M140.6 366.5h0M142.3 373.8h0M144.0 381.1h0M145.7 388.4h0M147.3 395.8h0M149.0 403.1h0M150.7 410.4h0M152.4 417.7h0M154.1 425.0h0M114.6 257.0h0M115.7 264.5h0M116.7 271.9h0M117.8 279.3h0M118.8 286.7h0M119.9 294.2h0M120.9 301.6h0M122.0 309.0h0M123.0 316.4h0M124.0 323.9h0M125.1 331.3h0M126.1 338.7h0M127.2 346.2h0M128.2 353.6h0M129.3 361.0h0M130.3 368.4h0M131.3 375.9h0M132.4 383.3h0M133.4 390.7h0M134.5 398.1h0M135.5 405.6h0M136.6 413.0h0M137.6 420.4h0M138.7 427.8h0M114.0 257.1h0M114.4 264.6h0M114.8 272.1h0M115.2 279.6h0M115.6 287.0h0M116.0 294.5h0M116.3 302.0h0M116.7 309.5h0M117.1 317.0h0M117.5 324.5h0M117.9 332.0h0M118.3 339.5h0M118.7 347.0h0M119.1 354.5h0M119.5 361.9h0M119.9 369.4h0M120.3 376.9h0M120.7 384.4h0M121.1 391.9h0M121.5 399.4h0M121.8 406.9h0M122.2 414.4h0M122.6 421.9h0M113.3 257.1h0M113.1 264.6h0M112.8 272.1h0M112.6 279.6h0M112.3 287.1h0M112.0 294.6h0M111.8 302.1h0M111.5 309.6h0M111.2 317.1h0M111.0 324.6h0M110.7 332.0h0M110.5 339.5h0M110.2 347.0h0M109.9 354.5h0M109.7 362.0h0M109.4 369.5h0M109.2 377.0h0M108.9 384.5h0M108.6 392.0h0M108.4 399.5h0M108.1 407.0h0M107.8 414.5h0M107.6 422.0h0M112.7 257.0h0M111.8 264.5h0M110.9 271.9h0M109.9 279.4h0M109.0 286.8h0M108.1 294.3h0M107.2 301.7h0M106.3 309.2h0M105.4 316.6h0M104.5 324.0h0M103.5 331.5h0M102.6 338.9h0M101.7 346.4h0M100.8 353.8h0M99.9 361.3h0M99.0 368.7h0M98.1 376.1h0M97.1 383.6h0M96.2 391.0h0M95.3 398.5h0M94.4 405.9h0M93.5 413.4h0M92.6 420.8h0M91.7 428.3h0" stroke="#00ff00" stroke-width="2.7" stroke-linecap="round" fill="none"/>
<path d="M69.9 272.4h0M77.3 273.0h0M84.8 273.7h0M92.3 274.3h0M99.8 275.0h0M107.2 275.6h0M77.2 274.3h0M84.6 275.6h0M91.9 276.9h0M76.9 275.6h0M105.9 283.3h0M113.1 285.3h0M76.5 276.8h0M90.6 282.0h0M111.7 289.7h0M82.8 281.2h0M89.6 284.4h0M103.2 290.7h0M68.9 275.4h0M81.9 282.9h0M88.4 286.7h0M94.9 290.4h0M101.4 294.2h0M99.3 297.5h0M68.1 276.5h0M85.4 291.0h0M67.7 277.0h0M78.3 287.6h0M88.9 298.2h0M94.2 303.5h0M67.2 277.4h0M76.9 288.9h0M96.1 311.9h0M71.0 284.0h0M75.3 290.1h0M79.6 296.3h0M66.1 278.2h0M73.6 291.2h0M77.4 297.7h0M81.1 304.2h0M88.6 317.2h0M71.9 292.1h0M75.1 298.9h0M81.4 312.5h0M77.8 314.0h0M80.4 321.0h0M68.2 293.4h0M76.0 322.4h0M63.7 279.1h0M68.9 308.6h0M63.1 279.2h0M64.4 294.1h0M65.0 301.6h0M65.7 309.1h0M66.3 316.5h0M62.4 294.2h0M62.4 316.7h0M62.4 324.2h0M61.7 279.2h0M59.8 301.6h0M58.5 293.9h0M57.2 301.2h0M55.9 308.6h0M56.6 293.4h0M54.6 300.7h0M50.8 315.2h0M48.8 322.4h0M59.8 278.7h0M57.3 285.8h0M54.7 292.8h0M49.6 306.9h0" stroke="#ff0000" stroke-width="2.7" stroke-linecap="round" fill="none"/>
<path d="M21.5 310.5h0M27.1 305.4h0M32.7 300.4h0M38.3 295.4h0M43.8 290.4h0M49.4 285.4h0M55.0 280.4h0M60.6 275.3h0M66.1 270.3h0M22.4 311.5h0M28.4 307.0h0M34.4 302.4h0M40.3 297.9h0M46.3 293.4h0M52.3 288.9h0M58.3 284.4h0M64.3 279.9h0M70.3 275.4h0M82.3 266.3h0M88.3 261.8h0M94.3 257.3h0M23.1 312.6h0M29.5 308.6h0M35.8 304.6h0M42.2 300.6h0M48.6 296.7h0M54.9 292.7h0M61.3 288.7h0M67.6 284.7h0M74.0 280.8h0M80.4 276.8h0M86.7 272.8h0M93.1 268.8h0M99.4 264.9h0M105.8 260.9h0M23.8 313.7h0M30.4 310.3h0M37.1 306.9h0M43.8 303.5h0M50.5 300.1h0M57.2 296.7h0M63.9 293.3h0M70.5 289.9h0M77.2 286.5h0M83.9 283.0h0M90.6 279.6h0M97.3 276.2h0M104.0 272.8h0M110.6 269.4h0M24.3 314.9h0M31.3 312.1h0M38.2 309.3h0M45.2 306.5h0M52.1 303.6h0M59.1 300.8h0M66.0 298.0h0M73.0 295.2h0M79.9 292.4h0M93.8 286.8h0M100.8 284.0h0M107.8 281.2h0M24.7 316.1h0M31.9 313.9h0M39.1 311.7h0M46.3 309.5h0M53.4 307.3h0M60.6 305.2h0M67.8 303.0h0M75.0 300.8h0M82.1 298.6h0M89.3 296.4h0M96.5 294.2h0M103.6 292.0h0M110.8 289.8h0M118.0 287.6h0M25.1 317.4h0M32.4 315.8h0M39.7 314.3h0M47.1 312.7h0M54.4 311.1h0M61.8 309.6h0M69.1 308.0h0M76.4 306.5h0M83.8 304.9h0M91.1 303.3h0M98.4 301.8h0M105.8 300.2h0M113.1 298.7h0M120.4 297.1h0M25.3 318.7h0M32.7 317.8h0M40.2 316.8h0M47.6 315.9h0M55.1 315.0h0M62.5 314.1h0M70.0 313.2h0M77.4 312.3h0M92.3 310.4h0M99.7 309.5h0M107.2 308.6h0M114.6 307.7h0M25.4 320.0h0M32.9 319.7h0M40.4 319.5h0M47.9 319.2h0M55.4 318.9h0M62.9 318.7h0M70.4 318.4h0M77.9 318.1h0M85.4 317.9h0M100.3 317.4h0M107.8 317.1h0M115.3 316.8h0M122.8 316.6h0M25.4 321.3h0M32.9 321.7h0M40.4 322.1h0M47.8 322.5h0M55.3 322.9h0M62.8 323.2h0M70.3 323.6h0M85.3 324.4h0M92.8 324.8h0M100.3 325.2h0M115.3 326.0h0M25.3 322.6h0M32.7 323.6h0M40.1 324.7h0M47.5 325.7h0M55.0 326.8h0M62.4 327.8h0M69.8 328.9h0M77.2 329.9h0M84.7 330.9h0M92.1 332.0h0M99.5 333.0h0M107.0 334.1h0M114.4 335.1h0M25.0 323.9h0M32.3 325.6h0M39.6 327.2h0M46.9 328.9h0M54.2 330.6h0M61.6 332.3h0M68.9 334.0h0M76.2 335.7h0M90.8 339.1h0M98.1 340.7h0M105.4 342.4h0M112.7 344.1h0M120.0 345.8h0M24.7 325.1h0M31.8 327.5h0M38.9 329.8h0M46.1 332.1h0M53.2 334.4h0M60.3 336.7h0M67.5 339.0h0M74.6 341.4h0M81.7 343.7h0M88.9 346.0h0M96.0 348.3h0M103.1 350.6h0M110.3 352.9h0M117.4 355.3h0M24.2 326.4h0M31.1 329.3h0M38.0 332.2h0M44.9 335.2h0M51.8 338.1h0M58.7 341.0h0M65.6 343.9h0M72.5 346.9h0M79.4 349.8h0M86.3 352.7h0M93.2 355.7h0M107.1 361.5h0M114.0 364.5h0M23.6 327.5h0M30.3 331.1h0M36.9 334.6h0M43.5 338.1h0M50.1 341.6h0M56.8 345.1h0M63.4 348.7h0M70.0 352.2h0M76.6 355.7h0M83.2 359.2h0M103.1 369.8h0M109.7 373.3h0M23.0 328.7h0M29.3 332.8h0M35.6 336.8h0M41.9 340.9h0M48.1 345.0h0M54.4 349.1h0M60.7 353.2h0M67.0 357.3h0M73.3 361.3h0M79.6 365.4h0M85.9 369.5h0M92.2 373.6h0M98.5 377.7h0M104.8 381.8h0M22.2 329.7h0M28.1 334.4h0M34.0 339.0h0M40.0 343.6h0M45.9 348.2h0M51.8 352.8h0M57.7 357.4h0M63.6 362.1h0M69.5 366.7h0M75.4 371.3h0M87.2 380.5h0M93.1 385.1h0M99.1 389.8h0M21.4 330.7h0M26.9 335.8h0M32.3 341.0h0M37.8 346.1h0M43.3 351.2h0M48.8 356.3h0M54.3 361.4h0M59.8 366.5h0M65.3 371.6h0M70.7 376.8h0M76.2 381.9h0M81.7 387.0h0M87.2 392.1h0M92.7 397.2h0M20.4 331.6h0M25.5 337.2h0M30.5 342.8h0M35.5 348.4h0M40.5 353.9h0M45.5 359.5h0M50.5 365.1h0M55.6 370.7h0M60.6 376.2h0M65.6 381.8h0M70.6 387.4h0M75.6 393.0h0M85.7 404.1h0M19.4 332.5h0M23.9 338.5h0M28.5 344.5h0M33.0 350.4h0M37.5 356.4h0M42.0 362.4h0M46.5 368.4h0M60.0 386.4h0M69.1 398.4h0M73.6 404.4h0M78.1 410.3h0M18.3 333.2h0M22.3 339.6h0M26.3 345.9h0M30.3 352.3h0M34.2 358.7h0M38.2 365.0h0M42.2 371.4h0M46.2 377.7h0M54.1 390.5h0M58.1 396.8h0M62.1 403.2h0M66.0 409.5h0M70.0 415.9h0" stroke="#000000" stroke-width="2.9" stroke-linecap="round" fill="none"/>
<path d="M47.0 339.0h0M53.0 343.0h0M59.0 346.0h0M40.0 338.0h0M65.0 348.0h0M71.0 350.0h0M77.0 350.0h0M83.0 350.0h0M41.0 348.0h0M48.0 352.0h0M60.0 290.0h0M73.0 293.0h0M77.0 301.0h0M82.0 300.0h0M112.0 310.0h0M109.0 315.0h0M101.0 332.0h0M106.0 338.0h0" stroke="#ff0000" stroke-width="2.7" stroke-linecap="round" fill="none"/><polyline points="215.0,0.0 212.0,20.0 208.0,40.0 204.5,60.3 200.0,85.0 196.0,107.0 193.0,130.0 191.8,157.7 193.0,185.0 196.0,208.6 188.0,226.0 179.0,238.0 170.0,250.0 162.0,259.4 150.0,274.0 136.8,289.0 127.0,299.0 118.4,307.0 112.8,314.0 106.5,322.1 97.1,332.4 88.4,342.6 82.9,352.9 72.0,368.0 64.8,382.0 50.0,398.0 36.0,412.0 22.4,427.5" fill="none" stroke="#000" stroke-width="0.9"/><text x="207.7" y="49.6" font-size="15.5" text-anchor="middle" fill="#000" stroke="#fff" stroke-width="2.5" paint-order="stroke" transform="rotate(-80 207.7 49.6)" dy="4">100</text><text x="158.0" y="262.0" font-size="15.5" text-anchor="middle" fill="#000" stroke="#fff" stroke-width="2.5" paint-order="stroke" transform="rotate(-52 158.0 262.0)" dy="4">100</text>
<use href="#sites"/>
</g>
<use href="#frame"/>
<text x="173" y="-12" text-anchor="middle" font-size="25" font-weight="bold">Radial Grid</text>
<text x="284.0" y="37.0" font-size="20.5" fill="#000">10 km</text><line x1="307.0" y1="43.5" x2="320.5" y2="43.5" stroke="#000" stroke-width="3.2" stroke-linecap="round"/>
</g>
<g transform="translate(458.5,742.5)">
<use href="#axl"/>
<g clip-path="url(#cp)">
<use href="#gridl"/>
<g shape-rendering="crispEdges">
<path fill="#000fff" d="M67.0 0.0h8.3v8.4h-8.3zM113.0 7.8h8.3v8.4h-8.3zM143.7 7.8h8.3v8.4h-8.3zM74.6 15.7h8.3v8.4h-8.3zM90.0 15.7h8.3v8.4h-8.3zM166.7 15.7h8.3v8.4h-8.3zM205.0 15.7h8.3v8.4h-8.3zM235.7 15.7h8.3v8.4h-8.3zM205.0 23.5h15.9v8.4h-15.9zM235.7 23.5h8.3v8.4h-8.3zM82.3 31.4h8.3v8.4h-8.3zM105.3 31.4h8.3v8.4h-8.3zM182.0 31.4h8.3v8.4h-8.3zM212.7 31.4h8.3v8.4h-8.3zM128.3 39.2h15.9v8.4h-15.9zM212.7 54.8h8.3v8.4h-8.3zM120.6 62.6h8.3v8.4h-8.3zM97.6 70.4h15.9v8.4h-15.9zM82.3 78.2h8.3v8.4h-8.3zM128.3 78.2h8.3v8.4h-8.3zM143.7 78.2h8.3v8.4h-8.3zM90.0 86.0h8.3v8.4h-8.3zM151.3 86.0h8.3v8.4h-8.3zM205.0 86.0h8.3v8.4h-8.3zM113.0 93.8h8.3v8.4h-8.3zM166.7 101.6h15.9v8.4h-15.9zM205.0 101.6h8.3v8.4h-8.3zM105.3 109.4h8.3v8.4h-8.3zM205.0 124.9h8.3v8.4h-8.3zM113.0 140.4h8.3v8.3h-8.3zM159.0 140.4h8.3v8.3h-8.3zM243.4 140.4h8.3v8.3h-8.3zM228.0 148.2h8.3v8.3h-8.3zM228.0 171.4h8.3v8.3h-8.3zM120.6 179.1h8.3v8.3h-8.3zM228.0 194.6h8.3v8.3h-8.3zM128.3 202.3h8.3v8.3h-8.3zM159.0 202.3h8.3v8.3h-8.3zM212.7 202.3h8.3v8.3h-8.3zM197.3 210.0h8.3v8.3h-8.3zM174.3 217.7h15.9v8.3h-15.9zM174.3 240.8h8.3v8.3h-8.3zM205.0 240.8h8.3v8.3h-8.3zM243.4 240.8h8.3v8.3h-8.3zM189.7 248.4h8.3v8.3h-8.3zM90.0 256.1h8.3v8.3h-8.3zM174.3 256.1h8.3v8.3h-8.3zM97.6 263.8h8.3v8.3h-8.3zM182.0 263.8h8.3v8.3h-8.3zM105.3 271.5h8.3v8.3h-8.3zM205.0 279.1h8.3v8.3h-8.3zM105.3 302.1h8.3v8.2h-8.3zM243.4 309.7h8.3v8.2h-8.3zM151.3 317.4h8.3v8.2h-8.3zM151.3 325.0h8.3v8.2h-8.3zM182.0 340.2h15.9v8.2h-15.9zM51.6 347.8h8.3v8.2h-8.3zM105.3 363.1h8.3v8.2h-8.3z"/>
<path fill="#0000fa" d="M74.6 0.0h8.3v8.4h-8.3zM97.6 0.0h8.3v8.4h-8.3zM182.0 0.0h8.3v8.4h-8.3zM235.7 0.0h8.3v8.4h-8.3zM74.6 7.8h8.3v8.4h-8.3zM105.3 23.5h15.9v8.4h-15.9zM182.0 23.5h8.3v8.4h-8.3zM197.3 23.5h8.3v8.4h-8.3zM74.6 31.4h8.3v8.4h-8.3zM113.0 31.4h8.3v8.4h-8.3zM143.7 39.2h8.3v8.4h-8.3zM166.7 39.2h8.3v8.4h-8.3zM159.0 47.0h8.3v8.4h-8.3zM113.0 54.8h8.3v8.4h-8.3zM136.0 54.8h8.3v8.4h-8.3zM151.3 54.8h8.3v8.4h-8.3zM212.7 62.6h15.9v8.4h-15.9zM251.0 62.6h8.3v8.4h-8.3zM228.0 70.4h8.3v8.4h-8.3zM90.0 78.2h8.3v8.4h-8.3zM159.0 86.0h8.3v8.4h-8.3zM105.3 93.8h8.3v8.4h-8.3zM128.3 93.8h15.9v8.4h-15.9zM159.0 93.8h8.3v8.4h-8.3zM205.0 93.8h8.3v8.4h-8.3zM228.0 93.8h8.3v8.4h-8.3zM90.0 101.6h8.3v8.4h-8.3zM159.0 101.6h8.3v8.4h-8.3zM205.0 109.4h15.9v8.4h-15.9zM243.4 109.4h15.9v8.4h-15.9zM205.0 117.1h8.3v8.4h-8.3zM197.3 124.9h8.3v8.4h-8.3zM182.0 132.7h8.3v8.4h-8.3zM197.3 132.7h8.3v8.4h-8.3zM212.7 148.2h8.3v8.3h-8.3zM235.7 148.2h8.3v8.3h-8.3zM220.4 155.9h8.3v8.3h-8.3zM228.0 163.7h8.3v8.3h-8.3zM243.4 163.7h8.3v8.3h-8.3zM143.7 202.3h8.3v8.3h-8.3zM243.4 202.3h8.3v8.3h-8.3zM182.0 210.0h8.3v8.3h-8.3zM151.3 217.7h8.3v8.3h-8.3zM258.7 217.7h8.3v8.3h-8.3zM235.7 225.4h8.3v8.3h-8.3zM159.0 233.1h8.3v8.3h-8.3zM251.0 233.1h8.3v8.3h-8.3zM197.3 240.8h8.3v8.3h-8.3zM274.1 240.8h8.3v8.3h-8.3zM182.0 248.4h8.3v8.3h-8.3zM189.7 256.1h8.3v8.3h-8.3zM189.7 263.8h8.3v8.3h-8.3zM251.0 286.8h8.3v8.3h-8.3zM274.1 302.1h8.3v8.2h-8.3zM228.0 317.4h15.9v8.2h-15.9zM228.0 325.0h8.3v8.2h-8.3zM159.0 332.6h8.3v8.2h-8.3zM97.6 355.5h8.3v8.2h-8.3z"/>
<path fill="#0000e6" d="M82.3 0.0h8.3v8.4h-8.3zM143.7 0.0h8.3v8.4h-8.3zM197.3 15.7h8.3v8.4h-8.3zM113.0 39.2h8.3v8.4h-8.3zM220.4 54.8h8.3v8.4h-8.3zM90.0 62.6h8.3v8.4h-8.3zM105.3 62.6h8.3v8.4h-8.3zM128.3 62.6h8.3v8.4h-8.3zM113.0 70.4h8.3v8.4h-8.3zM228.0 78.2h8.3v8.4h-8.3zM113.0 86.0h8.3v8.4h-8.3zM212.7 86.0h8.3v8.4h-8.3zM228.0 86.0h8.3v8.4h-8.3zM235.7 93.8h8.3v8.4h-8.3zM151.3 101.6h8.3v8.4h-8.3zM235.7 109.4h8.3v8.4h-8.3zM97.6 117.1h8.3v8.4h-8.3zM251.0 117.1h8.3v8.4h-8.3zM189.7 124.9h8.3v8.4h-8.3zM228.0 132.7h15.9v8.4h-15.9zM251.0 155.9h8.3v8.3h-8.3zM258.7 171.4h8.3v8.3h-8.3zM228.0 179.1h8.3v8.3h-8.3zM251.0 202.3h8.3v8.3h-8.3zM136.0 210.0h8.3v8.3h-8.3zM189.7 210.0h8.3v8.3h-8.3zM335.4 210.0h8.3v8.3h-8.3zM174.3 225.4h8.3v8.3h-8.3zM266.4 225.4h8.3v8.3h-8.3zM212.7 233.1h8.3v8.3h-8.3zM189.7 240.8h8.3v8.3h-8.3zM343.1 256.1h4.9v8.3h-4.9zM220.4 279.1h8.3v8.3h-8.3zM82.3 286.8h8.3v8.3h-8.3zM289.4 286.8h8.3v8.3h-8.3zM243.4 294.4h15.9v8.2h-15.9zM235.7 302.1h8.3v8.2h-8.3zM235.7 309.7h8.3v8.2h-8.3zM189.7 325.0h8.3v8.2h-8.3z"/>
<path fill="#0005ff" d="M90.0 0.0h8.3v8.4h-8.3zM205.0 0.0h8.3v8.4h-8.3zM90.0 7.8h8.3v8.4h-8.3zM120.6 7.8h8.3v8.4h-8.3zM174.3 7.8h8.3v8.4h-8.3zM182.0 15.7h8.3v8.4h-8.3zM228.0 15.7h8.3v8.4h-8.3zM90.0 23.5h15.9v8.4h-15.9zM166.7 31.4h8.3v8.4h-8.3zM74.6 39.2h15.9v8.4h-15.9zM120.6 39.2h8.3v8.4h-8.3zM151.3 39.2h15.9v8.4h-15.9zM82.3 47.0h8.3v8.4h-8.3zM97.6 47.0h8.3v8.4h-8.3zM136.0 47.0h8.3v8.4h-8.3zM212.7 47.0h15.9v8.4h-15.9zM128.3 54.8h8.3v8.4h-8.3zM205.0 54.8h8.3v8.4h-8.3zM143.7 62.6h8.3v8.4h-8.3zM151.3 70.4h15.9v8.4h-15.9zM205.0 70.4h15.9v8.4h-15.9zM120.6 78.2h8.3v8.4h-8.3zM151.3 78.2h8.3v8.4h-8.3zM205.0 78.2h8.3v8.4h-8.3zM120.6 86.0h8.3v8.4h-8.3zM220.4 86.0h8.3v8.4h-8.3zM97.6 93.8h8.3v8.4h-8.3zM120.6 93.8h8.3v8.4h-8.3zM120.6 101.6h8.3v8.4h-8.3zM220.4 101.6h8.3v8.4h-8.3zM197.3 109.4h8.3v8.4h-8.3zM105.3 117.1h8.3v8.4h-8.3zM220.4 124.9h15.9v8.4h-15.9zM174.3 132.7h8.3v8.4h-8.3zM189.7 132.7h8.3v8.4h-8.3zM212.7 132.7h8.3v8.4h-8.3zM258.7 132.7h8.3v8.4h-8.3zM174.3 140.4h8.3v8.3h-8.3zM243.4 148.2h8.3v8.3h-8.3zM174.3 202.3h8.3v8.3h-8.3zM228.0 202.3h8.3v8.3h-8.3zM228.0 210.0h8.3v8.3h-8.3zM228.0 217.7h8.3v8.3h-8.3zM243.4 225.4h8.3v8.3h-8.3zM182.0 233.1h8.3v8.3h-8.3zM205.0 233.1h8.3v8.3h-8.3zM166.7 240.8h8.3v8.3h-8.3zM266.4 240.8h8.3v8.3h-8.3zM212.7 248.4h8.3v8.3h-8.3zM182.0 256.1h8.3v8.3h-8.3zM97.6 279.1h8.3v8.3h-8.3zM105.3 294.4h15.9v8.2h-15.9zM128.3 309.7h8.3v8.2h-8.3zM166.7 332.6h8.3v8.2h-8.3zM189.7 332.6h15.9v8.2h-15.9zM74.6 355.5h8.3v8.2h-8.3z"/>
<path fill="#0019ff" d="M105.3 0.0h8.3v8.4h-8.3zM151.3 0.0h8.3v8.4h-8.3zM197.3 0.0h8.3v8.4h-8.3zM105.3 7.8h8.3v8.4h-8.3zM159.0 7.8h8.3v8.4h-8.3zM189.7 7.8h8.3v8.4h-8.3zM82.3 15.7h8.3v8.4h-8.3zM82.3 23.5h8.3v8.4h-8.3zM174.3 23.5h8.3v8.4h-8.3zM189.7 23.5h8.3v8.4h-8.3zM97.6 31.4h8.3v8.4h-8.3zM212.7 39.2h8.3v8.4h-8.3zM97.6 54.8h8.3v8.4h-8.3zM159.0 62.6h8.3v8.4h-8.3zM136.0 70.4h8.3v8.4h-8.3zM97.6 78.2h8.3v8.4h-8.3zM113.0 78.2h8.3v8.4h-8.3zM166.7 78.2h8.3v8.4h-8.3zM128.3 101.6h8.3v8.4h-8.3zM235.7 101.6h8.3v8.4h-8.3zM166.7 109.4h8.3v8.4h-8.3zM189.7 109.4h8.3v8.4h-8.3zM113.0 117.1h8.3v8.4h-8.3zM174.3 124.9h15.9v8.4h-15.9zM212.7 140.4h8.3v8.3h-8.3zM159.0 148.2h8.3v8.3h-8.3zM182.0 148.2h8.3v8.3h-8.3zM220.4 163.7h8.3v8.3h-8.3zM143.7 186.8h8.3v8.3h-8.3zM212.7 194.6h8.3v8.3h-8.3zM120.6 202.3h8.3v8.3h-8.3zM136.0 202.3h8.3v8.3h-8.3zM205.0 202.3h8.3v8.3h-8.3zM220.4 202.3h8.3v8.3h-8.3zM143.7 210.0h8.3v8.3h-8.3zM166.7 210.0h8.3v8.3h-8.3zM136.0 217.7h8.3v8.3h-8.3zM182.0 225.4h8.3v8.3h-8.3zM220.4 225.4h8.3v8.3h-8.3zM182.0 240.8h8.3v8.3h-8.3zM166.7 263.8h8.3v8.3h-8.3zM220.4 263.8h8.3v8.3h-8.3zM220.4 271.5h8.3v8.3h-8.3zM205.0 286.8h8.3v8.3h-8.3zM220.4 286.8h15.9v8.3h-15.9zM205.0 294.4h8.3v8.2h-8.3zM120.6 309.7h8.3v8.2h-8.3zM205.0 317.4h8.3v8.2h-8.3zM166.7 325.0h15.9v8.2h-15.9zM197.3 325.0h8.3v8.2h-8.3zM212.7 325.0h8.3v8.2h-8.3zM174.3 332.6h8.3v8.2h-8.3zM120.6 347.8h8.3v8.2h-8.3z"/>
<path fill="#0000db" d="M113.0 0.0h8.3v8.4h-8.3zM251.0 0.0h8.3v8.4h-8.3zM97.6 15.7h8.3v8.4h-8.3zM74.6 23.5h8.3v8.4h-8.3zM243.4 23.5h8.3v8.4h-8.3zM90.0 39.2h8.3v8.4h-8.3zM105.3 39.2h8.3v8.4h-8.3zM113.0 47.0h8.3v8.4h-8.3zM128.3 70.4h8.3v8.4h-8.3zM220.4 70.4h8.3v8.4h-8.3zM220.4 78.2h8.3v8.4h-8.3zM251.0 78.2h8.3v8.4h-8.3zM82.3 86.0h8.3v8.4h-8.3zM143.7 86.0h8.3v8.4h-8.3zM235.7 86.0h8.3v8.4h-8.3zM251.0 86.0h8.3v8.4h-8.3zM143.7 93.8h8.3v8.4h-8.3zM212.7 101.6h8.3v8.4h-8.3zM258.7 109.4h8.3v8.4h-8.3zM197.3 117.1h8.3v8.4h-8.3zM235.7 117.1h8.3v8.4h-8.3zM258.7 117.1h8.3v8.4h-8.3zM281.7 132.7h15.9v8.4h-15.9zM251.0 140.4h8.3v8.3h-8.3zM312.4 140.4h8.3v8.3h-8.3zM266.4 148.2h8.3v8.3h-8.3zM235.7 155.9h15.9v8.3h-15.9zM258.7 155.9h8.3v8.3h-8.3zM274.1 155.9h8.3v8.3h-8.3zM251.0 163.7h8.3v8.3h-8.3zM274.1 163.7h8.3v8.3h-8.3zM304.7 163.7h8.3v8.3h-8.3zM243.4 171.4h8.3v8.3h-8.3zM266.4 171.4h8.3v8.3h-8.3zM304.7 179.1h8.3v8.3h-8.3zM327.7 179.1h8.3v8.3h-8.3zM235.7 186.8h15.9v8.3h-15.9zM297.1 186.8h8.3v8.3h-8.3zM143.7 194.6h8.3v8.3h-8.3zM258.7 194.6h8.3v8.3h-8.3zM235.7 202.3h8.3v8.3h-8.3zM128.3 210.0h8.3v8.3h-8.3zM220.4 210.0h8.3v8.3h-8.3zM243.4 210.0h23.6v8.3h-23.6zM274.1 210.0h8.3v8.3h-8.3zM327.7 210.0h8.3v8.3h-8.3zM266.4 217.7h8.3v8.3h-8.3zM320.1 217.7h8.3v8.3h-8.3zM251.0 225.4h8.3v8.3h-8.3zM189.7 233.1h8.3v8.3h-8.3zM235.7 233.1h8.3v8.3h-8.3zM281.7 233.1h8.3v8.3h-8.3zM235.7 240.8h8.3v8.3h-8.3zM274.1 248.4h8.3v8.3h-8.3zM327.7 263.8h8.3v8.3h-8.3zM251.0 271.5h8.3v8.3h-8.3zM235.7 286.8h8.3v8.3h-8.3zM266.4 286.8h8.3v8.3h-8.3zM281.7 286.8h8.3v8.3h-8.3zM220.4 294.4h8.3v8.2h-8.3zM97.6 363.1h8.3v8.2h-8.3z"/>
<path fill="#0000f0" d="M120.6 0.0h8.3v8.4h-8.3zM159.0 0.0h23.6v8.4h-23.6zM212.7 0.0h8.3v8.4h-8.3zM228.0 0.0h8.3v8.4h-8.3zM235.7 31.4h8.3v8.4h-8.3zM128.3 47.0h8.3v8.4h-8.3zM82.3 54.8h8.3v8.4h-8.3zM105.3 54.8h8.3v8.4h-8.3zM82.3 62.6h8.3v8.4h-8.3zM151.3 62.6h8.3v8.4h-8.3zM82.3 70.4h8.3v8.4h-8.3zM251.0 70.4h8.3v8.4h-8.3zM105.3 78.2h8.3v8.4h-8.3zM235.7 78.2h15.9v8.4h-15.9zM105.3 86.0h8.3v8.4h-8.3zM243.4 86.0h8.3v8.4h-8.3zM220.4 93.8h8.3v8.4h-8.3zM251.0 93.8h8.3v8.4h-8.3zM97.6 101.6h15.9v8.4h-15.9zM143.7 101.6h8.3v8.4h-8.3zM197.3 101.6h8.3v8.4h-8.3zM228.0 101.6h8.3v8.4h-8.3zM243.4 101.6h8.3v8.4h-8.3zM182.0 109.4h8.3v8.4h-8.3zM228.0 109.4h8.3v8.4h-8.3zM220.4 117.1h15.9v8.4h-15.9zM212.7 124.9h8.3v8.4h-8.3zM251.0 124.9h15.9v8.4h-15.9zM205.0 140.4h8.3v8.3h-8.3zM274.1 140.4h8.3v8.3h-8.3zM258.7 163.7h8.3v8.3h-8.3zM289.4 163.7h8.3v8.3h-8.3zM235.7 179.1h15.9v8.3h-15.9zM136.0 194.6h8.3v8.3h-8.3zM243.4 194.6h8.3v8.3h-8.3zM197.3 202.3h8.3v8.3h-8.3zM174.3 210.0h8.3v8.3h-8.3zM235.7 210.0h8.3v8.3h-8.3zM266.4 210.0h8.3v8.3h-8.3zM166.7 217.7h8.3v8.3h-8.3zM228.0 225.4h8.3v8.3h-8.3zM258.7 225.4h8.3v8.3h-8.3zM258.7 233.1h8.3v8.3h-8.3zM212.7 240.8h8.3v8.3h-8.3zM220.4 256.1h8.3v8.3h-8.3zM174.3 263.8h8.3v8.3h-8.3zM197.3 263.8h8.3v8.3h-8.3zM197.3 271.5h8.3v8.3h-8.3zM105.3 286.8h8.3v8.3h-8.3zM212.7 286.8h8.3v8.3h-8.3zM136.0 317.4h8.3v8.2h-8.3zM159.0 325.0h8.3v8.2h-8.3zM182.0 332.6h8.3v8.2h-8.3zM205.0 332.6h8.3v8.2h-8.3zM105.3 355.5h8.3v8.2h-8.3z"/>
<path fill="#0024ff" d="M128.3 0.0h8.3v8.4h-8.3zM189.7 0.0h8.3v8.4h-8.3zM82.3 7.8h8.3v8.4h-8.3zM136.0 7.8h8.3v8.4h-8.3zM105.3 15.7h8.3v8.4h-8.3zM174.3 15.7h8.3v8.4h-8.3zM90.0 31.4h8.3v8.4h-8.3zM174.3 31.4h8.3v8.4h-8.3zM205.0 31.4h8.3v8.4h-8.3zM97.6 39.2h8.3v8.4h-8.3zM105.3 47.0h8.3v8.4h-8.3zM120.6 47.0h8.3v8.4h-8.3zM151.3 47.0h8.3v8.4h-8.3zM90.0 54.8h8.3v8.4h-8.3zM120.6 54.8h8.3v8.4h-8.3zM159.0 54.8h8.3v8.4h-8.3zM97.6 86.0h8.3v8.4h-8.3zM128.3 86.0h15.9v8.4h-15.9zM197.3 93.8h8.3v8.4h-8.3zM97.6 109.4h8.3v8.4h-8.3zM159.0 109.4h8.3v8.4h-8.3zM205.0 132.7h8.3v8.4h-8.3zM197.3 140.4h8.3v8.3h-8.3zM151.3 148.2h8.3v8.3h-8.3zM113.0 155.9h8.3v8.3h-8.3zM128.3 194.6h8.3v8.3h-8.3zM220.4 194.6h8.3v8.3h-8.3zM151.3 202.3h8.3v8.3h-8.3zM166.7 202.3h8.3v8.3h-8.3zM182.0 202.3h15.9v8.3h-15.9zM205.0 210.0h15.9v8.3h-15.9zM220.4 217.7h8.3v8.3h-8.3zM159.0 225.4h8.3v8.3h-8.3zM243.4 233.1h8.3v8.3h-8.3zM266.4 248.4h8.3v8.3h-8.3zM166.7 256.1h8.3v8.3h-8.3zM197.3 256.1h8.3v8.3h-8.3zM97.6 271.5h8.3v8.3h-8.3zM212.7 294.4h8.3v8.2h-8.3zM113.0 302.1h8.3v8.2h-8.3zM143.7 309.7h15.9v8.2h-15.9zM128.3 317.4h8.3v8.2h-8.3zM143.7 317.4h8.3v8.2h-8.3zM212.7 317.4h15.9v8.2h-15.9zM205.0 325.0h8.3v8.2h-8.3zM212.7 332.6h8.3v8.2h-8.3zM74.6 347.8h8.3v8.2h-8.3zM113.0 355.5h8.3v8.2h-8.3zM151.3 363.1h8.3v8.2h-8.3z"/>
<path fill="#0038ff" d="M136.0 0.0h8.3v8.4h-8.3zM128.3 7.8h8.3v8.4h-8.3zM212.7 15.7h8.3v8.4h-8.3zM120.6 31.4h15.9v8.4h-15.9zM159.0 31.4h8.3v8.4h-8.3zM166.7 47.0h8.3v8.4h-8.3zM143.7 54.8h8.3v8.4h-8.3zM120.6 70.4h8.3v8.4h-8.3zM143.7 70.4h8.3v8.4h-8.3zM235.7 70.4h8.3v8.4h-8.3zM212.7 78.2h8.3v8.4h-8.3zM166.7 86.0h8.3v8.4h-8.3zM166.7 93.8h15.9v8.4h-15.9zM212.7 93.8h8.3v8.4h-8.3zM113.0 101.6h8.3v8.4h-8.3zM182.0 101.6h8.3v8.4h-8.3zM120.6 109.4h15.9v8.4h-15.9zM182.0 117.1h8.3v8.4h-8.3zM143.7 140.4h8.3v8.3h-8.3zM159.0 155.9h8.3v8.3h-8.3zM212.7 155.9h8.3v8.3h-8.3zM113.0 163.7h8.3v8.3h-8.3zM220.4 179.1h8.3v8.3h-8.3zM212.7 186.8h8.3v8.3h-8.3zM159.0 194.6h8.3v8.3h-8.3zM159.0 210.0h8.3v8.3h-8.3zM166.7 233.1h8.3v8.3h-8.3zM159.0 248.4h8.3v8.3h-8.3zM159.0 263.8h8.3v8.3h-8.3zM166.7 271.5h8.3v8.3h-8.3zM105.3 279.1h8.3v8.3h-8.3zM113.0 286.8h8.3v8.3h-8.3zM151.3 302.1h8.3v8.2h-8.3zM159.0 309.7h8.3v8.2h-8.3zM159.0 317.4h8.3v8.2h-8.3z"/>
<path fill="#0000d1" d="M243.4 0.0h8.3v8.4h-8.3zM197.3 7.8h8.3v8.4h-8.3zM90.0 47.0h8.3v8.4h-8.3zM243.4 62.6h8.3v8.4h-8.3zM243.4 70.4h8.3v8.4h-8.3zM136.0 78.2h8.3v8.4h-8.3zM90.0 93.8h8.3v8.4h-8.3zM243.4 93.8h8.3v8.4h-8.3zM251.0 101.6h8.3v8.4h-8.3zM266.4 117.1h8.3v8.4h-8.3zM251.0 132.7h8.3v8.4h-8.3zM228.0 140.4h15.9v8.3h-15.9zM266.4 140.4h8.3v8.3h-8.3zM289.4 148.2h8.3v8.3h-8.3zM297.1 155.9h8.3v8.3h-8.3zM312.4 155.9h8.3v8.3h-8.3zM343.1 155.9h4.9v8.3h-4.9zM235.7 163.7h8.3v8.3h-8.3zM266.4 163.7h8.3v8.3h-8.3zM297.1 163.7h8.3v8.3h-8.3zM235.7 171.4h8.3v8.3h-8.3zM297.1 171.4h8.3v8.3h-8.3zM343.1 171.4h4.9v8.3h-4.9zM251.0 179.1h15.9v8.3h-15.9zM228.0 186.8h8.3v8.3h-8.3zM274.1 186.8h8.3v8.3h-8.3zM120.6 194.6h8.3v8.3h-8.3zM266.4 194.6h8.3v8.3h-8.3zM258.7 202.3h8.3v8.3h-8.3zM274.1 202.3h8.3v8.3h-8.3zM304.7 210.0h8.3v8.3h-8.3zM235.7 217.7h15.9v8.3h-15.9zM274.1 217.7h8.3v8.3h-8.3zM304.7 217.7h8.3v8.3h-8.3zM312.4 225.4h8.3v8.3h-8.3zM266.4 233.1h8.3v8.3h-8.3zM297.1 248.4h8.3v8.3h-8.3zM258.7 256.1h15.9v8.3h-15.9zM289.4 271.5h8.3v8.3h-8.3zM251.0 279.1h8.3v8.3h-8.3zM297.1 279.1h8.3v8.3h-8.3zM327.7 279.1h15.9v8.3h-15.9zM97.6 286.8h8.3v8.3h-8.3zM304.7 286.8h8.3v8.3h-8.3zM327.7 286.8h8.3v8.3h-8.3zM235.7 294.4h8.3v8.2h-8.3zM266.4 302.1h8.3v8.2h-8.3zM304.7 302.1h8.3v8.2h-8.3zM220.4 325.0h8.3v8.2h-8.3zM174.3 340.2h8.3v8.2h-8.3zM197.3 340.2h8.3v8.2h-8.3z"/>
<path fill="#0042ff" d="M97.6 7.8h8.3v8.4h-8.3zM220.4 23.5h15.9v8.4h-15.9zM136.0 31.4h8.3v8.4h-8.3zM205.0 39.2h8.3v8.4h-8.3zM197.3 70.4h8.3v8.4h-8.3zM113.0 124.9h8.3v8.4h-8.3zM220.4 132.7h8.3v8.4h-8.3zM136.0 148.2h8.3v8.3h-8.3zM151.3 163.7h8.3v8.3h-8.3zM151.3 225.4h8.3v8.3h-8.3zM166.7 225.4h8.3v8.3h-8.3zM120.6 233.1h8.3v8.3h-8.3zM136.0 233.1h8.3v8.3h-8.3zM251.0 240.8h8.3v8.3h-8.3zM105.3 263.8h8.3v8.3h-8.3zM136.0 309.7h8.3v8.2h-8.3zM151.3 332.6h8.3v8.2h-8.3zM67.0 347.8h8.3v8.2h-8.3zM128.3 355.5h8.3v8.2h-8.3z"/>
<path fill="#002eff" d="M151.3 7.8h8.3v8.4h-8.3zM166.7 7.8h8.3v8.4h-8.3zM205.0 7.8h15.9v8.4h-15.9zM113.0 15.7h8.3v8.4h-8.3zM197.3 31.4h8.3v8.4h-8.3zM97.6 62.6h8.3v8.4h-8.3zM113.0 62.6h8.3v8.4h-8.3zM136.0 62.6h8.3v8.4h-8.3zM205.0 62.6h8.3v8.4h-8.3zM90.0 70.4h8.3v8.4h-8.3zM159.0 78.2h8.3v8.4h-8.3zM174.3 86.0h8.3v8.4h-8.3zM151.3 93.8h8.3v8.4h-8.3zM189.7 101.6h8.3v8.4h-8.3zM113.0 109.4h8.3v8.4h-8.3zM174.3 109.4h8.3v8.4h-8.3zM189.7 117.1h8.3v8.4h-8.3zM113.0 132.7h8.3v8.4h-8.3zM189.7 140.4h8.3v8.3h-8.3zM143.7 148.2h8.3v8.3h-8.3zM220.4 171.4h8.3v8.3h-8.3zM136.0 186.8h8.3v8.3h-8.3zM220.4 186.8h8.3v8.3h-8.3zM151.3 194.6h8.3v8.3h-8.3zM143.7 217.7h8.3v8.3h-8.3zM159.0 217.7h8.3v8.3h-8.3zM174.3 248.4h8.3v8.3h-8.3zM258.7 248.4h8.3v8.3h-8.3zM97.6 256.1h8.3v8.3h-8.3zM212.7 263.8h8.3v8.3h-8.3zM212.7 271.5h8.3v8.3h-8.3zM182.0 279.1h8.3v8.3h-8.3zM212.7 279.1h8.3v8.3h-8.3zM197.3 294.4h8.3v8.2h-8.3zM205.0 302.1h8.3v8.2h-8.3zM220.4 302.1h8.3v8.2h-8.3zM197.3 317.4h8.3v8.2h-8.3zM143.7 325.0h8.3v8.2h-8.3zM67.0 355.5h8.3v8.2h-8.3z"/>
<path fill="#0000bd" d="M182.0 7.8h8.3v8.4h-8.3zM143.7 47.0h8.3v8.4h-8.3zM220.4 109.4h8.3v8.4h-8.3zM212.7 117.1h8.3v8.4h-8.3zM281.7 117.1h15.9v8.4h-15.9zM274.1 132.7h8.3v8.4h-8.3zM281.7 140.4h8.3v8.3h-8.3zM304.7 140.4h8.3v8.3h-8.3zM289.4 155.9h8.3v8.3h-8.3zM281.7 163.7h8.3v8.3h-8.3zM312.4 163.7h8.3v8.3h-8.3zM289.4 171.4h8.3v8.3h-8.3zM312.4 171.4h8.3v8.3h-8.3zM297.1 179.1h8.3v8.3h-8.3zM312.4 179.1h8.3v8.3h-8.3zM335.4 179.1h12.6v8.3h-12.6zM343.1 186.8h4.9v8.3h-4.9zM251.0 194.6h8.3v8.3h-8.3zM274.1 194.6h8.3v8.3h-8.3zM312.4 194.6h8.3v8.3h-8.3zM343.1 194.6h4.9v8.3h-4.9zM266.4 202.3h8.3v8.3h-8.3zM297.1 210.0h8.3v8.3h-8.3zM251.0 217.7h8.3v8.3h-8.3zM297.1 217.7h8.3v8.3h-8.3zM281.7 225.4h8.3v8.3h-8.3zM343.1 225.4h4.9v8.3h-4.9zM335.4 233.1h8.3v8.3h-8.3zM289.4 240.8h8.3v8.3h-8.3zM327.7 240.8h8.3v8.3h-8.3zM304.7 248.4h8.3v8.3h-8.3zM327.7 248.4h8.3v8.3h-8.3zM258.7 263.8h8.3v8.3h-8.3zM274.1 263.8h8.3v8.3h-8.3zM289.4 263.8h15.9v8.3h-15.9zM312.4 263.8h8.3v8.3h-8.3zM59.3 271.5h8.3v8.3h-8.3zM74.6 271.5h8.3v8.3h-8.3zM258.7 271.5h8.3v8.3h-8.3zM304.7 271.5h8.3v8.3h-8.3zM320.1 271.5h8.3v8.3h-8.3zM67.0 279.1h8.3v8.3h-8.3zM304.7 279.1h23.6v8.3h-23.6zM343.1 279.1h4.9v8.3h-4.9zM51.6 286.8h15.9v8.3h-15.9zM258.7 286.8h8.3v8.3h-8.3zM297.1 286.8h8.3v8.3h-8.3zM335.4 286.8h8.3v8.3h-8.3zM51.6 294.4h8.3v8.2h-8.3zM67.0 294.4h8.3v8.2h-8.3zM82.3 294.4h8.3v8.2h-8.3zM274.1 294.4h8.3v8.2h-8.3zM304.7 294.4h8.3v8.2h-8.3zM327.7 294.4h8.3v8.2h-8.3zM281.7 302.1h8.3v8.2h-8.3z"/>
<path fill="#0061ff" d="M120.6 15.7h8.3v8.4h-8.3zM197.3 39.2h8.3v8.4h-8.3zM120.6 124.9h8.3v8.4h-8.3zM166.7 124.9h8.3v8.4h-8.3zM120.6 140.4h8.3v8.3h-8.3zM205.0 155.9h8.3v8.3h-8.3zM166.7 163.7h8.3v8.3h-8.3zM136.0 171.4h8.3v8.3h-8.3zM128.3 179.1h8.3v8.3h-8.3zM143.7 179.1h8.3v8.3h-8.3zM197.3 194.6h8.3v8.3h-8.3zM212.7 217.7h8.3v8.3h-8.3zM212.7 225.4h8.3v8.3h-8.3zM143.7 233.1h8.3v8.3h-8.3zM136.0 325.0h8.3v8.2h-8.3zM143.7 332.6h8.3v8.2h-8.3z"/>
<path fill="#0057ff" d="M128.3 15.7h8.3v8.4h-8.3zM136.0 101.6h8.3v8.4h-8.3zM166.7 148.2h8.3v8.3h-8.3zM143.7 155.9h8.3v8.3h-8.3zM143.7 163.7h8.3v8.3h-8.3zM212.7 163.7h8.3v8.3h-8.3zM151.3 171.4h8.3v8.3h-8.3zM151.3 179.1h8.3v8.3h-8.3zM189.7 217.7h8.3v8.3h-8.3zM136.0 225.4h15.9v8.3h-15.9zM166.7 248.4h8.3v8.3h-8.3zM197.3 248.4h8.3v8.3h-8.3zM113.0 279.1h8.3v8.3h-8.3zM197.3 279.1h8.3v8.3h-8.3zM228.0 309.7h8.3v8.2h-8.3zM166.7 317.4h8.3v8.2h-8.3zM182.0 325.0h8.3v8.2h-8.3zM159.0 340.2h8.3v8.2h-8.3z"/>
<path fill="#00faff" d="M136.0 15.7h8.3v8.4h-8.3zM143.7 132.7h8.3v8.4h-8.3zM205.0 179.1h8.3v8.3h-8.3zM228.0 294.4h8.3v8.2h-8.3zM166.7 302.1h8.3v8.2h-8.3zM182.0 309.7h8.3v8.2h-8.3zM20.9 325.0h8.3v8.2h-8.3zM128.3 325.0h8.3v8.2h-8.3z"/>
<path fill="#006bff" d="M143.7 15.7h8.3v8.4h-8.3zM159.0 23.5h15.9v8.4h-15.9zM143.7 31.4h8.3v8.4h-8.3zM174.3 39.2h8.3v8.4h-8.3zM228.0 62.6h8.3v8.4h-8.3zM159.0 117.1h15.9v8.4h-15.9zM120.6 132.7h8.3v8.4h-8.3zM128.3 140.4h8.3v8.3h-8.3zM197.3 148.2h8.3v8.3h-8.3zM120.6 155.9h8.3v8.3h-8.3zM159.0 163.7h8.3v8.3h-8.3zM151.3 186.8h8.3v8.3h-8.3zM197.3 217.7h8.3v8.3h-8.3zM151.3 233.1h8.3v8.3h-8.3zM174.3 271.5h8.3v8.3h-8.3zM143.7 302.1h8.3v8.2h-8.3zM166.7 309.7h8.3v8.2h-8.3zM136.0 332.6h8.3v8.2h-8.3zM44.0 340.2h8.3v8.2h-8.3z"/>
<path fill="#0094ff" d="M151.3 15.7h8.3v8.4h-8.3zM136.0 23.5h8.3v8.4h-8.3zM235.7 62.6h8.3v8.4h-8.3zM128.3 132.7h8.3v8.4h-8.3zM189.7 148.2h8.3v8.3h-8.3zM136.0 155.9h8.3v8.3h-8.3zM105.3 256.1h8.3v8.3h-8.3zM128.3 302.1h8.3v8.2h-8.3zM159.0 302.1h8.3v8.2h-8.3zM189.7 309.7h8.3v8.2h-8.3z"/>
<path fill="#004dff" d="M159.0 15.7h8.3v8.4h-8.3zM151.3 31.4h8.3v8.4h-8.3zM189.7 31.4h8.3v8.4h-8.3zM205.0 47.0h8.3v8.4h-8.3zM166.7 54.8h8.3v8.4h-8.3zM166.7 70.4h8.3v8.4h-8.3zM197.3 86.0h8.3v8.4h-8.3zM174.3 117.1h8.3v8.4h-8.3zM166.7 132.7h8.3v8.4h-8.3zM151.3 140.4h8.3v8.3h-8.3zM166.7 140.4h8.3v8.3h-8.3zM182.0 140.4h8.3v8.3h-8.3zM151.3 155.9h8.3v8.3h-8.3zM166.7 155.9h8.3v8.3h-8.3zM120.6 186.8h15.9v8.3h-15.9zM189.7 194.6h8.3v8.3h-8.3zM189.7 225.4h8.3v8.3h-8.3zM174.3 233.1h8.3v8.3h-8.3zM197.3 233.1h8.3v8.3h-8.3zM258.7 240.8h8.3v8.3h-8.3zM212.7 256.1h8.3v8.3h-8.3zM189.7 271.5h8.3v8.3h-8.3zM197.3 286.8h8.3v8.3h-8.3zM120.6 302.1h8.3v8.2h-8.3zM212.7 302.1h8.3v8.2h-8.3zM28.6 340.2h8.3v8.2h-8.3zM151.3 340.2h8.3v8.2h-8.3zM166.7 340.2h8.3v8.2h-8.3zM59.3 347.8h8.3v8.2h-8.3zM128.3 347.8h8.3v8.2h-8.3zM159.0 347.8h8.3v8.2h-8.3z"/>
<path fill="#0000c7" d="M189.7 15.7h8.3v8.4h-8.3zM243.4 31.4h8.3v8.4h-8.3zM335.4 109.4h12.6v8.4h-12.6zM243.4 117.1h8.3v8.4h-8.3zM335.4 117.1h8.3v8.4h-8.3zM274.1 124.9h15.9v8.4h-15.9zM297.1 132.7h8.3v8.4h-8.3zM220.4 140.4h8.3v8.3h-8.3zM258.7 140.4h8.3v8.3h-8.3zM251.0 148.2h15.9v8.3h-15.9zM281.7 148.2h8.3v8.3h-8.3zM297.1 148.2h8.3v8.3h-8.3zM266.4 155.9h8.3v8.3h-8.3zM304.7 155.9h8.3v8.3h-8.3zM343.1 163.7h4.9v8.3h-4.9zM274.1 171.4h8.3v8.3h-8.3zM320.1 171.4h8.3v8.3h-8.3zM266.4 179.1h23.6v8.3h-23.6zM251.0 186.8h15.9v8.3h-15.9zM281.7 186.8h8.3v8.3h-8.3zM327.7 186.8h8.3v8.3h-8.3zM235.7 194.6h8.3v8.3h-8.3zM304.7 194.6h8.3v8.3h-8.3zM320.1 194.6h8.3v8.3h-8.3zM281.7 202.3h8.3v8.3h-8.3zM297.1 202.3h8.3v8.3h-8.3zM327.7 202.3h20.3v8.3h-20.3zM151.3 210.0h8.3v8.3h-8.3zM281.7 210.0h8.3v8.3h-8.3zM312.4 210.0h8.3v8.3h-8.3zM343.1 210.0h4.9v8.3h-4.9zM289.4 217.7h8.3v8.3h-8.3zM327.7 217.7h15.9v8.3h-15.9zM335.4 225.4h8.3v8.3h-8.3zM274.1 233.1h8.3v8.3h-8.3zM304.7 233.1h8.3v8.3h-8.3zM297.1 240.8h8.3v8.3h-8.3zM335.4 240.8h8.3v8.3h-8.3zM289.4 248.4h8.3v8.3h-8.3zM335.4 248.4h8.3v8.3h-8.3zM274.1 256.1h8.3v8.3h-8.3zM289.4 256.1h8.3v8.3h-8.3zM304.7 256.1h8.3v8.3h-8.3zM327.7 256.1h15.9v8.3h-15.9zM266.4 271.5h23.6v8.3h-23.6zM312.4 271.5h8.3v8.3h-8.3zM59.3 279.1h8.3v8.3h-8.3zM74.6 279.1h8.3v8.3h-8.3zM258.7 279.1h15.9v8.3h-15.9zM281.7 279.1h8.3v8.3h-8.3zM74.6 286.8h8.3v8.3h-8.3zM243.4 286.8h8.3v8.3h-8.3zM59.3 294.4h8.3v8.2h-8.3zM281.7 294.4h8.3v8.2h-8.3zM297.1 294.4h8.3v8.2h-8.3zM243.4 302.1h8.3v8.2h-8.3z"/>
<path fill="#0080ff" d="M120.6 23.5h8.3v8.4h-8.3zM174.3 47.0h8.3v8.4h-8.3zM197.3 47.0h8.3v8.4h-8.3zM197.3 62.6h8.3v8.4h-8.3zM143.7 109.4h8.3v8.4h-8.3zM151.3 117.1h8.3v8.4h-8.3zM151.3 132.7h8.3v8.4h-8.3zM136.0 140.4h8.3v8.3h-8.3zM128.3 148.2h8.3v8.3h-8.3zM174.3 148.2h8.3v8.3h-8.3zM120.6 163.7h8.3v8.3h-8.3zM143.7 171.4h8.3v8.3h-8.3zM182.0 194.6h8.3v8.3h-8.3zM197.3 225.4h8.3v8.3h-8.3zM159.0 256.1h8.3v8.3h-8.3zM151.3 263.8h8.3v8.3h-8.3zM189.7 286.8h8.3v8.3h-8.3zM136.0 302.1h8.3v8.2h-8.3zM197.3 302.1h8.3v8.2h-8.3zM74.6 340.2h8.3v8.2h-8.3z"/>
<path fill="#009eff" d="M128.3 23.5h8.3v8.4h-8.3zM151.3 23.5h8.3v8.4h-8.3zM182.0 39.2h8.3v8.4h-8.3zM120.6 171.4h8.3v8.3h-8.3zM205.0 217.7h8.3v8.3h-8.3zM136.0 240.8h8.3v8.3h-8.3zM159.0 271.5h8.3v8.3h-8.3zM174.3 279.1h8.3v8.3h-8.3zM189.7 294.4h8.3v8.2h-8.3zM44.0 325.0h8.3v8.2h-8.3zM13.3 332.6h8.3v8.2h-8.3zM51.6 340.2h8.3v8.2h-8.3zM128.3 340.2h8.3v8.2h-8.3z"/>
<path fill="#00d1ff" d="M143.7 23.5h8.3v8.4h-8.3zM182.0 78.2h8.3v8.4h-8.3zM136.0 117.1h8.3v8.4h-8.3zM174.3 155.9h8.3v8.3h-8.3zM174.3 194.6h8.3v8.3h-8.3zM205.0 248.4h8.3v8.3h-8.3zM120.6 263.8h8.3v8.3h-8.3zM67.0 332.6h8.3v8.2h-8.3z"/>
<path fill="#00a8ff" d="M228.0 31.4h8.3v8.4h-8.3zM159.0 179.1h8.3v8.3h-8.3zM166.7 194.6h8.3v8.3h-8.3zM143.7 240.8h8.3v8.3h-8.3zM151.3 256.1h8.3v8.3h-8.3z"/>
<path fill="#00bdff" d="M189.7 39.2h8.3v8.4h-8.3zM189.7 155.9h8.3v8.3h-8.3zM128.3 163.7h8.3v8.3h-8.3zM151.3 271.5h8.3v8.3h-8.3zM189.7 302.1h8.3v8.2h-8.3zM228.0 302.1h8.3v8.2h-8.3zM74.6 332.6h8.3v8.2h-8.3zM151.3 355.5h8.3v8.2h-8.3z"/>
<path fill="#00f0ff" d="M182.0 47.0h8.3v8.4h-8.3zM174.3 70.4h8.3v8.4h-8.3zM151.3 124.9h8.3v8.4h-8.3zM174.3 171.4h8.3v8.3h-8.3zM166.7 179.1h8.3v8.3h-8.3zM143.7 248.4h8.3v8.3h-8.3zM182.0 286.8h8.3v8.3h-8.3z"/>
<path fill="#42ffbd" d="M189.7 47.0h8.3v8.4h-8.3zM189.7 62.6h8.3v8.4h-8.3zM197.3 163.7h8.3v8.3h-8.3zM197.3 171.4h8.3v8.3h-8.3zM182.0 186.8h8.3v8.3h-8.3zM128.3 240.8h8.3v8.3h-8.3z"/>
<path fill="#00c7ff" d="M174.3 54.8h8.3v8.4h-8.3zM136.0 132.7h8.3v8.4h-8.3zM197.3 155.9h8.3v8.3h-8.3zM205.0 225.4h8.3v8.3h-8.3zM113.0 263.8h8.3v8.3h-8.3zM159.0 279.1h8.3v8.3h-8.3zM105.3 347.8h15.9v8.2h-15.9z"/>
<path fill="#05fffa" d="M182.0 54.8h8.3v8.4h-8.3zM189.7 70.4h8.3v8.4h-8.3zM189.7 78.2h8.3v8.4h-8.3zM143.7 124.9h8.3v8.4h-8.3zM120.6 256.1h8.3v8.3h-8.3zM143.7 256.1h8.3v8.3h-8.3zM120.6 271.5h8.3v8.3h-8.3zM174.3 286.8h8.3v8.3h-8.3zM36.3 325.0h8.3v8.2h-8.3zM44.0 332.6h8.3v8.2h-8.3zM59.3 340.2h8.3v8.2h-8.3z"/>
<path fill="#00e5ff" d="M189.7 54.8h8.3v8.4h-8.3zM174.3 62.6h8.3v8.4h-8.3zM174.3 78.2h8.3v8.4h-8.3zM128.3 171.4h8.3v8.3h-8.3zM197.3 186.8h8.3v8.3h-8.3zM113.0 256.1h8.3v8.3h-8.3zM136.0 256.1h8.3v8.3h-8.3zM113.0 309.7h8.3v8.2h-8.3z"/>
<path fill="#00b2ff" d="M197.3 54.8h8.3v8.4h-8.3zM159.0 124.9h8.3v8.4h-8.3zM128.3 155.9h8.3v8.3h-8.3zM136.0 163.7h8.3v8.3h-8.3zM159.0 286.8h8.3v8.3h-8.3zM151.3 294.4h8.3v8.2h-8.3zM36.3 340.2h8.3v8.2h-8.3zM136.0 355.5h8.3v8.2h-8.3z"/>
<path fill="#0075ff" d="M166.7 62.6h8.3v8.4h-8.3zM197.3 78.2h8.3v8.4h-8.3zM182.0 93.8h15.9v8.4h-15.9zM120.6 117.1h8.3v8.4h-8.3zM159.0 132.7h8.3v8.4h-8.3zM205.0 148.2h8.3v8.3h-8.3zM166.7 171.4h8.3v8.3h-8.3zM136.0 179.1h8.3v8.3h-8.3zM212.7 179.1h8.3v8.3h-8.3zM205.0 194.6h8.3v8.3h-8.3zM159.0 240.8h8.3v8.3h-8.3zM113.0 271.5h8.3v8.3h-8.3zM166.7 279.1h8.3v8.3h-8.3zM189.7 279.1h8.3v8.3h-8.3z"/>
<path fill="#57ffa8" d="M182.0 62.6h8.3v8.4h-8.3zM136.0 248.4h8.3v8.3h-8.3zM166.7 286.8h8.3v8.3h-8.3zM105.3 309.7h8.3v8.2h-8.3z"/>
<path fill="#61ff9e" d="M182.0 70.4h8.3v8.4h-8.3zM113.0 317.4h8.3v8.2h-8.3z"/>
<path fill="#00dbff" d="M182.0 86.0h8.3v8.4h-8.3zM128.3 117.1h8.3v8.4h-8.3zM182.0 155.9h8.3v8.3h-8.3zM205.0 163.7h8.3v8.3h-8.3zM120.6 240.8h8.3v8.3h-8.3zM151.3 248.4h8.3v8.3h-8.3zM120.6 294.4h8.3v8.2h-8.3zM120.6 317.4h8.3v8.2h-8.3zM128.3 332.6h8.3v8.2h-8.3z"/>
<path fill="#008aff" d="M189.7 86.0h8.3v8.4h-8.3zM136.0 109.4h8.3v8.4h-8.3zM151.3 109.4h8.3v8.4h-8.3zM159.0 171.4h8.3v8.3h-8.3zM212.7 171.4h8.3v8.3h-8.3zM205.0 186.8h8.3v8.3h-8.3zM151.3 240.8h8.3v8.3h-8.3zM197.3 309.7h8.3v8.2h-8.3zM212.7 309.7h8.3v8.2h-8.3z"/>
<path fill="#1affe5" d="M143.7 117.1h8.3v8.4h-8.3zM174.3 163.7h8.3v8.3h-8.3zM128.3 263.8h23.6v8.3h-23.6zM28.6 325.0h8.3v8.2h-8.3zM67.0 340.2h8.3v8.2h-8.3z"/>
<path fill="#0000b2" d="M343.1 117.1h4.9v8.4h-4.9zM297.1 124.9h8.3v8.4h-8.3zM335.4 124.9h8.3v8.4h-8.3zM304.7 132.7h8.3v8.4h-8.3zM343.1 132.7h4.9v8.4h-4.9zM312.4 148.2h8.3v8.3h-8.3zM343.1 148.2h4.9v8.3h-4.9zM266.4 186.8h8.3v8.3h-8.3zM289.4 194.6h15.9v8.3h-15.9zM327.7 194.6h8.3v8.3h-8.3zM289.4 202.3h8.3v8.3h-8.3zM304.7 202.3h15.9v8.3h-15.9zM289.4 210.0h8.3v8.3h-8.3zM320.1 210.0h8.3v8.3h-8.3zM297.1 225.4h8.3v8.3h-8.3zM320.1 225.4h15.9v8.3h-15.9zM297.1 233.1h8.3v8.3h-8.3zM312.4 233.1h23.6v8.3h-23.6zM343.1 233.1h4.9v8.3h-4.9zM312.4 240.8h8.3v8.3h-8.3zM343.1 240.8h4.9v8.3h-4.9zM343.1 248.4h4.9v8.3h-4.9zM297.1 256.1h8.3v8.3h-8.3zM266.4 263.8h8.3v8.3h-8.3zM281.7 263.8h8.3v8.3h-8.3zM320.1 263.8h8.3v8.3h-8.3zM335.4 263.8h12.6v8.3h-12.6zM335.4 271.5h12.6v8.3h-12.6zM289.4 279.1h8.3v8.3h-8.3zM320.1 286.8h8.3v8.3h-8.3zM343.1 286.8h4.9v8.3h-4.9zM44.0 294.4h8.3v8.2h-8.3zM74.6 294.4h8.3v8.2h-8.3zM335.4 294.4h8.3v8.2h-8.3zM67.0 302.1h15.9v8.2h-15.9zM312.4 302.1h8.3v8.2h-8.3z"/>
<path fill="#0ffff0" d="M128.3 124.9h8.3v8.4h-8.3zM159.0 186.8h8.3v8.3h-8.3zM189.7 186.8h8.3v8.3h-8.3zM151.3 286.8h8.3v8.3h-8.3zM159.0 294.4h8.3v8.2h-8.3zM220.4 309.7h8.3v8.2h-8.3zM28.6 332.6h8.3v8.2h-8.3zM151.3 347.8h8.3v8.2h-8.3z"/>
<path fill="#24ffdb" d="M136.0 124.9h8.3v8.4h-8.3zM205.0 171.4h8.3v8.3h-8.3zM151.3 279.1h8.3v8.3h-8.3zM20.9 332.6h8.3v8.2h-8.3zM136.0 340.2h15.9v8.2h-15.9z"/>
<path fill="#0000a8" d="M266.4 124.9h8.3v8.4h-8.3zM289.4 140.4h15.9v8.3h-15.9zM343.1 140.4h4.9v8.3h-4.9zM274.1 148.2h8.3v8.3h-8.3zM304.7 148.2h8.3v8.3h-8.3zM281.7 155.9h8.3v8.3h-8.3zM320.1 163.7h8.3v8.3h-8.3zM251.0 171.4h8.3v8.3h-8.3zM281.7 171.4h8.3v8.3h-8.3zM304.7 171.4h8.3v8.3h-8.3zM289.4 179.1h8.3v8.3h-8.3zM289.4 186.8h8.3v8.3h-8.3zM304.7 186.8h8.3v8.3h-8.3zM320.1 202.3h8.3v8.3h-8.3zM343.1 217.7h4.9v8.3h-4.9zM274.1 225.4h8.3v8.3h-8.3zM304.7 225.4h8.3v8.3h-8.3zM281.7 240.8h8.3v8.3h-8.3zM281.7 248.4h8.3v8.3h-8.3zM320.1 248.4h8.3v8.3h-8.3zM281.7 256.1h8.3v8.3h-8.3zM312.4 256.1h8.3v8.3h-8.3zM304.7 263.8h8.3v8.3h-8.3zM67.0 271.5h8.3v8.3h-8.3zM297.1 271.5h8.3v8.3h-8.3zM274.1 279.1h8.3v8.3h-8.3zM67.0 286.8h8.3v8.3h-8.3zM274.1 286.8h8.3v8.3h-8.3zM312.4 286.8h8.3v8.3h-8.3zM266.4 294.4h8.3v8.2h-8.3zM312.4 294.4h8.3v8.2h-8.3zM59.3 302.1h8.3v8.2h-8.3zM251.0 302.1h8.3v8.2h-8.3zM297.1 302.1h8.3v8.2h-8.3z"/>
<path fill="#00009e" d="M289.4 124.9h8.3v8.4h-8.3zM343.1 124.9h4.9v8.4h-4.9zM320.1 179.1h8.3v8.3h-8.3zM312.4 186.8h15.9v8.3h-15.9zM281.7 194.6h8.3v8.3h-8.3zM335.4 194.6h8.3v8.3h-8.3zM312.4 217.7h8.3v8.3h-8.3zM289.4 225.4h8.3v8.3h-8.3zM289.4 233.1h8.3v8.3h-8.3zM320.1 240.8h8.3v8.3h-8.3zM327.7 271.5h8.3v8.3h-8.3zM343.1 294.4h4.9v8.2h-4.9z"/>
<path fill="#000094" d="M266.4 132.7h8.3v8.4h-8.3zM335.4 186.8h8.3v8.3h-8.3zM281.7 217.7h8.3v8.3h-8.3zM304.7 240.8h8.3v8.3h-8.3zM312.4 248.4h8.3v8.3h-8.3zM320.1 256.1h8.3v8.3h-8.3z"/>
<path fill="#ffdb00" d="M182.0 163.7h8.3v8.3h-8.3z"/>
<path fill="#94ff6b" d="M189.7 163.7h8.3v8.3h-8.3z"/>
<path fill="#80ff80" d="M182.0 171.4h8.3v8.3h-8.3zM174.3 179.1h8.3v8.3h-8.3zM59.3 332.6h8.3v8.2h-8.3z"/>
<path fill="#bdff42" d="M189.7 171.4h8.3v8.3h-8.3z"/>
<path fill="#dbff24" d="M182.0 179.1h8.3v8.3h-8.3zM136.0 294.4h8.3v8.2h-8.3z"/>
<path fill="#b3ff4c" d="M189.7 179.1h8.3v8.3h-8.3zM174.3 186.8h8.3v8.3h-8.3z"/>
<path fill="#4dffb2" d="M197.3 179.1h8.3v8.3h-8.3zM120.6 248.4h8.3v8.3h-8.3zM120.6 279.1h8.3v8.3h-8.3zM128.3 294.4h8.3v8.2h-8.3zM120.6 340.2h8.3v8.2h-8.3zM143.7 347.8h8.3v8.2h-8.3z"/>
<path fill="#2effd1" d="M166.7 186.8h8.3v8.3h-8.3zM120.6 286.8h8.3v8.3h-8.3zM182.0 294.4h8.3v8.2h-8.3z"/>
<path fill="#6bff94" d="M128.3 248.4h8.3v8.3h-8.3zM128.3 271.5h8.3v8.3h-8.3zM174.3 294.4h8.3v8.2h-8.3zM136.0 347.8h8.3v8.2h-8.3z"/>
<path fill="#38ffc7" d="M128.3 256.1h8.3v8.3h-8.3zM36.3 332.6h8.3v8.2h-8.3zM51.6 332.6h8.3v8.2h-8.3zM143.7 355.5h8.3v8.2h-8.3z"/>
<path fill="#a8ff57" d="M205.0 256.1h8.3v8.3h-8.3z"/>
<path fill="#c7ff38" d="M205.0 263.8h8.3v8.3h-8.3zM143.7 271.5h8.3v8.3h-8.3zM97.6 317.4h8.3v8.2h-8.3z"/>
<path fill="#faff05" d="M136.0 271.5h8.3v8.3h-8.3z"/>
<path fill="#fffa00" d="M205.0 271.5h8.3v8.3h-8.3z"/>
<path fill="#ffc700" d="M128.3 279.1h8.3v8.3h-8.3zM120.6 325.0h8.3v8.2h-8.3z"/>
<path fill="#ff0500" d="M136.0 279.1h8.3v8.3h-8.3z"/>
<path fill="#fa0000" d="M143.7 279.1h8.3v8.3h-8.3z"/>
<path fill="#ffbd00" d="M128.3 286.8h8.3v8.3h-8.3z"/>
<path fill="#e50000" d="M136.0 286.8h8.3v8.3h-8.3z"/>
<path fill="#ff6b00" d="M143.7 286.8h8.3v8.3h-8.3z"/>
<path fill="#8aff75" d="M143.7 294.4h8.3v8.2h-8.3z"/>
<path fill="#ffe500" d="M166.7 294.4h8.3v8.2h-8.3z"/>
<path fill="#75ff8a" d="M182.0 302.1h8.3v8.2h-8.3z"/>
<path fill="#ff7500" d="M105.3 317.4h8.3v8.2h-8.3zM105.3 340.2h8.3v8.2h-8.3z"/>
<path fill="#800000" d="M97.6 325.0h15.9v8.2h-15.9z"/>
<path fill="#c70000" d="M113.0 325.0h8.3v8.2h-8.3z"/>
<path fill="#ff4200" d="M97.6 332.6h8.3v8.2h-8.3z"/>
<path fill="#b30000" d="M105.3 332.6h8.3v8.2h-8.3z"/>
<path fill="#ff9e00" d="M113.0 332.6h8.3v8.2h-8.3z"/>
<path fill="#ff4c00" d="M120.6 332.6h8.3v8.2h-8.3z"/>
<path fill="#ffb300" d="M113.0 340.2h8.3v8.2h-8.3z"/>
</g>
<use href="#land"/>
<use href="#gridl" clip-path="url(#cpl)" opacity="0.55"/>
<g fill="none" stroke="#000" stroke-width="1" stroke-linejoin="round"><polyline points="184.7,162.1 190.1,169.6 199.7,177.1 197.6,180.4 186.8,179.3 173.9,176.1 169.6,169.6"/><text x="176.1" y="167.5" font-size="11" fill="#000" stroke="none" text-anchor="middle" transform="rotate(-40 176.1 167.5)">30</text><polyline points="136.3,278.5 144.9,276.8 148.1,289.3 140.6,302.2 135.2,307.5 126.6,304.3 123.4,293.6 126.6,282.8"/><text x="129.8" y="284.5" font-size="11" fill="#000" stroke="none" text-anchor="middle" transform="rotate(-55 129.8 284.5)">30</text><polyline points="98.6,332.3 105.1,323.7"/><polyline points="119.1,324.8 120.1,333.4 124.4,338.7 114.8,348.4 106.1,347.3"/><text x="110.5" y="326.9" font-size="11" fill="#000" stroke="none" text-anchor="middle" transform="rotate(5 110.5 326.9)">30</text><polyline points="135.2,345.2 143.8,353.8 151.3,356.0 148.1,345.2"/><text x="144.9" y="349.5" font-size="11" fill="#000" stroke="none" text-anchor="middle" transform="rotate(55 144.9 349.5)">30</text><polyline points="199.7,272.0 205.1,279.6 211.6,276.3"/><text x="204.0" y="267.7" font-size="11" fill="#000" stroke="none" text-anchor="middle" transform="rotate(-75 204.0 267.7)">30</text><polyline points="141.6,252.7 144.9,251.6 143.8,255.9 141.6,252.7"/><polyline points="162.7,300.4 167.5,297.9 166.4,303.9 162.7,300.4"/></g>
<use href="#sites"/>
</g>
<use href="#frame"/>
<text x="173.5" y="-12" text-anchor="middle" font-size="20.5" font-weight="bold">FitDif TotalErrors (30)</text>
<text x="36" y="-20" font-size="20.5" fill="#262626">cm/s</text>
<rect x="3.6" y="20.0" width="113.7" height="25.0" fill="url(#jet)" stroke="#262626" stroke-width="1"/>
<text x="3.0" y="7.2" text-anchor="middle" font-size="17" fill="#262626">0</text>
<text x="96.0" y="7.2" text-anchor="middle" font-size="17" fill="#262626">50</text>
<text x="284.0" y="37.0" font-size="20.5" fill="#000">10 km</text><line x1="307.0" y1="43.5" x2="320.5" y2="43.5" stroke="#000" stroke-width="3.2" stroke-linecap="round"/>
</g>
<g transform="translate(843.5,742.5)">
<use href="#axl"/>
<g clip-path="url(#cp)">
<use href="#gridl"/>
<g shape-rendering="crispEdges">
<path fill="#0044ff" d="M67.0 0.0h154.0v8.4h-154.0zM228.0 0.0h31.3v8.4h-31.3zM67.0 7.8h154.0v8.4h-154.0zM74.6 15.7h146.3v8.4h-146.3zM228.0 15.7h15.9v8.4h-15.9zM74.6 23.5h177.0v8.4h-177.0zM74.6 31.4h146.3v8.4h-146.3zM228.0 31.4h23.6v8.4h-23.6zM74.6 39.2h146.3v8.4h-146.3zM74.6 47.0h154.0v8.4h-154.0zM82.3 54.8h146.3v8.4h-146.3zM82.3 62.6h177.0v8.4h-177.0zM82.3 70.4h177.0v8.4h-177.0zM82.3 78.2h161.7v8.4h-161.7zM82.3 86.0h154.0v8.4h-154.0zM90.0 93.8h85.0v8.4h-85.0zM197.3 93.8h31.3v8.4h-31.3zM90.0 101.6h69.6v8.4h-69.6zM197.3 101.6h31.3v8.4h-31.3zM97.6 109.4h31.3v8.4h-31.3zM197.3 109.4h15.9v8.4h-15.9zM97.6 117.1h31.3v8.4h-31.3zM205.0 117.1h8.3v8.4h-8.3zM113.0 124.9h15.9v8.4h-15.9zM113.0 132.7h15.9v8.4h-15.9zM220.4 132.7h8.3v8.4h-8.3zM113.0 140.4h23.6v8.3h-23.6zM220.4 140.4h8.3v8.3h-8.3zM113.0 155.9h8.3v8.3h-8.3zM113.0 163.7h8.3v8.3h-8.3z"/>
<path fill="#0000a8" d="M220.4 0.0h8.3v8.4h-8.3zM258.7 0.0h89.3v8.4h-89.3zM220.4 7.8h127.6v8.4h-127.6zM220.4 15.7h8.3v8.4h-8.3zM243.4 15.7h104.6v8.4h-104.6zM251.0 23.5h97.0v8.4h-97.0zM220.4 31.4h8.3v8.4h-8.3zM251.0 31.4h97.0v8.4h-97.0zM220.4 39.2h127.6v8.4h-127.6zM228.0 47.0h120.0v8.4h-120.0zM228.0 54.8h120.0v8.4h-120.0zM258.7 62.6h89.3v8.4h-89.3zM258.7 70.4h89.3v8.4h-89.3zM258.7 78.2h89.3v8.4h-89.3zM258.7 86.0h89.3v8.4h-89.3zM258.7 93.8h89.3v8.4h-89.3zM258.7 101.6h89.3v8.4h-89.3zM266.4 109.4h69.6v8.4h-69.6zM274.1 117.1h8.3v8.4h-8.3zM297.1 117.1h39.0v8.4h-39.0zM97.6 124.9h15.9v8.4h-15.9zM235.7 124.9h15.9v8.4h-15.9zM304.7 124.9h31.3v8.4h-31.3zM105.3 132.7h8.3v8.4h-8.3zM243.4 132.7h8.3v8.4h-8.3zM312.4 132.7h23.6v8.4h-23.6zM105.3 140.4h8.3v8.3h-8.3zM312.4 140.4h31.3v8.3h-31.3zM105.3 148.2h23.6v8.3h-23.6zM220.4 148.2h8.3v8.3h-8.3zM320.1 148.2h23.6v8.3h-23.6zM228.0 155.9h8.3v8.3h-8.3zM320.1 155.9h23.6v8.3h-23.6zM320.1 163.7h23.6v8.3h-23.6zM327.7 171.4h15.9v8.3h-15.9z"/>
<path fill="#0088ff" d="M243.4 78.2h15.9v8.4h-15.9zM174.3 93.8h23.6v8.4h-23.6zM228.0 93.8h8.3v8.4h-8.3zM159.0 101.6h38.9v8.4h-38.9zM228.0 101.6h8.3v8.4h-8.3zM128.3 109.4h69.6v8.4h-69.6zM212.7 109.4h31.3v8.4h-31.3zM128.3 117.1h77.3v8.4h-77.3zM212.7 117.1h23.6v8.4h-23.6zM128.3 124.9h108.0v8.4h-108.0zM128.3 132.7h92.6v8.4h-92.6zM228.0 132.7h8.3v8.4h-8.3zM136.0 140.4h69.6v8.3h-69.6zM228.0 140.4h8.3v8.3h-8.3zM128.3 148.2h62.0v8.3h-62.0zM120.6 155.9h31.3v8.3h-31.3zM159.0 155.9h8.3v8.3h-8.3zM120.6 163.7h54.3v8.3h-54.3zM120.6 171.4h23.6v8.3h-23.6zM151.3 171.4h23.6v8.3h-23.6zM120.6 179.1h23.6v8.3h-23.6zM151.3 179.1h15.9v8.3h-15.9zM128.3 186.8h8.3v8.3h-8.3z"/>
<path fill="#0000ee" d="M235.7 86.0h23.6v8.4h-23.6zM235.7 93.8h23.6v8.4h-23.6zM235.7 101.6h23.6v8.4h-23.6zM243.4 109.4h23.6v8.4h-23.6zM335.4 109.4h12.6v8.4h-12.6zM235.7 117.1h39.0v8.4h-39.0zM281.7 117.1h15.9v8.4h-15.9zM335.4 117.1h12.6v8.4h-12.6zM251.0 124.9h54.3v8.4h-54.3zM335.4 124.9h12.6v8.4h-12.6zM235.7 132.7h8.3v8.4h-8.3zM251.0 132.7h62.0v8.4h-62.0zM335.4 132.7h12.6v8.4h-12.6zM205.0 140.4h15.9v8.3h-15.9zM235.7 140.4h77.3v8.3h-77.3zM343.1 140.4h4.9v8.3h-4.9zM189.7 148.2h31.3v8.3h-31.3zM228.0 148.2h92.6v8.3h-92.6zM343.1 148.2h4.9v8.3h-4.9zM151.3 155.9h8.3v8.3h-8.3zM166.7 155.9h62.0v8.3h-62.0zM235.7 155.9h85.0v8.3h-85.0zM343.1 155.9h4.9v8.3h-4.9zM174.3 163.7h146.3v8.3h-146.3zM343.1 163.7h4.9v8.3h-4.9zM143.7 171.4h8.3v8.3h-8.3zM174.3 171.4h154.0v8.3h-154.0zM343.1 171.4h4.9v8.3h-4.9zM143.7 179.1h8.3v8.3h-8.3zM166.7 179.1h181.3v8.3h-181.3zM120.6 186.8h8.3v8.3h-8.3zM136.0 186.8h212.0v8.3h-212.0zM120.6 194.6h227.4v8.3h-227.4zM120.6 202.3h227.4v8.3h-227.4zM128.3 210.0h15.9v8.3h-15.9zM151.3 210.0h196.7v8.3h-196.7zM159.0 217.7h189.0v8.3h-189.0zM166.7 225.4h181.3v8.3h-181.3zM166.7 233.1h38.9v8.3h-38.9zM212.7 233.1h135.3v8.3h-135.3zM174.3 240.8h23.6v8.3h-23.6zM235.7 240.8h112.3v8.3h-112.3zM174.3 248.4h23.6v8.3h-23.6zM251.0 248.4h97.0v8.3h-97.0zM182.0 256.1h23.6v8.3h-23.6zM258.7 256.1h89.3v8.3h-89.3zM182.0 263.8h23.6v8.3h-23.6zM258.7 263.8h89.3v8.3h-89.3zM197.3 271.5h8.3v8.3h-8.3zM251.0 271.5h97.0v8.3h-97.0zM251.0 279.1h97.0v8.3h-97.0zM235.7 286.8h112.3v8.3h-112.3zM182.0 294.4h8.3v8.2h-8.3zM235.7 294.4h23.6v8.2h-23.6zM266.4 294.4h23.6v8.2h-23.6zM297.1 294.4h23.6v8.2h-23.6zM327.7 294.4h20.3v8.2h-20.3zM182.0 302.1h23.6v8.2h-23.6zM235.7 302.1h92.6v8.2h-92.6zM182.0 309.7h23.6v8.2h-23.6zM228.0 309.7h23.6v8.2h-23.6zM197.3 317.4h46.6v8.2h-46.6zM182.0 325.0h54.3v8.2h-54.3zM182.0 332.6h38.9v8.2h-38.9zM182.0 340.2h23.6v8.2h-23.6z"/>
<path fill="#0000c8" d="M120.6 210.0h8.3v8.3h-8.3zM120.6 217.7h15.9v8.3h-15.9zM120.6 225.4h15.9v8.3h-15.9zM128.3 233.1h8.3v8.3h-8.3zM220.4 240.8h15.9v8.3h-15.9zM220.4 248.4h31.3v8.3h-31.3zM228.0 256.1h31.3v8.3h-31.3zM228.0 263.8h31.3v8.3h-31.3zM182.0 271.5h8.3v8.3h-8.3zM228.0 271.5h23.6v8.3h-23.6zM228.0 279.1h23.6v8.3h-23.6zM228.0 286.8h8.3v8.3h-8.3zM258.7 294.4h8.3v8.2h-8.3zM289.4 294.4h8.3v8.2h-8.3zM320.1 294.4h8.3v8.2h-8.3zM174.3 302.1h8.3v8.2h-8.3zM343.1 302.1h4.9v8.2h-4.9zM174.3 309.7h8.3v8.2h-8.3zM205.0 309.7h8.3v8.2h-8.3zM251.0 309.7h77.3v8.2h-77.3zM343.1 309.7h4.9v8.2h-4.9zM174.3 317.4h23.6v8.2h-23.6zM243.4 317.4h85.0v8.2h-85.0zM343.1 317.4h4.9v8.2h-4.9zM235.7 325.0h85.0v8.2h-85.0zM220.4 332.6h100.3v8.2h-100.3zM205.0 340.2h108.0v8.2h-108.0zM174.3 347.8h138.7v8.2h-138.7zM120.6 355.5h8.3v8.2h-8.3zM197.3 355.5h108.0v8.2h-108.0zM113.0 363.1h38.9v8.2h-38.9zM197.3 363.1h100.3v8.2h-100.3zM105.3 370.7h46.6v8.2h-46.6zM205.0 370.7h92.6v8.2h-92.6zM128.3 378.3h15.9v8.2h-15.9zM228.0 378.3h62.0v8.2h-62.0zM212.7 385.9h69.6v8.2h-69.6zM212.7 393.4h31.3v8.2h-31.3zM251.0 393.4h15.9v8.2h-15.9zM97.6 401.0h8.3v8.2h-8.3zM212.7 401.0h23.6v8.2h-23.6zM90.0 408.6h23.6v8.2h-23.6zM143.7 408.6h15.9v8.2h-15.9zM90.0 416.2h23.6v8.2h-23.6zM136.0 416.2h23.6v8.2h-23.6zM189.7 416.2h23.6v8.2h-23.6zM97.6 423.7h15.9v3.8h-15.9zM136.0 423.7h23.6v3.8h-23.6zM189.7 423.7h23.6v3.8h-23.6z"/>
<path fill="#28ffd7" d="M143.7 210.0h8.3v8.3h-8.3zM136.0 217.7h23.6v8.3h-23.6zM136.0 225.4h31.3v8.3h-31.3zM151.3 233.1h15.9v8.3h-15.9zM205.0 233.1h8.3v8.3h-8.3zM159.0 240.8h15.9v8.3h-15.9zM197.3 240.8h23.6v8.3h-23.6zM159.0 248.4h15.9v8.3h-15.9zM197.3 248.4h23.6v8.3h-23.6zM159.0 256.1h23.6v8.3h-23.6zM205.0 256.1h8.3v8.3h-8.3zM159.0 263.8h23.6v8.3h-23.6zM205.0 263.8h8.3v8.3h-8.3zM189.7 271.5h8.3v8.3h-8.3zM205.0 271.5h8.3v8.3h-8.3zM189.7 294.4h15.9v8.2h-15.9zM228.0 294.4h8.3v8.2h-8.3zM228.0 302.1h8.3v8.2h-8.3zM212.7 309.7h15.9v8.2h-15.9z"/>
<path fill="#00ffff" d="M120.6 233.1h8.3v8.3h-8.3zM120.6 240.8h8.3v8.3h-8.3zM120.6 248.4h8.3v8.3h-8.3zM120.6 256.1h8.3v8.3h-8.3zM212.7 256.1h15.9v8.3h-15.9zM212.7 263.8h15.9v8.3h-15.9zM159.0 271.5h23.6v8.3h-23.6zM212.7 271.5h15.9v8.3h-15.9zM159.0 279.1h69.6v8.3h-69.6zM159.0 286.8h69.6v8.3h-69.6zM151.3 294.4h31.3v8.2h-31.3zM205.0 294.4h23.6v8.2h-23.6zM151.3 302.1h23.6v8.2h-23.6zM205.0 302.1h23.6v8.2h-23.6zM128.3 309.7h46.6v8.2h-46.6zM128.3 317.4h46.6v8.2h-46.6zM120.6 325.0h62.0v8.2h-62.0zM128.3 332.6h54.3v8.2h-54.3zM120.6 340.2h62.0v8.2h-62.0zM105.3 347.8h62.0v8.2h-62.0zM97.6 355.5h23.6v8.2h-23.6zM128.3 355.5h31.3v8.2h-31.3zM97.6 363.1h15.9v8.2h-15.9zM151.3 363.1h8.3v8.2h-8.3zM97.6 370.7h8.3v8.2h-8.3z"/>
<path fill="#ffc400" d="M136.0 233.1h8.3v8.3h-8.3zM128.3 240.8h15.9v8.3h-15.9z"/>
<path fill="#aa0000" d="M143.7 233.1h8.3v8.3h-8.3zM143.7 240.8h8.3v8.3h-8.3zM128.3 248.4h15.9v8.3h-15.9zM105.3 256.1h15.9v8.3h-15.9zM128.3 256.1h23.6v8.3h-23.6zM105.3 263.8h46.6v8.3h-46.6zM105.3 271.5h54.3v8.3h-54.3zM113.0 279.1h46.6v8.3h-46.6zM113.0 286.8h46.6v8.3h-46.6zM128.3 294.4h23.6v8.2h-23.6zM128.3 302.1h23.6v8.2h-23.6zM113.0 309.7h15.9v8.2h-15.9zM113.0 317.4h15.9v8.2h-15.9zM113.0 325.0h8.3v8.2h-8.3zM105.3 332.6h23.6v8.2h-23.6zM105.3 340.2h15.9v8.2h-15.9z"/>
<path fill="#880000" d="M151.3 240.8h8.3v8.3h-8.3zM143.7 248.4h15.9v8.3h-15.9zM151.3 256.1h8.3v8.3h-8.3zM151.3 263.8h8.3v8.3h-8.3z"/>
<path fill="#ee0000" d="M90.0 256.1h15.9v8.3h-15.9zM90.0 263.8h15.9v8.3h-15.9zM67.0 271.5h15.9v8.3h-15.9zM97.6 271.5h8.3v8.3h-8.3zM59.3 279.1h23.6v8.3h-23.6zM97.6 279.1h15.9v8.3h-15.9zM51.6 286.8h38.9v8.3h-38.9zM97.6 286.8h15.9v8.3h-15.9zM44.0 294.4h46.6v8.2h-46.6zM105.3 294.4h23.6v8.2h-23.6zM59.3 302.1h23.6v8.2h-23.6zM105.3 302.1h23.6v8.2h-23.6zM105.3 309.7h8.3v8.2h-8.3zM97.6 317.4h15.9v8.2h-15.9zM20.9 325.0h31.3v8.2h-31.3zM97.6 325.0h15.9v8.2h-15.9zM13.3 332.6h69.6v8.2h-69.6zM97.6 332.6h8.3v8.2h-8.3zM28.6 340.2h54.3v8.2h-54.3zM51.6 347.8h31.3v8.2h-31.3zM67.0 355.5h15.9v8.2h-15.9z"/>
<path fill="#e0ff20" d="M82.3 263.8h8.3v8.3h-8.3zM82.3 271.5h15.9v8.3h-15.9zM82.3 279.1h15.9v8.3h-15.9zM20.9 340.2h8.3v8.2h-8.3zM20.9 347.8h31.3v8.2h-31.3z"/>
<path fill="#00a8ff" d="M90.0 286.8h8.3v8.3h-8.3zM90.0 294.4h15.9v8.2h-15.9zM36.3 302.1h23.6v8.2h-23.6zM82.3 302.1h23.6v8.2h-23.6zM28.6 309.7h77.3v8.2h-77.3zM20.9 317.4h77.3v8.2h-77.3zM13.3 325.0h8.3v8.2h-8.3zM51.6 325.0h46.6v8.2h-46.6zM82.3 332.6h15.9v8.2h-15.9zM82.3 340.2h23.6v8.2h-23.6zM82.3 347.8h23.6v8.2h-23.6zM166.7 347.8h8.3v8.2h-8.3zM51.6 355.5h15.9v8.2h-15.9zM82.3 355.5h15.9v8.2h-15.9zM159.0 355.5h15.9v8.2h-15.9zM5.6 363.1h8.3v8.2h-8.3zM51.6 363.1h46.6v8.2h-46.6zM159.0 363.1h15.9v8.2h-15.9zM5.6 370.7h8.3v8.2h-8.3zM51.6 370.7h46.6v8.2h-46.6zM5.6 378.3h15.9v8.2h-15.9zM44.0 378.3h38.9v8.2h-38.9zM5.6 385.9h15.9v8.2h-15.9zM44.0 385.9h31.3v8.2h-31.3zM44.0 393.4h31.3v8.2h-31.3z"/>
<path fill="#000084" d="M327.7 302.1h15.9v8.2h-15.9zM327.7 309.7h15.9v8.2h-15.9zM327.7 317.4h15.9v8.2h-15.9zM320.1 325.0h27.9v8.2h-27.9zM320.1 332.6h27.9v8.2h-27.9zM5.6 340.2h15.9v8.2h-15.9zM312.4 340.2h35.6v8.2h-35.6zM5.6 347.8h15.9v8.2h-15.9zM312.4 347.8h35.6v8.2h-35.6zM5.6 355.5h46.6v8.2h-46.6zM174.3 355.5h23.6v8.2h-23.6zM304.7 355.5h43.3v8.2h-43.3zM13.3 363.1h39.0v8.2h-39.0zM174.3 363.1h23.6v8.2h-23.6zM297.1 363.1h50.9v8.2h-50.9zM13.3 370.7h39.0v8.2h-39.0zM151.3 370.7h54.3v8.2h-54.3zM297.1 370.7h50.9v8.2h-50.9zM20.9 378.3h23.6v8.2h-23.6zM82.3 378.3h46.6v8.2h-46.6zM143.7 378.3h85.0v8.2h-85.0zM289.4 378.3h58.6v8.2h-58.6zM20.9 385.9h23.6v8.2h-23.6zM74.6 385.9h138.7v8.2h-138.7zM281.7 385.9h66.3v8.2h-66.3zM5.6 393.4h39.0v8.2h-39.0zM74.6 393.4h138.7v8.2h-138.7zM243.4 393.4h8.3v8.2h-8.3zM266.4 393.4h81.6v8.2h-81.6zM5.6 401.0h92.6v8.2h-92.6zM105.3 401.0h108.0v8.2h-108.0zM235.7 401.0h112.3v8.2h-112.3zM5.6 408.6h85.0v8.2h-85.0zM113.0 408.6h31.3v8.2h-31.3zM159.0 408.6h189.0v8.2h-189.0zM5.6 416.2h85.0v8.2h-85.0zM113.0 416.2h23.6v8.2h-23.6zM159.0 416.2h31.3v8.2h-31.3zM212.7 416.2h135.3v8.2h-135.3zM5.6 423.7h92.6v3.8h-92.6zM113.0 423.7h23.6v3.8h-23.6zM159.0 423.7h31.3v3.8h-31.3zM212.7 423.7h135.3v3.8h-135.3z"/>
</g>
<use href="#land"/>
<use href="#gridl" clip-path="url(#cpl)" opacity="0.55"/>

<use href="#sites"/>
</g>
<use href="#frame"/>
<text x="173" y="-12" text-anchor="middle" font-size="25" font-weight="bold">Site Codes</text>
<rect x="3.6" y="20.0" width="113.7" height="25.0" fill="url(#jet)" stroke="#262626" stroke-width="1"/>
<text x="3.0" y="7.2" text-anchor="middle" font-size="17" fill="#262626">0</text>
<text x="101.0" y="7.2" text-anchor="middle" font-size="17" fill="#262626">50</text>
<text x="284.0" y="37.0" font-size="20.5" fill="#000">10 km</text><line x1="307.0" y1="43.5" x2="320.5" y2="43.5" stroke="#000" stroke-width="3.2" stroke-linecap="round"/>
</g>
</svg></body></html>
